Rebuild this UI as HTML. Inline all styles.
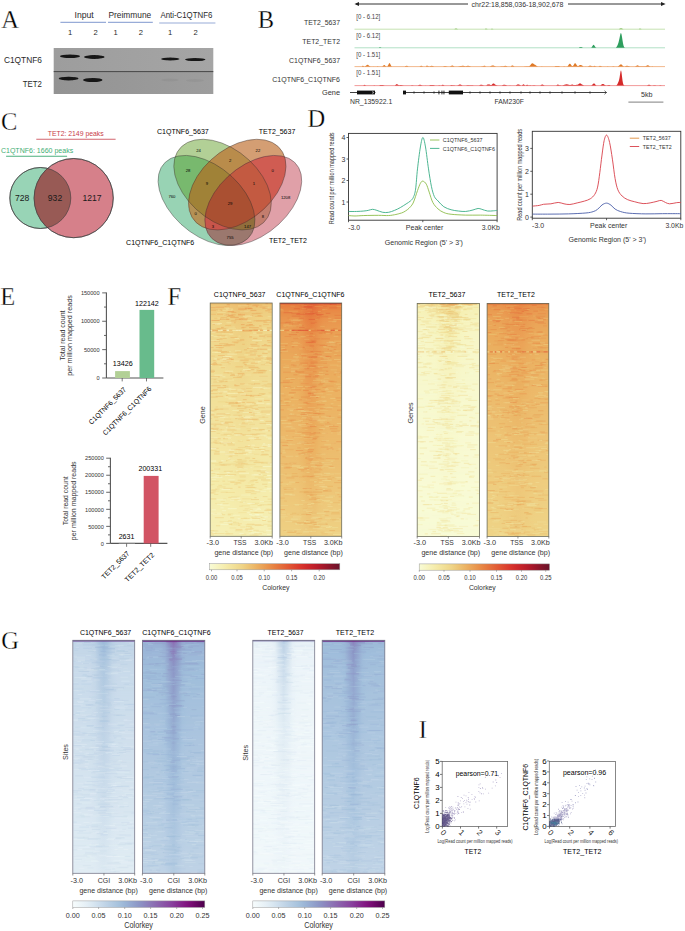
<!DOCTYPE html>
<html><head><meta charset="utf-8"><title>Figure</title>
<style>html,body{margin:0;padding:0;background:#fff;}svg{display:block;}</style>
</head><body>
<svg width="685" height="931" viewBox="0 0 685 931" font-family="Liberation Sans, sans-serif">
<defs>
<filter id="bl" x="-20%" y="-50%" width="140%" height="200%"><feGaussianBlur stdDeviation="0.6"/></filter>
<linearGradient id="blotT" x1="0" y1="0" x2="1" y2="0"><stop offset="0" stop-color="#9d9d9d"/><stop offset="0.5" stop-color="#a1a1a1"/><stop offset="1" stop-color="#a5a5a5"/></linearGradient>
<linearGradient id="blotB" x1="0" y1="0" x2="1" y2="0"><stop offset="0" stop-color="#939393"/><stop offset="0.5" stop-color="#989898"/><stop offset="1" stop-color="#9d9d9d"/></linearGradient>
<clipPath id="cg"><circle cx="40.3" cy="198" r="30.5"/></clipPath>
<clipPath id="vc1"><ellipse cx="0" cy="0" rx="58.2" ry="36.1" transform="translate(206.5 200.45) scale(1 0.93) rotate(45)"/></clipPath>
<clipPath id="vc2"><ellipse cx="0" cy="0" rx="58.2" ry="36.1" transform="translate(206.5 200.45) scale(1 0.93) rotate(45)"/></clipPath>
<clipPath id="vc3"><ellipse cx="0" cy="0" rx="58.2" ry="36.1" transform="translate(206.5 200.45) scale(1 0.93) rotate(45)"/></clipPath>
<clipPath id="vc4"><ellipse cx="0" cy="0" rx="57.9" ry="37.4" transform="translate(222.55 184.6) scale(1 0.93) rotate(45)"/></clipPath>
<clipPath id="vc5"><ellipse cx="0" cy="0" rx="57.9" ry="37.4" transform="translate(222.55 184.6) scale(1 0.93) rotate(45)"/></clipPath>
<clipPath id="vc6"><ellipse cx="0" cy="0" rx="57.9" ry="37.4" transform="translate(237.25 184.6) scale(1 0.93) rotate(-45)"/></clipPath>
<clipPath id="vc7"><ellipse cx="0" cy="0" rx="58.2" ry="36.1" transform="translate(206.5 200.45) scale(1 0.93) rotate(45)"/></clipPath>
<clipPath id="vc8" clip-path="url(#vc7)"><ellipse cx="0" cy="0" rx="57.9" ry="37.4" transform="translate(222.55 184.6) scale(1 0.93) rotate(45)"/></clipPath>
<clipPath id="vc9"><ellipse cx="0" cy="0" rx="58.2" ry="36.1" transform="translate(206.5 200.45) scale(1 0.93) rotate(45)"/></clipPath>
<clipPath id="vc10" clip-path="url(#vc9)"><ellipse cx="0" cy="0" rx="57.9" ry="37.4" transform="translate(222.55 184.6) scale(1 0.93) rotate(45)"/></clipPath>
<clipPath id="vc11"><ellipse cx="0" cy="0" rx="58.2" ry="36.1" transform="translate(206.5 200.45) scale(1 0.93) rotate(45)"/></clipPath>
<clipPath id="vc12" clip-path="url(#vc11)"><ellipse cx="0" cy="0" rx="57.9" ry="37.4" transform="translate(237.25 184.6) scale(1 0.93) rotate(-45)"/></clipPath>
<clipPath id="vc13"><ellipse cx="0" cy="0" rx="57.9" ry="37.4" transform="translate(222.55 184.6) scale(1 0.93) rotate(45)"/></clipPath>
<clipPath id="vc14" clip-path="url(#vc13)"><ellipse cx="0" cy="0" rx="57.9" ry="37.4" transform="translate(237.25 184.6) scale(1 0.93) rotate(-45)"/></clipPath>
<clipPath id="vc15"><ellipse cx="0" cy="0" rx="58.2" ry="36.1" transform="translate(206.5 200.45) scale(1 0.93) rotate(45)"/></clipPath>
<clipPath id="vc16" clip-path="url(#vc15)"><ellipse cx="0" cy="0" rx="57.9" ry="37.4" transform="translate(222.55 184.6) scale(1 0.93) rotate(45)"/></clipPath>
<clipPath id="vc17" clip-path="url(#vc16)"><ellipse cx="0" cy="0" rx="57.9" ry="37.4" transform="translate(237.25 184.6) scale(1 0.93) rotate(-45)"/></clipPath>
<linearGradient id="h1_0" x1="0" y1="0" x2="1" y2="0"><stop offset="0" stop-color="#ecb869"/><stop offset="0.07" stop-color="#ecb869"/><stop offset="0.14" stop-color="#ecb869"/><stop offset="0.21" stop-color="#ecb768"/><stop offset="0.29" stop-color="#ecb566"/><stop offset="0.36" stop-color="#ebb363"/><stop offset="0.43" stop-color="#ebb060"/><stop offset="0.5" stop-color="#ebaf5f"/><stop offset="0.57" stop-color="#ebb060"/><stop offset="0.64" stop-color="#ebb363"/><stop offset="0.71" stop-color="#ecb566"/><stop offset="0.79" stop-color="#ecb768"/><stop offset="0.86" stop-color="#ecb869"/><stop offset="0.93" stop-color="#ecb869"/><stop offset="1" stop-color="#ecb869"/></linearGradient>
<linearGradient id="h1_1" x1="0" y1="0" x2="1" y2="0"><stop offset="0" stop-color="#eec87a"/><stop offset="0.07" stop-color="#eec87a"/><stop offset="0.14" stop-color="#eec779"/><stop offset="0.21" stop-color="#eec778"/><stop offset="0.29" stop-color="#edc577"/><stop offset="0.36" stop-color="#edc274"/><stop offset="0.43" stop-color="#edc071"/><stop offset="0.5" stop-color="#edbe70"/><stop offset="0.57" stop-color="#edc071"/><stop offset="0.64" stop-color="#edc274"/><stop offset="0.71" stop-color="#edc577"/><stop offset="0.79" stop-color="#eec778"/><stop offset="0.86" stop-color="#eec779"/><stop offset="0.93" stop-color="#eec87a"/><stop offset="1" stop-color="#eec87a"/></linearGradient>
<linearGradient id="h1_2" x1="0" y1="0" x2="1" y2="0"><stop offset="0" stop-color="#eecc7f"/><stop offset="0.07" stop-color="#eecc7f"/><stop offset="0.14" stop-color="#eecc7e"/><stop offset="0.21" stop-color="#eecb7d"/><stop offset="0.29" stop-color="#eec97c"/><stop offset="0.36" stop-color="#eec779"/><stop offset="0.43" stop-color="#edc476"/><stop offset="0.5" stop-color="#edc375"/><stop offset="0.57" stop-color="#edc476"/><stop offset="0.64" stop-color="#eec779"/><stop offset="0.71" stop-color="#eec97c"/><stop offset="0.79" stop-color="#eecb7d"/><stop offset="0.86" stop-color="#eecc7e"/><stop offset="0.93" stop-color="#eecc7f"/><stop offset="1" stop-color="#eecc7f"/></linearGradient>
<linearGradient id="h1_3" x1="0" y1="0" x2="1" y2="0"><stop offset="0" stop-color="#efd285"/><stop offset="0.07" stop-color="#efd285"/><stop offset="0.14" stop-color="#efd184"/><stop offset="0.21" stop-color="#efd183"/><stop offset="0.29" stop-color="#eecf82"/><stop offset="0.36" stop-color="#eecd7f"/><stop offset="0.43" stop-color="#eeca7c"/><stop offset="0.5" stop-color="#eec97b"/><stop offset="0.57" stop-color="#eeca7c"/><stop offset="0.64" stop-color="#eecd7f"/><stop offset="0.71" stop-color="#eecf82"/><stop offset="0.79" stop-color="#efd183"/><stop offset="0.86" stop-color="#efd184"/><stop offset="0.93" stop-color="#efd285"/><stop offset="1" stop-color="#efd285"/></linearGradient>
<linearGradient id="h1_4" x1="0" y1="0" x2="1" y2="0"><stop offset="0" stop-color="#f0d68a"/><stop offset="0.07" stop-color="#efd68a"/><stop offset="0.14" stop-color="#efd68a"/><stop offset="0.21" stop-color="#efd589"/><stop offset="0.29" stop-color="#efd488"/><stop offset="0.36" stop-color="#efd285"/><stop offset="0.43" stop-color="#efd083"/><stop offset="0.5" stop-color="#eecf81"/><stop offset="0.57" stop-color="#efd083"/><stop offset="0.64" stop-color="#efd285"/><stop offset="0.71" stop-color="#efd488"/><stop offset="0.79" stop-color="#efd589"/><stop offset="0.86" stop-color="#efd68a"/><stop offset="0.93" stop-color="#efd68a"/><stop offset="1" stop-color="#f0d68a"/></linearGradient>
<linearGradient id="h1_5" x1="0" y1="0" x2="1" y2="0"><stop offset="0" stop-color="#f0da90"/><stop offset="0.07" stop-color="#f0da90"/><stop offset="0.14" stop-color="#f0da90"/><stop offset="0.21" stop-color="#f0d98f"/><stop offset="0.29" stop-color="#f0d88e"/><stop offset="0.36" stop-color="#f0d78c"/><stop offset="0.43" stop-color="#efd689"/><stop offset="0.5" stop-color="#efd589"/><stop offset="0.57" stop-color="#efd689"/><stop offset="0.64" stop-color="#f0d78c"/><stop offset="0.71" stop-color="#f0d88e"/><stop offset="0.79" stop-color="#f0d98f"/><stop offset="0.86" stop-color="#f0da90"/><stop offset="0.93" stop-color="#f0da90"/><stop offset="1" stop-color="#f0da90"/></linearGradient>
<linearGradient id="h1_6" x1="0" y1="0" x2="1" y2="0"><stop offset="0" stop-color="#f1de96"/><stop offset="0.07" stop-color="#f1de96"/><stop offset="0.14" stop-color="#f1de96"/><stop offset="0.21" stop-color="#f1de95"/><stop offset="0.29" stop-color="#f1dd94"/><stop offset="0.36" stop-color="#f1dc92"/><stop offset="0.43" stop-color="#f1da91"/><stop offset="0.5" stop-color="#f0da90"/><stop offset="0.57" stop-color="#f1da91"/><stop offset="0.64" stop-color="#f1dc92"/><stop offset="0.71" stop-color="#f1dd94"/><stop offset="0.79" stop-color="#f1de95"/><stop offset="0.86" stop-color="#f1de96"/><stop offset="0.93" stop-color="#f1de96"/><stop offset="1" stop-color="#f1de96"/></linearGradient>
<linearGradient id="h1_7" x1="0" y1="0" x2="1" y2="0"><stop offset="0" stop-color="#f3e49f"/><stop offset="0.07" stop-color="#f3e49f"/><stop offset="0.14" stop-color="#f3e49f"/><stop offset="0.21" stop-color="#f3e49f"/><stop offset="0.29" stop-color="#f3e39e"/><stop offset="0.36" stop-color="#f2e29c"/><stop offset="0.43" stop-color="#f2e19a"/><stop offset="0.5" stop-color="#f2e19a"/><stop offset="0.57" stop-color="#f2e19a"/><stop offset="0.64" stop-color="#f2e29c"/><stop offset="0.71" stop-color="#f3e39e"/><stop offset="0.79" stop-color="#f3e49f"/><stop offset="0.86" stop-color="#f3e49f"/><stop offset="0.93" stop-color="#f3e49f"/><stop offset="1" stop-color="#f3e49f"/></linearGradient>
<linearGradient id="h1_8" x1="0" y1="0" x2="1" y2="0"><stop offset="0" stop-color="#f4eba9"/><stop offset="0.07" stop-color="#f4eba9"/><stop offset="0.14" stop-color="#f4eba9"/><stop offset="0.21" stop-color="#f4eaa8"/><stop offset="0.29" stop-color="#f4eaa7"/><stop offset="0.36" stop-color="#f4e9a6"/><stop offset="0.43" stop-color="#f4e8a5"/><stop offset="0.5" stop-color="#f4e8a4"/><stop offset="0.57" stop-color="#f4e8a5"/><stop offset="0.64" stop-color="#f4e9a6"/><stop offset="0.71" stop-color="#f4eaa7"/><stop offset="0.79" stop-color="#f4eaa8"/><stop offset="0.86" stop-color="#f4eba9"/><stop offset="0.93" stop-color="#f4eba9"/><stop offset="1" stop-color="#f4eba9"/></linearGradient>
<linearGradient id="h1_9" x1="0" y1="0" x2="1" y2="0"><stop offset="0" stop-color="#f6f0b6"/><stop offset="0.07" stop-color="#f6f0b6"/><stop offset="0.14" stop-color="#f6f0b6"/><stop offset="0.21" stop-color="#f6f0b6"/><stop offset="0.29" stop-color="#f6f0b5"/><stop offset="0.36" stop-color="#f6f0b4"/><stop offset="0.43" stop-color="#f6efb3"/><stop offset="0.5" stop-color="#f6efb3"/><stop offset="0.57" stop-color="#f6efb3"/><stop offset="0.64" stop-color="#f6f0b4"/><stop offset="0.71" stop-color="#f6f0b5"/><stop offset="0.79" stop-color="#f6f0b6"/><stop offset="0.86" stop-color="#f6f0b6"/><stop offset="0.93" stop-color="#f6f0b6"/><stop offset="1" stop-color="#f6f0b6"/></linearGradient>
<linearGradient id="m1_8" gradientUnits="userSpaceOnUse" x1="0" y1="477.97" x2="0" y2="536.3"><stop offset="0" stop-color="#fff"/><stop offset="1" stop-color="#000"/></linearGradient><mask id="k1_8" maskUnits="userSpaceOnUse" x="210.2" y="303" width="62" height="233.3"><rect x="210.2" y="303" width="62" height="233.3" fill="url(#m1_8)"/></mask>
<linearGradient id="m1_7" gradientUnits="userSpaceOnUse" x1="0" y1="431.31" x2="0" y2="477.97"><stop offset="0" stop-color="#fff"/><stop offset="1" stop-color="#000"/></linearGradient><mask id="k1_7" maskUnits="userSpaceOnUse" x="210.2" y="303" width="62" height="233.3"><rect x="210.2" y="303" width="62" height="174.97" fill="url(#m1_7)"/></mask>
<linearGradient id="m1_6" gradientUnits="userSpaceOnUse" x1="0" y1="386.99" x2="0" y2="431.31"><stop offset="0" stop-color="#fff"/><stop offset="1" stop-color="#000"/></linearGradient><mask id="k1_6" maskUnits="userSpaceOnUse" x="210.2" y="303" width="62" height="233.3"><rect x="210.2" y="303" width="62" height="128.31" fill="url(#m1_6)"/></mask>
<linearGradient id="m1_5" gradientUnits="userSpaceOnUse" x1="0" y1="354.33" x2="0" y2="386.99"><stop offset="0" stop-color="#fff"/><stop offset="1" stop-color="#000"/></linearGradient><mask id="k1_5" maskUnits="userSpaceOnUse" x="210.2" y="303" width="62" height="233.3"><rect x="210.2" y="303" width="62" height="83.99" fill="url(#m1_5)"/></mask>
<linearGradient id="m1_4" gradientUnits="userSpaceOnUse" x1="0" y1="331" x2="0" y2="354.33"><stop offset="0" stop-color="#fff"/><stop offset="1" stop-color="#000"/></linearGradient><mask id="k1_4" maskUnits="userSpaceOnUse" x="210.2" y="303" width="62" height="233.3"><rect x="210.2" y="303" width="62" height="51.33" fill="url(#m1_4)"/></mask>
<linearGradient id="m1_3" gradientUnits="userSpaceOnUse" x1="0" y1="317" x2="0" y2="331"><stop offset="0" stop-color="#fff"/><stop offset="1" stop-color="#000"/></linearGradient><mask id="k1_3" maskUnits="userSpaceOnUse" x="210.2" y="303" width="62" height="233.3"><rect x="210.2" y="303" width="62" height="28" fill="url(#m1_3)"/></mask>
<linearGradient id="m1_2" gradientUnits="userSpaceOnUse" x1="0" y1="310" x2="0" y2="317"><stop offset="0" stop-color="#fff"/><stop offset="1" stop-color="#000"/></linearGradient><mask id="k1_2" maskUnits="userSpaceOnUse" x="210.2" y="303" width="62" height="233.3"><rect x="210.2" y="303" width="62" height="14" fill="url(#m1_2)"/></mask>
<linearGradient id="m1_1" gradientUnits="userSpaceOnUse" x1="0" y1="305.33" x2="0" y2="310"><stop offset="0" stop-color="#fff"/><stop offset="1" stop-color="#000"/></linearGradient><mask id="k1_1" maskUnits="userSpaceOnUse" x="210.2" y="303" width="62" height="233.3"><rect x="210.2" y="303" width="62" height="7" fill="url(#m1_1)"/></mask>
<linearGradient id="m1_0" gradientUnits="userSpaceOnUse" x1="0" y1="303" x2="0" y2="305.33"><stop offset="0" stop-color="#fff"/><stop offset="1" stop-color="#000"/></linearGradient><mask id="k1_0" maskUnits="userSpaceOnUse" x="210.2" y="303" width="62" height="233.3"><rect x="210.2" y="303" width="62" height="2.33" fill="url(#m1_0)"/></mask>
<linearGradient id="h2_0" x1="0" y1="0" x2="1" y2="0"><stop offset="0" stop-color="#e25a34"/><stop offset="0.07" stop-color="#e25a34"/><stop offset="0.14" stop-color="#e25a34"/><stop offset="0.21" stop-color="#e25a34"/><stop offset="0.29" stop-color="#e15733"/><stop offset="0.36" stop-color="#e05132"/><stop offset="0.43" stop-color="#dd462f"/><stop offset="0.5" stop-color="#dc402e"/><stop offset="0.57" stop-color="#dd462f"/><stop offset="0.64" stop-color="#e05132"/><stop offset="0.71" stop-color="#e15733"/><stop offset="0.79" stop-color="#e25a34"/><stop offset="0.86" stop-color="#e25a34"/><stop offset="0.93" stop-color="#e25a34"/><stop offset="1" stop-color="#e25a34"/></linearGradient>
<linearGradient id="h2_1" x1="0" y1="0" x2="1" y2="0"><stop offset="0" stop-color="#e77f41"/><stop offset="0.07" stop-color="#e77f41"/><stop offset="0.14" stop-color="#e77f41"/><stop offset="0.21" stop-color="#e77f41"/><stop offset="0.29" stop-color="#e77d40"/><stop offset="0.36" stop-color="#e6763e"/><stop offset="0.43" stop-color="#e46b3a"/><stop offset="0.5" stop-color="#e46638"/><stop offset="0.57" stop-color="#e46b3a"/><stop offset="0.64" stop-color="#e6763e"/><stop offset="0.71" stop-color="#e77d40"/><stop offset="0.79" stop-color="#e77f41"/><stop offset="0.86" stop-color="#e77f41"/><stop offset="0.93" stop-color="#e77f41"/><stop offset="1" stop-color="#e77f41"/></linearGradient>
<linearGradient id="h2_2" x1="0" y1="0" x2="1" y2="0"><stop offset="0" stop-color="#e88946"/><stop offset="0.07" stop-color="#e88946"/><stop offset="0.14" stop-color="#e88946"/><stop offset="0.21" stop-color="#e88945"/><stop offset="0.29" stop-color="#e88744"/><stop offset="0.36" stop-color="#e78042"/><stop offset="0.43" stop-color="#e6763e"/><stop offset="0.5" stop-color="#e5703c"/><stop offset="0.57" stop-color="#e6763e"/><stop offset="0.64" stop-color="#e78042"/><stop offset="0.71" stop-color="#e88744"/><stop offset="0.79" stop-color="#e88945"/><stop offset="0.86" stop-color="#e88946"/><stop offset="0.93" stop-color="#e88946"/><stop offset="1" stop-color="#e88946"/></linearGradient>
<linearGradient id="h2_3" x1="0" y1="0" x2="1" y2="0"><stop offset="0" stop-color="#e9934c"/><stop offset="0.07" stop-color="#e9934c"/><stop offset="0.14" stop-color="#e9934c"/><stop offset="0.21" stop-color="#e9934c"/><stop offset="0.29" stop-color="#e9914b"/><stop offset="0.36" stop-color="#e88b47"/><stop offset="0.43" stop-color="#e78142"/><stop offset="0.5" stop-color="#e67c40"/><stop offset="0.57" stop-color="#e78142"/><stop offset="0.64" stop-color="#e88b47"/><stop offset="0.71" stop-color="#e9914b"/><stop offset="0.79" stop-color="#e9934c"/><stop offset="0.86" stop-color="#e9934c"/><stop offset="0.93" stop-color="#e9934c"/><stop offset="1" stop-color="#e9934c"/></linearGradient>
<linearGradient id="h2_4" x1="0" y1="0" x2="1" y2="0"><stop offset="0" stop-color="#ea9f54"/><stop offset="0.07" stop-color="#ea9f54"/><stop offset="0.14" stop-color="#ea9f54"/><stop offset="0.21" stop-color="#ea9e54"/><stop offset="0.29" stop-color="#ea9c52"/><stop offset="0.36" stop-color="#e9974f"/><stop offset="0.43" stop-color="#e98e49"/><stop offset="0.5" stop-color="#e88945"/><stop offset="0.57" stop-color="#e98e49"/><stop offset="0.64" stop-color="#e9974f"/><stop offset="0.71" stop-color="#ea9c52"/><stop offset="0.79" stop-color="#ea9e54"/><stop offset="0.86" stop-color="#ea9f54"/><stop offset="0.93" stop-color="#ea9f54"/><stop offset="1" stop-color="#ea9f54"/></linearGradient>
<linearGradient id="h2_5" x1="0" y1="0" x2="1" y2="0"><stop offset="0" stop-color="#eaa85a"/><stop offset="0.07" stop-color="#eaa85a"/><stop offset="0.14" stop-color="#eaa85a"/><stop offset="0.21" stop-color="#eaa75a"/><stop offset="0.29" stop-color="#eaa659"/><stop offset="0.36" stop-color="#eaa055"/><stop offset="0.43" stop-color="#e9984f"/><stop offset="0.5" stop-color="#e9934c"/><stop offset="0.57" stop-color="#e9984f"/><stop offset="0.64" stop-color="#eaa055"/><stop offset="0.71" stop-color="#eaa659"/><stop offset="0.79" stop-color="#eaa75a"/><stop offset="0.86" stop-color="#eaa85a"/><stop offset="0.93" stop-color="#eaa85a"/><stop offset="1" stop-color="#eaa85a"/></linearGradient>
<linearGradient id="h2_6" x1="0" y1="0" x2="1" y2="0"><stop offset="0" stop-color="#ebb161"/><stop offset="0.07" stop-color="#ebb161"/><stop offset="0.14" stop-color="#ebb161"/><stop offset="0.21" stop-color="#ebb161"/><stop offset="0.29" stop-color="#ebb060"/><stop offset="0.36" stop-color="#ebab5c"/><stop offset="0.43" stop-color="#eaa357"/><stop offset="0.5" stop-color="#ea9f54"/><stop offset="0.57" stop-color="#eaa357"/><stop offset="0.64" stop-color="#ebab5c"/><stop offset="0.71" stop-color="#ebb060"/><stop offset="0.79" stop-color="#ebb161"/><stop offset="0.86" stop-color="#ebb161"/><stop offset="0.93" stop-color="#ebb161"/><stop offset="1" stop-color="#ebb161"/></linearGradient>
<linearGradient id="h2_7" x1="0" y1="0" x2="1" y2="0"><stop offset="0" stop-color="#ecb869"/><stop offset="0.07" stop-color="#ecb869"/><stop offset="0.14" stop-color="#ecb869"/><stop offset="0.21" stop-color="#ecb869"/><stop offset="0.29" stop-color="#ecb768"/><stop offset="0.36" stop-color="#ebb464"/><stop offset="0.43" stop-color="#ebae5e"/><stop offset="0.5" stop-color="#ebaa5c"/><stop offset="0.57" stop-color="#ebae5e"/><stop offset="0.64" stop-color="#ebb464"/><stop offset="0.71" stop-color="#ecb768"/><stop offset="0.79" stop-color="#ecb869"/><stop offset="0.86" stop-color="#ecb869"/><stop offset="0.93" stop-color="#ecb869"/><stop offset="1" stop-color="#ecb869"/></linearGradient>
<linearGradient id="h2_8" x1="0" y1="0" x2="1" y2="0"><stop offset="0" stop-color="#edc274"/><stop offset="0.07" stop-color="#edc274"/><stop offset="0.14" stop-color="#edc274"/><stop offset="0.21" stop-color="#edc273"/><stop offset="0.29" stop-color="#edc173"/><stop offset="0.36" stop-color="#edbf70"/><stop offset="0.43" stop-color="#ecba6b"/><stop offset="0.5" stop-color="#ecb869"/><stop offset="0.57" stop-color="#ecba6b"/><stop offset="0.64" stop-color="#edbf70"/><stop offset="0.71" stop-color="#edc173"/><stop offset="0.79" stop-color="#edc273"/><stop offset="0.86" stop-color="#edc274"/><stop offset="0.93" stop-color="#edc274"/><stop offset="1" stop-color="#edc274"/></linearGradient>
<linearGradient id="h2_9" x1="0" y1="0" x2="1" y2="0"><stop offset="0" stop-color="#efd184"/><stop offset="0.07" stop-color="#efd184"/><stop offset="0.14" stop-color="#efd184"/><stop offset="0.21" stop-color="#efd184"/><stop offset="0.29" stop-color="#efd083"/><stop offset="0.36" stop-color="#eecf81"/><stop offset="0.43" stop-color="#eecc7f"/><stop offset="0.5" stop-color="#eecb7d"/><stop offset="0.57" stop-color="#eecc7f"/><stop offset="0.64" stop-color="#eecf81"/><stop offset="0.71" stop-color="#efd083"/><stop offset="0.79" stop-color="#efd184"/><stop offset="0.86" stop-color="#efd184"/><stop offset="0.93" stop-color="#efd184"/><stop offset="1" stop-color="#efd184"/></linearGradient>
<linearGradient id="m2_8" gradientUnits="userSpaceOnUse" x1="0" y1="477.97" x2="0" y2="536.3"><stop offset="0" stop-color="#fff"/><stop offset="1" stop-color="#000"/></linearGradient><mask id="k2_8" maskUnits="userSpaceOnUse" x="279.9" y="303" width="61.8" height="233.3"><rect x="279.9" y="303" width="61.8" height="233.3" fill="url(#m2_8)"/></mask>
<linearGradient id="m2_7" gradientUnits="userSpaceOnUse" x1="0" y1="431.31" x2="0" y2="477.97"><stop offset="0" stop-color="#fff"/><stop offset="1" stop-color="#000"/></linearGradient><mask id="k2_7" maskUnits="userSpaceOnUse" x="279.9" y="303" width="61.8" height="233.3"><rect x="279.9" y="303" width="61.8" height="174.97" fill="url(#m2_7)"/></mask>
<linearGradient id="m2_6" gradientUnits="userSpaceOnUse" x1="0" y1="386.99" x2="0" y2="431.31"><stop offset="0" stop-color="#fff"/><stop offset="1" stop-color="#000"/></linearGradient><mask id="k2_6" maskUnits="userSpaceOnUse" x="279.9" y="303" width="61.8" height="233.3"><rect x="279.9" y="303" width="61.8" height="128.31" fill="url(#m2_6)"/></mask>
<linearGradient id="m2_5" gradientUnits="userSpaceOnUse" x1="0" y1="354.33" x2="0" y2="386.99"><stop offset="0" stop-color="#fff"/><stop offset="1" stop-color="#000"/></linearGradient><mask id="k2_5" maskUnits="userSpaceOnUse" x="279.9" y="303" width="61.8" height="233.3"><rect x="279.9" y="303" width="61.8" height="83.99" fill="url(#m2_5)"/></mask>
<linearGradient id="m2_4" gradientUnits="userSpaceOnUse" x1="0" y1="331" x2="0" y2="354.33"><stop offset="0" stop-color="#fff"/><stop offset="1" stop-color="#000"/></linearGradient><mask id="k2_4" maskUnits="userSpaceOnUse" x="279.9" y="303" width="61.8" height="233.3"><rect x="279.9" y="303" width="61.8" height="51.33" fill="url(#m2_4)"/></mask>
<linearGradient id="m2_3" gradientUnits="userSpaceOnUse" x1="0" y1="317" x2="0" y2="331"><stop offset="0" stop-color="#fff"/><stop offset="1" stop-color="#000"/></linearGradient><mask id="k2_3" maskUnits="userSpaceOnUse" x="279.9" y="303" width="61.8" height="233.3"><rect x="279.9" y="303" width="61.8" height="28" fill="url(#m2_3)"/></mask>
<linearGradient id="m2_2" gradientUnits="userSpaceOnUse" x1="0" y1="310" x2="0" y2="317"><stop offset="0" stop-color="#fff"/><stop offset="1" stop-color="#000"/></linearGradient><mask id="k2_2" maskUnits="userSpaceOnUse" x="279.9" y="303" width="61.8" height="233.3"><rect x="279.9" y="303" width="61.8" height="14" fill="url(#m2_2)"/></mask>
<linearGradient id="m2_1" gradientUnits="userSpaceOnUse" x1="0" y1="305.33" x2="0" y2="310"><stop offset="0" stop-color="#fff"/><stop offset="1" stop-color="#000"/></linearGradient><mask id="k2_1" maskUnits="userSpaceOnUse" x="279.9" y="303" width="61.8" height="233.3"><rect x="279.9" y="303" width="61.8" height="7" fill="url(#m2_1)"/></mask>
<linearGradient id="m2_0" gradientUnits="userSpaceOnUse" x1="0" y1="303" x2="0" y2="305.33"><stop offset="0" stop-color="#fff"/><stop offset="1" stop-color="#000"/></linearGradient><mask id="k2_0" maskUnits="userSpaceOnUse" x="279.9" y="303" width="61.8" height="233.3"><rect x="279.9" y="303" width="61.8" height="2.33" fill="url(#m2_0)"/></mask>
<linearGradient id="h3_0" x1="0" y1="0" x2="1" y2="0"><stop offset="0" stop-color="#f1de95"/><stop offset="0.07" stop-color="#f1de95"/><stop offset="0.14" stop-color="#f1dd95"/><stop offset="0.21" stop-color="#f1dc93"/><stop offset="0.29" stop-color="#f0da8f"/><stop offset="0.36" stop-color="#efd589"/><stop offset="0.43" stop-color="#eece81"/><stop offset="0.5" stop-color="#eecb7d"/><stop offset="0.57" stop-color="#eece81"/><stop offset="0.64" stop-color="#efd589"/><stop offset="0.71" stop-color="#f0da8f"/><stop offset="0.79" stop-color="#f1dc93"/><stop offset="0.86" stop-color="#f1dd95"/><stop offset="0.93" stop-color="#f1de95"/><stop offset="1" stop-color="#f1de95"/></linearGradient>
<linearGradient id="h3_1" x1="0" y1="0" x2="1" y2="0"><stop offset="0" stop-color="#f5efb3"/><stop offset="0.07" stop-color="#f5efb3"/><stop offset="0.14" stop-color="#f5efb2"/><stop offset="0.21" stop-color="#f5efb1"/><stop offset="0.29" stop-color="#f5edac"/><stop offset="0.36" stop-color="#f4e9a6"/><stop offset="0.43" stop-color="#f3e49f"/><stop offset="0.5" stop-color="#f2e29b"/><stop offset="0.57" stop-color="#f3e49f"/><stop offset="0.64" stop-color="#f4e9a6"/><stop offset="0.71" stop-color="#f5edac"/><stop offset="0.79" stop-color="#f5efb1"/><stop offset="0.86" stop-color="#f5efb2"/><stop offset="0.93" stop-color="#f5efb3"/><stop offset="1" stop-color="#f5efb3"/></linearGradient>
<linearGradient id="h3_2" x1="0" y1="0" x2="1" y2="0"><stop offset="0" stop-color="#f6f1b7"/><stop offset="0.07" stop-color="#f6f1b7"/><stop offset="0.14" stop-color="#f6f0b6"/><stop offset="0.21" stop-color="#f6f0b5"/><stop offset="0.29" stop-color="#f5eeb0"/><stop offset="0.36" stop-color="#f5eba9"/><stop offset="0.43" stop-color="#f3e7a3"/><stop offset="0.5" stop-color="#f3e5a0"/><stop offset="0.57" stop-color="#f3e7a3"/><stop offset="0.64" stop-color="#f5eba9"/><stop offset="0.71" stop-color="#f5eeb0"/><stop offset="0.79" stop-color="#f6f0b5"/><stop offset="0.86" stop-color="#f6f0b6"/><stop offset="0.93" stop-color="#f6f1b7"/><stop offset="1" stop-color="#f6f1b7"/></linearGradient>
<linearGradient id="h3_3" x1="0" y1="0" x2="1" y2="0"><stop offset="0" stop-color="#f6f3bd"/><stop offset="0.07" stop-color="#f6f3bd"/><stop offset="0.14" stop-color="#f6f2bc"/><stop offset="0.21" stop-color="#f6f2bb"/><stop offset="0.29" stop-color="#f6f1b7"/><stop offset="0.36" stop-color="#f5eeb0"/><stop offset="0.43" stop-color="#f5eba9"/><stop offset="0.5" stop-color="#f4e9a6"/><stop offset="0.57" stop-color="#f5eba9"/><stop offset="0.64" stop-color="#f5eeb0"/><stop offset="0.71" stop-color="#f6f1b7"/><stop offset="0.79" stop-color="#f6f2bb"/><stop offset="0.86" stop-color="#f6f2bc"/><stop offset="0.93" stop-color="#f6f3bd"/><stop offset="1" stop-color="#f6f3bd"/></linearGradient>
<linearGradient id="h3_4" x1="0" y1="0" x2="1" y2="0"><stop offset="0" stop-color="#f7f5c5"/><stop offset="0.07" stop-color="#f7f5c5"/><stop offset="0.14" stop-color="#f7f5c5"/><stop offset="0.21" stop-color="#f7f5c4"/><stop offset="0.29" stop-color="#f6f4c0"/><stop offset="0.36" stop-color="#f6f2ba"/><stop offset="0.43" stop-color="#f6f0b4"/><stop offset="0.5" stop-color="#f5efb1"/><stop offset="0.57" stop-color="#f6f0b4"/><stop offset="0.64" stop-color="#f6f2ba"/><stop offset="0.71" stop-color="#f6f4c0"/><stop offset="0.79" stop-color="#f7f5c4"/><stop offset="0.86" stop-color="#f7f5c5"/><stop offset="0.93" stop-color="#f7f5c5"/><stop offset="1" stop-color="#f7f5c5"/></linearGradient>
<linearGradient id="h3_5" x1="0" y1="0" x2="1" y2="0"><stop offset="0" stop-color="#f7f7ca"/><stop offset="0.07" stop-color="#f7f7ca"/><stop offset="0.14" stop-color="#f7f7c9"/><stop offset="0.21" stop-color="#f7f6c8"/><stop offset="0.29" stop-color="#f7f6c6"/><stop offset="0.36" stop-color="#f7f4c1"/><stop offset="0.43" stop-color="#f6f2bc"/><stop offset="0.5" stop-color="#f6f2ba"/><stop offset="0.57" stop-color="#f6f2bc"/><stop offset="0.64" stop-color="#f7f4c1"/><stop offset="0.71" stop-color="#f7f6c6"/><stop offset="0.79" stop-color="#f7f6c8"/><stop offset="0.86" stop-color="#f7f7c9"/><stop offset="0.93" stop-color="#f7f7ca"/><stop offset="1" stop-color="#f7f7ca"/></linearGradient>
<linearGradient id="h3_6" x1="0" y1="0" x2="1" y2="0"><stop offset="0" stop-color="#f7f8ce"/><stop offset="0.07" stop-color="#f7f8ce"/><stop offset="0.14" stop-color="#f7f8ce"/><stop offset="0.21" stop-color="#f7f8cd"/><stop offset="0.29" stop-color="#f7f8cc"/><stop offset="0.36" stop-color="#f7f6c8"/><stop offset="0.43" stop-color="#f7f5c5"/><stop offset="0.5" stop-color="#f7f5c3"/><stop offset="0.57" stop-color="#f7f5c5"/><stop offset="0.64" stop-color="#f7f6c8"/><stop offset="0.71" stop-color="#f7f8cc"/><stop offset="0.79" stop-color="#f7f8cd"/><stop offset="0.86" stop-color="#f7f8ce"/><stop offset="0.93" stop-color="#f7f8ce"/><stop offset="1" stop-color="#f7f8ce"/></linearGradient>
<linearGradient id="h3_7" x1="0" y1="0" x2="1" y2="0"><stop offset="0" stop-color="#f8fad2"/><stop offset="0.07" stop-color="#f8fad2"/><stop offset="0.14" stop-color="#f8f9d1"/><stop offset="0.21" stop-color="#f8f9d1"/><stop offset="0.29" stop-color="#f8f9d0"/><stop offset="0.36" stop-color="#f7f8ce"/><stop offset="0.43" stop-color="#f7f8cc"/><stop offset="0.5" stop-color="#f7f7cb"/><stop offset="0.57" stop-color="#f7f8cc"/><stop offset="0.64" stop-color="#f7f8ce"/><stop offset="0.71" stop-color="#f8f9d0"/><stop offset="0.79" stop-color="#f8f9d1"/><stop offset="0.86" stop-color="#f8f9d1"/><stop offset="0.93" stop-color="#f8fad2"/><stop offset="1" stop-color="#f8fad2"/></linearGradient>
<linearGradient id="h3_8" x1="0" y1="0" x2="1" y2="0"><stop offset="0" stop-color="#f8fad4"/><stop offset="0.07" stop-color="#f8fad4"/><stop offset="0.14" stop-color="#f8fad4"/><stop offset="0.21" stop-color="#f8fad4"/><stop offset="0.29" stop-color="#f8fad3"/><stop offset="0.36" stop-color="#f8fad2"/><stop offset="0.43" stop-color="#f8f9d1"/><stop offset="0.5" stop-color="#f8f9d1"/><stop offset="0.57" stop-color="#f8f9d1"/><stop offset="0.64" stop-color="#f8fad2"/><stop offset="0.71" stop-color="#f8fad3"/><stop offset="0.79" stop-color="#f8fad4"/><stop offset="0.86" stop-color="#f8fad4"/><stop offset="0.93" stop-color="#f8fad4"/><stop offset="1" stop-color="#f8fad4"/></linearGradient>
<linearGradient id="h3_9" x1="0" y1="0" x2="1" y2="0"><stop offset="0" stop-color="#f8fbd6"/><stop offset="0.07" stop-color="#f8fbd6"/><stop offset="0.14" stop-color="#f8fbd6"/><stop offset="0.21" stop-color="#f8fbd6"/><stop offset="0.29" stop-color="#f8fbd6"/><stop offset="0.36" stop-color="#f8fbd6"/><stop offset="0.43" stop-color="#f8fbd6"/><stop offset="0.5" stop-color="#f8fbd6"/><stop offset="0.57" stop-color="#f8fbd6"/><stop offset="0.64" stop-color="#f8fbd6"/><stop offset="0.71" stop-color="#f8fbd6"/><stop offset="0.79" stop-color="#f8fbd6"/><stop offset="0.86" stop-color="#f8fbd6"/><stop offset="0.93" stop-color="#f8fbd6"/><stop offset="1" stop-color="#f8fbd6"/></linearGradient>
<linearGradient id="m3_8" gradientUnits="userSpaceOnUse" x1="0" y1="478.15" x2="0" y2="536.4"><stop offset="0" stop-color="#fff"/><stop offset="1" stop-color="#000"/></linearGradient><mask id="k3_8" maskUnits="userSpaceOnUse" x="417.2" y="303.4" width="62.3" height="233"><rect x="417.2" y="303.4" width="62.3" height="233" fill="url(#m3_8)"/></mask>
<linearGradient id="m3_7" gradientUnits="userSpaceOnUse" x1="0" y1="431.55" x2="0" y2="478.15"><stop offset="0" stop-color="#fff"/><stop offset="1" stop-color="#000"/></linearGradient><mask id="k3_7" maskUnits="userSpaceOnUse" x="417.2" y="303.4" width="62.3" height="233"><rect x="417.2" y="303.4" width="62.3" height="174.75" fill="url(#m3_7)"/></mask>
<linearGradient id="m3_6" gradientUnits="userSpaceOnUse" x1="0" y1="387.28" x2="0" y2="431.55"><stop offset="0" stop-color="#fff"/><stop offset="1" stop-color="#000"/></linearGradient><mask id="k3_6" maskUnits="userSpaceOnUse" x="417.2" y="303.4" width="62.3" height="233"><rect x="417.2" y="303.4" width="62.3" height="128.15" fill="url(#m3_6)"/></mask>
<linearGradient id="m3_5" gradientUnits="userSpaceOnUse" x1="0" y1="354.66" x2="0" y2="387.28"><stop offset="0" stop-color="#fff"/><stop offset="1" stop-color="#000"/></linearGradient><mask id="k3_5" maskUnits="userSpaceOnUse" x="417.2" y="303.4" width="62.3" height="233"><rect x="417.2" y="303.4" width="62.3" height="83.88" fill="url(#m3_5)"/></mask>
<linearGradient id="m3_4" gradientUnits="userSpaceOnUse" x1="0" y1="331.36" x2="0" y2="354.66"><stop offset="0" stop-color="#fff"/><stop offset="1" stop-color="#000"/></linearGradient><mask id="k3_4" maskUnits="userSpaceOnUse" x="417.2" y="303.4" width="62.3" height="233"><rect x="417.2" y="303.4" width="62.3" height="51.26" fill="url(#m3_4)"/></mask>
<linearGradient id="m3_3" gradientUnits="userSpaceOnUse" x1="0" y1="317.38" x2="0" y2="331.36"><stop offset="0" stop-color="#fff"/><stop offset="1" stop-color="#000"/></linearGradient><mask id="k3_3" maskUnits="userSpaceOnUse" x="417.2" y="303.4" width="62.3" height="233"><rect x="417.2" y="303.4" width="62.3" height="27.96" fill="url(#m3_3)"/></mask>
<linearGradient id="m3_2" gradientUnits="userSpaceOnUse" x1="0" y1="310.39" x2="0" y2="317.38"><stop offset="0" stop-color="#fff"/><stop offset="1" stop-color="#000"/></linearGradient><mask id="k3_2" maskUnits="userSpaceOnUse" x="417.2" y="303.4" width="62.3" height="233"><rect x="417.2" y="303.4" width="62.3" height="13.98" fill="url(#m3_2)"/></mask>
<linearGradient id="m3_1" gradientUnits="userSpaceOnUse" x1="0" y1="305.73" x2="0" y2="310.39"><stop offset="0" stop-color="#fff"/><stop offset="1" stop-color="#000"/></linearGradient><mask id="k3_1" maskUnits="userSpaceOnUse" x="417.2" y="303.4" width="62.3" height="233"><rect x="417.2" y="303.4" width="62.3" height="6.99" fill="url(#m3_1)"/></mask>
<linearGradient id="m3_0" gradientUnits="userSpaceOnUse" x1="0" y1="303.4" x2="0" y2="305.73"><stop offset="0" stop-color="#fff"/><stop offset="1" stop-color="#000"/></linearGradient><mask id="k3_0" maskUnits="userSpaceOnUse" x="417.2" y="303.4" width="62.3" height="233"><rect x="417.2" y="303.4" width="62.3" height="2.33" fill="url(#m3_0)"/></mask>
<linearGradient id="h4_0" x1="0" y1="0" x2="1" y2="0"><stop offset="0" stop-color="#e77f41"/><stop offset="0.07" stop-color="#e77f41"/><stop offset="0.14" stop-color="#e77f41"/><stop offset="0.21" stop-color="#e77e41"/><stop offset="0.29" stop-color="#e67c40"/><stop offset="0.36" stop-color="#e6773e"/><stop offset="0.43" stop-color="#e5733d"/><stop offset="0.5" stop-color="#e5703c"/><stop offset="0.57" stop-color="#e5733d"/><stop offset="0.64" stop-color="#e6773e"/><stop offset="0.71" stop-color="#e67c40"/><stop offset="0.79" stop-color="#e77e41"/><stop offset="0.86" stop-color="#e77f41"/><stop offset="0.93" stop-color="#e77f41"/><stop offset="1" stop-color="#e77f41"/></linearGradient>
<linearGradient id="h4_1" x1="0" y1="0" x2="1" y2="0"><stop offset="0" stop-color="#e9964e"/><stop offset="0.07" stop-color="#e9954e"/><stop offset="0.14" stop-color="#e9954e"/><stop offset="0.21" stop-color="#e9944d"/><stop offset="0.29" stop-color="#e9924b"/><stop offset="0.36" stop-color="#e88e48"/><stop offset="0.43" stop-color="#e88945"/><stop offset="0.5" stop-color="#e88744"/><stop offset="0.57" stop-color="#e88945"/><stop offset="0.64" stop-color="#e88e48"/><stop offset="0.71" stop-color="#e9924b"/><stop offset="0.79" stop-color="#e9944d"/><stop offset="0.86" stop-color="#e9954e"/><stop offset="0.93" stop-color="#e9954e"/><stop offset="1" stop-color="#e9964e"/></linearGradient>
<linearGradient id="h4_2" x1="0" y1="0" x2="1" y2="0"><stop offset="0" stop-color="#e99b51"/><stop offset="0.07" stop-color="#e99b51"/><stop offset="0.14" stop-color="#e99b51"/><stop offset="0.21" stop-color="#e99a51"/><stop offset="0.29" stop-color="#e9974f"/><stop offset="0.36" stop-color="#e9934c"/><stop offset="0.43" stop-color="#e98f49"/><stop offset="0.5" stop-color="#e88d48"/><stop offset="0.57" stop-color="#e98f49"/><stop offset="0.64" stop-color="#e9934c"/><stop offset="0.71" stop-color="#e9974f"/><stop offset="0.79" stop-color="#e99a51"/><stop offset="0.86" stop-color="#e99b51"/><stop offset="0.93" stop-color="#e99b51"/><stop offset="1" stop-color="#e99b51"/></linearGradient>
<linearGradient id="h4_3" x1="0" y1="0" x2="1" y2="0"><stop offset="0" stop-color="#eaa256"/><stop offset="0.07" stop-color="#eaa256"/><stop offset="0.14" stop-color="#eaa156"/><stop offset="0.21" stop-color="#eaa155"/><stop offset="0.29" stop-color="#ea9e54"/><stop offset="0.36" stop-color="#e99a51"/><stop offset="0.43" stop-color="#e9964e"/><stop offset="0.5" stop-color="#e9944d"/><stop offset="0.57" stop-color="#e9964e"/><stop offset="0.64" stop-color="#e99a51"/><stop offset="0.71" stop-color="#ea9e54"/><stop offset="0.79" stop-color="#eaa155"/><stop offset="0.86" stop-color="#eaa156"/><stop offset="0.93" stop-color="#eaa256"/><stop offset="1" stop-color="#eaa256"/></linearGradient>
<linearGradient id="h4_4" x1="0" y1="0" x2="1" y2="0"><stop offset="0" stop-color="#ebaa5b"/><stop offset="0.07" stop-color="#ebaa5b"/><stop offset="0.14" stop-color="#eba95b"/><stop offset="0.21" stop-color="#eba95b"/><stop offset="0.29" stop-color="#eaa659"/><stop offset="0.36" stop-color="#eaa357"/><stop offset="0.43" stop-color="#ea9e54"/><stop offset="0.5" stop-color="#ea9d53"/><stop offset="0.57" stop-color="#ea9e54"/><stop offset="0.64" stop-color="#eaa357"/><stop offset="0.71" stop-color="#eaa659"/><stop offset="0.79" stop-color="#eba95b"/><stop offset="0.86" stop-color="#eba95b"/><stop offset="0.93" stop-color="#ebaa5b"/><stop offset="1" stop-color="#ebaa5b"/></linearGradient>
<linearGradient id="h4_5" x1="0" y1="0" x2="1" y2="0"><stop offset="0" stop-color="#ebb262"/><stop offset="0.07" stop-color="#ebb262"/><stop offset="0.14" stop-color="#ebb262"/><stop offset="0.21" stop-color="#ebb161"/><stop offset="0.29" stop-color="#ebaf60"/><stop offset="0.36" stop-color="#ebac5d"/><stop offset="0.43" stop-color="#eba85b"/><stop offset="0.5" stop-color="#eaa759"/><stop offset="0.57" stop-color="#eba85b"/><stop offset="0.64" stop-color="#ebac5d"/><stop offset="0.71" stop-color="#ebaf60"/><stop offset="0.79" stop-color="#ebb161"/><stop offset="0.86" stop-color="#ebb262"/><stop offset="0.93" stop-color="#ebb262"/><stop offset="1" stop-color="#ebb262"/></linearGradient>
<linearGradient id="h4_6" x1="0" y1="0" x2="1" y2="0"><stop offset="0" stop-color="#ecb96a"/><stop offset="0.07" stop-color="#ecb96a"/><stop offset="0.14" stop-color="#ecb96a"/><stop offset="0.21" stop-color="#ecb869"/><stop offset="0.29" stop-color="#ecb768"/><stop offset="0.36" stop-color="#ecb465"/><stop offset="0.43" stop-color="#ebb262"/><stop offset="0.5" stop-color="#ebb061"/><stop offset="0.57" stop-color="#ebb262"/><stop offset="0.64" stop-color="#ecb465"/><stop offset="0.71" stop-color="#ecb768"/><stop offset="0.79" stop-color="#ecb869"/><stop offset="0.86" stop-color="#ecb96a"/><stop offset="0.93" stop-color="#ecb96a"/><stop offset="1" stop-color="#ecb96a"/></linearGradient>
<linearGradient id="h4_7" x1="0" y1="0" x2="1" y2="0"><stop offset="0" stop-color="#edc274"/><stop offset="0.07" stop-color="#edc274"/><stop offset="0.14" stop-color="#edc274"/><stop offset="0.21" stop-color="#edc273"/><stop offset="0.29" stop-color="#edc172"/><stop offset="0.36" stop-color="#edbe70"/><stop offset="0.43" stop-color="#ecbc6d"/><stop offset="0.5" stop-color="#ecbb6c"/><stop offset="0.57" stop-color="#ecbc6d"/><stop offset="0.64" stop-color="#edbe70"/><stop offset="0.71" stop-color="#edc172"/><stop offset="0.79" stop-color="#edc273"/><stop offset="0.86" stop-color="#edc274"/><stop offset="0.93" stop-color="#edc274"/><stop offset="1" stop-color="#edc274"/></linearGradient>
<linearGradient id="h4_8" x1="0" y1="0" x2="1" y2="0"><stop offset="0" stop-color="#eecc7e"/><stop offset="0.07" stop-color="#eecc7e"/><stop offset="0.14" stop-color="#eecb7e"/><stop offset="0.21" stop-color="#eecb7d"/><stop offset="0.29" stop-color="#eeca7c"/><stop offset="0.36" stop-color="#eec87a"/><stop offset="0.43" stop-color="#eec678"/><stop offset="0.5" stop-color="#edc577"/><stop offset="0.57" stop-color="#eec678"/><stop offset="0.64" stop-color="#eec87a"/><stop offset="0.71" stop-color="#eeca7c"/><stop offset="0.79" stop-color="#eecb7d"/><stop offset="0.86" stop-color="#eecb7e"/><stop offset="0.93" stop-color="#eecc7e"/><stop offset="1" stop-color="#eecc7e"/></linearGradient>
<linearGradient id="h4_9" x1="0" y1="0" x2="1" y2="0"><stop offset="0" stop-color="#efd487"/><stop offset="0.07" stop-color="#efd487"/><stop offset="0.14" stop-color="#efd487"/><stop offset="0.21" stop-color="#efd487"/><stop offset="0.29" stop-color="#efd386"/><stop offset="0.36" stop-color="#efd184"/><stop offset="0.43" stop-color="#efd083"/><stop offset="0.5" stop-color="#eecf82"/><stop offset="0.57" stop-color="#efd083"/><stop offset="0.64" stop-color="#efd184"/><stop offset="0.71" stop-color="#efd386"/><stop offset="0.79" stop-color="#efd487"/><stop offset="0.86" stop-color="#efd487"/><stop offset="0.93" stop-color="#efd487"/><stop offset="1" stop-color="#efd487"/></linearGradient>
<linearGradient id="m4_8" gradientUnits="userSpaceOnUse" x1="0" y1="478.15" x2="0" y2="536.4"><stop offset="0" stop-color="#fff"/><stop offset="1" stop-color="#000"/></linearGradient><mask id="k4_8" maskUnits="userSpaceOnUse" x="487.1" y="303.4" width="61.7" height="233"><rect x="487.1" y="303.4" width="61.7" height="233" fill="url(#m4_8)"/></mask>
<linearGradient id="m4_7" gradientUnits="userSpaceOnUse" x1="0" y1="431.55" x2="0" y2="478.15"><stop offset="0" stop-color="#fff"/><stop offset="1" stop-color="#000"/></linearGradient><mask id="k4_7" maskUnits="userSpaceOnUse" x="487.1" y="303.4" width="61.7" height="233"><rect x="487.1" y="303.4" width="61.7" height="174.75" fill="url(#m4_7)"/></mask>
<linearGradient id="m4_6" gradientUnits="userSpaceOnUse" x1="0" y1="387.28" x2="0" y2="431.55"><stop offset="0" stop-color="#fff"/><stop offset="1" stop-color="#000"/></linearGradient><mask id="k4_6" maskUnits="userSpaceOnUse" x="487.1" y="303.4" width="61.7" height="233"><rect x="487.1" y="303.4" width="61.7" height="128.15" fill="url(#m4_6)"/></mask>
<linearGradient id="m4_5" gradientUnits="userSpaceOnUse" x1="0" y1="354.66" x2="0" y2="387.28"><stop offset="0" stop-color="#fff"/><stop offset="1" stop-color="#000"/></linearGradient><mask id="k4_5" maskUnits="userSpaceOnUse" x="487.1" y="303.4" width="61.7" height="233"><rect x="487.1" y="303.4" width="61.7" height="83.88" fill="url(#m4_5)"/></mask>
<linearGradient id="m4_4" gradientUnits="userSpaceOnUse" x1="0" y1="331.36" x2="0" y2="354.66"><stop offset="0" stop-color="#fff"/><stop offset="1" stop-color="#000"/></linearGradient><mask id="k4_4" maskUnits="userSpaceOnUse" x="487.1" y="303.4" width="61.7" height="233"><rect x="487.1" y="303.4" width="61.7" height="51.26" fill="url(#m4_4)"/></mask>
<linearGradient id="m4_3" gradientUnits="userSpaceOnUse" x1="0" y1="317.38" x2="0" y2="331.36"><stop offset="0" stop-color="#fff"/><stop offset="1" stop-color="#000"/></linearGradient><mask id="k4_3" maskUnits="userSpaceOnUse" x="487.1" y="303.4" width="61.7" height="233"><rect x="487.1" y="303.4" width="61.7" height="27.96" fill="url(#m4_3)"/></mask>
<linearGradient id="m4_2" gradientUnits="userSpaceOnUse" x1="0" y1="310.39" x2="0" y2="317.38"><stop offset="0" stop-color="#fff"/><stop offset="1" stop-color="#000"/></linearGradient><mask id="k4_2" maskUnits="userSpaceOnUse" x="487.1" y="303.4" width="61.7" height="233"><rect x="487.1" y="303.4" width="61.7" height="13.98" fill="url(#m4_2)"/></mask>
<linearGradient id="m4_1" gradientUnits="userSpaceOnUse" x1="0" y1="305.73" x2="0" y2="310.39"><stop offset="0" stop-color="#fff"/><stop offset="1" stop-color="#000"/></linearGradient><mask id="k4_1" maskUnits="userSpaceOnUse" x="487.1" y="303.4" width="61.7" height="233"><rect x="487.1" y="303.4" width="61.7" height="6.99" fill="url(#m4_1)"/></mask>
<linearGradient id="m4_0" gradientUnits="userSpaceOnUse" x1="0" y1="303.4" x2="0" y2="305.73"><stop offset="0" stop-color="#fff"/><stop offset="1" stop-color="#000"/></linearGradient><mask id="k4_0" maskUnits="userSpaceOnUse" x="487.1" y="303.4" width="61.7" height="233"><rect x="487.1" y="303.4" width="61.7" height="2.33" fill="url(#m4_0)"/></mask>
<linearGradient id="cb5" x1="0" y1="0" x2="1" y2="0"><stop offset="0" stop-color="#f8fbd6"/><stop offset="0.05" stop-color="#f7f5c4"/><stop offset="0.1" stop-color="#f6efb3"/><stop offset="0.15" stop-color="#f4e7a3"/><stop offset="0.2" stop-color="#f1de95"/><stop offset="0.25" stop-color="#efd487"/><stop offset="0.3" stop-color="#edc576"/><stop offset="0.35" stop-color="#ecb566"/><stop offset="0.4" stop-color="#eaa458"/><stop offset="0.45" stop-color="#e9924b"/><stop offset="0.5" stop-color="#e77f41"/><stop offset="0.55" stop-color="#e46d3b"/><stop offset="0.6" stop-color="#e25a34"/><stop offset="0.65" stop-color="#dd4730"/><stop offset="0.7" stop-color="#d9352c"/><stop offset="0.75" stop-color="#ce282a"/><stop offset="0.8" stop-color="#c0202a"/><stop offset="0.85" stop-color="#af192a"/><stop offset="0.9" stop-color="#98162a"/><stop offset="0.95" stop-color="#80142a"/><stop offset="1" stop-color="#69122a"/></linearGradient>
<linearGradient id="cb6" x1="0" y1="0" x2="1" y2="0"><stop offset="0" stop-color="#f8fbd6"/><stop offset="0.05" stop-color="#f7f5c4"/><stop offset="0.1" stop-color="#f6efb3"/><stop offset="0.15" stop-color="#f4e7a3"/><stop offset="0.2" stop-color="#f1de95"/><stop offset="0.25" stop-color="#efd487"/><stop offset="0.3" stop-color="#edc576"/><stop offset="0.35" stop-color="#ecb566"/><stop offset="0.4" stop-color="#eaa458"/><stop offset="0.45" stop-color="#e9924b"/><stop offset="0.5" stop-color="#e77f41"/><stop offset="0.55" stop-color="#e46d3b"/><stop offset="0.6" stop-color="#e25a34"/><stop offset="0.65" stop-color="#dd4730"/><stop offset="0.7" stop-color="#d9352c"/><stop offset="0.75" stop-color="#ce282a"/><stop offset="0.8" stop-color="#c0202a"/><stop offset="0.85" stop-color="#af192a"/><stop offset="0.9" stop-color="#98162a"/><stop offset="0.95" stop-color="#80142a"/><stop offset="1" stop-color="#69122a"/></linearGradient>
<linearGradient id="h7_0" x1="0" y1="0" x2="1" y2="0"><stop offset="0" stop-color="#b2cae1"/><stop offset="0.07" stop-color="#b2cae1"/><stop offset="0.14" stop-color="#b2cae1"/><stop offset="0.21" stop-color="#b2cae1"/><stop offset="0.29" stop-color="#b1c9e1"/><stop offset="0.36" stop-color="#aac5de"/><stop offset="0.43" stop-color="#9bb6d7"/><stop offset="0.5" stop-color="#95a8d0"/><stop offset="0.57" stop-color="#9bb6d7"/><stop offset="0.64" stop-color="#aac5de"/><stop offset="0.71" stop-color="#b1c9e1"/><stop offset="0.79" stop-color="#b2cae1"/><stop offset="0.86" stop-color="#b2cae1"/><stop offset="0.93" stop-color="#b2cae1"/><stop offset="1" stop-color="#b2cae1"/></linearGradient>
<linearGradient id="h7_1" x1="0" y1="0" x2="1" y2="0"><stop offset="0" stop-color="#bfd3e6"/><stop offset="0.07" stop-color="#bfd3e6"/><stop offset="0.14" stop-color="#bfd3e6"/><stop offset="0.21" stop-color="#bfd3e6"/><stop offset="0.29" stop-color="#bed2e6"/><stop offset="0.36" stop-color="#b8cee3"/><stop offset="0.43" stop-color="#a7c2dd"/><stop offset="0.5" stop-color="#9cb9d8"/><stop offset="0.57" stop-color="#a7c2dd"/><stop offset="0.64" stop-color="#b8cee3"/><stop offset="0.71" stop-color="#bed2e6"/><stop offset="0.79" stop-color="#bfd3e6"/><stop offset="0.86" stop-color="#bfd3e6"/><stop offset="0.93" stop-color="#bfd3e6"/><stop offset="1" stop-color="#bfd3e6"/></linearGradient>
<linearGradient id="h7_2" x1="0" y1="0" x2="1" y2="0"><stop offset="0" stop-color="#c3d6e8"/><stop offset="0.07" stop-color="#c3d6e8"/><stop offset="0.14" stop-color="#c3d6e8"/><stop offset="0.21" stop-color="#c3d6e8"/><stop offset="0.29" stop-color="#c2d5e7"/><stop offset="0.36" stop-color="#bcd1e5"/><stop offset="0.43" stop-color="#acc6df"/><stop offset="0.5" stop-color="#a1bedb"/><stop offset="0.57" stop-color="#acc6df"/><stop offset="0.64" stop-color="#bcd1e5"/><stop offset="0.71" stop-color="#c2d5e7"/><stop offset="0.79" stop-color="#c3d6e8"/><stop offset="0.86" stop-color="#c3d6e8"/><stop offset="0.93" stop-color="#c3d6e8"/><stop offset="1" stop-color="#c3d6e8"/></linearGradient>
<linearGradient id="h7_3" x1="0" y1="0" x2="1" y2="0"><stop offset="0" stop-color="#c5d7e8"/><stop offset="0.07" stop-color="#c5d7e8"/><stop offset="0.14" stop-color="#c5d7e8"/><stop offset="0.21" stop-color="#c5d7e8"/><stop offset="0.29" stop-color="#c4d7e8"/><stop offset="0.36" stop-color="#bfd3e6"/><stop offset="0.43" stop-color="#b0c9e1"/><stop offset="0.5" stop-color="#a6c2dd"/><stop offset="0.57" stop-color="#b0c9e1"/><stop offset="0.64" stop-color="#bfd3e6"/><stop offset="0.71" stop-color="#c4d7e8"/><stop offset="0.79" stop-color="#c5d7e8"/><stop offset="0.86" stop-color="#c5d7e8"/><stop offset="0.93" stop-color="#c5d7e8"/><stop offset="1" stop-color="#c5d7e8"/></linearGradient>
<linearGradient id="h7_4" x1="0" y1="0" x2="1" y2="0"><stop offset="0" stop-color="#c8daea"/><stop offset="0.07" stop-color="#c8daea"/><stop offset="0.14" stop-color="#c8daea"/><stop offset="0.21" stop-color="#c8daea"/><stop offset="0.29" stop-color="#c8d9ea"/><stop offset="0.36" stop-color="#c3d6e8"/><stop offset="0.43" stop-color="#b7cde3"/><stop offset="0.5" stop-color="#afc8e0"/><stop offset="0.57" stop-color="#b7cde3"/><stop offset="0.64" stop-color="#c3d6e8"/><stop offset="0.71" stop-color="#c8d9ea"/><stop offset="0.79" stop-color="#c8daea"/><stop offset="0.86" stop-color="#c8daea"/><stop offset="0.93" stop-color="#c8daea"/><stop offset="1" stop-color="#c8daea"/></linearGradient>
<linearGradient id="h7_5" x1="0" y1="0" x2="1" y2="0"><stop offset="0" stop-color="#cadceb"/><stop offset="0.07" stop-color="#cadceb"/><stop offset="0.14" stop-color="#cadceb"/><stop offset="0.21" stop-color="#cadceb"/><stop offset="0.29" stop-color="#cadbeb"/><stop offset="0.36" stop-color="#c6d8e9"/><stop offset="0.43" stop-color="#bcd1e5"/><stop offset="0.5" stop-color="#b4cce2"/><stop offset="0.57" stop-color="#bcd1e5"/><stop offset="0.64" stop-color="#c6d8e9"/><stop offset="0.71" stop-color="#cadbeb"/><stop offset="0.79" stop-color="#cadceb"/><stop offset="0.86" stop-color="#cadceb"/><stop offset="0.93" stop-color="#cadceb"/><stop offset="1" stop-color="#cadceb"/></linearGradient>
<linearGradient id="h7_6" x1="0" y1="0" x2="1" y2="0"><stop offset="0" stop-color="#cedeec"/><stop offset="0.07" stop-color="#cedeec"/><stop offset="0.14" stop-color="#cedeec"/><stop offset="0.21" stop-color="#cddeec"/><stop offset="0.29" stop-color="#cddeec"/><stop offset="0.36" stop-color="#cadbeb"/><stop offset="0.43" stop-color="#c2d5e7"/><stop offset="0.5" stop-color="#bcd1e5"/><stop offset="0.57" stop-color="#c2d5e7"/><stop offset="0.64" stop-color="#cadbeb"/><stop offset="0.71" stop-color="#cddeec"/><stop offset="0.79" stop-color="#cddeec"/><stop offset="0.86" stop-color="#cedeec"/><stop offset="0.93" stop-color="#cedeec"/><stop offset="1" stop-color="#cedeec"/></linearGradient>
<linearGradient id="h7_7" x1="0" y1="0" x2="1" y2="0"><stop offset="0" stop-color="#d3e2ee"/><stop offset="0.07" stop-color="#d3e2ee"/><stop offset="0.14" stop-color="#d3e2ee"/><stop offset="0.21" stop-color="#d3e2ee"/><stop offset="0.29" stop-color="#d2e2ee"/><stop offset="0.36" stop-color="#d0e0ed"/><stop offset="0.43" stop-color="#cadbeb"/><stop offset="0.5" stop-color="#c6d8e9"/><stop offset="0.57" stop-color="#cadbeb"/><stop offset="0.64" stop-color="#d0e0ed"/><stop offset="0.71" stop-color="#d2e2ee"/><stop offset="0.79" stop-color="#d3e2ee"/><stop offset="0.86" stop-color="#d3e2ee"/><stop offset="0.93" stop-color="#d3e2ee"/><stop offset="1" stop-color="#d3e2ee"/></linearGradient>
<linearGradient id="h7_8" x1="0" y1="0" x2="1" y2="0"><stop offset="0" stop-color="#d9e7f1"/><stop offset="0.07" stop-color="#d9e7f1"/><stop offset="0.14" stop-color="#d9e7f1"/><stop offset="0.21" stop-color="#d9e7f1"/><stop offset="0.29" stop-color="#d9e6f1"/><stop offset="0.36" stop-color="#d7e5f0"/><stop offset="0.43" stop-color="#d2e2ee"/><stop offset="0.5" stop-color="#cfdfed"/><stop offset="0.57" stop-color="#d2e2ee"/><stop offset="0.64" stop-color="#d7e5f0"/><stop offset="0.71" stop-color="#d9e6f1"/><stop offset="0.79" stop-color="#d9e7f1"/><stop offset="0.86" stop-color="#d9e7f1"/><stop offset="0.93" stop-color="#d9e7f1"/><stop offset="1" stop-color="#d9e7f1"/></linearGradient>
<linearGradient id="h7_9" x1="0" y1="0" x2="1" y2="0"><stop offset="0" stop-color="#e1edf4"/><stop offset="0.07" stop-color="#e1edf4"/><stop offset="0.14" stop-color="#e1edf4"/><stop offset="0.21" stop-color="#e1edf4"/><stop offset="0.29" stop-color="#e1edf4"/><stop offset="0.36" stop-color="#e0ecf4"/><stop offset="0.43" stop-color="#deeaf3"/><stop offset="0.5" stop-color="#dce9f2"/><stop offset="0.57" stop-color="#deeaf3"/><stop offset="0.64" stop-color="#e0ecf4"/><stop offset="0.71" stop-color="#e1edf4"/><stop offset="0.79" stop-color="#e1edf4"/><stop offset="0.86" stop-color="#e1edf4"/><stop offset="0.93" stop-color="#e1edf4"/><stop offset="1" stop-color="#e1edf4"/></linearGradient>
<linearGradient id="m7_8" gradientUnits="userSpaceOnUse" x1="0" y1="815.05" x2="0" y2="873.3"><stop offset="0" stop-color="#fff"/><stop offset="1" stop-color="#000"/></linearGradient><mask id="k7_8" maskUnits="userSpaceOnUse" x="72.8" y="640.3" width="61.9" height="233"><rect x="72.8" y="640.3" width="61.9" height="233" fill="url(#m7_8)"/></mask>
<linearGradient id="m7_7" gradientUnits="userSpaceOnUse" x1="0" y1="768.45" x2="0" y2="815.05"><stop offset="0" stop-color="#fff"/><stop offset="1" stop-color="#000"/></linearGradient><mask id="k7_7" maskUnits="userSpaceOnUse" x="72.8" y="640.3" width="61.9" height="233"><rect x="72.8" y="640.3" width="61.9" height="174.75" fill="url(#m7_7)"/></mask>
<linearGradient id="m7_6" gradientUnits="userSpaceOnUse" x1="0" y1="724.18" x2="0" y2="768.45"><stop offset="0" stop-color="#fff"/><stop offset="1" stop-color="#000"/></linearGradient><mask id="k7_6" maskUnits="userSpaceOnUse" x="72.8" y="640.3" width="61.9" height="233"><rect x="72.8" y="640.3" width="61.9" height="128.15" fill="url(#m7_6)"/></mask>
<linearGradient id="m7_5" gradientUnits="userSpaceOnUse" x1="0" y1="691.56" x2="0" y2="724.18"><stop offset="0" stop-color="#fff"/><stop offset="1" stop-color="#000"/></linearGradient><mask id="k7_5" maskUnits="userSpaceOnUse" x="72.8" y="640.3" width="61.9" height="233"><rect x="72.8" y="640.3" width="61.9" height="83.88" fill="url(#m7_5)"/></mask>
<linearGradient id="m7_4" gradientUnits="userSpaceOnUse" x1="0" y1="668.26" x2="0" y2="691.56"><stop offset="0" stop-color="#fff"/><stop offset="1" stop-color="#000"/></linearGradient><mask id="k7_4" maskUnits="userSpaceOnUse" x="72.8" y="640.3" width="61.9" height="233"><rect x="72.8" y="640.3" width="61.9" height="51.26" fill="url(#m7_4)"/></mask>
<linearGradient id="m7_3" gradientUnits="userSpaceOnUse" x1="0" y1="654.28" x2="0" y2="668.26"><stop offset="0" stop-color="#fff"/><stop offset="1" stop-color="#000"/></linearGradient><mask id="k7_3" maskUnits="userSpaceOnUse" x="72.8" y="640.3" width="61.9" height="233"><rect x="72.8" y="640.3" width="61.9" height="27.96" fill="url(#m7_3)"/></mask>
<linearGradient id="m7_2" gradientUnits="userSpaceOnUse" x1="0" y1="647.29" x2="0" y2="654.28"><stop offset="0" stop-color="#fff"/><stop offset="1" stop-color="#000"/></linearGradient><mask id="k7_2" maskUnits="userSpaceOnUse" x="72.8" y="640.3" width="61.9" height="233"><rect x="72.8" y="640.3" width="61.9" height="13.98" fill="url(#m7_2)"/></mask>
<linearGradient id="m7_1" gradientUnits="userSpaceOnUse" x1="0" y1="642.63" x2="0" y2="647.29"><stop offset="0" stop-color="#fff"/><stop offset="1" stop-color="#000"/></linearGradient><mask id="k7_1" maskUnits="userSpaceOnUse" x="72.8" y="640.3" width="61.9" height="233"><rect x="72.8" y="640.3" width="61.9" height="6.99" fill="url(#m7_1)"/></mask>
<linearGradient id="m7_0" gradientUnits="userSpaceOnUse" x1="0" y1="640.3" x2="0" y2="642.63"><stop offset="0" stop-color="#fff"/><stop offset="1" stop-color="#000"/></linearGradient><mask id="k7_0" maskUnits="userSpaceOnUse" x="72.8" y="640.3" width="61.9" height="233"><rect x="72.8" y="640.3" width="61.9" height="2.33" fill="url(#m7_0)"/></mask>
<linearGradient id="h8_0" x1="0" y1="0" x2="1" y2="0"><stop offset="0" stop-color="#8c96c6"/><stop offset="0.07" stop-color="#8c96c6"/><stop offset="0.14" stop-color="#8c96c6"/><stop offset="0.21" stop-color="#8c96c6"/><stop offset="0.29" stop-color="#8c95c6"/><stop offset="0.36" stop-color="#8c8dc2"/><stop offset="0.43" stop-color="#8c6db2"/><stop offset="0.5" stop-color="#8a52a5"/><stop offset="0.57" stop-color="#8c6db2"/><stop offset="0.64" stop-color="#8c8dc2"/><stop offset="0.71" stop-color="#8c95c6"/><stop offset="0.79" stop-color="#8c96c6"/><stop offset="0.86" stop-color="#8c96c6"/><stop offset="0.93" stop-color="#8c96c6"/><stop offset="1" stop-color="#8c96c6"/></linearGradient>
<linearGradient id="h8_1" x1="0" y1="0" x2="1" y2="0"><stop offset="0" stop-color="#98aed3"/><stop offset="0.07" stop-color="#98aed3"/><stop offset="0.14" stop-color="#98aed3"/><stop offset="0.21" stop-color="#98aed3"/><stop offset="0.29" stop-color="#97aed3"/><stop offset="0.36" stop-color="#94a7cf"/><stop offset="0.43" stop-color="#8c8bc1"/><stop offset="0.5" stop-color="#8c71b4"/><stop offset="0.57" stop-color="#8c8bc1"/><stop offset="0.64" stop-color="#94a7cf"/><stop offset="0.71" stop-color="#97aed3"/><stop offset="0.79" stop-color="#98aed3"/><stop offset="0.86" stop-color="#98aed3"/><stop offset="0.93" stop-color="#98aed3"/><stop offset="1" stop-color="#98aed3"/></linearGradient>
<linearGradient id="h8_2" x1="0" y1="0" x2="1" y2="0"><stop offset="0" stop-color="#9ab4d6"/><stop offset="0.07" stop-color="#9ab4d6"/><stop offset="0.14" stop-color="#9ab4d6"/><stop offset="0.21" stop-color="#9ab4d6"/><stop offset="0.29" stop-color="#9ab4d6"/><stop offset="0.36" stop-color="#98aed3"/><stop offset="0.43" stop-color="#8d98c7"/><stop offset="0.5" stop-color="#8c81bc"/><stop offset="0.57" stop-color="#8d98c7"/><stop offset="0.64" stop-color="#98aed3"/><stop offset="0.71" stop-color="#9ab4d6"/><stop offset="0.79" stop-color="#9ab4d6"/><stop offset="0.86" stop-color="#9ab4d6"/><stop offset="0.93" stop-color="#9ab4d6"/><stop offset="1" stop-color="#9ab4d6"/></linearGradient>
<linearGradient id="h8_3" x1="0" y1="0" x2="1" y2="0"><stop offset="0" stop-color="#9cb7d8"/><stop offset="0.07" stop-color="#9cb7d8"/><stop offset="0.14" stop-color="#9cb7d8"/><stop offset="0.21" stop-color="#9cb7d8"/><stop offset="0.29" stop-color="#9cb7d7"/><stop offset="0.36" stop-color="#99b2d5"/><stop offset="0.43" stop-color="#8f9cc9"/><stop offset="0.5" stop-color="#8c88bf"/><stop offset="0.57" stop-color="#8f9cc9"/><stop offset="0.64" stop-color="#99b2d5"/><stop offset="0.71" stop-color="#9cb7d7"/><stop offset="0.79" stop-color="#9cb7d8"/><stop offset="0.86" stop-color="#9cb7d8"/><stop offset="0.93" stop-color="#9cb7d8"/><stop offset="1" stop-color="#9cb7d8"/></linearGradient>
<linearGradient id="h8_4" x1="0" y1="0" x2="1" y2="0"><stop offset="0" stop-color="#9fbdda"/><stop offset="0.07" stop-color="#9fbdda"/><stop offset="0.14" stop-color="#9fbdda"/><stop offset="0.21" stop-color="#9fbdda"/><stop offset="0.29" stop-color="#9fbdda"/><stop offset="0.36" stop-color="#9cb9d8"/><stop offset="0.43" stop-color="#94a6ce"/><stop offset="0.5" stop-color="#8c96c6"/><stop offset="0.57" stop-color="#94a6ce"/><stop offset="0.64" stop-color="#9cb9d8"/><stop offset="0.71" stop-color="#9fbdda"/><stop offset="0.79" stop-color="#9fbdda"/><stop offset="0.86" stop-color="#9fbdda"/><stop offset="0.93" stop-color="#9fbdda"/><stop offset="1" stop-color="#9fbdda"/></linearGradient>
<linearGradient id="h8_5" x1="0" y1="0" x2="1" y2="0"><stop offset="0" stop-color="#a3c0dc"/><stop offset="0.07" stop-color="#a3c0dc"/><stop offset="0.14" stop-color="#a3c0dc"/><stop offset="0.21" stop-color="#a3c0dc"/><stop offset="0.29" stop-color="#a3bfdc"/><stop offset="0.36" stop-color="#9fbdda"/><stop offset="0.43" stop-color="#97add2"/><stop offset="0.5" stop-color="#909eca"/><stop offset="0.57" stop-color="#97add2"/><stop offset="0.64" stop-color="#9fbdda"/><stop offset="0.71" stop-color="#a3bfdc"/><stop offset="0.79" stop-color="#a3c0dc"/><stop offset="0.86" stop-color="#a3c0dc"/><stop offset="0.93" stop-color="#a3c0dc"/><stop offset="1" stop-color="#a3c0dc"/></linearGradient>
<linearGradient id="h8_6" x1="0" y1="0" x2="1" y2="0"><stop offset="0" stop-color="#a9c3de"/><stop offset="0.07" stop-color="#a9c3de"/><stop offset="0.14" stop-color="#a9c3de"/><stop offset="0.21" stop-color="#a9c3de"/><stop offset="0.29" stop-color="#a8c3de"/><stop offset="0.36" stop-color="#a5c1dd"/><stop offset="0.43" stop-color="#9bb6d7"/><stop offset="0.5" stop-color="#95aad0"/><stop offset="0.57" stop-color="#9bb6d7"/><stop offset="0.64" stop-color="#a5c1dd"/><stop offset="0.71" stop-color="#a8c3de"/><stop offset="0.79" stop-color="#a9c3de"/><stop offset="0.86" stop-color="#a9c3de"/><stop offset="0.93" stop-color="#a9c3de"/><stop offset="1" stop-color="#a9c3de"/></linearGradient>
<linearGradient id="h8_7" x1="0" y1="0" x2="1" y2="0"><stop offset="0" stop-color="#b0c8e0"/><stop offset="0.07" stop-color="#b0c8e0"/><stop offset="0.14" stop-color="#b0c8e0"/><stop offset="0.21" stop-color="#b0c8e0"/><stop offset="0.29" stop-color="#b0c8e0"/><stop offset="0.36" stop-color="#adc7e0"/><stop offset="0.43" stop-color="#a4c0dc"/><stop offset="0.5" stop-color="#9db9d9"/><stop offset="0.57" stop-color="#a4c0dc"/><stop offset="0.64" stop-color="#adc7e0"/><stop offset="0.71" stop-color="#b0c8e0"/><stop offset="0.79" stop-color="#b0c8e0"/><stop offset="0.86" stop-color="#b0c8e0"/><stop offset="0.93" stop-color="#b0c8e0"/><stop offset="1" stop-color="#b0c8e0"/></linearGradient>
<linearGradient id="h8_8" x1="0" y1="0" x2="1" y2="0"><stop offset="0" stop-color="#b7cee3"/><stop offset="0.07" stop-color="#b7cee3"/><stop offset="0.14" stop-color="#b7cee3"/><stop offset="0.21" stop-color="#b7cee3"/><stop offset="0.29" stop-color="#b7cee3"/><stop offset="0.36" stop-color="#b5cce3"/><stop offset="0.43" stop-color="#aec7e0"/><stop offset="0.5" stop-color="#a8c3de"/><stop offset="0.57" stop-color="#aec7e0"/><stop offset="0.64" stop-color="#b5cce3"/><stop offset="0.71" stop-color="#b7cee3"/><stop offset="0.79" stop-color="#b7cee3"/><stop offset="0.86" stop-color="#b7cee3"/><stop offset="0.93" stop-color="#b7cee3"/><stop offset="1" stop-color="#b7cee3"/></linearGradient>
<linearGradient id="h8_9" x1="0" y1="0" x2="1" y2="0"><stop offset="0" stop-color="#bfd3e6"/><stop offset="0.07" stop-color="#bfd3e6"/><stop offset="0.14" stop-color="#bfd3e6"/><stop offset="0.21" stop-color="#bfd3e6"/><stop offset="0.29" stop-color="#bfd3e6"/><stop offset="0.36" stop-color="#bed2e6"/><stop offset="0.43" stop-color="#b9cfe4"/><stop offset="0.5" stop-color="#b4cce2"/><stop offset="0.57" stop-color="#b9cfe4"/><stop offset="0.64" stop-color="#bed2e6"/><stop offset="0.71" stop-color="#bfd3e6"/><stop offset="0.79" stop-color="#bfd3e6"/><stop offset="0.86" stop-color="#bfd3e6"/><stop offset="0.93" stop-color="#bfd3e6"/><stop offset="1" stop-color="#bfd3e6"/></linearGradient>
<linearGradient id="m8_8" gradientUnits="userSpaceOnUse" x1="0" y1="815.05" x2="0" y2="873.3"><stop offset="0" stop-color="#fff"/><stop offset="1" stop-color="#000"/></linearGradient><mask id="k8_8" maskUnits="userSpaceOnUse" x="142.4" y="640.3" width="62.4" height="233"><rect x="142.4" y="640.3" width="62.4" height="233" fill="url(#m8_8)"/></mask>
<linearGradient id="m8_7" gradientUnits="userSpaceOnUse" x1="0" y1="768.45" x2="0" y2="815.05"><stop offset="0" stop-color="#fff"/><stop offset="1" stop-color="#000"/></linearGradient><mask id="k8_7" maskUnits="userSpaceOnUse" x="142.4" y="640.3" width="62.4" height="233"><rect x="142.4" y="640.3" width="62.4" height="174.75" fill="url(#m8_7)"/></mask>
<linearGradient id="m8_6" gradientUnits="userSpaceOnUse" x1="0" y1="724.18" x2="0" y2="768.45"><stop offset="0" stop-color="#fff"/><stop offset="1" stop-color="#000"/></linearGradient><mask id="k8_6" maskUnits="userSpaceOnUse" x="142.4" y="640.3" width="62.4" height="233"><rect x="142.4" y="640.3" width="62.4" height="128.15" fill="url(#m8_6)"/></mask>
<linearGradient id="m8_5" gradientUnits="userSpaceOnUse" x1="0" y1="691.56" x2="0" y2="724.18"><stop offset="0" stop-color="#fff"/><stop offset="1" stop-color="#000"/></linearGradient><mask id="k8_5" maskUnits="userSpaceOnUse" x="142.4" y="640.3" width="62.4" height="233"><rect x="142.4" y="640.3" width="62.4" height="83.88" fill="url(#m8_5)"/></mask>
<linearGradient id="m8_4" gradientUnits="userSpaceOnUse" x1="0" y1="668.26" x2="0" y2="691.56"><stop offset="0" stop-color="#fff"/><stop offset="1" stop-color="#000"/></linearGradient><mask id="k8_4" maskUnits="userSpaceOnUse" x="142.4" y="640.3" width="62.4" height="233"><rect x="142.4" y="640.3" width="62.4" height="51.26" fill="url(#m8_4)"/></mask>
<linearGradient id="m8_3" gradientUnits="userSpaceOnUse" x1="0" y1="654.28" x2="0" y2="668.26"><stop offset="0" stop-color="#fff"/><stop offset="1" stop-color="#000"/></linearGradient><mask id="k8_3" maskUnits="userSpaceOnUse" x="142.4" y="640.3" width="62.4" height="233"><rect x="142.4" y="640.3" width="62.4" height="27.96" fill="url(#m8_3)"/></mask>
<linearGradient id="m8_2" gradientUnits="userSpaceOnUse" x1="0" y1="647.29" x2="0" y2="654.28"><stop offset="0" stop-color="#fff"/><stop offset="1" stop-color="#000"/></linearGradient><mask id="k8_2" maskUnits="userSpaceOnUse" x="142.4" y="640.3" width="62.4" height="233"><rect x="142.4" y="640.3" width="62.4" height="13.98" fill="url(#m8_2)"/></mask>
<linearGradient id="m8_1" gradientUnits="userSpaceOnUse" x1="0" y1="642.63" x2="0" y2="647.29"><stop offset="0" stop-color="#fff"/><stop offset="1" stop-color="#000"/></linearGradient><mask id="k8_1" maskUnits="userSpaceOnUse" x="142.4" y="640.3" width="62.4" height="233"><rect x="142.4" y="640.3" width="62.4" height="6.99" fill="url(#m8_1)"/></mask>
<linearGradient id="m8_0" gradientUnits="userSpaceOnUse" x1="0" y1="640.3" x2="0" y2="642.63"><stop offset="0" stop-color="#fff"/><stop offset="1" stop-color="#000"/></linearGradient><mask id="k8_0" maskUnits="userSpaceOnUse" x="142.4" y="640.3" width="62.4" height="233"><rect x="142.4" y="640.3" width="62.4" height="2.33" fill="url(#m8_0)"/></mask>
<linearGradient id="h9_0" x1="0" y1="0" x2="1" y2="0"><stop offset="0" stop-color="#e1edf4"/><stop offset="0.07" stop-color="#e1edf4"/><stop offset="0.14" stop-color="#e1edf4"/><stop offset="0.21" stop-color="#e1edf4"/><stop offset="0.29" stop-color="#e0ecf4"/><stop offset="0.36" stop-color="#d9e6f1"/><stop offset="0.43" stop-color="#c0d4e6"/><stop offset="0.5" stop-color="#adc6df"/><stop offset="0.57" stop-color="#c0d4e6"/><stop offset="0.64" stop-color="#d9e6f1"/><stop offset="0.71" stop-color="#e0ecf4"/><stop offset="0.79" stop-color="#e1edf4"/><stop offset="0.86" stop-color="#e1edf4"/><stop offset="0.93" stop-color="#e1edf4"/><stop offset="1" stop-color="#e1edf4"/></linearGradient>
<linearGradient id="h9_1" x1="0" y1="0" x2="1" y2="0"><stop offset="0" stop-color="#e8f2f7"/><stop offset="0.07" stop-color="#e8f2f7"/><stop offset="0.14" stop-color="#e8f2f7"/><stop offset="0.21" stop-color="#e8f2f7"/><stop offset="0.29" stop-color="#e8f1f7"/><stop offset="0.36" stop-color="#e2eef5"/><stop offset="0.43" stop-color="#cbdceb"/><stop offset="0.5" stop-color="#b9cfe4"/><stop offset="0.57" stop-color="#cbdceb"/><stop offset="0.64" stop-color="#e2eef5"/><stop offset="0.71" stop-color="#e8f1f7"/><stop offset="0.79" stop-color="#e8f2f7"/><stop offset="0.86" stop-color="#e8f2f7"/><stop offset="0.93" stop-color="#e8f2f7"/><stop offset="1" stop-color="#e8f2f7"/></linearGradient>
<linearGradient id="h9_2" x1="0" y1="0" x2="1" y2="0"><stop offset="0" stop-color="#eaf3f8"/><stop offset="0.07" stop-color="#eaf3f8"/><stop offset="0.14" stop-color="#eaf3f8"/><stop offset="0.21" stop-color="#eaf3f8"/><stop offset="0.29" stop-color="#eaf3f8"/><stop offset="0.36" stop-color="#e5eff6"/><stop offset="0.43" stop-color="#d0e0ed"/><stop offset="0.5" stop-color="#bfd3e6"/><stop offset="0.57" stop-color="#d0e0ed"/><stop offset="0.64" stop-color="#e5eff6"/><stop offset="0.71" stop-color="#eaf3f8"/><stop offset="0.79" stop-color="#eaf3f8"/><stop offset="0.86" stop-color="#eaf3f8"/><stop offset="0.93" stop-color="#eaf3f8"/><stop offset="1" stop-color="#eaf3f8"/></linearGradient>
<linearGradient id="h9_3" x1="0" y1="0" x2="1" y2="0"><stop offset="0" stop-color="#ebf3f8"/><stop offset="0.07" stop-color="#ebf3f8"/><stop offset="0.14" stop-color="#ebf3f8"/><stop offset="0.21" stop-color="#ebf3f8"/><stop offset="0.29" stop-color="#eaf3f8"/><stop offset="0.36" stop-color="#e6f0f6"/><stop offset="0.43" stop-color="#d3e2ef"/><stop offset="0.5" stop-color="#c3d6e8"/><stop offset="0.57" stop-color="#d3e2ef"/><stop offset="0.64" stop-color="#e6f0f6"/><stop offset="0.71" stop-color="#eaf3f8"/><stop offset="0.79" stop-color="#ebf3f8"/><stop offset="0.86" stop-color="#ebf3f8"/><stop offset="0.93" stop-color="#ebf3f8"/><stop offset="1" stop-color="#ebf3f8"/></linearGradient>
<linearGradient id="h9_4" x1="0" y1="0" x2="1" y2="0"><stop offset="0" stop-color="#ecf4f9"/><stop offset="0.07" stop-color="#ecf4f9"/><stop offset="0.14" stop-color="#ecf4f9"/><stop offset="0.21" stop-color="#ecf4f9"/><stop offset="0.29" stop-color="#ecf4f9"/><stop offset="0.36" stop-color="#e8f1f7"/><stop offset="0.43" stop-color="#dae7f1"/><stop offset="0.5" stop-color="#ccddec"/><stop offset="0.57" stop-color="#dae7f1"/><stop offset="0.64" stop-color="#e8f1f7"/><stop offset="0.71" stop-color="#ecf4f9"/><stop offset="0.79" stop-color="#ecf4f9"/><stop offset="0.86" stop-color="#ecf4f9"/><stop offset="0.93" stop-color="#ecf4f9"/><stop offset="1" stop-color="#ecf4f9"/></linearGradient>
<linearGradient id="h9_5" x1="0" y1="0" x2="1" y2="0"><stop offset="0" stop-color="#edf5f9"/><stop offset="0.07" stop-color="#edf5f9"/><stop offset="0.14" stop-color="#edf5f9"/><stop offset="0.21" stop-color="#edf5f9"/><stop offset="0.29" stop-color="#ecf5f9"/><stop offset="0.36" stop-color="#e9f2f8"/><stop offset="0.43" stop-color="#dfebf4"/><stop offset="0.5" stop-color="#d4e3ef"/><stop offset="0.57" stop-color="#dfebf4"/><stop offset="0.64" stop-color="#e9f2f8"/><stop offset="0.71" stop-color="#ecf5f9"/><stop offset="0.79" stop-color="#edf5f9"/><stop offset="0.86" stop-color="#edf5f9"/><stop offset="0.93" stop-color="#edf5f9"/><stop offset="1" stop-color="#edf5f9"/></linearGradient>
<linearGradient id="h9_6" x1="0" y1="0" x2="1" y2="0"><stop offset="0" stop-color="#eef6f9"/><stop offset="0.07" stop-color="#eef6f9"/><stop offset="0.14" stop-color="#eef6f9"/><stop offset="0.21" stop-color="#eef6f9"/><stop offset="0.29" stop-color="#eef5f9"/><stop offset="0.36" stop-color="#ebf4f8"/><stop offset="0.43" stop-color="#e4eff6"/><stop offset="0.5" stop-color="#dfebf3"/><stop offset="0.57" stop-color="#e4eff6"/><stop offset="0.64" stop-color="#ebf4f8"/><stop offset="0.71" stop-color="#eef5f9"/><stop offset="0.79" stop-color="#eef6f9"/><stop offset="0.86" stop-color="#eef6f9"/><stop offset="0.93" stop-color="#eef6f9"/><stop offset="1" stop-color="#eef6f9"/></linearGradient>
<linearGradient id="h9_7" x1="0" y1="0" x2="1" y2="0"><stop offset="0" stop-color="#eff6fa"/><stop offset="0.07" stop-color="#eff6fa"/><stop offset="0.14" stop-color="#eff6fa"/><stop offset="0.21" stop-color="#eff6fa"/><stop offset="0.29" stop-color="#eef6fa"/><stop offset="0.36" stop-color="#edf5f9"/><stop offset="0.43" stop-color="#e9f2f7"/><stop offset="0.5" stop-color="#e6f0f6"/><stop offset="0.57" stop-color="#e9f2f7"/><stop offset="0.64" stop-color="#edf5f9"/><stop offset="0.71" stop-color="#eef6fa"/><stop offset="0.79" stop-color="#eff6fa"/><stop offset="0.86" stop-color="#eff6fa"/><stop offset="0.93" stop-color="#eff6fa"/><stop offset="1" stop-color="#eff6fa"/></linearGradient>
<linearGradient id="h9_8" x1="0" y1="0" x2="1" y2="0"><stop offset="0" stop-color="#eff7fa"/><stop offset="0.07" stop-color="#eff7fa"/><stop offset="0.14" stop-color="#eff7fa"/><stop offset="0.21" stop-color="#eff7fa"/><stop offset="0.29" stop-color="#eff7fa"/><stop offset="0.36" stop-color="#eef6fa"/><stop offset="0.43" stop-color="#ecf4f9"/><stop offset="0.5" stop-color="#eaf3f8"/><stop offset="0.57" stop-color="#ecf4f9"/><stop offset="0.64" stop-color="#eef6fa"/><stop offset="0.71" stop-color="#eff7fa"/><stop offset="0.79" stop-color="#eff7fa"/><stop offset="0.86" stop-color="#eff7fa"/><stop offset="0.93" stop-color="#eff7fa"/><stop offset="1" stop-color="#eff7fa"/></linearGradient>
<linearGradient id="h9_9" x1="0" y1="0" x2="1" y2="0"><stop offset="0" stop-color="#f1f8fa"/><stop offset="0.07" stop-color="#f1f8fa"/><stop offset="0.14" stop-color="#f1f8fa"/><stop offset="0.21" stop-color="#f1f8fa"/><stop offset="0.29" stop-color="#f1f7fa"/><stop offset="0.36" stop-color="#f0f7fa"/><stop offset="0.43" stop-color="#eff6fa"/><stop offset="0.5" stop-color="#eef6f9"/><stop offset="0.57" stop-color="#eff6fa"/><stop offset="0.64" stop-color="#f0f7fa"/><stop offset="0.71" stop-color="#f1f7fa"/><stop offset="0.79" stop-color="#f1f8fa"/><stop offset="0.86" stop-color="#f1f8fa"/><stop offset="0.93" stop-color="#f1f8fa"/><stop offset="1" stop-color="#f1f8fa"/></linearGradient>
<linearGradient id="m9_8" gradientUnits="userSpaceOnUse" x1="0" y1="815.05" x2="0" y2="873.3"><stop offset="0" stop-color="#fff"/><stop offset="1" stop-color="#000"/></linearGradient><mask id="k9_8" maskUnits="userSpaceOnUse" x="252.8" y="640.3" width="61.9" height="233"><rect x="252.8" y="640.3" width="61.9" height="233" fill="url(#m9_8)"/></mask>
<linearGradient id="m9_7" gradientUnits="userSpaceOnUse" x1="0" y1="768.45" x2="0" y2="815.05"><stop offset="0" stop-color="#fff"/><stop offset="1" stop-color="#000"/></linearGradient><mask id="k9_7" maskUnits="userSpaceOnUse" x="252.8" y="640.3" width="61.9" height="233"><rect x="252.8" y="640.3" width="61.9" height="174.75" fill="url(#m9_7)"/></mask>
<linearGradient id="m9_6" gradientUnits="userSpaceOnUse" x1="0" y1="724.18" x2="0" y2="768.45"><stop offset="0" stop-color="#fff"/><stop offset="1" stop-color="#000"/></linearGradient><mask id="k9_6" maskUnits="userSpaceOnUse" x="252.8" y="640.3" width="61.9" height="233"><rect x="252.8" y="640.3" width="61.9" height="128.15" fill="url(#m9_6)"/></mask>
<linearGradient id="m9_5" gradientUnits="userSpaceOnUse" x1="0" y1="691.56" x2="0" y2="724.18"><stop offset="0" stop-color="#fff"/><stop offset="1" stop-color="#000"/></linearGradient><mask id="k9_5" maskUnits="userSpaceOnUse" x="252.8" y="640.3" width="61.9" height="233"><rect x="252.8" y="640.3" width="61.9" height="83.88" fill="url(#m9_5)"/></mask>
<linearGradient id="m9_4" gradientUnits="userSpaceOnUse" x1="0" y1="668.26" x2="0" y2="691.56"><stop offset="0" stop-color="#fff"/><stop offset="1" stop-color="#000"/></linearGradient><mask id="k9_4" maskUnits="userSpaceOnUse" x="252.8" y="640.3" width="61.9" height="233"><rect x="252.8" y="640.3" width="61.9" height="51.26" fill="url(#m9_4)"/></mask>
<linearGradient id="m9_3" gradientUnits="userSpaceOnUse" x1="0" y1="654.28" x2="0" y2="668.26"><stop offset="0" stop-color="#fff"/><stop offset="1" stop-color="#000"/></linearGradient><mask id="k9_3" maskUnits="userSpaceOnUse" x="252.8" y="640.3" width="61.9" height="233"><rect x="252.8" y="640.3" width="61.9" height="27.96" fill="url(#m9_3)"/></mask>
<linearGradient id="m9_2" gradientUnits="userSpaceOnUse" x1="0" y1="647.29" x2="0" y2="654.28"><stop offset="0" stop-color="#fff"/><stop offset="1" stop-color="#000"/></linearGradient><mask id="k9_2" maskUnits="userSpaceOnUse" x="252.8" y="640.3" width="61.9" height="233"><rect x="252.8" y="640.3" width="61.9" height="13.98" fill="url(#m9_2)"/></mask>
<linearGradient id="m9_1" gradientUnits="userSpaceOnUse" x1="0" y1="642.63" x2="0" y2="647.29"><stop offset="0" stop-color="#fff"/><stop offset="1" stop-color="#000"/></linearGradient><mask id="k9_1" maskUnits="userSpaceOnUse" x="252.8" y="640.3" width="61.9" height="233"><rect x="252.8" y="640.3" width="61.9" height="6.99" fill="url(#m9_1)"/></mask>
<linearGradient id="m9_0" gradientUnits="userSpaceOnUse" x1="0" y1="640.3" x2="0" y2="642.63"><stop offset="0" stop-color="#fff"/><stop offset="1" stop-color="#000"/></linearGradient><mask id="k9_0" maskUnits="userSpaceOnUse" x="252.8" y="640.3" width="61.9" height="233"><rect x="252.8" y="640.3" width="61.9" height="2.33" fill="url(#m9_0)"/></mask>
<linearGradient id="h10_0" x1="0" y1="0" x2="1" y2="0"><stop offset="0" stop-color="#92a2cc"/><stop offset="0.07" stop-color="#92a2cc"/><stop offset="0.14" stop-color="#92a2cc"/><stop offset="0.21" stop-color="#92a2cc"/><stop offset="0.29" stop-color="#92a2cc"/><stop offset="0.36" stop-color="#8f9cc9"/><stop offset="0.43" stop-color="#8c81bc"/><stop offset="0.5" stop-color="#8c69b0"/><stop offset="0.57" stop-color="#8c81bc"/><stop offset="0.64" stop-color="#8f9cc9"/><stop offset="0.71" stop-color="#92a2cc"/><stop offset="0.79" stop-color="#92a2cc"/><stop offset="0.86" stop-color="#92a2cc"/><stop offset="0.93" stop-color="#92a2cc"/><stop offset="1" stop-color="#92a2cc"/></linearGradient>
<linearGradient id="h10_1" x1="0" y1="0" x2="1" y2="0"><stop offset="0" stop-color="#9cb7d8"/><stop offset="0.07" stop-color="#9cb7d8"/><stop offset="0.14" stop-color="#9cb7d8"/><stop offset="0.21" stop-color="#9cb7d8"/><stop offset="0.29" stop-color="#9cb7d7"/><stop offset="0.36" stop-color="#99b1d4"/><stop offset="0.43" stop-color="#8e9bc8"/><stop offset="0.5" stop-color="#8c85be"/><stop offset="0.57" stop-color="#8e9bc8"/><stop offset="0.64" stop-color="#99b1d4"/><stop offset="0.71" stop-color="#9cb7d7"/><stop offset="0.79" stop-color="#9cb7d8"/><stop offset="0.86" stop-color="#9cb7d8"/><stop offset="0.93" stop-color="#9cb7d8"/><stop offset="1" stop-color="#9cb7d8"/></linearGradient>
<linearGradient id="h10_2" x1="0" y1="0" x2="1" y2="0"><stop offset="0" stop-color="#9ebcda"/><stop offset="0.07" stop-color="#9ebcda"/><stop offset="0.14" stop-color="#9ebcda"/><stop offset="0.21" stop-color="#9ebcda"/><stop offset="0.29" stop-color="#9ebcda"/><stop offset="0.36" stop-color="#9bb7d7"/><stop offset="0.43" stop-color="#92a3cd"/><stop offset="0.5" stop-color="#8c91c3"/><stop offset="0.57" stop-color="#92a3cd"/><stop offset="0.64" stop-color="#9bb7d7"/><stop offset="0.71" stop-color="#9ebcda"/><stop offset="0.79" stop-color="#9ebcda"/><stop offset="0.86" stop-color="#9ebcda"/><stop offset="0.93" stop-color="#9ebcda"/><stop offset="1" stop-color="#9ebcda"/></linearGradient>
<linearGradient id="h10_3" x1="0" y1="0" x2="1" y2="0"><stop offset="0" stop-color="#a0bddb"/><stop offset="0.07" stop-color="#a0bddb"/><stop offset="0.14" stop-color="#a0bddb"/><stop offset="0.21" stop-color="#a0bddb"/><stop offset="0.29" stop-color="#9fbddb"/><stop offset="0.36" stop-color="#9db9d8"/><stop offset="0.43" stop-color="#94a7cf"/><stop offset="0.5" stop-color="#8c97c6"/><stop offset="0.57" stop-color="#94a7cf"/><stop offset="0.64" stop-color="#9db9d8"/><stop offset="0.71" stop-color="#9fbddb"/><stop offset="0.79" stop-color="#a0bddb"/><stop offset="0.86" stop-color="#a0bddb"/><stop offset="0.93" stop-color="#a0bddb"/><stop offset="1" stop-color="#a0bddb"/></linearGradient>
<linearGradient id="h10_4" x1="0" y1="0" x2="1" y2="0"><stop offset="0" stop-color="#a3c0dc"/><stop offset="0.07" stop-color="#a3c0dc"/><stop offset="0.14" stop-color="#a3c0dc"/><stop offset="0.21" stop-color="#a3c0dc"/><stop offset="0.29" stop-color="#a3bfdc"/><stop offset="0.36" stop-color="#a0bddb"/><stop offset="0.43" stop-color="#97aed3"/><stop offset="0.5" stop-color="#91a1cc"/><stop offset="0.57" stop-color="#97aed3"/><stop offset="0.64" stop-color="#a0bddb"/><stop offset="0.71" stop-color="#a3bfdc"/><stop offset="0.79" stop-color="#a3c0dc"/><stop offset="0.86" stop-color="#a3c0dc"/><stop offset="0.93" stop-color="#a3c0dc"/><stop offset="1" stop-color="#a3c0dc"/></linearGradient>
<linearGradient id="h10_5" x1="0" y1="0" x2="1" y2="0"><stop offset="0" stop-color="#a7c2dd"/><stop offset="0.07" stop-color="#a7c2dd"/><stop offset="0.14" stop-color="#a7c2dd"/><stop offset="0.21" stop-color="#a7c2dd"/><stop offset="0.29" stop-color="#a6c2dd"/><stop offset="0.36" stop-color="#a3c0dc"/><stop offset="0.43" stop-color="#9ab4d6"/><stop offset="0.5" stop-color="#95a8d0"/><stop offset="0.57" stop-color="#9ab4d6"/><stop offset="0.64" stop-color="#a3c0dc"/><stop offset="0.71" stop-color="#a6c2dd"/><stop offset="0.79" stop-color="#a7c2dd"/><stop offset="0.86" stop-color="#a7c2dd"/><stop offset="0.93" stop-color="#a7c2dd"/><stop offset="1" stop-color="#a7c2dd"/></linearGradient>
<linearGradient id="h10_6" x1="0" y1="0" x2="1" y2="0"><stop offset="0" stop-color="#abc5df"/><stop offset="0.07" stop-color="#abc5df"/><stop offset="0.14" stop-color="#abc5df"/><stop offset="0.21" stop-color="#abc5df"/><stop offset="0.29" stop-color="#abc5df"/><stop offset="0.36" stop-color="#a9c3de"/><stop offset="0.43" stop-color="#9fbcda"/><stop offset="0.5" stop-color="#9ab3d5"/><stop offset="0.57" stop-color="#9fbcda"/><stop offset="0.64" stop-color="#a9c3de"/><stop offset="0.71" stop-color="#abc5df"/><stop offset="0.79" stop-color="#abc5df"/><stop offset="0.86" stop-color="#abc5df"/><stop offset="0.93" stop-color="#abc5df"/><stop offset="1" stop-color="#abc5df"/></linearGradient>
<linearGradient id="h10_7" x1="0" y1="0" x2="1" y2="0"><stop offset="0" stop-color="#b1cae1"/><stop offset="0.07" stop-color="#b1cae1"/><stop offset="0.14" stop-color="#b1cae1"/><stop offset="0.21" stop-color="#b1cae1"/><stop offset="0.29" stop-color="#b1c9e1"/><stop offset="0.36" stop-color="#b0c8e0"/><stop offset="0.43" stop-color="#a9c3de"/><stop offset="0.5" stop-color="#a3bfdc"/><stop offset="0.57" stop-color="#a9c3de"/><stop offset="0.64" stop-color="#b0c8e0"/><stop offset="0.71" stop-color="#b1c9e1"/><stop offset="0.79" stop-color="#b1cae1"/><stop offset="0.86" stop-color="#b1cae1"/><stop offset="0.93" stop-color="#b1cae1"/><stop offset="1" stop-color="#b1cae1"/></linearGradient>
<linearGradient id="h10_8" x1="0" y1="0" x2="1" y2="0"><stop offset="0" stop-color="#b8cee3"/><stop offset="0.07" stop-color="#b8cee3"/><stop offset="0.14" stop-color="#b8cee3"/><stop offset="0.21" stop-color="#b8cee3"/><stop offset="0.29" stop-color="#b8cee3"/><stop offset="0.36" stop-color="#b7cde3"/><stop offset="0.43" stop-color="#b1cae1"/><stop offset="0.5" stop-color="#adc7e0"/><stop offset="0.57" stop-color="#b1cae1"/><stop offset="0.64" stop-color="#b7cde3"/><stop offset="0.71" stop-color="#b8cee3"/><stop offset="0.79" stop-color="#b8cee3"/><stop offset="0.86" stop-color="#b8cee3"/><stop offset="0.93" stop-color="#b8cee3"/><stop offset="1" stop-color="#b8cee3"/></linearGradient>
<linearGradient id="h10_9" x1="0" y1="0" x2="1" y2="0"><stop offset="0" stop-color="#c0d4e7"/><stop offset="0.07" stop-color="#c0d4e7"/><stop offset="0.14" stop-color="#c0d4e7"/><stop offset="0.21" stop-color="#c0d4e7"/><stop offset="0.29" stop-color="#c0d4e7"/><stop offset="0.36" stop-color="#bfd3e6"/><stop offset="0.43" stop-color="#bcd1e5"/><stop offset="0.5" stop-color="#bacfe4"/><stop offset="0.57" stop-color="#bcd1e5"/><stop offset="0.64" stop-color="#bfd3e6"/><stop offset="0.71" stop-color="#c0d4e7"/><stop offset="0.79" stop-color="#c0d4e7"/><stop offset="0.86" stop-color="#c0d4e7"/><stop offset="0.93" stop-color="#c0d4e7"/><stop offset="1" stop-color="#c0d4e7"/></linearGradient>
<linearGradient id="m10_8" gradientUnits="userSpaceOnUse" x1="0" y1="815.05" x2="0" y2="873.3"><stop offset="0" stop-color="#fff"/><stop offset="1" stop-color="#000"/></linearGradient><mask id="k10_8" maskUnits="userSpaceOnUse" x="322.2" y="640.3" width="62.6" height="233"><rect x="322.2" y="640.3" width="62.6" height="233" fill="url(#m10_8)"/></mask>
<linearGradient id="m10_7" gradientUnits="userSpaceOnUse" x1="0" y1="768.45" x2="0" y2="815.05"><stop offset="0" stop-color="#fff"/><stop offset="1" stop-color="#000"/></linearGradient><mask id="k10_7" maskUnits="userSpaceOnUse" x="322.2" y="640.3" width="62.6" height="233"><rect x="322.2" y="640.3" width="62.6" height="174.75" fill="url(#m10_7)"/></mask>
<linearGradient id="m10_6" gradientUnits="userSpaceOnUse" x1="0" y1="724.18" x2="0" y2="768.45"><stop offset="0" stop-color="#fff"/><stop offset="1" stop-color="#000"/></linearGradient><mask id="k10_6" maskUnits="userSpaceOnUse" x="322.2" y="640.3" width="62.6" height="233"><rect x="322.2" y="640.3" width="62.6" height="128.15" fill="url(#m10_6)"/></mask>
<linearGradient id="m10_5" gradientUnits="userSpaceOnUse" x1="0" y1="691.56" x2="0" y2="724.18"><stop offset="0" stop-color="#fff"/><stop offset="1" stop-color="#000"/></linearGradient><mask id="k10_5" maskUnits="userSpaceOnUse" x="322.2" y="640.3" width="62.6" height="233"><rect x="322.2" y="640.3" width="62.6" height="83.88" fill="url(#m10_5)"/></mask>
<linearGradient id="m10_4" gradientUnits="userSpaceOnUse" x1="0" y1="668.26" x2="0" y2="691.56"><stop offset="0" stop-color="#fff"/><stop offset="1" stop-color="#000"/></linearGradient><mask id="k10_4" maskUnits="userSpaceOnUse" x="322.2" y="640.3" width="62.6" height="233"><rect x="322.2" y="640.3" width="62.6" height="51.26" fill="url(#m10_4)"/></mask>
<linearGradient id="m10_3" gradientUnits="userSpaceOnUse" x1="0" y1="654.28" x2="0" y2="668.26"><stop offset="0" stop-color="#fff"/><stop offset="1" stop-color="#000"/></linearGradient><mask id="k10_3" maskUnits="userSpaceOnUse" x="322.2" y="640.3" width="62.6" height="233"><rect x="322.2" y="640.3" width="62.6" height="27.96" fill="url(#m10_3)"/></mask>
<linearGradient id="m10_2" gradientUnits="userSpaceOnUse" x1="0" y1="647.29" x2="0" y2="654.28"><stop offset="0" stop-color="#fff"/><stop offset="1" stop-color="#000"/></linearGradient><mask id="k10_2" maskUnits="userSpaceOnUse" x="322.2" y="640.3" width="62.6" height="233"><rect x="322.2" y="640.3" width="62.6" height="13.98" fill="url(#m10_2)"/></mask>
<linearGradient id="m10_1" gradientUnits="userSpaceOnUse" x1="0" y1="642.63" x2="0" y2="647.29"><stop offset="0" stop-color="#fff"/><stop offset="1" stop-color="#000"/></linearGradient><mask id="k10_1" maskUnits="userSpaceOnUse" x="322.2" y="640.3" width="62.6" height="233"><rect x="322.2" y="640.3" width="62.6" height="6.99" fill="url(#m10_1)"/></mask>
<linearGradient id="m10_0" gradientUnits="userSpaceOnUse" x1="0" y1="640.3" x2="0" y2="642.63"><stop offset="0" stop-color="#fff"/><stop offset="1" stop-color="#000"/></linearGradient><mask id="k10_0" maskUnits="userSpaceOnUse" x="322.2" y="640.3" width="62.6" height="233"><rect x="322.2" y="640.3" width="62.6" height="2.33" fill="url(#m10_0)"/></mask>
<linearGradient id="cb11" x1="0" y1="0" x2="1" y2="0"><stop offset="0" stop-color="#f7fcfd"/><stop offset="0.05" stop-color="#eef6f9"/><stop offset="0.1" stop-color="#e5eff6"/><stop offset="0.15" stop-color="#d9e7f1"/><stop offset="0.2" stop-color="#ccddec"/><stop offset="0.25" stop-color="#bfd3e6"/><stop offset="0.3" stop-color="#b2cae1"/><stop offset="0.35" stop-color="#a5c1dc"/><stop offset="0.4" stop-color="#9ab4d6"/><stop offset="0.45" stop-color="#93a5ce"/><stop offset="0.5" stop-color="#8c96c6"/><stop offset="0.55" stop-color="#8c85be"/><stop offset="0.6" stop-color="#8c74b5"/><stop offset="0.65" stop-color="#8b63ad"/><stop offset="0.7" stop-color="#8a52a5"/><stop offset="0.75" stop-color="#88419d"/><stop offset="0.8" stop-color="#852d90"/><stop offset="0.85" stop-color="#821983"/><stop offset="0.9" stop-color="#770c72"/><stop offset="0.95" stop-color="#62065f"/><stop offset="1" stop-color="#4d004b"/></linearGradient>
<linearGradient id="cb12" x1="0" y1="0" x2="1" y2="0"><stop offset="0" stop-color="#f7fcfd"/><stop offset="0.05" stop-color="#eef6f9"/><stop offset="0.1" stop-color="#e5eff6"/><stop offset="0.15" stop-color="#d9e7f1"/><stop offset="0.2" stop-color="#ccddec"/><stop offset="0.25" stop-color="#bfd3e6"/><stop offset="0.3" stop-color="#b2cae1"/><stop offset="0.35" stop-color="#a5c1dc"/><stop offset="0.4" stop-color="#9ab4d6"/><stop offset="0.45" stop-color="#93a5ce"/><stop offset="0.5" stop-color="#8c96c6"/><stop offset="0.55" stop-color="#8c85be"/><stop offset="0.6" stop-color="#8c74b5"/><stop offset="0.65" stop-color="#8b63ad"/><stop offset="0.7" stop-color="#8a52a5"/><stop offset="0.75" stop-color="#88419d"/><stop offset="0.8" stop-color="#852d90"/><stop offset="0.85" stop-color="#821983"/><stop offset="0.9" stop-color="#770c72"/><stop offset="0.95" stop-color="#62065f"/><stop offset="1" stop-color="#4d004b"/></linearGradient>
</defs>
<rect width="685" height="931" fill="#fff"/>
<text x="1.2" y="28" font-size="24.5" font-family="Liberation Serif, serif" fill="#000" stroke="#fff" stroke-width="0.3">A</text>
<text x="74.5" y="17.5" font-size="8.5" textLength="19.2" lengthAdjust="spacingAndGlyphs" fill="#2a2a2a">Input</text>
<text x="108.5" y="17.5" font-size="8.5" textLength="42.7" lengthAdjust="spacingAndGlyphs" fill="#2a2a2a">Preimmune</text>
<text x="160.4" y="17.5" font-size="8.5" textLength="52" lengthAdjust="spacingAndGlyphs" fill="#2a2a2a">Anti-C1QTNF6</text>
<line x1="60.4" y1="22.4" x2="106" y2="22.4" stroke="#98acd8" stroke-width="1.1"/>
<line x1="108" y1="22.4" x2="152.8" y2="22.4" stroke="#98acd8" stroke-width="1.1"/>
<line x1="159.2" y1="23" x2="215.4" y2="23" stroke="#98acd8" stroke-width="1.1"/>
<text x="70" y="35.1" font-size="7.6" text-anchor="middle" fill="#2a2a2a">1</text>
<text x="95.5" y="35.1" font-size="7.6" text-anchor="middle" fill="#2a2a2a">2</text>
<text x="115.6" y="35.1" font-size="7.6" text-anchor="middle" fill="#2a2a2a">1</text>
<text x="140.8" y="35.1" font-size="7.6" text-anchor="middle" fill="#2a2a2a">2</text>
<text x="170.2" y="35.1" font-size="7.6" text-anchor="middle" fill="#2a2a2a">1</text>
<text x="195.5" y="35.1" font-size="7.6" text-anchor="middle" fill="#2a2a2a">2</text>
<text x="3.9" y="62.7" font-size="9.3" textLength="38.1" lengthAdjust="spacingAndGlyphs" fill="#2a2a2a">C1QTNF6</text>
<text x="22.8" y="86.7" font-size="9.5" textLength="19.2" lengthAdjust="spacingAndGlyphs" fill="#2a2a2a">TET2</text>
<rect x="53.7" y="48" width="159.6" height="23.4" fill="url(#blotT)"/>
<rect x="53.7" y="71.4" width="159.6" height="22.6" fill="url(#blotB)"/>
<line x1="53.7" y1="71.6" x2="213.3" y2="71.6" stroke="#454545" stroke-width="1"/>
<g filter="url(#bl)"><ellipse cx="70" cy="56.2" rx="10" ry="1.7" fill="#141414"/><ellipse cx="94.3" cy="57" rx="10.3" ry="1.9" fill="#141414"/><ellipse cx="170.25" cy="59" rx="9.25" ry="1.4" fill="#141414"/><ellipse cx="195.25" cy="59.6" rx="10.25" ry="1.5" fill="#141414"/><ellipse cx="68.6" cy="78.6" rx="9.9" ry="1.8" fill="#141414"/><ellipse cx="92.75" cy="80" rx="9.75" ry="2" fill="#141414"/></g>
<g opacity="0.06" filter="url(#bl)"><ellipse cx="170" cy="80" rx="9" ry="1.5" fill="#333"/><ellipse cx="195" cy="80.5" rx="9" ry="1.5" fill="#333"/></g>
<text x="257.8" y="27.8" font-size="24.5" font-family="Liberation Serif, serif" fill="#000" stroke="#fff" stroke-width="0.3">B</text>
<line x1="356" y1="4" x2="468" y2="4" stroke="#333" stroke-width="1"/>
<path d="M354.5 4 L359 2 L359 6 Z" fill="#222"/>
<text x="471.6" y="6.6" font-size="7" textLength="91.8" lengthAdjust="spacingAndGlyphs" fill="#333">chr22:18,858,036-18,902,678</text>
<line x1="568" y1="4" x2="662" y2="4" stroke="#333" stroke-width="1"/>
<path d="M665.6 4 L661 2 L661 6 Z" fill="#222"/>
<text x="304" y="25" font-size="7.7" textLength="36" lengthAdjust="spacingAndGlyphs" fill="#333">TET2_5637</text>
<text x="302.3" y="44" font-size="7.7" textLength="37.7" lengthAdjust="spacingAndGlyphs" fill="#333">TET2_TET2</text>
<text x="289" y="63" font-size="7.7" textLength="51" lengthAdjust="spacingAndGlyphs" fill="#333">C1QTNF6_5637</text>
<text x="272.3" y="82" font-size="7.7" textLength="67.7" lengthAdjust="spacingAndGlyphs" fill="#333">C1QTNF6_C1QTNF6</text>
<text x="322" y="95" font-size="7.7" textLength="18" lengthAdjust="spacingAndGlyphs" fill="#333">Gene</text>
<text x="356.3" y="18.8" font-size="6.4" textLength="24" lengthAdjust="spacingAndGlyphs" fill="#444">[0 - 6.12]</text>
<text x="356.3" y="37.6" font-size="6.4" textLength="24" lengthAdjust="spacingAndGlyphs" fill="#444">[0 - 6.12]</text>
<text x="356.3" y="56.5" font-size="6.4" textLength="24" lengthAdjust="spacingAndGlyphs" fill="#444">[0 - 1.51]</text>
<text x="356.3" y="75.3" font-size="6.4" textLength="24" lengthAdjust="spacingAndGlyphs" fill="#444">[0 - 1.51]</text>
<line x1="354.5" y1="29.2" x2="665" y2="29.2" stroke="#bfe0a8" stroke-width="0.9"/>
<path d="M454.5 29.2L454.5 28.94L455 28.71L455.5 28.49L456 28.4L456.5 28.49L457 28.71L457.5 28.94L458 29.2ZM485 29.2L485 28.84L485.5 28.67L486 28.6L486.5 28.67L487 28.84L487.5 29.2ZM491 29.2L491 28.9L491.5 28.76L492 28.7L492.5 28.76L493 28.9L493.5 29.2ZM619 29.2L619 28.95L619.5 28.74L620 28.49L620.5 28.28L621 28.2L621.5 28.28L622 28.49L622.5 28.74L623 28.95L623.5 29.2ZM639 29.2L639 28.84L639.5 28.67L640 28.6L640.5 28.67L641 28.84L641.5 29.2Z" fill="#8cc46a"/>
<line x1="354.5" y1="47.8" x2="665" y2="47.8" stroke="#a8dcc0" stroke-width="0.9"/>
<path d="M379 47.8L379 47.44L379.5 47.27L380 47.2L380.5 47.27L381 47.44L381.5 47.8ZM579 47.8L579 47.51L579.5 47.3L580 47.08L580.5 46.93L581 46.91L581.5 47.04L582 47.25L582.5 47.47L583 47.8ZM591.5 47.8L591.5 47.32L592 46.76L592.5 45.98L593 45.21L593.5 44.81L594 44.99L594.5 45.65L595 46.47L595.5 47.13L596 47.52L596.5 47.8ZM616 47.8L616 47.45L616.5 47.02L617 46.3L617.5 45.29L618 44.04L618.5 42.52L619 40.61L619.5 38.23L620 35.64L620.5 33.59L621 32.96L621.5 34.2L622 36.97L622.5 40.34L623 43.36L623.5 45.52L624 46.79L624.5 47.41L625 47.8Z" fill="#2e9e5e"/>
<line x1="354.5" y1="66.6" x2="665" y2="66.6" stroke="#f0b080" stroke-width="0.9"/>
<path d="M362 66.6L362 66.2L362.5 65.77L363 65.63L363.5 65.96L364 66.34L364.5 66.6ZM365 66.6L365 66.33L365.5 66.07L366 65.68L366.5 65.24L367 64.88L367.5 64.73L368 64.86L368.5 65.21L369 65.64L369.5 66.04L370 66.32L370.5 66.6ZM373 66.6L373 66.35L373.5 66.38L374 66.6ZM377 66.6L377 66.37L377.5 66.34L378 66.36L378.5 66.6ZM382.5 66.6L382.5 66.26L383 65.87L383.5 65.38L384 65.03L384.5 65.04L385 65.4L385.5 65.88L386 66.26L386.5 66.6ZM387.5 66.6L387.5 66.12L388 65.46L388.5 64.48L389 63.51L389.5 63.1L390 63.51L390.5 64.48L391 65.46L391.5 66.13L392 66.6ZM405 66.6L405 66.34L405.5 66.12L406 65.88L406.5 65.74L407 65.78L407.5 65.98L408 66.22L408.5 66.6ZM419.5 66.6L419.5 66.4L420 66.19L420.5 65.93L421 65.75L421.5 65.78L422 65.99L422.5 66.25L423 66.6ZM426 66.6L426 66.16L426.5 65.83L427 65.6L427.5 65.63L428 65.89L428.5 66.19L429 66.37L429.5 66.39L430 66.29L430.5 66.12L431 65.95L431.5 65.82L432 65.8L432.5 65.88L433 66.04L433.5 66.22L434 66.38L434.5 66.6ZM443 66.6L443 66.4L443.5 66.3L444 66.19L444.5 66.11L445 66.06L445.5 66.07L446 66.14L446.5 66.23L447 66.34L447.5 66.6ZM450 66.6L450 66.35L450.5 66.14L451 65.88L451.5 65.63L452 65.49L452.5 65.51L453 65.68L453.5 65.94L454 66.2L454.5 66.39L455 66.6ZM458.5 66.6L458.5 66.34L459 66.22L459.5 66.13L460 66.07L460.5 66.04L461 65.99L461.5 65.9L462 65.8L462.5 65.71L463 65.7L463.5 65.78L464 65.93L464.5 66.08L465 66.2L465.5 66.25L466 66.22L466.5 66.12L467 65.99L467.5 65.87L468 65.82L468.5 65.84L469 65.94L469.5 66.08L470 66.23L470.5 66.37L471 66.6ZM481.5 66.6L481.5 66.32L482 66.23L482.5 66.19L483 66.14L483.5 65.99L484 65.79L484.5 65.71L485 65.86L485.5 66.15L486 66.6ZM490 66.6L490 66.37L490.5 66.21L491 66.01L491.5 65.78L492 65.58L492.5 65.45L493 65.44L493.5 65.53L494 65.72L494.5 65.94L495 66.16L495.5 66.33L496 66.6ZM500.5 66.6L500.5 66.35L501 66.29L501.5 66.26L502 66.25L502.5 66.25L503 66.23L503.5 66.17L504 66.05L504.5 65.91L505 65.81L505.5 65.79L506 65.88L506.5 66.05L507 66.23L507.5 66.39L508 66.6ZM511 66.6L511 66.24L511.5 65.87L512 65.51L512.5 65.39L513 65.6L513.5 65.99L514 66.33L514.5 66.6ZM524 66.6L524 66.4L524.5 66.37L525 66.38L525.5 66.37L526 66.34L526.5 66.28L527 66.23L527.5 66.21L528 66.22L528.5 66.23L529 66.18L529.5 65.99L530 65.59L530.5 64.99L531 64.29L531.5 63.66L532 63.3L532.5 63.28L533 63.52L533.5 63.85L534 64.17L534.5 64.44L535 64.73L535.5 65.07L536 65.46L536.5 65.83L537 66.14L537.5 66.35L538 66.6ZM541.5 66.6L541.5 66.35L542 66.35L542.5 66.6ZM554.5 66.6L554.5 66.38L555 66.26L555.5 66.12L556 66.02L556.5 65.96L557 65.95L557.5 65.96L558 65.96L558.5 65.98L559 66.06L559.5 66.22L560 66.39L560.5 66.6ZM563.5 66.6L563.5 66.25L564 66.16L564.5 66.28L565 66.6ZM567.5 66.6L567.5 66.13L568 65.66L568.5 65.01L569 64.3L569.5 63.78L570 63.66L570.5 64.01L571 64.68L571.5 65.38L572 65.88L572.5 66.07L573 65.88L573.5 65.29L574 64.44L574.5 63.62L575 63.19L575.5 63.36L576 64.02L576.5 64.87L577 65.6L577.5 66.03L578 66.12L578.5 65.92L579 65.53L579.5 65.14L580 64.95L580.5 64.97L581 65.09L581.5 65.21L582 65.42L582.5 65.78L583 66.17L583.5 66.6ZM585.5 66.6L585.5 66.37L586 66.6ZM588 66.6L588 66.36L588.5 66.17L589 65.94L589.5 65.73L590 65.62L590.5 65.64L591 65.79L591.5 66.01L592 66.21L592.5 66.32L593 66.29L593.5 66.14L594 65.94L594.5 65.85L595 65.94L595.5 66.15L596 66.37L596.5 66.6ZM598.5 66.6L598.5 66.39L599 66.19L599.5 65.97L600 65.85L600.5 65.91L601 66.09L601.5 66.31L602 66.6ZM607 66.6L607 66.38L607.5 66.35L608 66.35L608.5 66.39L609 66.6ZM612.5 66.6L612.5 66.29L613 66.2L613.5 66.23L614 66.36L614.5 66.6ZM618 66.6L618 66.32L618.5 66.12L619 65.79L619.5 65.33L620 64.8L620.5 64.38L621 64.24L621.5 64.48L622 64.98L622.5 65.55L623 66.02L623.5 66.31L624 66.6ZM625 66.6L625 66.32L625.5 66.18L626 66.01L626.5 65.87L627 65.79L627.5 65.8L628 65.9L628.5 66.05L629 66.22L629.5 66.37L630 66.6ZM635 66.6L635 66.4L635.5 66.21L636 65.94L636.5 65.65L637 65.44L637.5 65.37L638 65.48L638.5 65.72L639 65.98L639.5 66.18L640 66.28L640.5 66.29L641 66.24L641.5 66.18L642 66.15L642.5 66.16L643 66.2L643.5 66.27L644 66.33L644.5 66.36L645 66.34L645.5 66.26L646 66.11L646.5 65.85L647 65.52L647.5 65.26L648 65.22L648.5 65.43L649 65.79L649.5 66.13L650 66.35L650.5 66.6ZM651.5 66.6L651.5 66.39L652 66.35L652.5 66.35L653 66.38L653.5 66.6Z" fill="#df7a28"/>
<line x1="354.5" y1="85.6" x2="665" y2="85.6" stroke="#f09090" stroke-width="0.9"/>
<path d="M363.5 85.6L363.5 85.19L364 84.92L364.5 84.83L365 85.01L365.5 85.3L366 85.6ZM373.5 85.6L373.5 85.38L374 85.33L374.5 85.33L375 85.39L375.5 85.6ZM379.5 85.6L379.5 85.26L380 85.12L380.5 85.09L381 85.08L381.5 85.01L382 84.93L382.5 84.92L383 85.02L383.5 85.2L384 85.37L384.5 85.6ZM388 85.6L388 85.39L388.5 85.6ZM395 85.6L395 85.31L395.5 84.95L396 84.49L396.5 84.14L397 84.12L397.5 84.41L398 84.82L398.5 85.1L399 85.19L399.5 85.15L400 85.07L400.5 85.01L401 85.01L401.5 85.06L402 85.16L402.5 85.27L403 85.37L403.5 85.6ZM411 85.6L411 85.4L411.5 85.3L412 85.24L412.5 85.24L413 85.29L413.5 85.38L414 85.6ZM418 85.6L418 85.32L418.5 85.14L419 84.95L419.5 84.8L420 84.74L420.5 84.8L421 84.95L421.5 85.14L422 85.32L422.5 85.6ZM425.5 85.6L425.5 85.37L426 85.6ZM429.5 85.6L429.5 85.16L430 84.94L430.5 84.94L431 85.03L431.5 85.01L432 84.93L432.5 84.9L433 84.95L433.5 85.06L434 85.21L434.5 85.35L435 85.6ZM438.5 85.6L438.5 85.33L439 85.29L439.5 85.31L440 85.37L440.5 85.6ZM441.5 85.6L441.5 85.22L442 84.93L442.5 84.72L443 84.75L443.5 85.01L444 85.28L444.5 85.6ZM446 85.6L446 85.39L446.5 85.39L447 85.6ZM450 85.6L450 85.38L450.5 85.26L451 85.14L451.5 85.07L452 85.08L452.5 85.15L453 85.21L453.5 85.22L454 85.22L454.5 85.3L455 85.6ZM457.5 85.6L457.5 85.35L458 85.15L458.5 84.9L459 84.64L459.5 84.45L460 84.4L460.5 84.51L461 84.74L461.5 85L462 85.24L462.5 85.6ZM466.5 85.6L466.5 85.34L467 85.23L467.5 85.14L468 85.12L468.5 85.15L469 85.23L469.5 85.29L470 85.32L470.5 85.29L471 85.25L471.5 85.21L472 85.21L472.5 85.25L473 85.31L473.5 85.38L474 85.6ZM479 85.6L479 85.39L479.5 85.23L480 85.04L480.5 84.85L481 84.73L481.5 84.72L482 84.82L482.5 84.99L483 85.19L483.5 85.36L484 85.6ZM486.5 85.6L486.5 85.18L487 84.79L487.5 84.54L488 84.45L488.5 84.39L489 84.37L489.5 84.51L490 84.77L490.5 85.02L491 85.08L491.5 84.88L492 84.45L492.5 83.93L493 83.52L493.5 83.4L494 83.6L494.5 84.02L495 84.48L495.5 84.86L496 85.1L496.5 85.23L497 85.31L497.5 85.38L498 85.6ZM502 85.6L502 85.36L502.5 85.2L503 85.02L503.5 84.84L504 84.71L504.5 84.68L505 84.76L505.5 84.91L506 85.1L506.5 85.28L507 85.6ZM509.5 85.6L509.5 85.39L510 85.36L510.5 85.38L511 85.6ZM516 85.6L516 85.27L516.5 85.03L517 84.75L517.5 84.5L518 84.36L518.5 84.38L519 84.56L519.5 84.83L520 85.1L520.5 85.32L521 85.6ZM522 85.6L522 85.35L522.5 84.96L523 84.46L523.5 84.22L524 84.48L524.5 85L525 85.37L525.5 85.6ZM526 85.6L526 85.31L526.5 85.01L527 84.79L527.5 84.87L528 85.15L528.5 85.36L529 85.38L529.5 85.32L530 85.27L530.5 85.3L531 85.37L531.5 85.6ZM532.5 85.6L532.5 85.34L533 85.25L533.5 85.2L534 85.22L534.5 85.28L535 85.35L535.5 85.6ZM540.5 85.6L540.5 85.3L541 85.06L541.5 84.79L542 84.61L542.5 84.61L543 84.79L543.5 85.06L544 85.31L544.5 85.6ZM556.5 85.6L556.5 85.22L557 84.88L557.5 84.62L558 84.62L558.5 84.86L559 85.11L559.5 85.21L560 85.2L560.5 85.23L561 85.32L561.5 85.6ZM562.5 85.6L562.5 85.34L563 85.2L563.5 85.05L564 84.9L564.5 84.76L565 84.62L565.5 84.49L566 84.39L566.5 84.34L567 84.35L567.5 84.42L568 84.52L568.5 84.66L569 84.8L569.5 84.93L570 85L570.5 84.98L571 84.86L571.5 84.71L572 84.6L572.5 84.61L573 84.74L573.5 84.91L574 85.03L574.5 85.07L575 85.05L575.5 84.98L576 84.9L576.5 84.84L577 84.8L577.5 84.72L578 84.54L578.5 84.2L579 83.77L579.5 83.41L580 83.29L580.5 83.46L581 83.83L581.5 84.22L582 84.56L582.5 84.85L583 85.11L583.5 85.32L584 85.6ZM591.5 85.6L591.5 85.28L592 85.04L592.5 84.62L593 84.07L593.5 83.57L594 83.38L594.5 83.61L595 84.14L595.5 84.73L596 85.18L596.5 85.6ZM600.5 85.6L600.5 85.25L601 84.96L601.5 84.59L602 84.22L602.5 83.96L603 83.9L603.5 84.08L604 84.41L604.5 84.79L605 85.1L605.5 85.3L606 85.39L606.5 85.4L607 85.36L607.5 85.29L608 85.18L608.5 85.08L609 85.04L609.5 85.11L610 85.25L610.5 85.4L611 85.6ZM616.5 85.6L616.5 85.24L617 84.76L617.5 83.94L618 82.85L618.5 81.68L619 80.26L619.5 77.98L620 74.64L620.5 71.4L621 70.3L621.5 72.35L622 76.48L622.5 80.57L623 83.3L623.5 84.64L624 85.17L624.5 85.39L625 85.6ZM647 85.6L647 85.4L647.5 85.22L648 85.01L648.5 84.83L649 84.78L649.5 84.87L650 85.06L650.5 85.26L651 85.6ZM653 85.6L653 85.39L653.5 85.31L654 85.25L654.5 85.24L655 85.28L655.5 85.35L656 85.6ZM659.5 85.6L659.5 85.34L660 85.31L660.5 85.31L661 85.35L661.5 85.6Z" fill="#d52a2a"/>
<line x1="350" y1="92.5" x2="375.5" y2="92.5" stroke="#111" stroke-width="0.8"/>
<rect x="357" y="90.6" width="18" height="3.8" fill="#111"/>
<path d="M372 91.5 L374 92.5 L372 93.5" stroke="#fff" stroke-width="0.5" fill="none"/>
<line x1="403" y1="92.5" x2="606.5" y2="92.5" stroke="#111" stroke-width="0.8"/>
<rect x="403" y="90.6" width="3" height="3.8" fill="#111"/>
<rect x="448.8" y="90.6" width="14.2" height="3.8" fill="#111"/>
<rect x="438.5" y="90.6" width="0.9" height="3.8" fill="#111"/>
<rect x="441.5" y="90.6" width="0.9" height="3.8" fill="#111"/>
<rect x="443.5" y="90.6" width="0.9" height="3.8" fill="#111"/>
<path d="M414 91.2 L414 93.8" stroke="#111" stroke-width="0.6"/>
<path d="M424 91.2 L424 93.8" stroke="#111" stroke-width="0.6"/>
<path d="M434 91.2 L434 93.8" stroke="#111" stroke-width="0.6"/>
<path d="M470 91.2 L470 93.8" stroke="#111" stroke-width="0.6"/>
<path d="M480 91.2 L480 93.8" stroke="#111" stroke-width="0.6"/>
<path d="M490 91.2 L490 93.8" stroke="#111" stroke-width="0.6"/>
<path d="M500 91.2 L500 93.8" stroke="#111" stroke-width="0.6"/>
<path d="M510 91.2 L510 93.8" stroke="#111" stroke-width="0.6"/>
<path d="M521 91.2 L521 93.8" stroke="#111" stroke-width="0.6"/>
<path d="M530 91.2 L530 93.8" stroke="#111" stroke-width="0.6"/>
<path d="M540 91.2 L540 93.8" stroke="#111" stroke-width="0.6"/>
<path d="M550 91.2 L550 93.8" stroke="#111" stroke-width="0.6"/>
<path d="M562 91.2 L562 93.8" stroke="#111" stroke-width="0.6"/>
<path d="M575 91.2 L575 93.8" stroke="#111" stroke-width="0.6"/>
<path d="M590 91.2 L590 93.8" stroke="#111" stroke-width="0.6"/>
<path d="M604.5 90.7 L606.5 92.5 L604.5 94.3" stroke="#111" stroke-width="0.6" fill="none"/>
<text x="350" y="104.2" font-size="6.8" textLength="42.2" lengthAdjust="spacingAndGlyphs" fill="#333">NR_135922.1</text>
<text x="494.5" y="104.2" font-size="6.8" textLength="29.5" lengthAdjust="spacingAndGlyphs" fill="#333">FAM230F</text>
<text x="641" y="97" font-size="6.8" textLength="11.5" lengthAdjust="spacingAndGlyphs" fill="#333">5kb</text>
<line x1="628.4" y1="102.2" x2="663.4" y2="102.2" stroke="#999" stroke-width="1.3"/>
<text x="1" y="130.2" font-size="24.5" font-family="Liberation Serif, serif" fill="#000" stroke="#fff" stroke-width="0.3">C</text>
<text x="47.7" y="136.2" font-size="8" textLength="56" lengthAdjust="spacingAndGlyphs" fill="#c83c4a">TET2: 2149 peaks</text>
<line x1="36.3" y1="139.2" x2="115.6" y2="139.2" stroke="#d2646e" stroke-width="1.1"/>
<text x="0.9" y="153.2" font-size="8" textLength="72.3" lengthAdjust="spacingAndGlyphs" fill="#3fae74">C1QTNF6: 1660 peaks</text>
<line x1="6.1" y1="156.3" x2="67.1" y2="156.3" stroke="#4cb07e" stroke-width="1.1"/>
<circle cx="40.3" cy="198" r="30.5" fill="#98d4b6" stroke="#3a3a3a" stroke-width="0.6"/>
<circle cx="73.7" cy="198.1" r="39.6" fill="#d6808a" stroke="#3a3a3a" stroke-width="0.6"/>
<circle cx="73.7" cy="198.1" r="39.6" fill="#985a55" clip-path="url(#cg)"/>
<circle cx="40.3" cy="198" r="30.5" fill="none" stroke="#3a3a3a" stroke-width="0.6"/>
<circle cx="73.7" cy="198.1" r="39.6" fill="none" stroke="#3a3a3a" stroke-width="0.6"/>
<text x="22.2" y="201.2" font-size="8.6" text-anchor="middle" fill="#1a1a1a">728</text>
<text x="55" y="201.2" font-size="8.6" text-anchor="middle" fill="#1a1a1a">932</text>
<text x="92" y="201.2" font-size="8.6" text-anchor="middle" fill="#1a1a1a">1217</text>
<g><ellipse cx="0" cy="0" rx="58.2" ry="36.1" transform="translate(206.5 200.45) scale(1 0.93) rotate(45)" fill="#98d3b4"/><ellipse cx="0" cy="0" rx="57.9" ry="37.4" transform="translate(222.55 184.6) scale(1 0.93) rotate(45)" fill="#b2d096"/><ellipse cx="0" cy="0" rx="57.9" ry="37.4" transform="translate(237.25 184.6) scale(1 0.93) rotate(-45)" fill="#d49e73"/><ellipse cx="0" cy="0" rx="58.2" ry="36.1" transform="translate(253.3 200.45) scale(1 0.93) rotate(-45)" fill="#e0a0a8"/><g clip-path="url(#vc1)"><ellipse cx="0" cy="0" rx="57.9" ry="37.4" transform="translate(222.55 184.6) scale(1 0.93) rotate(45)" fill="#78b96e"/></g><g clip-path="url(#vc2)"><ellipse cx="0" cy="0" rx="57.9" ry="37.4" transform="translate(237.25 184.6) scale(1 0.93) rotate(-45)" fill="#b49155"/></g><g clip-path="url(#vc3)"><ellipse cx="0" cy="0" rx="58.2" ry="36.1" transform="translate(253.3 200.45) scale(1 0.93) rotate(-45)" fill="#9b786e"/></g><g clip-path="url(#vc4)"><ellipse cx="0" cy="0" rx="57.9" ry="37.4" transform="translate(237.25 184.6) scale(1 0.93) rotate(-45)" fill="#b98c4b"/></g><g clip-path="url(#vc5)"><ellipse cx="0" cy="0" rx="58.2" ry="36.1" transform="translate(253.3 200.45) scale(1 0.93) rotate(-45)" fill="#c37d6e"/></g><g clip-path="url(#vc6)"><ellipse cx="0" cy="0" rx="58.2" ry="36.1" transform="translate(253.3 200.45) scale(1 0.93) rotate(-45)" fill="#d05c52"/></g><g clip-path="url(#vc8)"><ellipse cx="0" cy="0" rx="57.9" ry="37.4" transform="translate(237.25 184.6) scale(1 0.93) rotate(-45)" fill="#a08237"/></g><g clip-path="url(#vc10)"><ellipse cx="0" cy="0" rx="58.2" ry="36.1" transform="translate(253.3 200.45) scale(1 0.93) rotate(-45)" fill="#916e3c"/></g><g clip-path="url(#vc12)"><ellipse cx="0" cy="0" rx="58.2" ry="36.1" transform="translate(253.3 200.45) scale(1 0.93) rotate(-45)" fill="#c8554b"/></g><g clip-path="url(#vc14)"><ellipse cx="0" cy="0" rx="58.2" ry="36.1" transform="translate(253.3 200.45) scale(1 0.93) rotate(-45)" fill="#c35a41"/></g><g clip-path="url(#vc17)"><ellipse cx="0" cy="0" rx="58.2" ry="36.1" transform="translate(253.3 200.45) scale(1 0.93) rotate(-45)" fill="#aa5032"/></g><ellipse cx="0" cy="0" rx="58.2" ry="36.1" transform="translate(206.5 200.45) scale(1 0.93) rotate(45)" fill="none" stroke="#3a3030" stroke-width="0.5" stroke-opacity="0.85"/><ellipse cx="0" cy="0" rx="57.9" ry="37.4" transform="translate(222.55 184.6) scale(1 0.93) rotate(45)" fill="none" stroke="#3a3030" stroke-width="0.5" stroke-opacity="0.85"/><ellipse cx="0" cy="0" rx="57.9" ry="37.4" transform="translate(237.25 184.6) scale(1 0.93) rotate(-45)" fill="none" stroke="#3a3030" stroke-width="0.5" stroke-opacity="0.85"/><ellipse cx="0" cy="0" rx="58.2" ry="36.1" transform="translate(253.3 200.45) scale(1 0.93) rotate(-45)" fill="none" stroke="#3a3030" stroke-width="0.5" stroke-opacity="0.85"/></g>
<text x="156.9" y="133.6" font-size="7.8" textLength="51.9" lengthAdjust="spacingAndGlyphs">C1QTNF6_5637</text>
<text x="258.7" y="133.6" font-size="7.8" textLength="36.6" lengthAdjust="spacingAndGlyphs">TET2_5637</text>
<text x="126.1" y="244.6" font-size="7.8" textLength="68.2" lengthAdjust="spacingAndGlyphs">C1QTNF6_C1QTNF6</text>
<text x="268.9" y="243.2" font-size="7.8" textLength="38.1" lengthAdjust="spacingAndGlyphs">TET2_TET2</text>
<text x="198.5" y="152" font-size="4.2" text-anchor="middle">24</text>
<text x="257.9" y="152" font-size="4.2" text-anchor="middle">22</text>
<text x="188" y="172" font-size="4.2" text-anchor="middle">28</text>
<text x="230.1" y="162.3" font-size="4.2" text-anchor="middle">2</text>
<text x="272.6" y="172" font-size="4.2" text-anchor="middle">0</text>
<text x="171.9" y="197.5" font-size="4.2" text-anchor="middle">760</text>
<text x="206.8" y="185.3" font-size="4.2" text-anchor="middle">9</text>
<text x="254" y="185.3" font-size="4.2" text-anchor="middle">1</text>
<text x="285.6" y="198.9" font-size="4.2" text-anchor="middle">1208</text>
<text x="230.1" y="204.7" font-size="4.2" text-anchor="middle">29</text>
<text x="195.7" y="215" font-size="4.2" text-anchor="middle">0</text>
<text x="262.9" y="217.7" font-size="4.2" text-anchor="middle">8</text>
<text x="212.9" y="227.5" font-size="4.2" text-anchor="middle">3</text>
<text x="247.6" y="227.5" font-size="4.2" text-anchor="middle">147</text>
<text x="230.1" y="238.5" font-size="4.2" text-anchor="middle">755</text>
<text x="307.6" y="127" font-size="24.5" font-family="Liberation Serif, serif" fill="#000" stroke="#fff" stroke-width="0.3">D</text>
<rect x="348.5" y="133.4" width="148.6" height="86.8" fill="none" stroke="#333" stroke-width="0.9"/>
<line x1="346.5" y1="202" x2="348.5" y2="202" stroke="#333" stroke-width="0.8"/>
<text x="345.4" y="204.5" font-size="7" text-anchor="end" fill="#333">1</text>
<line x1="346.5" y1="180.5" x2="348.5" y2="180.5" stroke="#333" stroke-width="0.8"/>
<text x="345.4" y="183" font-size="7" text-anchor="end" fill="#333">2</text>
<line x1="346.5" y1="159" x2="348.5" y2="159" stroke="#333" stroke-width="0.8"/>
<text x="345.4" y="161.5" font-size="7" text-anchor="end" fill="#333">3</text>
<line x1="346.5" y1="137.5" x2="348.5" y2="137.5" stroke="#333" stroke-width="0.8"/>
<text x="345.4" y="140" font-size="7" text-anchor="end" fill="#333">4</text>
<line x1="348.5" y1="220.2" x2="348.5" y2="222.2" stroke="#333" stroke-width="0.8"/>
<line x1="422.8" y1="220.2" x2="422.8" y2="222.2" stroke="#333" stroke-width="0.8"/>
<line x1="497.1" y1="220.2" x2="497.1" y2="222.2" stroke="#333" stroke-width="0.8"/>
<text x="348.2" y="229.8" font-size="7.4" textLength="11.8" lengthAdjust="spacingAndGlyphs" fill="#333">-3.0</text>
<text x="405.8" y="229.8" font-size="7.4" textLength="37.6" lengthAdjust="spacingAndGlyphs" fill="#333">Peak center</text>
<text x="481.8" y="229.8" font-size="7.4" textLength="18.2" lengthAdjust="spacingAndGlyphs" fill="#333">3.0Kb</text>
<text x="384.7" y="244.5" font-size="7.4" textLength="78.2" lengthAdjust="spacingAndGlyphs" fill="#333">Genomic Region (5' &gt; 3')</text>
<text x="334.4" y="224.2" font-size="6.3" textLength="91.8" lengthAdjust="spacingAndGlyphs" fill="#333" transform="rotate(-90 334.4 224.2)">Read count per million mapped reads</text>
<path d="M348.5 215.54C349.58 215.62 352.45 215.97 355 215.97C357.55 215.97 359.9 215.65 363.8 215.54C367.7 215.44 374.27 215.33 378.4 215.33C382.53 215.33 385.68 215.69 388.6 215.54C391.52 215.4 394 214.83 395.9 214.47C397.8 214.11 398.78 213.75 400 213.4C401.22 213.04 401.98 212.93 403.2 212.32C404.42 211.71 406.08 210.67 407.3 209.74C408.52 208.81 409.53 207.84 410.5 206.73C411.47 205.62 412.27 204.76 413.1 203.07C413.93 201.39 414.77 198.7 415.5 196.62C416.23 194.55 416.68 192.83 417.5 190.6C418.32 188.38 419.5 184.87 420.4 183.29C421.3 181.72 421.92 181 422.9 181.15C423.88 181.29 425.25 182.33 426.3 184.16C427.35 185.98 428.12 189.06 429.2 192.11C430.28 195.16 431.33 199.64 432.8 202.43C434.27 205.22 436.17 207.2 438 208.88C439.83 210.56 441.62 211.64 443.8 212.53C445.98 213.43 447.45 213.82 451.1 214.25C454.75 214.69 460.83 214.97 465.7 215.12C470.57 215.26 475.07 215.04 480.3 215.12C485.53 215.19 494.3 215.47 497.1 215.54" fill="none" stroke="#8cbc4a" stroke-width="0.9"/>
<path d="M348.5 211.46C349.83 211.46 353.95 211.53 356.5 211.46C359.05 211.39 361.85 211.21 363.8 211.03C365.75 210.85 366.73 210.67 368.2 210.38C369.67 210.1 371.15 209.31 372.6 209.31C374.05 209.31 375.2 209.88 376.9 210.38C378.6 210.89 380.85 212 382.8 212.32C384.75 212.64 386.65 212.64 388.6 212.32C390.55 212 392.55 211.17 394.5 210.38C396.45 209.6 398.37 208.66 400.3 207.59C402.23 206.52 404.4 205.05 406.1 203.94C407.8 202.82 409.28 202.04 410.5 200.93C411.72 199.81 412.55 199.24 413.4 197.27C414.25 195.3 414.92 193.83 415.6 189.1C416.28 184.37 416.7 175.91 417.5 168.89C418.3 161.87 419.5 152.19 420.4 146.96C421.3 141.73 422.05 137.5 422.9 137.5C423.75 137.5 424.57 141.73 425.5 146.96C426.43 152.19 427.52 162.33 428.5 168.89C429.48 175.45 430.43 181.72 431.4 186.31C432.37 190.89 433.2 193.97 434.3 196.41C435.4 198.85 436.42 199.21 438 200.93C439.58 202.65 441.62 205.26 443.8 206.73C445.98 208.2 448.67 209.02 451.1 209.74C453.53 210.46 455.97 210.74 458.4 211.03C460.83 211.32 463.27 211.64 465.7 211.46C468.13 211.28 470.93 210.46 473 209.96C475.07 209.45 476.63 208.56 478.1 208.45C479.57 208.34 480.22 208.88 481.8 209.31C483.38 209.74 485.67 210.78 487.6 211.03C489.53 211.28 491.82 210.92 493.4 210.81C494.98 210.71 496.48 210.46 497.1 210.38" fill="none" stroke="#3aae86" stroke-width="0.9"/>
<line x1="430" y1="140" x2="439.4" y2="140" stroke="#8cbc4a" stroke-width="0.9"/>
<line x1="430" y1="148.4" x2="439.4" y2="148.4" stroke="#3aae86" stroke-width="0.9"/>
<text x="442.8" y="142.1" font-size="5.6" textLength="39.7" lengthAdjust="spacingAndGlyphs" fill="#333">C1QTNF6_5637</text>
<text x="442.8" y="150.5" font-size="5.6" textLength="52.1" lengthAdjust="spacingAndGlyphs" fill="#333">C1QTNF6_C1QTNF6</text>
<rect x="532.3" y="131.3" width="148.5" height="86.9" fill="none" stroke="#333" stroke-width="0.9"/>
<line x1="530.3" y1="217.1" x2="532.3" y2="217.1" stroke="#333" stroke-width="0.8"/>
<text x="529" y="219.6" font-size="7" text-anchor="end" fill="#333">0</text>
<line x1="530.3" y1="194.2" x2="532.3" y2="194.2" stroke="#333" stroke-width="0.8"/>
<text x="529" y="196.7" font-size="7" text-anchor="end" fill="#333">1</text>
<line x1="530.3" y1="171.3" x2="532.3" y2="171.3" stroke="#333" stroke-width="0.8"/>
<text x="529" y="173.8" font-size="7" text-anchor="end" fill="#333">2</text>
<line x1="530.3" y1="148.4" x2="532.3" y2="148.4" stroke="#333" stroke-width="0.8"/>
<text x="529" y="150.9" font-size="7" text-anchor="end" fill="#333">3</text>
<line x1="532.3" y1="218.2" x2="532.3" y2="220.2" stroke="#333" stroke-width="0.8"/>
<line x1="606.55" y1="218.2" x2="606.55" y2="220.2" stroke="#333" stroke-width="0.8"/>
<line x1="680.8" y1="218.2" x2="680.8" y2="220.2" stroke="#333" stroke-width="0.8"/>
<text x="532.1" y="228.3" font-size="7.4" textLength="12" lengthAdjust="spacingAndGlyphs" fill="#333">-3.0</text>
<text x="590.1" y="228.3" font-size="7.4" textLength="37.2" lengthAdjust="spacingAndGlyphs" fill="#333">Peak center</text>
<text x="665.4" y="228.3" font-size="7.4" textLength="17.9" lengthAdjust="spacingAndGlyphs" fill="#333">3.0Kb</text>
<text x="568.5" y="242.4" font-size="7.4" textLength="77.7" lengthAdjust="spacingAndGlyphs" fill="#333">Genomic Region (5' &gt; 3')</text>
<text x="521.9" y="220.7" font-size="6.3" textLength="91.7" lengthAdjust="spacingAndGlyphs" fill="#333" transform="rotate(-90 521.9 220.7)">Read count per million mapped reads</text>
<path d="M532.6 214.12C535.5 214.12 544.03 214.16 550 214.12C555.97 214.08 562.42 214.08 568.4 213.89C574.38 213.7 581.77 213.36 585.9 212.98C590.03 212.6 591.25 212.21 593.2 211.6C595.15 210.99 596.13 210.42 597.6 209.31C599.07 208.21 600.5 205.99 602 204.96C603.5 203.93 605.1 203.09 606.6 203.13C608.1 203.17 609.58 204.2 611 205.19C612.42 206.18 613.48 208.02 615.1 209.09C616.72 210.15 618.37 210.92 620.7 211.6C623.03 212.29 624.9 212.83 629.1 213.21C633.3 213.59 640.32 213.82 645.9 213.89C651.48 213.97 656.78 213.7 662.6 213.66C668.42 213.63 677.77 213.66 680.8 213.66" fill="none" stroke="#4a5ea8" stroke-width="0.9"/>
<path d="M532.6 206.11C533.7 205.99 537.37 205.73 539.2 205.42C541.03 205.12 541.65 204.54 543.6 204.28C545.55 204.01 548.47 204.12 550.9 203.82C553.33 203.51 556.02 202.44 558.2 202.44C560.38 202.44 562.05 203.47 564 203.82C565.95 204.16 567.7 204.66 569.9 204.5C572.1 204.35 574.77 203.47 577.2 202.9C579.63 202.33 582.32 201.76 584.5 201.07C586.68 200.38 588.6 199.89 590.3 198.78C592 197.67 593.48 196.38 594.7 194.43C595.92 192.48 596.75 190.73 597.6 187.1C598.45 183.48 599.07 178.02 599.8 172.67C600.53 167.33 601.27 160.42 602 155.04C602.73 149.66 603.42 143.71 604.2 140.38C604.98 137.06 605.8 134.77 606.7 135.12C607.6 135.46 608.65 138.44 609.6 142.45C610.55 146.45 611.48 153.13 612.4 159.16C613.32 165.19 614.18 173.51 615.1 178.63C616.02 183.74 616.73 186.95 617.9 189.85C619.07 192.75 620.47 194.39 622.1 196.03C623.73 197.67 625.6 198.74 627.7 199.7C629.8 200.65 632.13 201.11 634.7 201.76C637.27 202.41 640.53 203.4 643.1 203.59C645.67 203.78 647.77 203.28 650.1 202.9C652.43 202.52 655.25 201.72 657.1 201.3C658.95 200.88 659.82 200.19 661.2 200.38C662.58 200.57 664 201.87 665.4 202.44C666.8 203.02 667.73 203.78 669.6 203.82C671.47 203.86 674.73 202.9 676.6 202.67C678.47 202.44 680.1 202.48 680.8 202.44" fill="none" stroke="#d8404a" stroke-width="0.9"/>
<line x1="629.8" y1="138.2" x2="639.2" y2="138.2" stroke="#e08c3c" stroke-width="0.9"/>
<line x1="629.8" y1="146.5" x2="639.2" y2="146.5" stroke="#d8404a" stroke-width="0.9"/>
<text x="642.8" y="140.3" font-size="5.6" textLength="27.9" lengthAdjust="spacingAndGlyphs" fill="#333">TET2_5637</text>
<text x="642.8" y="148.6" font-size="5.6" textLength="28.9" lengthAdjust="spacingAndGlyphs" fill="#333">TET2_TET2</text>
<text x="0.2" y="305" font-size="24.5" font-family="Liberation Serif, serif" fill="#000" stroke="#fff" stroke-width="0.3">E</text>
<line x1="106.4" y1="292.39" x2="106.4" y2="378" stroke="#555" stroke-width="1.1"/>
<line x1="106.4" y1="378" x2="163.4" y2="378" stroke="#555" stroke-width="1.1"/>
<line x1="102.2" y1="378" x2="106.4" y2="378" stroke="#555" stroke-width="0.9"/>
<text x="99.6" y="380.2" font-size="6.1" text-anchor="end" textLength="3.12" lengthAdjust="spacingAndGlyphs" fill="#333">0</text>
<line x1="102.2" y1="349.63" x2="106.4" y2="349.63" stroke="#555" stroke-width="0.9"/>
<text x="99.6" y="351.83" font-size="6.1" text-anchor="end" textLength="15.6" lengthAdjust="spacingAndGlyphs" fill="#333">50000</text>
<line x1="102.2" y1="321.26" x2="106.4" y2="321.26" stroke="#555" stroke-width="0.9"/>
<text x="99.6" y="323.46" font-size="6.1" text-anchor="end" textLength="18.72" lengthAdjust="spacingAndGlyphs" fill="#333">100000</text>
<line x1="102.2" y1="292.89" x2="106.4" y2="292.89" stroke="#555" stroke-width="0.9"/>
<text x="99.6" y="295.09" font-size="6.1" text-anchor="end" textLength="18.72" lengthAdjust="spacingAndGlyphs" fill="#333">150000</text>
<line x1="104" y1="363.81" x2="106.4" y2="363.81" stroke="#555" stroke-width="0.9"/>
<line x1="104" y1="335.44" x2="106.4" y2="335.44" stroke="#555" stroke-width="0.9"/>
<line x1="104" y1="307.07" x2="106.4" y2="307.07" stroke="#555" stroke-width="0.9"/>
<rect x="115.1" y="371.1" width="14.8" height="6.9" fill="#b2d096"/>
<text x="112.8" y="365.7" font-size="7" textLength="19.9" lengthAdjust="spacingAndGlyphs">13426</text>
<rect x="139.5" y="309.9" width="14.7" height="68.1" fill="#68bb8c"/>
<text x="135" y="305.7" font-size="7" textLength="23.8" lengthAdjust="spacingAndGlyphs">122142</text>
<line x1="122.2" y1="378" x2="122.2" y2="381.4" stroke="#555" stroke-width="0.8"/>
<line x1="146.5" y1="378" x2="146.5" y2="381.4" stroke="#555" stroke-width="0.8"/>
<text x="64.9" y="360.6" font-size="7.1" textLength="50.2" lengthAdjust="spacingAndGlyphs" fill="#333" transform="rotate(-90 64.9 360.6)">Total read count</text>
<text x="72.5" y="375.8" font-size="7.1" textLength="80.6" lengthAdjust="spacingAndGlyphs" fill="#333" transform="rotate(-90 72.5 375.8)">per million mapped reads</text>
<text x="126.6" y="390" font-size="7" text-anchor="end" textLength="49.6" lengthAdjust="spacingAndGlyphs" transform="rotate(-45 126.6 390)">C1QTNF6_5637</text>
<text x="152" y="389.3" font-size="7" text-anchor="end" textLength="65.8" lengthAdjust="spacingAndGlyphs" transform="rotate(-45 152 389.3)">C1QTNF6_C1QTNF6</text>
<line x1="110.4" y1="457.7" x2="110.4" y2="543.4" stroke="#555" stroke-width="1.1"/>
<line x1="110.4" y1="543.4" x2="167.4" y2="543.4" stroke="#555" stroke-width="1.1"/>
<line x1="106.2" y1="543.4" x2="110.4" y2="543.4" stroke="#555" stroke-width="0.9"/>
<text x="103.8" y="545.6" font-size="6.1" text-anchor="end" textLength="3.12" lengthAdjust="spacingAndGlyphs" fill="#333">0</text>
<line x1="106.2" y1="526.36" x2="110.4" y2="526.36" stroke="#555" stroke-width="0.9"/>
<text x="103.8" y="528.56" font-size="6.1" text-anchor="end" textLength="15.6" lengthAdjust="spacingAndGlyphs" fill="#333">50000</text>
<line x1="106.2" y1="509.32" x2="110.4" y2="509.32" stroke="#555" stroke-width="0.9"/>
<text x="103.8" y="511.52" font-size="6.1" text-anchor="end" textLength="18.72" lengthAdjust="spacingAndGlyphs" fill="#333">100000</text>
<line x1="106.2" y1="492.28" x2="110.4" y2="492.28" stroke="#555" stroke-width="0.9"/>
<text x="103.8" y="494.48" font-size="6.1" text-anchor="end" textLength="18.72" lengthAdjust="spacingAndGlyphs" fill="#333">150000</text>
<line x1="106.2" y1="475.24" x2="110.4" y2="475.24" stroke="#555" stroke-width="0.9"/>
<text x="103.8" y="477.44" font-size="6.1" text-anchor="end" textLength="18.72" lengthAdjust="spacingAndGlyphs" fill="#333">200000</text>
<line x1="106.2" y1="458.2" x2="110.4" y2="458.2" stroke="#555" stroke-width="0.9"/>
<text x="103.8" y="460.4" font-size="6.1" text-anchor="end" textLength="18.72" lengthAdjust="spacingAndGlyphs" fill="#333">250000</text>
<line x1="108" y1="534.88" x2="110.4" y2="534.88" stroke="#555" stroke-width="0.9"/>
<line x1="108" y1="517.84" x2="110.4" y2="517.84" stroke="#555" stroke-width="0.9"/>
<line x1="108" y1="500.8" x2="110.4" y2="500.8" stroke="#555" stroke-width="0.9"/>
<line x1="108" y1="483.76" x2="110.4" y2="483.76" stroke="#555" stroke-width="0.9"/>
<line x1="108" y1="466.72" x2="110.4" y2="466.72" stroke="#555" stroke-width="0.9"/>
<rect x="118.7" y="542.5" width="16.3" height="0.9" fill="#c8c8c8"/>
<text x="118.7" y="538.5" font-size="7" textLength="15.7" lengthAdjust="spacingAndGlyphs">2631</text>
<rect x="143.7" y="475.9" width="14.9" height="67.5" fill="#d25464"/>
<text x="138.5" y="470.7" font-size="7" textLength="23.6" lengthAdjust="spacingAndGlyphs">200331</text>
<line x1="126.6" y1="543.4" x2="126.6" y2="546.8" stroke="#555" stroke-width="0.8"/>
<line x1="150.7" y1="543.4" x2="150.7" y2="546.8" stroke="#555" stroke-width="0.8"/>
<text x="68.1" y="525.3" font-size="7.1" textLength="49" lengthAdjust="spacingAndGlyphs" fill="#333" transform="rotate(-90 68.1 525.3)">Total read count</text>
<text x="75.7" y="540.2" font-size="7.1" textLength="78.8" lengthAdjust="spacingAndGlyphs" fill="#333" transform="rotate(-90 75.7 540.2)">per million mapped reads</text>
<text x="129.9" y="553.9" font-size="7" text-anchor="end" textLength="36.4" lengthAdjust="spacingAndGlyphs" transform="rotate(-45 129.9 553.9)">TET2_5637</text>
<text x="154.7" y="555.4" font-size="7" text-anchor="end" textLength="38.3" lengthAdjust="spacingAndGlyphs" transform="rotate(-45 154.7 555.4)">TET2_TET2</text>
<text x="167.6" y="305.2" font-size="24.5" font-family="Liberation Serif, serif" fill="#000" stroke="#fff" stroke-width="0.3">F</text>
<text x="1.2" y="648.8" font-size="24.5" font-family="Liberation Serif, serif" fill="#000" stroke="#fff" stroke-width="0.3">G</text>
<g><rect x="210.2" y="303" width="62" height="233.3" fill="url(#h1_9)"/><rect x="210.2" y="303" width="62" height="233.3" fill="url(#h1_8)" mask="url(#k1_8)"/><rect x="210.2" y="303" width="62" height="174.97" fill="url(#h1_7)" mask="url(#k1_7)"/><rect x="210.2" y="303" width="62" height="128.31" fill="url(#h1_6)" mask="url(#k1_6)"/><rect x="210.2" y="303" width="62" height="83.99" fill="url(#h1_5)" mask="url(#k1_5)"/><rect x="210.2" y="303" width="62" height="51.33" fill="url(#h1_4)" mask="url(#k1_4)"/><rect x="210.2" y="303" width="62" height="28" fill="url(#h1_3)" mask="url(#k1_3)"/><rect x="210.2" y="303" width="62" height="14" fill="url(#h1_2)" mask="url(#k1_2)"/><rect x="210.2" y="303" width="62" height="7" fill="url(#h1_1)" mask="url(#k1_1)"/><rect x="210.2" y="303" width="62" height="2.33" fill="url(#h1_0)" mask="url(#k1_0)"/></g>
<path d="M236.99 408.59H246.38M249.1 368.12H259.07M243.97 407.04H247.38M227.84 474.73H236.19M229.38 403.6H238.69M225.15 451.91H233.9M215.03 420.3H218.54M265.27 386.11H271.8M228.05 396.33H237.2M223.61 434.23H231.69M255.2 429.91H264.93M256.77 470.97H266.09M261.36 411.06H271.15M210.6 364.75H214.88M213.6 442.81H217.61M219.49 365H222.19M235.52 464.87H242.24M210.6 424.13H215.31M237.2 467.22H242.81M228.12 363.8H230.64M218.01 352.59H224.38M252.1 403.41H255.85M257.71 368.46H260.3M210.77 393.55H217.58M249.7 405.92H254.04M213.91 469.04H220.16M225.22 361.39H231.52M234.28 385.79H237.86M211.72 411.54H213.84M246.07 388.47H251.69M235.49 483.01H241.28M210.6 428.74H213.6M211.21 356.12H215.04M224.38 386.17H228.37M220.31 381.73H227.37M263.42 337.82H265.72M252.57 429.37H255.63M236.65 377.31H241.16M266.93 346.07H271.8M260.49 472.73H266.93M210.6 370.17H214.4M215.31 443.23H221.4M238.18 487.17H240.55M215.33 451.89H219.94M225.49 402.41H234.19M216.78 335.34H225.49M256.25 371.44H265.79M213.35 382.06H222.43M237.18 459.67H241.85M227.78 444.95H234.69M222.26 379.19H232.2M240.96 389H245.47M223.41 445.05H225.81M267.3 383.73H271.8M264.67 363.77H271.14M261.02 479.95H269.97M213.64 438.75H220.81M244.9 446.56H250.39M264.58 359.24H270.42M258.02 407.72H265.23M210.6 438.39H213.89M256.08 370.14H258.29M225.32 454.28H233.29M254.05 447.47H260.52M253.65 405.35H257.85M210.6 410.36H216.67M253.09 413.02H257.14M260.9 364.75H269.58M226.35 414.83H230.46M260.8 454.82H268.82M236.81 412.72H239.72M212.81 429.49H221.64M247.66 421.68H252.06M224.46 387.92H228.62M251.72 408.45H257.99M259.56 423.41H265.96M218.67 462.33H222.33M261.45 451.87H263.96M228.52 458.77H230.75M261.67 454.26H267.64" stroke="#edc576" stroke-opacity="0.55" stroke-width="1.0"/>
<path d="M224.84 422.42H233.18M238.11 405.84H244.26M258.86 393.73H265.5M214.62 409.16H223.25M241.51 417.93H244.2M235.05 418.61H237.52M244.38 358.88H253.52M269.05 363.45H271.8M253.82 353.04H256.48M267.63 342.45H271.8M234.77 375.01H244.24M238.65 410.74H243.73M238.6 453.33H245.87M255.16 358.17H263.34M266.05 362.32H269.98M238.03 418.98H241.3M248.36 384.13H254.88M241.21 395H247.16M215.66 328.38H219.67M217.91 351.53H226.92M249.06 409.61H258.59M212.8 389.43H217.96M238.5 376.54H242.34M267.87 430.83H270.81M214.62 409.38H218.47M225.4 381.45H227.52M220.84 362.37H229.11M256.97 370.19H264.9M216.9 331.41H226.42M213.63 425.86H216.28M213.98 453.97H219.63M246.5 402.37H254.46M261.61 394.33H264.45M262.38 417.12H264.6M257.37 355.53H261.78M237.73 392.5H243.68M210.94 329.74H213.15M228.14 426.98H234.97M215.74 396.34H223.16M267.73 351.93H270.32M249.85 396.39H254.18M251.78 434.29H259.81M240.26 371.22H246.46M246.51 440.33H249.81M210.6 372.27H213.86M214.43 318.27H224.05M231.34 405.96H239.65M222.91 360.75H232.21M252.89 359.69H261.11M223 438.73H228.04M250.71 415.1H255.07M252.46 458.47H255.19M222.2 442.73H231.84M218.39 380.94H224.03M245.05 407.19H252.48M265.45 421.39H271.8M258.19 372.79H265.58M213.78 379.7H215.84M234.44 453.46H238.45M248.85 449.03H252.26M242 422.94H245.11M236.82 375.87H239.24M245.62 352.9H252.42M251.8 419.09H258.59M240.92 463.93H247.67M228.17 326.93H232.24M227.2 429.98H236.61M243.58 362.24H248.29M233.06 377.52H241.85M253.87 437.81H258.88M245.04 365.87H254.83M227.99 403.82H230.08M210.6 341.38H215.85M215.03 424.19H222.47M259.16 429.75H264.51M212.85 360.47H215.7M234.58 352.98H237.52M211.38 390.39H217.34M241.28 419.61H247.32M223.16 423.32H228.45M210.7 397.08H217.7M211.17 428.29H218.7M237.72 357.17H245.41M237.53 435.17H244.6M253.64 349.41H259.13M224.35 344.62H232.27M247.51 430.73H250.57M234.1 433.7H242.19M227.59 373H231.99M210.6 431.4H215.62" stroke="#ecbd6e" stroke-opacity="0.55" stroke-width="1.0"/>
<path d="M245.81 464.59H255.67M241.55 505.86H249.88M213.52 514.02H222.98M211.32 489.59H217.25M214.14 494.47H218.3M226.38 533.85H230.03M215.99 441.19H219.8M230.34 456.87H232.49M232.77 464.93H236.68M239.35 506.27H242.57M217.01 476.55H220.94M250.53 503.91H255.6M210.6 533.2H216.68M262.78 524.27H270.42M213.87 452.88H216.24M265.61 471.54H271.8M210.6 492.76H213.59M253.53 530.31H258.74M249.64 509.57H256.62M214.42 533.56H224.37M265.38 510.24H271.8M240.32 464.66H249.11M252.63 479.89H257.99M223.23 460.59H228.32M211.77 463.56H220.08M244.76 508.84H248.9M211.48 481.29H219.27M219.73 521.91H228.99M227.17 452.94H231.96M249.51 533.64H256.91M238.18 523.7H241.97M210.6 534.76H213.81M254.42 466.74H262.71M242.24 498.85H251.68M223.19 499.08H226.37M219.82 464.05H222.56M227.08 522.08H236.25M254.69 489.2H263.98M244.72 529.65H251.65M234.54 471.82H237.26M230.97 524.85H240.04M223.75 465.23H230.73M239.4 475.78H245.49M249.67 512.5H257.77M245.71 524.76H252.8M265.43 509.69H271.8M267.64 504.33H271.8M260.31 455.21H266.55M231.1 499.77H239.07M229.72 455.65H237.99M249.81 535.32H258.61M255.11 517.51H263.72M225.78 492.48H234.86M249.69 454.25H259.5M244.99 485.63H253.41" stroke="#f0d98e" stroke-opacity="0.55" stroke-width="1.0"/>
<path d="M223.96 306.98H226.44M249.03 327.62H258.73M210.6 307.66H215.32M259.21 336.14H265.34M259.36 307.08H267.77M261.71 345.71H270.51M214.43 345.47H221.98M241.13 327.74H244.37M265.24 310.79H270.26M217.24 328.91H226.21M230.95 359.56H233.51M242.51 320.41H247.18M225.73 314.82H235.59M269.35 303.74H271.8M249.19 336.93H252.06M234.97 319.25H242.75M256.27 332.96H262.49M259.07 325.91H261.52M221.01 327.43H223.69M216.63 339.74H219.57M220.6 319.18H228.83M211.14 310.14H217.98M263.49 322.19H270.66M212.1 331.55H217.9M241.94 319.82H247.32M260.38 349.23H267.06M231.41 312.4H236.32M240.91 318.68H247.72M251.65 313.73H260.58M226.15 344.98H235.11M219.62 339H222.53" stroke="#eaa458" stroke-opacity="0.55" stroke-width="1.0"/>
<path d="M258.62 370.64H266.75M233.77 342.79H237.97M212.71 350.18H222M250.11 315.59H253.11M253.63 320.77H262.1M210.6 330.17H218.17M251.94 306.03H256.91M241.34 306.37H249.02M217.64 336.21H225.06M243.94 349.85H247.08M244.18 364.58H246.76M230.13 375.33H238.84M245.63 395.48H252.03M250.01 369.68H254.3M220.82 317.84H227.2M237.7 373.46H244.41M230.86 320.91H236.39M222.22 357.76H230.06M242.21 374.81H245.19M253.17 338.42H257.35M238.05 314.28H241.08M269.92 363.78H271.8M252.71 329.2H262.22M245.85 325.72H254.46M250.34 344.39H257.19M254.46 305.14H262.32M220.53 352.15H229.26M248.37 354.95H255.94M213.53 362.31H216.24M240.38 360.2H248.72M223.83 332.2H232.92M246.95 348.43H253.13M217.13 314.28H223.03M266.97 327.89H270.99M242.27 327.29H246.25M251.08 363.1H257.73M253.31 372.74H263.15M266.63 336.7H271.8M242.4 331.35H251.78M236.72 352.02H241.89M265.56 320.08H269.42M262.37 320.7H271.8M242.67 362.91H245.3M226.59 316.39H234.95M251.28 346.01H259.67M266.97 340.65H270.69M229.03 402.99H237.23M256.17 320.91H265.45M210.6 371.26H215.01M262.19 353.34H267.59M231.14 322.72H235.77M219.83 319.5H229.44M212.81 324.05H216.98M248.46 367.32H258.4M218.04 329.33H222.77M249.71 351.09H257.25M263.96 344.62H266.63M217.28 387.68H225.97" stroke="#ebad5e" stroke-opacity="0.55" stroke-width="1.0"/>
<path d="M237.5 500.33H241.18M270.47 438.86H271.8M246.24 512.7H250.78M210.6 411.97H213.74M221.28 442.79H231.14M210.6 477.34H219.71M267.94 438.75H271.8M253.47 489.86H258.84M210.6 430.65H216.21M270.27 430.77H271.8M232.66 515.19H239.99M220.27 507.86H223.88M225.99 472.03H229.17M266.18 446.42H271.08M261.9 445.16H270.02M218.29 391.87H227.6M249.78 519.88H259.22M256.21 516.54H264.59M260.39 469.83H266.24M229.76 517.35H234.95M263.88 509.27H266.93M210.6 438.01H217.71M265.35 472.42H268.6M250.28 508.19H260.15M256.95 491.31H266.25M260.74 450.43H264.34M236 470.84H238.23M244.63 420.92H248.44M256.34 403.2H264.38M210.6 513.23H215.56M216.45 499.83H226.07M227.06 472.67H230.18M266.58 403.89H269.82M227.58 475.52H229.76M263.73 435.92H267.47M228.27 479.93H234.72M251.56 474.98H260.54M251.42 428.16H258.36M235.69 435.13H242.47M213.02 514.59H221.87M247.68 510.35H257.37M218.22 429.7H220.68" stroke="#f7f8cd" stroke-opacity="0.55" stroke-width="1.0"/>
<path d="M211.49 320.47H219.72M250.57 310.42H256.42M219.66 310.1H222.18M240.16 339.95H244.24M240.96 324.63H244.63M262.37 308.24H267.45M267.42 309.2H271.8M225.21 307.07H229.73M257.52 315.82H261.54M247.3 303.88H251.45M230.17 317.39H238.74M223.87 315.42H233.15M246.45 304.48H249.11M215.5 307.19H223.96M252.55 305.06H258.64M248.91 324.57H252.76M228.47 309.84H231.23" stroke="#ea9b52" stroke-opacity="0.55" stroke-width="1.0"/>
<path d="M211.93 479.59H215.9M225.12 475.58H234.34M266.34 414.45H270.29M213.5 476.82H218.93M219.16 441.67H222.64M262.3 430.85H268.14M210.6 365.41H211.89M252.53 380.49H254.65M241.17 495.07H250.35M252.93 387.38H262.42M258.97 447.72H264.3M253.59 474.33H262.01M262.27 489.33H270.44M251.3 445.21H254.87M242.16 391.21H247.62M210.91 472.25H219.23M245.9 404.08H254M246 435.25H251.96M240.37 394.1H246.12M210.6 460.33H216.14M228.43 398.88H235.61M247.91 445.71H249.95M224.9 437.95H231.11M237.47 401.52H241.63M243.24 417.55H250.42M225.86 427.79H235.38M219.79 417.39H225.08M246.86 420.29H252.56M214.32 358.9H216.78M215.55 475.47H218.94M210.6 384.63H211.52M214.45 375.09H222.62M243.34 454.2H247.39M224.86 475.22H227.15M270.05 425.64H271.8M245.17 416.25H253.13M266.27 424.55H271.8M222.83 356.79H231.13M255.23 490.78H259.15" stroke="#f7f5c4" stroke-opacity="0.55" stroke-width="1.0"/>
<path d="M216.56 433.42H220.08M263.11 475.27H266.68M216 525.78H220.15M251.02 484.53H254.57M237.93 447.47H245.77M254.91 480.45H257.1M218.94 442.31H221.3M253.54 462.63H260.27M264.62 486.57H267.27M249.54 481.14H254.24M222.24 514.73H225.11M254.71 525.46H263.57M264.44 423.38H271.8M256.25 433.67H265.52M246 526.35H251.76M258.23 478.12H268.19M239.87 441.36H242.86M254.71 476.94H263.94M228.36 524.41H232.31M238.02 452.16H247.89M231.51 463.94H239.81M211.22 450.43H216.64M262.82 496.56H267.49M215.23 465.04H224.94M257.56 505.56H261.6M267.62 521.33H271.8M227.45 427.99H230.34M267.66 499.17H271.8M222.36 481.15H225.14M252.27 503.19H259.14M266.23 517.05H270.31M268.25 512.97H271.8M239.79 502.19H245.96M243.8 518.19H247.08M264.16 463.16H270.64M224 419.07H231.13M246.55 485.94H253.1M222.79 503.86H228.58M247.04 524.13H254.39M250.61 480.44H257.24M220.61 492.2H227.49M210.6 442.9H212.75M268.6 444.47H271.8M218.44 485.35H222.06M227.89 524.19H231.88M230.91 482.35H239.92M215.25 488.99H219.67M249.23 424.42H254.93M231.29 435.18H233.66M224.75 533.82H233.19M237.22 461.63H246.4M211.44 473.38H215.26M247.41 487.56H256.56M239.72 476.98H245.8M240.94 518.44H249.73M233.43 461.6H236.3M210.6 530.53H214.21M266.82 435.25H271.8M250.81 493.65H256.38M252.23 518.47H255.17M263.44 504.77H271.5M260.61 504.88H263.89M259.71 462.34H268.59M230.89 522.98H239.03M230.03 517.62H234.57M250.25 527.56H252.35M237.99 525.44H240.36M255.33 461.15H259.68M220.09 421.58H223.42M214.64 451.39H219.55M210.6 410.98H215.4M217.69 401.85H227.14M251.36 491.84H260.34M250.27 405.15H256.75M245.84 448.15H250.38M246.61 428.77H250.79M258.6 417.42H268.32M224.51 460.96H226.9M266.81 463.66H270.51M253.1 470.91H260.99M214.83 517.67H223.85M216.93 486.95H225.56M235.89 462.41H243.2M255.41 482.41H258.38M228.26 497.41H237.17M228.22 520.81H231.91M238.06 460.25H246.67M238.47 450.2H247.13M210.6 532.8H213.47M251.21 449.5H261.12" stroke="#efd487" stroke-opacity="0.55" stroke-width="1.0"/>
<path d="M257.93 401.24H262.09M212.43 363.5H217.07M267.18 359.95H271.8M210.6 376.76H219.76M255.99 313.14H262.56M254 383.82H260.17M218.34 345.61H226.26M257.84 395.4H261.4M223.53 372.77H228.67M243.95 391.22H252.26M257.27 349.14H261.15M227.45 358.78H231.93M217.18 359.21H221.92M227.04 316.19H233.73M222.83 338.31H226.66M210.6 391.07H212.97M238.41 415.8H242.03M255.62 342.72H258.22M257.99 356.29H262.94M211.42 385.75H220.66M234.17 384.88H236.25M248.93 412.49H254.65M242.93 399.65H246.67M235.72 403.22H240.58M240.04 383.94H244.84M266.22 357.73H271.19M264.52 335.02H271.8M264.01 400.36H269.69M235.31 402.5H244.88M222.74 385.59H226.02M245.08 370.67H250.44M235.4 366.84H242.96M219.04 343.74H228.24M210.6 364.42H217.64M266.57 358.6H271.8M210.96 347.56H213.59M210.6 314.34H215.92M218.82 347.87H222.42M236.81 340.77H241.29M234.64 385.65H239.49M237.97 405.97H240.89M226.18 359.12H233.75M225.15 325.45H231.12M225.93 395.42H228.13M254.93 316.34H262.96M231.32 374.23H234.57M220.82 367.64H224.89M246.49 324.71H252.55M230.47 337.49H237.46M214.47 330.78H217.5M260.29 388.82H263.83M263.14 324.61H269.05M247.18 322.51H251.87M215.78 347.53H223.83M231.88 342.03H239.32M217.85 355.52H224.79M268.27 312.24H271.8M250.1 395.37H259.35M213.33 364.82H221.44M214.92 332.24H224.38M245.63 325.57H250.49M211.03 414.88H214.47M242.19 344.3H244.75M247.63 419.61H257.36M223.26 345.83H230.35M213.79 341.49H219.7M216.45 414.02H226.33" stroke="#ecb566" stroke-opacity="0.55" stroke-width="1.0"/>
<path d="M212 352.45H220.84M220.27 336.92H227.46M237.86 375.84H240.47M227.51 380.02H234.01M244.21 354.89H250.2M262.67 388.49H264.97M234.95 375.58H238.12M210.6 377.22H217.87M225.86 309.11H233.12M257.96 361.51H260.9M248.74 347.93H257.43M262.53 395.82H271.58M268.08 349.39H271.8M252.88 333.12H256.8M264.99 364.3H271.8M243.14 316.05H252.43M234.93 374.47H237.92M217.39 318.11H220.03M267.27 321.84H269.96M242.23 320.75H251.29M224.43 307.95H229.33" stroke="#f5ecab" stroke-opacity="0.55" stroke-width="1.0"/>
<path d="M259.29 504.79H262.52M220.73 501.51H224.97M242.81 510.47H250.06M251.2 517.32H253.29M227.7 513.9H233.24M238.3 512.69H247.11M231.01 496.81H239.33M227.5 481.26H235.28M245.49 530.88H252.32M210.6 531.09H218.48M255.34 516.88H264.64M230.38 517.83H233.94M265.74 508.96H269.57M268.39 528.96H271.8M249.33 531.44H251.65M265.41 307.81H269.51M241.52 534.32H246.16M252.38 504.35H257.92M244.28 310.98H249.85M229.5 527.97H236.24M269.59 501.65H271.8M251.97 509.89H254.54M252.44 533.75H262.07M249.9 528.45H254.13M254.68 515.99H260.68M239.87 311.81H248.46M263.1 480.89H267.46M212.71 491.15H219.17M252.6 533.93H261.78M210.6 484.39H214.65M225.02 531.38H227.58M235.92 530.56H241.51M248.67 508.01H257.29M267.48 525.55H271.66M210.6 485.03H212.48M248.17 526.86H251.59M267.93 521.99H270.58M267.43 526.39H271.8M215.1 503.46H221.48M223.35 484.15H229.5M247.94 482.87H253.61M235.07 530.79H242.65" stroke="#f1de95" stroke-opacity="0.55" stroke-width="1.0"/>
<path d="M212.76 442.06H216.17M266 407.22H271.8M253.44 413.88H255.52M254.32 512.57H264.14M266.88 427.99H271.8M240.52 426.7H245.52M262.13 484.23H267.37M269.06 456.76H271.8M212.39 448.3H218.73M245.34 490.71H254.45M268.53 392.93H271.8M210.62 492.93H215.47M221.26 465.17H226.82M253.73 462.45H263.34M219.72 392.04H223.45M229.68 393.29H233.49M231.69 432.01H233.88M227.79 514.8H230.88M241.16 434.47H245.45M211.07 378.99H217.18M245.6 528.93H253.1M220.81 434.96H227.81M252.43 524.72H261.48M258.85 449.53H265.39M244.9 458.08H249.98M214.28 440.72H217.08M266.7 471.47H271.45M261.3 412.37H270.18M253.46 419.87H258.62M219.1 393.63H221.94M263.71 384.52H271.8M213.67 416.62H223.45M262.06 381.41H267.7M220.09 424.94H229.11M235.62 529.43H242.45M258.67 474.56H260.83M245.5 487.43H254.79M219.55 464.82H224.08M222.85 464.23H231.48M235.07 465.95H244.1M210.6 498.89H216.28M237.83 441.03H240.73M250.23 434.33H258.82M251 499.56H258.97M230.98 390.73H237.53M262.9 446.38H267.58M255.09 518.32H260.24M245.06 434.54H253.31M237.27 471.68H245.63M227.19 443.59H232.81M261.58 385.64H266.46M234.21 484.17H237.47M230 482.11H234.43M227.47 391.24H229.88M233.2 415.16H242.23M241.68 468.28H244.17M254.32 497.65H256.67M245.45 492.26H251.13M241.56 423.81H247.99M220.18 408.97H228.49M254.36 439.5H261.29M210.6 418.54H212.07M213.78 417.7H217.97M220.11 443.72H223.59M223.82 471.33H232.81M236.16 449.43H242.57M217.82 393.03H222.5M217.45 429.96H224.26M228.85 404.85H234.12M211.08 490.85H215.81M231.01 449.36H240.31M251.47 373.21H257.48M264.12 510.14H270.82M269.48 462.75H271.8M259.18 376.3H267.85M262.23 520.5H266.03M223.34 488.38H232.62M237.7 480.25H245.64M249.24 460.8H257.19M225.08 421.85H232.27M253.85 434.9H260.98M264.69 450.81H269.44M228.65 456.32H232.24M240.29 481.2H244.38M238.14 463.41H245.28M260.86 463.14H264.15M260.41 412.05H262.9M216.91 474.54H226.83M215.64 406.96H217.9M210.6 470.43H213.19" stroke="#eecc7f" stroke-opacity="0.55" stroke-width="1.0"/>
<path d="M239.06 473.19H249.06M256.32 514.88H262.87M242.99 502.3H245.65M221.26 423.09H224.43M237.6 518.82H240.1M228.6 450.11H234.42M267.57 463.11H271.8M254.7 517.36H260.79M265.66 517H271.8M244.83 450.95H251.98M210.6 448.62H216.29M248.39 438.19H256.29M269.4 491.15H271.8M221.67 489.33H230.3M260.13 420.35H263.7M251.13 532.8H259.37M221.18 460.77H226.02M267.19 475.51H271.8M239.4 533.6H243.72M222.19 510.72H226.22M269.02 512.02H271.8M219.35 452.01H229.11M267.97 444.53H271.8M248.56 452.75H251.63M247.33 503.54H254.86M219.6 477.25H222.54M262.93 443.84H265.16M252.67 509.28H261.08M265.99 530.35H271.8M266.04 478.68H271.8M270.1 464.8H271.8M225.19 454.27H234.59M210.6 461.3H216.38M250.5 515.16H259.61M230.39 500.13H234.31M220.47 524.39H229.18M231.39 498.08H240.25M228.19 458.58H230.57M265.11 471.7H271.8" stroke="#f8fbd6" stroke-opacity="0.55" stroke-width="1.0"/>
<path d="M249.95 335.13H258.64M223.25 315.22H228.26M227.3 322.84H233.92M242.95 374.97H250.85M261.86 328.15H266.37M262.62 360.62H269.01M244.33 317.77H246.87M216.95 361.85H226.93M238.44 336.14H240.68M246.6 363.74H250.08M228.29 327.07H234.74M229.01 351.56H231.08M243.67 384.8H251.24M222.53 310.25H232.41M222.01 333.83H229.77M217.81 323.28H221.22M218.71 366.84H225.43" stroke="#f4e7a3" stroke-opacity="0.55" stroke-width="1.0"/>
<path d="M246.09 454.8H253.87M245.01 450.15H251.24M233.89 434.97H240.1M254.97 362H259.58M257.89 435.32H265.55M230.06 460.82H234.63M251.93 412.38H259.83M239.22 468.81H247.68M253.5 448.22H257.53M227.07 435.42H229.78M212.29 323.57H221.97M227.34 354.1H237.26M228.81 389.31H235.8M236.96 452.08H242.21M222.42 376.81H225.38M254.71 398.84H263.81M252.17 340.4H261.98M250.21 409.63H255.17M232.27 442.5H234.67M243 369.61H251.16M253.37 410.72H258.71M265.47 403.95H271.8M212.63 468.96H218.77M265.91 437.67H271.8M232.43 410.43H238.94M254.55 414.18H261.43M210.88 340.86H218.98M225.18 371.18H233.21M260.51 356.26H266.87M219.64 359.75H226.54M221.88 431.2H227.43M228.21 393.45H237.93M241.78 371.04H247.32M242.69 412.47H248.83M211.57 332.05H216.31M269.2 370.34H271.8M234.82 428.91H240.57M245.21 450.04H255.18M250.35 467.77H252.51" stroke="#f6f2bc" stroke-opacity="0.55" stroke-width="1.0"/>
<path d="M253.71 535.42H256.78M225.79 322.79H231.67M242.65 316.2H251.85M215.94 310.88H221.33M256.03 531.38H263.59M238.05 305.93H247.73M221.12 318.96H226.33M210.6 530.67H217.47M240.27 527.1H244.93M260.86 501.59H270.79M267.55 316.34H271.8M226.07 532.98H228.5M240.47 526.93H246.82M217.05 312.44H225.7M263.15 532.29H266.24M251.61 517.43H257.45M220.4 329.67H229.16M228.19 328.33H236.09M228.91 314.09H231.47M270.55 535.79H271.8" stroke="#f2e29c" stroke-opacity="0.55" stroke-width="1.0"/>
<path d="M246.48 421.47H253.03M224.16 388.42H231.4M213.57 336.7H221.38M256.39 402.1H258.66M235.05 350.81H240.79M229.37 334.2H233.38M267.49 396.95H271.8M213.44 330.91H221.32M214.7 352.55H220.99M259.5 388.06H267.25M239.63 416.14H243.91M227.01 393.44H235.32M234.57 338.4H239.3M226.24 360.86H232.58M225.29 413.48H229.61M264.35 351.96H267.66M215.01 324.32H220.35M210.6 335.37H213.53M217.41 415.24H223.5M222.8 358.59H229.17M233.84 361.07H239.28M238.68 424.24H240.76M224.51 397.03H231.38M233.24 425.07H235.46M222.13 417.23H228.33M263.5 388.26H270.29M217.1 381.7H219.15M229.98 416.91H239.33M256.47 435.18H260.98M250.76 380.77H259.26M239.55 440.8H242.07M237.33 389.95H242.53M222.87 405.9H230.87M226.21 356.59H232.48M237.99 402.77H242.26" stroke="#f6efb3" stroke-opacity="0.55" stroke-width="1.0"/>
<path d="M255.82 306.76H258.16M227.58 311.65H234.12M238.11 309.09H246.74M238.99 319.11H241.13M238.14 314.86H245.03M248.09 308.68H252.67" stroke="#e9924b" stroke-opacity="0.55" stroke-width="1.0"/>
<path d="M216.58 513.27H221.4M212.33 532.32H215.33M268.17 482.65H271.69M266.86 534.54H271.8" stroke="#f8fbd6" stroke-opacity="0.55" stroke-width="1.0"/>
<path d="M219.76 505.01H229.68M217.08 504.17H222.39M262.22 516.94H268.13M262.67 466.59H271.8M223.51 522.38H232.92M254.58 514.48H258.85M243.29 520.13H251.96M266.77 488.34H271.8M260.17 501.57H264.01M249.12 514.57H251.8M211.67 509.84H215.81M227.73 508.69H236.79M263.1 519.47H265.31" stroke="#f8fbd6" stroke-opacity="0.55" stroke-width="1.0"/>
<path d="M247.92 530.33H253.08M248.85 533.32H254.32" stroke="#f8fbd6" stroke-opacity="0.55" stroke-width="1.0"/>
<path d="M244.83 308.19H251.55M265.45 303.65H268.25M226.77 304.78H229.83" stroke="#e88945" stroke-opacity="0.55" stroke-width="1.0"/>
<rect x="210.2" y="303" width="62" height="233.3" fill="none" stroke="#6d6d5a" stroke-width="0.8"/>
<g><rect x="279.9" y="303" width="61.8" height="233.3" fill="url(#h2_9)"/><rect x="279.9" y="303" width="61.8" height="233.3" fill="url(#h2_8)" mask="url(#k2_8)"/><rect x="279.9" y="303" width="61.8" height="174.97" fill="url(#h2_7)" mask="url(#k2_7)"/><rect x="279.9" y="303" width="61.8" height="128.31" fill="url(#h2_6)" mask="url(#k2_6)"/><rect x="279.9" y="303" width="61.8" height="83.99" fill="url(#h2_5)" mask="url(#k2_5)"/><rect x="279.9" y="303" width="61.8" height="51.33" fill="url(#h2_4)" mask="url(#k2_4)"/><rect x="279.9" y="303" width="61.8" height="28" fill="url(#h2_3)" mask="url(#k2_3)"/><rect x="279.9" y="303" width="61.8" height="14" fill="url(#h2_2)" mask="url(#k2_2)"/><rect x="279.9" y="303" width="61.8" height="7" fill="url(#h2_1)" mask="url(#k2_1)"/><rect x="279.9" y="303" width="61.8" height="2.33" fill="url(#h2_0)" mask="url(#k2_0)"/></g>
<path d="M313.11 413.74H320.44M337.02 410.19H341.28M312.24 438.27H317.19M293.56 374.86H297.37M323.77 356.45H329.57M322.78 356.59H330.63M318.35 384.78H322.72M293.23 338.69H298.6M320.05 374.34H328.58M302.08 432.82H311.01M316.99 363.25H326.93M316.85 404.79H324.68M291.11 397.62H293.31M293.26 326.8H297.92M308.01 387.16H311.85M322.38 391.69H325.67M327.61 349.57H336.08M306.65 371.61H316.63M310.34 386.34H316.68M314.99 389.39H320.47M325.01 381.27H334.32M282.93 381.01H289.9M300.98 397.07H308.5M291.32 390H301.11M280.39 345.57H287.44M290.98 364.95H296.46M312.01 439.07H316.28M307.92 449.77H314.04M316.26 351.79H323.6M336.87 372.19H341.3M329.8 350.97H332.02M294.72 371.74H304.22M315.43 368.05H318.58M305.23 374.82H311.29M339.4 344.63H341.3M308.21 396.04H315.99M290.84 332.4H297.41M328.77 346.45H332.63M314.72 413.76H324.62M316.3 344.89H325.18M330.76 329.11H334.94M304.08 307.34H307.53M335.12 334.77H341.3M318.85 429.7H323.01M307.63 393.18H315.02M293.95 409.54H303.74M296.23 372.31H303.89M305.73 403.2H308.66M307.1 399.19H310.84M313.44 432.61H320.03M333.76 386.67H338M320.75 359.03H327.56M307.51 451.48H313.05M298.6 399.83H305.55M293.28 365.81H299.08M284.62 336.5H291.06M318.75 383.3H324.36M308.46 393.26H312.88M326.36 416.29H330.76" stroke="#e88945" stroke-opacity="0.5" stroke-width="1.0"/>
<path d="M285.65 463.92H292.11M304.36 523.42H309.74M300.02 344.86H302.32M305.94 349.09H313.04M280.3 498.11H284.81M287.43 322.56H289.77M329.42 530.54H335.06M304.76 329.19H314.44M315.59 498.49H319.83M288.64 311.18H297.88M285.31 449.69H293.8M289.08 319.24H298M302.72 509.05H306.8M336.15 450.6H338.67M326.01 331.45H330.14M314.01 352.68H319.59M290.04 322.61H294.79M316.86 479.83H324.72M291.87 473.58H297.32M339.69 517.94H341.3M303.71 492.88H312.36M325.75 524.27H327.76M336.63 306.37H341.3M306.18 494.77H311.78M321.96 309.74H324.77M305.87 335.32H315.08M280.3 309.07H282.07M287.64 532.36H296.05M337.29 494.59H341.3M283.52 474.13H287.01M324.47 486.37H333M308.07 355.01H315.3M281.2 328.26H288.81M310.95 494.69H317.12M309.74 358.04H314.42M317.93 311.43H320.85M316.17 518.64H322.11M299.06 476.94H304.71M285.31 325.56H292.27M313.49 502.33H317.71M280.3 310.87H283.9M308.79 521.13H314.11M322.67 476.62H330.81M301.27 514.3H309.5M304.14 523.43H311.73M304.2 347.08H311.79M314.04 480.5H316.77M314.26 499.56H317.14M292.62 324.6H301.43M331.64 512.74H339.49M332.26 477.68H336.34M289.75 531.18H296.62" stroke="#ebad5e" stroke-opacity="0.5" stroke-width="1.0"/>
<path d="M306.93 513.96H315.48M308.37 513.45H317.55M321.54 462.69H324.26M314.79 520.33H319.18M308.14 503.82H314.02M331.49 443.17H334.65M321.5 515.81H324.34M314.23 481.97H316.26M306.46 472.37H309.63M281.56 423.2H290.8M338.4 448.92H341.3M289.63 410.68H293.12M296.73 467.53H303.15M290.46 463.47H293.25M282.53 452.83H285.83M280.72 420.54H290.31M280.3 505.65H288.34M332.74 509.16H336.44M325.74 459.89H334.84M290.35 466.4H300.07M317.19 489.38H326.66M281.83 484H291.73M304.05 521.71H307.8M308.12 506.85H312.43M298.67 467.94H304.16M328.62 495.99H335.14M339.13 494.03H341.3M282.54 450.86H284.93M320.27 495.83H322.99M295.27 456.19H298.45M336.42 478.97H341.3M280.3 516.43H287.82M307.24 495.62H309.96M334.87 492.89H339.41M319.18 478.75H327.13M313.97 481.76H316.95M293.76 504.58H303.19M280.3 494.97H283.45M286.87 514.03H289.9M310.78 466.35H316.89M323.91 501.31H332.57M326.12 474.02H334.06M316.3 499.69H322.42M307.38 524.41H311.85M324.35 444.85H330.88M330.61 461.27H333.35M300.56 454.46H304.52M280.3 517.79H285.11M338.03 504.21H341.3M326.22 501.74H329.09M309.16 496.91H311.48" stroke="#f0d98e" stroke-opacity="0.5" stroke-width="1.0"/>
<path d="M316.07 397.49H318.22M291.29 332.47H298.89M324 332.73H332.74M287.56 318.01H289.63M303.51 402.81H310.29M316.89 331.87H325.54M297.58 304.52H304.13M312.26 394.99H315.41M303.01 390.43H311.82M292.35 330.08H300.97M321.24 338.86H329.89M319.6 345.54H327.32M310.84 361.93H317.35M311.35 351.68H320.7M314.23 338.92H320.23M324.74 356.48H328.84M333.35 328.63H337.37M322.7 303.8H329.63M280.3 322.94H285.86M280.3 349.92H285.77M306.09 418.65H309.62M300.27 363.14H307.98M318.65 333.26H322.4M280.3 350H286.84M312.72 376.84H317.94M319.75 371.2H328.18M307.33 426.56H316.44M329.4 333.76H332.06M305.03 305.25H310.74M311.94 366.41H314.58M319.08 332.92H325.15M291.4 342.09H293.74M301.27 355.82H306.04M297.45 322.67H300M319.87 367.29H327.82M309.47 305.32H313.03M324.95 331.35H331.38M295.34 370.93H297.35M300.21 414.66H306.84M316.94 354.68H321.93M308.81 420.5H316.36" stroke="#e77f41" stroke-opacity="0.5" stroke-width="1.0"/>
<path d="M312.1 341.49H314.51M316.87 317.95H319.86M291.79 316.13H300.36M297.38 313.44H300.24M311.94 330.94H317.14M308.61 357.11H311.78M309.57 345.96H314.05M291.49 313.7H299.55M306.61 304.52H308.86M299.17 327.55H304.61M299.35 318.29H303.79M309.24 336.04H312.62M320.46 306.22H327.08M308.89 366.12H316.1" stroke="#e46d3b" stroke-opacity="0.5" stroke-width="1.0"/>
<path d="M338.57 414.25H340.81M285.2 387.51H290.28M325.44 426.24H328.95M321.1 397.01H325.36M336.84 423.51H341.3M317.78 504H322.92M320.77 475.04H323.64M338.35 487.42H341.05M318.49 420.03H327.01M289.33 414.23H292.12M286.06 378.66H295.22M288.38 394.89H294.22M318.33 454.13H325.62M322.15 466.22H328.36M284.14 475.11H291.69M284.75 494.08H292.35M302.14 502.08H310.82M302.64 481.92H306.15M304.03 509.99H313.6M336.72 388.19H340.24M280.3 436.95H285.29M291.38 414.14H294.3M284.57 456.25H293.48M291.95 465.49H300.97M330.15 398.39H335.58M319.46 428.61H324.67M330.71 403.78H333.43M322.97 408.9H326.34M315.83 401.57H324.37M321.05 416.9H328.81M316.13 484.75H325.07M280.3 464.83H281.97M309.52 480.03H317.91M300.43 435.19H306.4M318.62 400.88H326.57M321.76 440.8H328.92M305.59 463.78H315.09M324.18 464.28H332.11M304.31 435.62H309.41M315.21 476.71H319.42M280.3 474.24H284.96M297.96 407.68H301.93M290.72 371.19H295.3M298.33 425.32H301.38M338.94 431.93H341.3M281.16 466.45H283.57M323.44 475.72H329.58M291.42 388.16H295.1M284.13 401.61H291.07M298.59 420.36H303.18M334.32 473.78H340.67M318.29 489.77H327.5M283.18 367.24H289.32M324.81 389.72H328.71M319.68 422.11H323.54M304.22 469.27H313.04M337.19 434.06H341.3M296.5 415.09H301.32M281.96 485.62H285.94M317.03 420.8H325.19M301.17 466.74H307.97M316.44 495.45H325.16M311.24 461.39H318.84M289.57 444.05H291.82M280.3 464.32H284.32M296.78 443.3H304.3M317.9 437.03H324.66" stroke="#efd487" stroke-opacity="0.5" stroke-width="1.0"/>
<path d="M283.17 386.28H290.7M280.3 352.56H281.8M298.41 453.92H305.78M331.16 431.19H339.93M329.17 426.57H338.41M303.76 454.52H310.09M330.96 343.04H338.8M305.28 313.13H308.29M336.25 441.72H341.3M298.2 372.73H300.57M309.46 469.27H312.55M285.31 402.78H288.51M320.03 408.57H325.68M298.89 365.28H301.85M333.88 374.76H335.96M334.86 355.66H341.3M335.61 397.95H341.3M305.75 457.21H310.51M307.39 442.73H314.43M311.17 433.85H315.55M315.38 465.34H322.54M327.04 422.6H329.11M308.21 392.85H316.61M313.1 368.95H322.22M321.84 360.92H327.25M290.96 421.33H294.03M305.11 458.28H313.35M325.41 433.4H327.71M312.01 420.34H317.63M322.3 356.35H331.14M305.64 423.46H309.33M289.19 392.66H295.98M325.32 381.4H332.37M320.91 391.3H324.55M281.09 305.29H284.7M305.16 435.05H311.23M329.83 428.81H337.32M282.31 445.51H287.95M327.99 381.79H336.76M322.45 387.45H326.38M327.88 347.06H336.76M326.67 356.99H331.69M280.3 400.84H282.27M301.18 412.74H310.09M280.43 382.63H288.72M288.06 420.22H296.04M309.7 433.82H314.73M304.21 437.8H309.58M295.79 450.52H303.39M306.85 458.91H312.94M290.69 379.45H294.64M283.28 382.5H292.68M326.66 449.09H333.54M300.77 383.64H308.77M304.36 468.41H309.07M308.57 460.21H312.08M303.8 313.85H308.46M280.3 409.89H283.99M283.18 372.21H290.77M303.13 310.86H312.13M312.72 436.94H319.27" stroke="#e9924b" stroke-opacity="0.5" stroke-width="1.0"/>
<path d="M302.07 422.29H308.07M333.74 341.17H341.3M330.46 369.85H337.25M308.16 423.52H312.39M314.97 425.69H320.99M302.06 399.87H310.94M307.8 447.86H314.41M315.56 378.92H320.02M297.57 411.36H304.74M305.85 442.25H312.34M304.55 429.42H307.62M303.63 438.49H312.85M312.98 380.37H322.15M281.23 348.49H284.98M300.52 380.85H303.08M339.81 368.18H341.3M335.29 351.21H338.52M304.78 453.79H307.07M291.36 345.41H297.85M300.95 354.09H307.82M301.14 418.32H310.11M333.59 386.63H341.3M328.87 341.56H333.44M310.99 393.82H315.43M291 368.74H299.39M320.48 360.46H328.26M338.74 412.24H341.3M290.98 361.18H295.97M290.52 399.41H298.8M316.06 432.98H319.58M332.22 405.48H341.3M310.67 391.92H316.4M304.97 386.36H312.27M314.7 374.9H323.21M322.96 346.71H326.23M333.77 354.43H336.92M297.59 378.09H305.29M323.87 378.22H329.46M308.72 390.35H315.71M327.25 407.27H332.24M329.68 365.07H338.33M311.24 444.21H314.67M307.57 407.64H315.54M280.3 330.13H285.16M333.54 336.28H338.35M306.81 414.71H311.58M305.08 456.04H308.54M318.76 372.37H323.29M292.8 421.31H299.1M295.36 357.94H298.26M302.23 388.39H305.06M319.94 410.63H328.33M296.51 365.94H302.5M301.03 410.74H308.75M307.69 416.19H313.47M326.32 394.69H331.73M298.08 404.25H306.66M317.68 374.44H325.06M336.63 366H341.3M333.35 400.63H335.96M307.13 422.08H310.27M280.3 346.09H285.12M335.79 384.41H340.5M315.37 396.28H320.45" stroke="#edc576" stroke-opacity="0.5" stroke-width="1.0"/>
<path d="M324.9 424.06H330.31M280.3 382.78H282.69M297.42 432.17H302.22M318.81 469.79H322.33M307.42 476.55H312.76M290.87 420.22H294.26M316.37 425.28H323.79M280.96 405.46H289.68M285.72 467.26H292M322.97 491H331.65M314.34 433.39H320.55M315.54 468.05H320.98M330.32 458.9H338.96M297.28 447.93H300.57M337.26 400.5H340.69M300.67 310.89H302.73M295.66 387.49H305.19M311.52 497.97H315.82M301.74 452.65H311.65M300.92 470.89H304.25M325.68 458.8H330.25M318.87 401.4H323.88M301.32 443.65H309.05M333.24 390.46H339.93M303.34 329.78H311.04M286.6 440.45H292.82M286.56 420.79H293.88M337.43 417.27H341.3M302.34 476.25H308.76M315.21 319.38H318.1M318.36 454.32H320.43M301.48 305.76H306.86M330.48 447.48H332.55M306.26 514.59H311.23M312.67 492.13H322.19M300.42 442.33H307.66M307.12 309.22H312.15M329.65 466.45H333.42M307.57 437.77H314.78M288.94 393.04H294.23M329.41 425.3H334.35M302.65 488.5H311.54M334.8 391.47H337.69M301.95 428.01H311.42M285.84 431.05H294.91M290.38 306.25H294.92M284.32 399.19H289.07M309.84 476.55H313.65M314.56 306.49H322.93M325.88 386.16H333.59M285.44 377.5H287.76M330.92 406.01H337.58M298.29 469.5H306.85M280.3 363.97H284.32M280.3 453.36H281.98M305.87 463.69H310.02M283.91 468.03H290.35M307.43 312.71H315.36M287.34 387.66H293.84M309.71 495.09H313.39M320.67 447.12H328.21M339.17 373.33H341.3M315.72 457.94H321.35" stroke="#ea9b52" stroke-opacity="0.5" stroke-width="1.0"/>
<path d="M308.22 342.42H313.13M310.12 333.54H312.99M318.83 316.88H328.29M285.96 322.31H290.78M334.63 315.39H341.3M311.95 356.58H319.92M310.58 363.17H317.3M308.1 393.75H313.4M294.3 325.63H303.45M310.46 387.19H315.35M313.06 354.03H317.38M314.67 322.43H316.82M302.66 347.43H304.77M310.98 357.49H317.06M304.37 368.68H309.19M315.04 375.74H319.19M305.24 376.72H311.11M310.48 351.46H312.83M291.9 346.88H294.2M334.84 318.15H341.3M288.84 334.65H297.04M292.01 324.34H299.01M321.73 331.16H327.68M284.89 322.89H293.02" stroke="#e6763e" stroke-opacity="0.5" stroke-width="1.0"/>
<path d="M295.21 482.53H299.14M306.2 520.63H308.44M308.98 350.27H312.75M315.54 489.5H322.63M286.35 477.94H294.39M282.25 456.88H285.88M320.18 459.02H324.42M338.66 496.86H341.3M331.35 443.24H335.46M304.28 337.93H312.86M316.76 454.11H321.69M292.41 436.68H301.6M280.3 482.39H282.77M337.65 487.89H341.3M308.78 512.7H312.16M338.24 417.61H341.3M327.92 479.12H332.14M283.95 489.39H293.56M291.11 488.44H293.51M280.39 442.4H288.18M311.92 476.02H314.44M304 492.06H312.17M322.58 309.37H327.44M289.47 463.26H296.39M280.9 417.14H286.1M334.05 482.64H341.3M323.45 490.63H327.78M281.81 395.86H285.55M297.07 416.17H299.87M291.65 476.3H298.36M296.57 522.84H305.88M280.43 509.53H284.94M313.46 524.62H316.67M288.41 415.92H296.89M299.59 491.94H308.56M314.11 472.05H320.41M313.71 463.18H322.19M337.71 480.43H341.3M308.91 499.33H317.36M317.02 436.87H324.53M324.12 511.68H329.26M280.3 463.99H287.22M323.24 409.04H331.9M310.09 522.58H316.73M301.62 308.71H306.21M321.3 441.42H326.13" stroke="#eaa458" stroke-opacity="0.5" stroke-width="1.0"/>
<path d="M303 532.04H309.03M312.22 517.2H320.31M284.45 494.25H292.32M314.75 525.65H320.16M323.42 532.25H332.57M290.96 519H300.55M325.01 518.15H330.92M336.56 519.03H341.3M332.26 527.59H338.21M316.82 513.19H325.65M285.34 535.45H287.67M334.34 521.11H341.3M325.32 497.21H333.09M293.04 516.95H301.57M329.7 502.44H333.31M310.72 518.14H318.42M303.41 531.3H311.98M333.51 532.98H341.3M294.93 504.93H299.02M304 521.7H310.47M289.46 495H295.23M312.76 528.16H322.74M296.05 513.25H301.65M295.55 524.26H303.36M294.87 523.74H298.67" stroke="#f2e29c" stroke-opacity="0.5" stroke-width="1.0"/>
<path d="M293.22 356.82H299.04M319.99 467.2H324.27M303.93 411.43H312.68M317.47 356.35H325.56M280.3 351.14H288.05M303.87 444.47H311.35M321.18 462.68H330.91M337.43 376.89H340.13M299.32 441.92H304.34M299.46 374.72H308.58M309.93 396.45H319.29M300.11 426.1H310.04M297.04 386.65H302.96M318.41 401.95H320.89M301.62 415.42H308.24M306.51 488.96H309.92M305.3 449H308.03M314.42 409.83H319.41M333.98 359.45H340.44M329.27 342.54H334.4M316.32 411.67H319.21M328.28 360.14H331.86M325.49 388.45H327.95M316.02 454.66H321.89M280.3 404.66H286.27M286.93 444.35H295.32M323.57 358.9H328.81M321.14 382.2H330.39M338.41 451.98H341.3M294.59 354.44H297.05M328.99 349.16H333.69M293.79 437.21H302.22M323.49 381.21H328.73M287.13 418.05H289.38M309.51 457.43H313.86M327.52 391.43H333.46M313.4 467.71H319.94M328.68 449.64H332.32M325.04 417.79H334.75M290.02 413.74H292.18M327.18 420.03H331.85M337.3 361.78H341.3M291.57 421.24H301.07M314.06 393.79H323.27M305.15 413.86H307.38M302.47 454.27H311.72M283.18 447.89H289.15M280.3 393.75H284.16M312.62 418.98H320.71M321.41 401.31H323.8M312.21 416.75H319.11M287.08 409.05H296.26M298.19 424.5H306.08M286.12 426.5H291.7M330.76 432.97H332.8M297.73 410.49H304M283.48 427.07H293.4M287.73 423.75H291.69M311.44 417.2H319.2M311.29 463.17H319.28M301.77 417.37H306.63M317.69 366.81H323.48M280.64 438.75H286.39M298.58 442.83H306.62M300.77 411.55H305.93M294.71 433.48H301.38M321.77 433.32H327.81M290.77 428.31H295.42M323.42 407.72H332.95M336.65 431.99H340.31M322.74 401.43H326.61M328.66 425.56H333.11M320.83 380.87H328.33M285.1 439.56H293.5M306.74 457.94H313.26M291.64 405.04H294.43M321.18 428.79H325.21M304.19 448.44H309.03M292.09 360.1H299.36M334.45 372.25H340.27M326.5 342.73H335.78M311.9 420.2H320.52M311.54 462.9H317.49M285.92 435.56H288.17" stroke="#eecc7f" stroke-opacity="0.5" stroke-width="1.0"/>
<path d="M338.47 509.42H341.3M295.68 533.37H299.05M321.23 521.17H326.96M331.35 527.95H334.76M280.3 484.52H287.73M305.76 511.7H311.87M285.31 521.49H292.86M293.1 514.7H297.3M323.14 509.89H328.7M301.31 500.47H304.73M317.33 529H325.33M328.39 467.8H334.88M313.71 474.1H322.24M318.82 482.29H323.14M290.6 519.2H298.1M310.54 531.57H316.14M316.61 523.1H325.26M323.83 473.3H330.21M327.31 504.74H330.82M334.53 477.35H341.3M307.23 504.47H310.97M321.6 487.05H327.79M304.97 529.07H307.41M311.05 503.42H314.4M286.55 488.94H296.25M284.22 531.32H294.08M329.25 510.58H338.8M280.62 514.84H285.98M313.88 485.11H316.55M322.06 500.52H330.22M319.41 486.39H327.15M294.53 529.37H301.01M327.44 506.42H332.7M302.57 509.9H307.36M288.93 482.09H295.5M322.27 480.52H330.98M281.9 512H285.76M289.66 531H294.52M316.11 500.04H318.78" stroke="#f1de95" stroke-opacity="0.5" stroke-width="1.0"/>
<path d="M320.24 326.33H324.74M302.07 364.64H307.11M314.26 364.07H323.51M286.61 532.28H294.04M304.24 339.34H309.53M332.09 321.86H336.27M338.13 487.94H340.34M292.02 521.91H296.66M283.09 487.86H291.19M311.77 513.47H316.51M311.85 388.14H320.99M332.01 519.89H335.72M328.34 321.33H336.09M293.65 325.86H301.88M331 513.95H339.69M292.56 325.12H302.43M287.59 326.82H296.36M318.44 524.09H327.31M298.09 337.86H300.98M284.2 501.1H286.94M318.07 502.57H320.68M309.32 526.92H319.2M338.54 500.52H341.3M283.54 530.56H286.05M280.3 484.84H286.62M324.86 515.48H328.62M302.7 358.83H309.77M297.06 523.72H301.11M283.6 326.43H286.42M280.3 309.7H283.35M314.56 527.11H319.39M307.86 353.74H314.79M328.18 318.54H331.46M325.09 489.44H331.07M282.93 325.64H292.71M300.16 336.27H306.18M312.76 359.33H315.6M332.71 502.69H339.9M292.02 513.24H301.51M296.4 533.61H299.96M284.42 491.99H293.8" stroke="#ecb566" stroke-opacity="0.5" stroke-width="1.0"/>
<path d="M316.99 315.22H321.44M305.2 329.08H310.26M303.93 314.42H313.25M305.83 342.38H315.75M329.02 307.92H337.11M310.72 341.07H316.45M325.82 313.35H330.34M310.9 323.19H314.77M283.67 312.7H292.34" stroke="#e36337" stroke-opacity="0.5" stroke-width="1.0"/>
<path d="M328.83 526.43H332.23M321.18 526.13H329.96M332.98 534.51H341.13M325.86 527.53H330.72" stroke="#f4e7a3" stroke-opacity="0.5" stroke-width="1.0"/>
<path d="M285.19 365.25H289.3M296.21 533.24H301.91M334.05 383.64H340.02M280.3 364.06H285.47M325.92 333.61H330.59M300.81 336.84H304.72M292.62 343.35H300.28M336.8 343.69H341.3M320.62 532.25H324.65M330.28 344.06H334.91M312.29 382.89H320.09M323.89 352.38H332.35M333.35 319.44H341.3M333.81 350.83H341.3M294.4 364.9H299.04M316.51 379.7H325.37M333.4 320.96H336.9M309.66 367.27H314.43M309.02 414.48H317.96M309.72 436.36H313.5M319.25 371.28H326.19M286.65 332.12H296.11M321.41 533.86H327.82M290.06 514.49H299.13M306.19 371.82H312.93M324.99 352.28H330.64M311.19 437.02H315.24M327.52 345.2H335.6M292.93 320.02H302.79M322.77 357.55H330.05M280.3 343.5H288.02M307.56 402.46H317.44M298.87 367.89H306.93M303 357.26H307.28M283.5 324.19H288.85M282.1 359.75H292.06M293 357.17H301.91M323.57 347.3H331.27M287.34 531.12H292.47M291.51 342.4H297.95M290.62 320.63H300.51M280.3 349.32H282.69M298.9 348.92H302.51M330.2 519.6H339.08M303.61 420.85H311.8" stroke="#ecbd6e" stroke-opacity="0.5" stroke-width="1.0"/>
<path d="M310.21 312.17H313.12M305.1 313.52H314.53M308.62 319.49H315M296.29 314.25H303.86M293.85 308.79H299.83M304.27 307.63H312.39M316.09 314.56H323.49" stroke="#e25a34" stroke-opacity="0.5" stroke-width="1.0"/>
<path d="M329.77 304.49H336.63M303.75 306.61H312.32M312.67 313.04H317.61" stroke="#e05132" stroke-opacity="0.5" stroke-width="1.0"/>
<path d="M323.74 303.93H331.29" stroke="#db3e2e" stroke-opacity="0.5" stroke-width="1.0"/>
<rect x="279.9" y="303" width="61.8" height="1" fill="#b83a2a"/>
<rect x="279.9" y="303" width="61.8" height="233.3" fill="none" stroke="#6d6d5a" stroke-width="0.8"/>
<g><rect x="417.2" y="303.4" width="62.3" height="233" fill="url(#h3_9)"/><rect x="417.2" y="303.4" width="62.3" height="233" fill="url(#h3_8)" mask="url(#k3_8)"/><rect x="417.2" y="303.4" width="62.3" height="174.75" fill="url(#h3_7)" mask="url(#k3_7)"/><rect x="417.2" y="303.4" width="62.3" height="128.15" fill="url(#h3_6)" mask="url(#k3_6)"/><rect x="417.2" y="303.4" width="62.3" height="83.88" fill="url(#h3_5)" mask="url(#k3_5)"/><rect x="417.2" y="303.4" width="62.3" height="51.26" fill="url(#h3_4)" mask="url(#k3_4)"/><rect x="417.2" y="303.4" width="62.3" height="27.96" fill="url(#h3_3)" mask="url(#k3_3)"/><rect x="417.2" y="303.4" width="62.3" height="13.98" fill="url(#h3_2)" mask="url(#k3_2)"/><rect x="417.2" y="303.4" width="62.3" height="6.99" fill="url(#h3_1)" mask="url(#k3_1)"/><rect x="417.2" y="303.4" width="62.3" height="2.33" fill="url(#h3_0)" mask="url(#k3_0)"/></g>
<path d="M425.03 363.99H432.51M436.03 438.66H440.9M441.52 404.51H445.33M430.96 402.35H439.63M426.58 362.9H431.58M431.44 369.22H437.87M465.16 442.94H471.09M447.22 471.52H456.35M442.43 410.38H445.71M417.6 517.76H422.45M427.12 330.91H429.65M423.88 371.75H431.65M444.05 459.57H448.16M476.2 352.5H478.36M442.31 512.86H448.36M456.45 509.12H459.59M444.49 525.29H446.84M442.61 305.31H451.28M417.6 490.79H422.6M426.79 355.65H433.62M444.36 465.56H453.17M417.6 436.29H421.41M452.6 445.88H461.69M455.01 403.41H460.33M419.34 520H425.15M473.18 352.41H479.1M474.57 482H479.1M433.3 392.11H437.76M469.75 341.76H474.27M435.84 436.97H442.59M456.78 533.57H464.34M471.85 418.15H475.27M472.04 503.2H479.1M423.73 504.6H428.99M442.89 447.68H451.54M453.7 531.75H463.04M420 518.01H429.24M473.34 369.55H479.1M417.6 480.4H421.52M446.42 518.03H451.28M470.34 409.19H473.91M450.05 512.96H452.51M448.53 443.15H453.4M432.82 445.36H436.81M451.83 452.22H454.35M454.65 495.97H464.12M474.75 525.07H478.76M451.86 413H458.18M451.35 462.07H456.13M458 386.23H467.67M447.17 459.87H455.15M471.78 366.82H479.1M456.08 303.95H462.62M450.26 451.22H453.79M450.61 416.94H455.74M461.86 380.01H464.68M418.14 356.82H421.62M448.15 458.98H450.16M427.29 485.11H433.97M421.72 423.98H424.08M438.63 391.5H447.33M445.89 511.37H451.44M429.5 451.17H438.5M454.37 491.1H460.14M433.15 408.27H441.68M432.07 482.11H435.81M455.35 366.66H463.9M435.96 496.87H439.43M417.78 398.77H423.16M439.81 452.11H444.12M428.29 403.32H432.35M436.12 434.43H438.56M452.8 396.27H459.74M451.52 510.72H453.93M476.31 520.52H479.1M432.62 510.47H435.18M440.4 525.41H446.04M428.03 353.69H430.18M439.02 438.75H448.84M437.91 448.98H442.25M469.29 330.53H478.83M462.62 386H471.11M439.56 510.48H444.46M475.34 353.28H477.98M419.31 344.49H424.14M436.65 525.77H440.3M461.2 445.66H463.75M428.05 383.91H434.8M432.1 509.78H438.84M449.32 530.49H458.91M439.43 417.9H441.54M461.63 354.86H469.77M467.72 338.64H470.97M456.18 409.66H458.99M436.45 529.21H440.97M449.49 507.67H456.79M458.56 482.02H467.72M470.9 433.35H479.1" stroke="#f5ecab" stroke-opacity="0.5" stroke-width="1.0"/>
<path d="M429.01 356.14H432.05M457.34 415.32H467.11M447.05 363.88H451.89M429.35 335.68H432.25M440.59 375.46H446.36M429.55 461.97H436.89M474.38 349.71H479.1M470.32 409.17H474.17M446.75 466.43H455.58M439.18 327.36H447.73M441.41 497.39H447.87M447.1 449.79H450.51M420.21 442.02H423.45M437.23 493.33H446.92M432.98 351.1H442.67M471.47 406.83H476.59M437.78 360.46H447.36M442.98 350.93H449.93M419.62 448.05H427.05M427.95 332.26H433.65M447.75 483.76H455.78M442.95 527.51H447.63M444.04 433.51H447.76M440.72 393.25H450.5M420.78 341.63H423.88M422.43 329.6H429.23M457.06 516.22H459.54M436.8 424.17H444.07M447.95 385.99H451.76M456.23 323.8H463.27M470.26 318.59H476.34M440.16 520.19H447.81M437.16 455.64H439.73M467.43 348.47H474.01M465.4 398.93H471.4M436.44 527.47H440.86M440.29 340.44H448.25M463.56 508.99H470M450.06 496.33H454.12M453.09 528.65H462.84M433.63 422.6H437.83M440.07 406.57H445.72M455.42 426.53H462.52M455.9 344.72H462.83M430.44 352.65H437.56M427.62 406.34H434.83M446.1 454H448.55M468.57 431.88H474.38M435.4 422.89H440.32M440.94 500.76H447.5M439.14 345.93H447.31M446.51 488.62H450.84M471.6 307.41H478.59M440.13 535.8H447.02M462.3 424.05H466.82M418.07 367.3H427.45M437.42 511.74H444.32M442.27 387.15H445.29M436.9 522.39H439.49M444.6 402.73H447.72M447.76 411.61H449.89M470.49 425.99H476.13M475.43 490.12H478.37M423.3 373.55H429.71M436.28 331.56H438.63M429.14 468.28H437.81M465.6 481.62H467.64M447.66 393.18H453.88M417.6 347.78H425.03M436.76 524.03H441.35M476.7 493.6H479.07M437.57 440.66H441.53M447.57 363.2H457.42M427.56 351.01H436.57M438.47 401.6H444.2M463.87 455.76H468.52M436.98 411.97H443.29M425.75 424.26H435.47M438.65 464.16H448.56M428.42 308.65H430.96M444.63 525.89H448.05M443.96 343.07H448.13M444.56 362.36H450.47M475.62 371.56H479.1M431.05 533.78H440.87M442.23 341.83H446.97M445.36 446.55H452.72M432.46 531.41H435.96M442.66 391.06H451.6M454.65 453.5H456.75M444.98 448.07H454.28M468.88 497.14H472.79M449.99 344.04H454.04M421.32 321.04H431.17M430.52 476.38H435.24M440.15 470.04H444.19M446.09 426.96H453.31M441.39 521.01H449.91M429.55 389.97H438.18M456.25 386.1H458.49M452.37 446.97H456.57M444.7 469.42H452.78M443.2 364.29H450.21M447.15 361.56H449.35M465.18 435.15H473.78M466.68 348.57H472.44M439.59 469.74H443.27M445.71 440.71H454.51M452.18 405.91H459.99M447.07 510.26H451.88M438.1 454.49H442.02M444.99 397.71H449.34M424.8 342.49H434.34M459.27 421.89H462.51M417.6 331.59H422.64M436.08 348.16H445.61M417.6 438.02H422.51M460.79 317.57H466.04M460.74 518.86H463.93M444.48 449.68H453.69M474.43 322.98H478.59M451.77 428.53H456.8M465 372.91H469.33M465.4 328.95H472.38M472.02 390.19H474.71M417.6 407.2H424.68M453.07 387.35H457.01M443.39 398.41H450.43M473.13 525.87H477.97M472.01 365.39H479.1M429.18 441.71H433.13M471.69 363.43H475.61M449.19 335H453.81M421.11 501.01H424.91M476.84 426.94H479.1M441.25 418.99H447.6M468.19 400.44H477.2M445.97 397.67H451.83M444.38 347.55H451.28M453.67 462.75H458.57M439.48 387.76H445.37M468.19 471.87H474.3M446.11 489.92H452.96M463.28 405.46H470.54M460.61 391.82H466.61M469.29 420.82H471.3M447.53 463.14H449.55" stroke="#f2e29c" stroke-opacity="0.5" stroke-width="1.0"/>
<path d="M454.92 498.24H457.03M456.78 403.01H464.7M452.48 425.93H460.42M462.54 503.16H468.08M436.99 518.06H439.66M433.04 421.39H442.72M453.48 477.94H456.66M453.47 472.92H459.15M424.43 407.71H431.28M464.94 518.22H469.48M434.87 380.93H441.92M424.95 408.31H432.95M442.47 514.58H449.96M442.77 430.48H450.17M419.88 394.98H426.12M476.47 441.29H479.1M434.44 431.04H440.65M452.93 439.3H455.03M421.1 523.61H429.35M427.18 462.61H431.75M429.11 437.42H435.79M432.65 516.45H440.36M430.28 431.6H433.68" stroke="#f8fbd6" stroke-opacity="0.5" stroke-width="1.0"/>
<path d="M428.4 495.62H437.99M444.4 505.33H452.82M434.93 454.32H437.75M443.28 518.99H452.16M458.12 352.11H463.79M429.71 489.52H432.12M441.25 430.28H450.52M440.84 404.39H446.37M454.19 413.72H457.55M441.31 413.44H449.56M441.85 359.58H447.47M454.01 380.32H462.13M444.36 501.54H454.06M444.33 447.61H449.96M448.13 389.37H454.33M422.01 349.7H428.7M431.11 390.36H440.85M440 429.41H447.55M444.34 404.44H449.56M444.49 424.63H453.62M472.84 340.57H475.54M442.14 374.39H444.19M457.35 361.24H459.87M417.6 357.73H421.11" stroke="#f8fbd6" stroke-opacity="0.5" stroke-width="1.0"/>
<path d="M441.26 479.06H446.7M446.79 494.06H456.67M469.36 304.03H474.25M433.56 492.38H437.95M450.65 303.9H454.72M456.1 512.3H463.48M447.3 482.49H451.28M444.66 506.4H449.98M438.92 507.03H448.37M434.09 499.99H440.77M471.15 487.46H479.1M426.32 466H434.52M442.62 525.33H445.18M429.2 496.67H432.59M419.03 474.24H427.75M441.82 305.57H445.49M461.31 406.36H471.23M467.32 490.73H470.56M456.29 513.12H465.86M477.25 491.15H479.1M468.8 396.86H472.24M441.33 528.91H444.41M447.7 484.14H450.92M417.6 374.38H425.03M461.4 485.92H464.76M434.89 439.96H441.5M438.29 525.45H442.87M449.84 528.66H457.14M467.74 464.37H476.09M442.64 510.97H449.05M460.01 407.65H467.62M438.89 304.39H441.64M439.83 522.39H446.42M436.18 303.92H442.5M472.87 457.12H478.31M417.6 524.65H422.68M474.68 468.25H477.07M447.71 469.82H454.39M422.64 380.42H427.95M460.48 482.94H464.84M447.28 458.32H457.1M441.07 467.16H448.88M456.24 490.62H463.88M428.55 487.74H434.11M428.37 529.46H435.87M461.71 304.23H464.33M447.44 443.54H456.34M450.23 482.81H458.96M465.59 433.34H471.05M445.87 457.52H449.36M442.67 499.77H452.03M417.6 458.54H420.55M461.17 460.84H468.14M459 526.46H468.03M441.25 531.64H451.11M438.79 518.79H446.65M475.66 434.74H478.35M449.7 441.07H457.91M452.37 482.92H457.58M460.99 467.74H469.1M472.63 303.94H479.1M466.88 409.72H470.09" stroke="#f6efb3" stroke-opacity="0.5" stroke-width="1.0"/>
<path d="M456.69 402.19H460.11M441.21 410.49H446.38M450.25 362.51H458.68M420.03 436.9H428.75M439.61 434.79H442.25M442.43 424.27H450.69M451.15 465.22H458.48M446.55 428.71H453.37M451.85 462.39H460.49M469.1 417.39H472.74M475.18 329.41H479.1M443.15 382.12H447.25M445.07 511.62H449.11M466.97 447.06H474.5M469.71 476.08H474.69M421.94 510.78H424.3M433.53 345.26H440.02M447.77 509.91H456.85M472.21 384.14H477.81M426.32 324.08H435.48M468.97 477.32H473.93M420.07 375.08H426.72M451.45 505.16H456.21M457.96 494.23H461.66M476.77 422.68H479.1M421.83 337.75H429.17M468.37 507.64H472.76M445.72 480.1H449.79M425.47 323.38H428.82M465.82 364.52H473.78M427.02 493.96H430.29M445.41 524.94H454.52M451.27 477.34H456.09M426.68 430.4H433.91M447.49 529.66H449.78M434.48 504.51H441.24M428.91 497.3H437.8M417.6 518.14H423.37M452.8 493.21H457.31M422.39 486.99H430.01M444.19 484.72H452.09M443.24 431.81H448.5M444.72 368.99H449.78M469.29 476.61H471.73M449.05 395.91H453.43M425.15 392.85H429.62M463.93 388.96H471.97M428.72 333.12H437.46M445.5 411.92H455.49M418.44 480.09H421.94M439.22 483.87H443.74M417.6 362.39H423.31M428.63 327.11H437.01M448.48 526.2H456.44M419.32 337.49H428.73M442.8 461.73H448.78M439.85 449.3H448.21M445.91 362.31H455.05M461.73 513.4H470.65M419.68 496.78H422.77M436.95 445.51H442.93M476.94 421.2H479.1M442.21 454.1H450.97M440.87 503.62H443.31M442.24 440.31H446.25M462.81 510.85H465.18M456.11 401.89H461.17M456.79 431.52H463.62M451.29 514.32H454.06M440.39 384.88H445.11M422.91 418.32H430.76M463.56 326.09H470.71M439.4 528.36H448.5M468.83 464.65H471.28M420.67 465.19H427.74M451.87 503.14H455.6M426.82 508.21H435.32M464.55 410.66H473.02M442.47 505.62H447.23M420.68 334.88H425.25M428.83 409.36H431.17M423.91 391.15H429.06M467.37 514.44H476.09M425.29 406.4H432.58M444.79 412.19H453.12M444.41 421.37H452.05M462.19 350.67H465.6M465.14 474.22H469.19M418.09 345.23H425.03M417.6 348.54H423.1M449.4 441.87H453.52M451.4 304.09H455.19M451.84 363.82H456.47M466.25 503.8H469M442.49 391.19H447.18M449.58 481.47H457.37M427.74 427.55H434.93M443.43 476.73H447.76M444.26 438.4H453.48M456.79 391.04H462.55M456.38 383.52H465.29M441.78 412.76H445M442.63 409.91H451.31M474.78 329.58H479.1M434.17 374.05H440.69M445.6 427.68H450.7M475.17 413.27H479.1M438.41 530.42H442.69M455.84 516.58H458.3M457.06 410.34H460.74" stroke="#f4e7a3" stroke-opacity="0.5" stroke-width="1.0"/>
<path d="M437.87 329.39H445.08M428.65 311.26H437.93M446.19 327.06H451.37M436.71 309.94H443.15M462.65 304.8H469.54M474.52 314.13H477.67M453.98 310.2H460.98M437.72 316.6H443.27M445 326.48H453.83M446.88 314.71H449.21M449.41 328.33H458.24M472 303.91H476.45M447.19 341.1H452.46M447.8 311.59H451.46M442.31 347.92H452M440.47 335.01H443.08M446.44 331.26H454.75M450.09 314.42H459.29M419.98 305.24H428.66M437.85 317.32H443.7M447.08 318.89H452.62M428.47 305.73H434.99M448.69 333.36H452.92M443.04 305.91H449.61M446.15 313.47H453.14M448.52 336.67H457.1M430.86 305.86H437.8M468.5 305.4H472.59M428.59 306.7H432.1M453.44 321.61H458.19M439.13 311.37H441.26M443.14 317.12H447.73" stroke="#eecc7f" stroke-opacity="0.5" stroke-width="1.0"/>
<path d="M452.79 304.13H461.24M461.15 303.95H465.78M447.67 304.25H454.3M449.76 304.57H455.01M469.96 304.12H477.1M460.92 304.39H463.52M441.11 306.64H450.71M445.86 309.34H450.8M447.2 304.1H456.8M419.66 303.9H423.83M439.71 304.58H442.37M452.12 304.19H454.16M467.16 304.67H471.07M453.77 304.25H457.7M448.8 304.23H456.8" stroke="#ecb566" stroke-opacity="0.5" stroke-width="1.0"/>
<path d="M440.75 341.94H443.49M445.77 325.37H452.26M420.7 328.37H430.29M440.51 341.94H448.66M452.77 324.61H461.3M451.51 320.98H459.78M439.68 315.59H448.84M432.61 317.32H439.1M450.07 326.63H455.16M437.59 339.39H440.71M417.6 305.59H420.22" stroke="#f8fbd6" stroke-opacity="0.5" stroke-width="1.0"/>
<path d="M439.11 320.49H445.89M455.52 310.27H463.27M466.47 307.05H473.87M443.95 317.89H447.69M453.33 305.31H462.05" stroke="#f7f8cd" stroke-opacity="0.5" stroke-width="1.0"/>
<path d="M441.86 324.79H451.62M438.75 361.46H441.95M425.2 309.01H428.35M445.5 378.35H452.64M433.72 373.48H437.38M448.29 347.03H456.93M457.2 344.72H466.24M444.4 332.19H448.85M438.61 332.65H448.33M438.36 400.16H447.92M452.88 319.45H462.46M440.55 369.17H443.16M445.24 329.04H451.89M455.89 364.96H465.57M429.42 305.81H439.33M438.21 403.03H447.71M453.61 308.58H459.49M447.44 406.53H450.79M469.96 324.74H477.45M445.46 335.15H451.04M454.75 306.54H464.47M448.17 331.13H456.63M448.57 346.38H454.45M417.6 338.56H422.96M445.43 319.47H449M463.16 319.34H470.3M436.05 309.22H443.16M436.23 320.66H444.32M448.16 336.82H452.65M426.18 326.97H435.85M444.73 399.84H454.32M452.04 401.05H457.42M423.63 329.51H426.9M457.49 356.34H467.38M435.64 324.41H445.01M444.13 349.73H452.86M424.01 348.96H433.53M437.78 379.11H441.09M450.84 319.72H459.89M465.96 320.45H469.22M444.91 377.59H449.44M446.47 346.24H455.95M418.21 362.82H421.48M451.09 327.95H456.62M420.38 324.67H425.2M451.96 350.71H460.83M437.42 404.1H440.11M444.27 348.5H450.96M453.45 343.37H460.4M429.88 316.04H433.86M417.6 354.3H419.55M455.4 313.61H459.71M450.12 424.45H453.12M464.43 319.68H470.62M464.76 314.45H467.51M463.22 320.25H467.1" stroke="#f0d98e" stroke-opacity="0.5" stroke-width="1.0"/>
<path d="M445.92 353.49H453.26M446.16 401.36H450.02M449.71 317.8H456.82M438.52 402.22H447.44M461.98 364.32H469.5M436.56 324.85H441.85M453.86 418.06H463.18M440.27 319.62H443.16M454.01 343.19H457.42M438.97 338.98H444.63M444.9 415.59H449.34M442.72 318.15H451.67M438.5 314.67H445.5M461.89 321H469.1M440.31 393.14H444.96M447.38 330.32H454.86M449.86 325.43H458M466.04 392.19H468.99M464.66 357.63H471.37" stroke="#f8fbd6" stroke-opacity="0.5" stroke-width="1.0"/>
<path d="M469.74 310.95H472.6M439.99 392.32H445.98M428.62 394.44H437.48M450.41 318.39H457.39M432.12 436.97H440.6M451.11 330.42H455.39M422.44 403.85H425.96M448.7 449.34H456.12M450.13 428.19H458.54M442.51 323.22H446.21M446.33 480.71H448.91M474.51 452.67H479.1M473.55 380.13H476.11M431.23 323.8H438.55M453.21 402.61H459.01M449.3 411.36H457.53M445.85 337.3H452.66M450.96 405.37H459.56M424.56 514.58H428.44M465.85 373.66H473.74M417.6 352.29H421.74M438.41 390.76H445.74M444.31 395.3H448.32M461.46 505.54H467.92M444.86 442.01H454.03M456.63 382.9H463.41M448.33 448.17H456.44M460.65 346.99H464.63M447.23 441.17H454.89M436.48 336.8H444.03M445.38 391.87H453.36M417.6 344.51H424.27" stroke="#f8fbd6" stroke-opacity="0.5" stroke-width="1.0"/>
<path d="M429.44 400.45H437.54M455.78 424.86H459.49M444.19 408.16H448.91M417.6 359.06H420M439.61 397.36H447.49M468.24 407.45H475.13M472.15 323.86H478.85M451.92 321.39H459.93M438.81 370.07H444.15M460.02 388.13H467.93M431.05 314.1H440.05M444.89 337.15H449.26M424.72 533.89H427.92M433.35 458.15H440.53M442.27 425.32H450.03M453.04 453.57H459.46M463.08 410.25H472.72M465.17 351.93H468.08M417.6 315.96H419.09M445.16 455.76H449.32M443.69 328.2H447.38M443.52 483.06H451.98M470.47 425.79H479.1M442.14 356.43H447.66M422.93 364.04H430.43M440.28 500.04H442.58M443.73 508.19H448.07M446.32 419.31H454.69M442.76 455.65H446.92M422.46 322.03H428.67M417.6 312.24H420.89M455.38 315.74H458.42M437.07 384.9H446.43M474.46 455.03H479.1M454.74 454.65H457.22M451.41 319.15H454.63M445.28 361.23H449.73M467.13 307.9H472.61M452.99 386.83H457.26M432.79 419.56H441.71M445.26 358.76H448.03M441.27 419.29H447.57M432.48 421.34H434.65M458.11 329.89H464.51M465.79 359.24H473.75M463.86 463.35H469.23M470.18 449.62H475.83M451.27 317.19H458.94M440.64 332.1H447.98M442.03 443.02H448.05M434.45 400.6H444.18M458.19 395.38H467.92M459.16 425.47H468.8M470.45 322.61H472.5M422.77 504.65H432.11M444 503.45H447.77M426.29 318.55H432.49M448.1 368.18H451.95M467.57 444.94H477.4M444.15 530.17H452.84M454.61 329.39H462.72M464.47 338.76H472.67M437.62 457.92H440.28M421.21 372.6H424.81M431.35 317H440.01M435.64 451.62H442.14M462.85 319.35H467.1M444.62 368.97H446.81M417.6 441.68H425.78M421.7 337.13H430.78M433.93 438.38H436.65M441.23 395.41H449.76M428.93 367.73H431.53M435.4 338.37H444.49M433.15 340.82H441.3M447.32 332.9H456.91M454.15 515.02H459.76M451.15 402.01H456.32M462.82 410.37H471.8M419.79 453.78H423.98M474.53 325.99H479.1M464.93 345.69H473.49M449.32 373.66H455.46M419.98 478.34H423.63M425.26 421.21H428.95M433.29 455.48H441.3M425.54 335.32H432.23M423.31 366.37H426.4M417.6 307.48H423.51M421.08 461.76H426.63M456.14 327.99H465.59M423.08 411.92H427.27M447.25 403.69H454.64M444.73 423.35H448.17M427.13 312.59H431.64M445.29 445.07H450.15M450.03 473.66H452.48M451.66 364.99H454.22M446.08 500.56H448.22M455.98 432.17H462.03M444 324.25H449M469.15 367.7H474.41M422.66 333.85H425.66" stroke="#f1de95" stroke-opacity="0.5" stroke-width="1.0"/>
<path d="M429.43 499.73H435.33M448.78 307.44H456.31M420.07 304.66H427.75M418.62 486.27H422.88M432.31 533.07H436.05M442.48 521.98H450.62M465.54 519.1H467.91" stroke="#f6f2bc" stroke-opacity="0.5" stroke-width="1.0"/>
<path d="M443.58 305.04H446.61M454.33 320.28H457.21M439.58 320.4H443.26M443.16 311.11H446.51M441.55 312.17H449.26M452 317.69H458.46M454.48 307.1H461.32M447.54 311.48H454.32M443.67 327.62H451.07M449.26 312.35H455.59M444.1 313.63H449.59M454.54 324.08H456.69M448.78 311.06H453.55M449.17 330.56H455M449.27 325.49H456.52M418.21 306.34H424.75M429.8 303.92H438.29M449.62 315.93H458.95M455.18 307.79H462.75M445.31 321.41H449.3M435.82 312.85H444.25M424.57 305.07H432.93M449.08 306.96H453.44M447.26 317.81H456.26" stroke="#edc576" stroke-opacity="0.5" stroke-width="1.0"/>
<path d="M439.26 320.97H444.8M432.75 308.63H437.47M444.05 340.97H453.25M429.72 307.32H436.93M446.85 315.86H450.76M428.7 315.16H434.56M436.4 351.86H445.9M439.51 356.46H446.97M439.63 326.14H446.3M417.85 319.66H421.06M452.58 333.3H459.65M438.72 352.43H442.58M459.24 317.52H468.45M463.98 336.66H469.11M430.16 309.9H439.13M442.75 321.27H447.82M449.45 330.37H451.85M456.2 316.73H462.21M463.66 309.02H472.26M441.37 348.71H444.75M438.21 306.52H441.87M454.74 308.04H457.07M462.41 331.48H467.45M449.09 374.9H451.43M451.58 312.55H457.14M436.61 316.71H443.85M448.18 329.34H452.72M446.46 313.16H451.37M446.68 377.59H455.87M453.97 317.31H461.64M445 361.53H451.03M463.41 309.63H466.66M450.14 343.02H457.41M424.32 310.08H430.51M435.74 338.69H443.18M417.83 317.6H424.02M451.67 340.44H461.01M441.43 319.57H443.83M454.2 312.14H460.56M447.34 350.53H454.57M464.43 318.98H470.28M433.11 353.81H442.98M451.4 317.1H458.63" stroke="#efd487" stroke-opacity="0.5" stroke-width="1.0"/>
<path d="M438.22 406.17H442.39M455.75 372.13H458.23M468.09 349.02H476.47M431.44 499.96H433.76M434.72 384.57H441.62M453.65 341.19H459.15M444.39 360.37H451.87M446.31 431.52H453.03M453.25 481.65H457M458.03 457.63H464.24M440.93 361.08H447.25M454.4 502.27H460.14M417.6 527.64H419.61M429 382.77H431.3M447.22 431.37H453.5M440.53 368.38H443.39M417.6 344.48H421.86M418.66 310.26H425.15M441.76 405.05H451.33M443.12 337.91H445.67M465.72 372.19H473.87M459.71 347.67H464.77M423.82 340.63H426.97M439.25 345.07H445.52M417.6 341.41H420.08M454.97 496.23H463.55M439.45 362.76H445.52M472.12 371.07H474.15M450.22 443.32H452.3M476.3 401.19H479.1M452.28 367.94H459.67M454.37 420.77H460.62M470.08 401.87H477.43M449.64 397.4H454.92M454.42 346.13H462.48M442.08 346.85H446.28M467 410.08H472.82M433.05 380.36H438.47M423.67 309.4H428.12M418.29 411.85H425.94M428.55 471.75H433.85M475.52 445.86H479.1" stroke="#f8fbd6" stroke-opacity="0.5" stroke-width="1.0"/>
<path d="M452.46 515H460.35M470.97 530.31H474.73M421.47 513.1H428.64M472.77 431.03H479.1M438.21 450.38H444.93M456.18 514.51H462.55M439.83 478.9H443.73M453.02 480.48H457.97M458.58 512.8H464.64M424.63 469.98H433.24M453.5 525.76H459.71M422.09 529.65H429.7" stroke="#f8fbd6" stroke-opacity="0.5" stroke-width="1.0"/>
<path d="M435.8 304H442.38M446.02 305.82H448.13M434.43 304.06H437.51M438.75 309.68H447.52M426.56 303.9H433.58M446.76 305.41H454.78M470.48 303.93H477.18M441.65 305.66H449.52M448.72 307.82H458.52M455.73 306.36H461M448.92 313.78H457.97M441.57 306.43H448.52" stroke="#ecbd6e" stroke-opacity="0.5" stroke-width="1.0"/>
<path d="M450.32 304.71H456.73M449.52 304.86H454.63M417.6 303.9H420.11M466.01 304.02H469.52M443.06 304.02H447.54M451.58 303.93H456.79M440.57 304.77H450.25M449.32 304.62H453.59M447.35 303.98H451.32" stroke="#eaa458" stroke-opacity="0.5" stroke-width="1.0"/>
<path d="M439.15 304.12H444.15M447.44 303.9H454" stroke="#ea9b52" stroke-opacity="0.5" stroke-width="1.0"/>
<path d="M426.53 307.33H436.09M451.29 322.79H458.55M452.09 330.9H456.72M441.05 322.63H449.77M450.99 349.94H458.3" stroke="#f8fbd6" stroke-opacity="0.5" stroke-width="1.0"/>
<path d="M441.92 303.95H445.53M449.44 304.04H458.9" stroke="#e9924b" stroke-opacity="0.5" stroke-width="1.0"/>
<path d="M462.13 303.99H468.34M468.39 304.58H472.36M430.98 303.99H434.57M450.09 304.8H458.09M464.09 304.29H467.31" stroke="#ebad5e" stroke-opacity="0.5" stroke-width="1.0"/>
<rect x="417.2" y="303.4" width="62.3" height="233" fill="none" stroke="#6d6d5a" stroke-width="0.8"/>
<g><rect x="487.1" y="303.4" width="61.7" height="233" fill="url(#h4_9)"/><rect x="487.1" y="303.4" width="61.7" height="233" fill="url(#h4_8)" mask="url(#k4_8)"/><rect x="487.1" y="303.4" width="61.7" height="174.75" fill="url(#h4_7)" mask="url(#k4_7)"/><rect x="487.1" y="303.4" width="61.7" height="128.15" fill="url(#h4_6)" mask="url(#k4_6)"/><rect x="487.1" y="303.4" width="61.7" height="83.88" fill="url(#h4_5)" mask="url(#k4_5)"/><rect x="487.1" y="303.4" width="61.7" height="51.26" fill="url(#h4_4)" mask="url(#k4_4)"/><rect x="487.1" y="303.4" width="61.7" height="27.96" fill="url(#h4_3)" mask="url(#k4_3)"/><rect x="487.1" y="303.4" width="61.7" height="13.98" fill="url(#h4_2)" mask="url(#k4_2)"/><rect x="487.1" y="303.4" width="61.7" height="6.99" fill="url(#h4_1)" mask="url(#k4_1)"/><rect x="487.1" y="303.4" width="61.7" height="2.33" fill="url(#h4_0)" mask="url(#k4_0)"/></g>
<path d="M500.22 328.68H507.44M516.11 348.87H519.85M507.33 334.47H516.57M519.5 328.66H529.48M536.5 332.13H542.81M520.22 352.74H525.25M516.83 320.16H526.75M503.92 327.07H510.04M520.15 326.56H524.72M493.59 325.37H495.89M487.5 332.54H491.32M505.31 339.19H510.97M519.04 329.57H527.38M541.52 307.6H545.53M511.78 359.01H517.61M520.61 370.34H525.37M516.8 351.2H521.33M508.34 324.67H512.97M512.28 320.56H519.04M511.91 348.57H521.13M505.3 306.81H510.66M531.94 343.2H540.17M521.53 367.52H526.52M543.11 319.68H545.86M505.74 324.59H514.97M536.91 307.22H543.24M515.76 324.47H525.16M528.53 327.66H532.17" stroke="#e77f41" stroke-opacity="0.5" stroke-width="1.0"/>
<path d="M531.34 456.66H538.81M524.03 513.04H528.12M493.01 324.67H495.24M544.26 467.11H546.42M527.59 513.66H530.83M507.24 533.15H514.08M530.05 468.39H539.61M494.75 476.85H502.12M526.63 534.97H535.38M525.54 517.99H527.72M493.19 458.61H501.01M510.02 527.68H519.79M490.41 512.53H498.61M514.53 535.88H520.89M493.08 500.51H497.71M501.58 523.48H505.15M540.77 451.92H548.4M508.2 534.24H515.02M511.67 335.6H519.89M506.01 306.19H513.57M499.23 531.47H501.55M499 491.7H506.95M538.68 508.64H546.95M487.5 502.58H493.55M508.44 313.58H514.39M543.92 309.28H548.4M488.19 498.65H490.77M538.25 500.23H546.64M501.98 483.19H510.79M487.5 503.45H493.13M533.06 465.53H535.97M514.36 338.1H523.1M532.9 316.06H536.16M538.44 495.23H541.34M536.5 493.37H543.46M504.87 532.74H514.22M533.65 529.83H542.57M502.6 497.03H506.02M502.37 528.31H508.41M487.5 325.49H491.91M533.7 510.11H541.1M534.96 498.53H543.83M508.46 321.85H512.57M510.5 504.94H518.43M529.94 504.6H539.22M500.59 310.27H510.53M541.74 495.05H548.4M501.13 473.52H509.93M508.37 483.27H514.76M521.96 460.05H531.56M532.95 491.32H537.37M525.81 465.2H534.77" stroke="#ecb566" stroke-opacity="0.5" stroke-width="1.0"/>
<path d="M513.01 457.95H520.22M513.88 415.36H520.16M500.44 361.28H506.19M540.06 402.81H548.4M495.48 404.17H499.92M519.37 475.58H523.85M511.48 379.57H518.03M526.32 424.2H531.75M492.25 352.37H498.28M507.57 413.05H513.51M487.5 395.74H493.28M494.83 336.47H497.96M536.25 372.12H545.32M502.6 412.3H509.81M516.37 398.08H519.88M533.07 369.22H536.4M497.03 415.58H503.7M494.45 340.92H502.54M493.12 344.87H502.81M502.74 398.09H509.69M539.96 363.03H545.91M504.21 435.12H511.42M539.73 432.03H544.87M523.1 387.33H527.31M533.77 384.51H542.33M509.84 380.47H517.06M542.07 385.07H547.48M530.46 442.03H533.77M515.01 412.28H520.16M495.02 382.01H500.89M535.95 350.37H542.83M501.34 411.28H503.82M524.16 434.93H529.15M530.37 363.15H533.57M487.5 354.31H496.44M527.6 433.85H537.3M506.58 372.26H513.55M492.8 371.69H495.74M532.87 348.32H536.57M487.6 410.49H496.96M515.38 479.55H523.08M522.96 462.6H526.43M523.88 405.94H528.75M493.06 440.89H498.32M537.69 348.04H546.25M495.99 439.41H501.25M521.54 373.34H528.64M539.04 380.13H542.59M488.56 378.92H491.34M524.38 351.65H534.2M487.5 382.58H494M497.29 343.11H502.93M538.15 410.74H543.46M535.61 421.11H545.52M501.58 376.36H511.14M489.63 363.44H498.97M540.32 347.59H548.4M520.94 367.48H527.19M537.73 338.26H546.02M496.8 359.29H500.01M540.41 343.37H548.4M520.92 390.71H524.84M516.46 410.11H522.86M517.5 408.28H521.48M540.1 380H547.11M513.59 305.42H519.21M534.43 398.31H540.49" stroke="#ea9b52" stroke-opacity="0.5" stroke-width="1.0"/>
<path d="M538.18 397.55H543.69M546.61 363.31H548.4M501.66 365.27H508.49M487.5 389.51H490.26M517.38 357.19H525.91M518.95 429.52H527.77M487.5 329.48H490.64M541.64 378.59H545.36M538.07 334.03H544.64M546.29 392.16H548.4M512.05 354.39H515.06M534.36 396.15H538.51M504.33 344.56H514.18M511.36 375.84H517.41M520.98 422.78H523.3M506.36 361.02H514.82M519.06 419.65H522.38M529.56 354.71H531.83M525.27 408.02H529.55M531.6 340.26H540.05M505.63 368.91H512.88M521.17 426.4H523.54M517.19 415.67H519.53M487.5 407.35H493.87M530.8 373.6H535.68M497.4 375.02H499.74M522.93 403.27H528.95M495.87 370.26H499.39M487.5 343.94H491.03M524.33 384.24H529.06M496.52 382.93H504.09M504.49 336.92H509.09M509.47 361.12H516M522.96 429.69H530.53M523.39 364.22H527.54M526.02 362.98H532.14M544.29 367.65H546.57M540.48 374.01H544.55M512.27 448.42H518.73M513.12 445.31H517.76M496.61 393.22H499.96M490.62 357.7H493.55M525.4 376.52H533M520.67 403.13H530.67M545.37 380.66H548.4M511.22 426.35H517.15M539.99 342.9H545.23M531.4 420.48H536.47M507.42 382.9H516.45M534.54 354.27H538.97M508.21 433.63H513.87M494.66 384.62H496.89" stroke="#eecc7f" stroke-opacity="0.5" stroke-width="1.0"/>
<path d="M518.42 440.57H521.87M513.68 434.08H523.22M503.32 393.01H509.69M516.58 405.62H524.7M503.41 402.75H513.12M513.97 408.68H516.37M528.12 437.99H536.92M511.68 432.32H520.27M492.31 352.49H494.77M502.45 368.1H510.87M517.91 430.33H522.99M511.92 409.61H519.89M520.71 418.6H527.91M518.34 457.58H521.29M509.01 413.93H518.08M528.01 437.2H530.05M514.99 449.76H520.71M531.09 432.82H538.15M491.12 361.31H495.32M542.13 363.46H546.12M487.5 399.36H490.73M496.55 379.34H499.78M520.28 475.8H523.18M540.69 370.1H548.4M536.78 404.96H545.77M504.17 432.78H507.41M505.07 402.77H511.2M535.03 396.19H537.79M493.08 358.32H502.66M487.5 366.69H490.24M543.39 344.55H548.4M527.36 372.66H534.29M512.14 448.82H518.54M517.27 427.89H520.97M534.13 385.53H542.12M519.75 449.6H524.67M539.02 394.03H542.48M509.68 462.04H512.92M512.07 461.68H520.63M537.03 386.3H544.94M526.33 417.77H531.12M487.5 409.08H492.05M510.83 434.03H515.39M511.99 385.57H514.65M520.11 457.23H526.93M517.78 458.06H520.68M527.26 424.4H534.79M510.06 391.9H516.55M496.37 374.09H499.35M510.24 390.73H513.29M502.84 371.08H511.19M533.18 402.35H536.14M495.44 398.69H497.86M496.97 373.52H502.1M516.23 390.4H524.89M522.62 455.01H530.4M511.21 427.45H516.51M496.78 407.58H505.05M509.05 394.59H513.58M521.28 446.5H523.41M520.68 443.85H523.27M507.06 419.81H509.96M537.1 395.36H545.94M543.78 396.75H548.4M542.59 439.43H547.84M527.96 441.18H532.68M504.89 366.94H513.02M514.76 431.15H517.72M512.97 398.48H519.46M498.73 415.7H501.49" stroke="#efd487" stroke-opacity="0.5" stroke-width="1.0"/>
<path d="M543.09 325.91H546.98M518.52 363.47H523.92M487.5 374.7H489.92M487.5 396.18H491.29M515.35 401.07H517.59M538.19 331.85H542.08M531.67 359.98H535.31M509.19 406.97H514.28M523.71 418.52H532.37M516.09 377.26H525.59M506.35 356.19H509.97M500.79 338.4H509.69M494.52 394.05H499.29M531.62 385.52H536.31M502.62 388.73H511.57M497.3 395.58H503.62M506.31 340.06H513.24M519.46 393.79H526.7M493.13 322.02H499.02M535.97 343.94H540.65M521.49 371.93H530.47M535.59 404.31H539.7M513.96 359.98H521.45M509 374.7H518.98M511.12 371.68H519.78M521.69 381.83H529.63M507.81 391.39H512.75M540.86 364.91H545.61M537.39 386.5H547.38M511.9 411.35H518.35M509.75 339.72H517.06M508.53 339.82H513.74M512.16 428.72H517.18M517.5 375.31H523.49M493.77 370.7H500.21M491.72 351.98H497.72M515.13 406.67H519.28M514.91 389.46H523.3M496.04 386.25H501.32M508.32 354.2H511.81M512.11 433.6H521.35M527.32 337.58H534.3M537.4 346.96H542.61M497.93 340.57H504.22M505.49 397.02H512.13M507.65 387.21H512.08M531.08 336.52H540.97M525.51 352.87H533.4M510.11 350.51H513.11M508.86 397.53H517.83M542.91 335.13H547.6M540.8 362.73H546.22M531.09 374.97H538.69" stroke="#e9924b" stroke-opacity="0.5" stroke-width="1.0"/>
<path d="M496.69 436H500.8M523.34 472.19H530.69M500.23 418.81H504.6M504.43 385.17H513.26M495.61 465.51H499.56M501.26 428.6H503.37M510.2 477.46H515.13M521.97 508.13H528.53M494.55 414.71H501.94M490.77 427.18H496.08M508.03 493.03H514.88M522.09 405.33H526.12M494.68 434.7H501.7M540.27 423.28H546.31M489.73 410.85H497.13M488.63 405.71H492.17M524.67 379.08H534.41M529.45 466.44H533.69M490.58 390.31H494.65M500.12 477.76H507.62M517.78 413.85H524.2M520.05 440.93H522.77M518.65 436.35H524.22M519.39 431.01H522.61M497.61 431.06H499.79M517.51 463.52H519.67M516.16 471.17H523.51M538.27 446.8H546.63M494.2 478.6H499.43M522.57 410.62H528.02M498.9 411.11H508.12M532.91 384.56H540.94M514.09 445.1H524.07M516.85 475.6H519.54M524.93 408.08H528.05M510.87 480.22H514.52M519.08 433.31H521.21M535.43 450.7H539.86M544.47 391.57H548.36M504.38 470.18H513.43M493.44 389.85H501.76M512.17 509.21H519.02M528.53 434.24H534.05M534.03 471.02H542.31M517.49 455.18H526.09M509.73 495.34H519.1M504.01 450.22H509.81M545.51 470H548.4M524.34 459.94H527.38M495.38 446.77H505.37M518.63 480.44H525.61M508.44 433.06H515M487.5 406.4H491.48M500.98 439.5H507.96M525.01 476.63H528.67M514.73 434.17H521.84M498.98 369.73H505.46M512.13 405.68H514.49M537.96 392.74H543.31M512.86 476.58H521.2M495.81 455.93H498.13M533.58 447.42H538.68M501.89 482.83H507.13M509.14 421.61H512.29M531.9 370.79H540.02M544.66 452.11H548.4M530.45 377.59H537.55M528.34 455.15H534.34M508.14 434.56H516.99M540.16 440.54H545.81M539.04 471.59H548.06M514.79 479.96H523.42" stroke="#f0d98e" stroke-opacity="0.5" stroke-width="1.0"/>
<path d="M518.44 521.08H522.45M510.68 520.38H517.14M542.43 304.03H546.32M533.76 491H543.51M530.25 464.24H537.07M506.48 433.01H515.69M505.56 458.43H510.45M508.38 452.24H518.16M519.09 316.52H528.49M515.16 533.02H525.11M521.67 526.76H531.09M531.56 476.3H541.23M510.31 427.09H512.91M492.61 415.4H495.17M499.32 478.65H501.68M520.37 523.75H524.43M523.18 308.18H525.78M510.74 533.75H518.66M537.62 459.62H541.29M537.63 460.27H545.85M505.24 434.5H513.82M520.44 485.89H526.56M519.12 324.1H523.2M491.18 308.7H494.47M487.5 405.02H491.94M505.25 508.91H513.75M542.47 478.8H547.65M526.46 460.51H535.54M497.98 481.35H502.69M530.89 427.6H537.05M534.56 417.52H539.53M500.09 508.34H505.96M509.63 308.33H514.63M522.57 526.48H527.03M511.41 499.91H519.33M523.53 475.2H529.24M524.51 512.51H528.59M502.94 475.67H505.73M505.9 522.5H511.36M487.5 483.12H494.53M487.69 431.03H495.61M517.12 500.96H525.75M517.27 497.42H524.8M516.58 473.77H525.26M491.3 518.43H500.99M495.17 459.86H504.93M515.62 501.58H525.11M513.88 524.62H523.4M516.68 325.86H520.9M523.69 453.62H531.58M520.5 482.8H528.3M525.3 490.76H532.41M516.08 505.86H518.37M489.32 481.91H498.43M496.57 495.08H506.51M508.27 325.15H513.1M533.5 421.19H542.13M516.59 456.8H518.86M521.69 501.05H531.25M520.2 440.14H527.41M517.67 504.79H521.2M526.16 514.15H532.18M506.83 311.25H510.98M504.43 497.5H513.4M540.76 424.42H548.32M520.97 487.68H523.87M522.05 444.05H530.83M534.59 508.4H542.55M530.11 444.31H537.05M512.92 524.53H522.61M516.62 501.98H520.99M514.53 469.44H517.99M499.28 454.26H509.02M520.02 321.93H523.76M499.53 489.35H502.53M515.01 320.68H519.45M487.5 510.32H492.1M529.22 497.44H534.46" stroke="#ebad5e" stroke-opacity="0.5" stroke-width="1.0"/>
<path d="M518.67 464.5H522.74M516.85 504.34H524.29M526.54 402.25H534.5M500.89 360.21H504.53M538.83 424.13H542.41M501.07 417.71H509.31M499.53 304.91H502.8M518.96 436.27H525.38M544.06 472.16H548.4M515.77 466.12H521.55M525.25 426.95H534.82M487.5 490.5H494.7M493.01 484.4H496.37M513.46 428.87H522.78M488.52 391.1H495.14M517.15 474.75H519.79M510.98 455.93H515.3M503.65 410.78H508.57M500.06 410.01H506.81M544.81 399.39H547.76M487.5 401.29H491.82M530.49 400.16H532.78M514.34 447.24H522.53M509.62 476.27H518.11M518.35 460.82H523.9M513.59 415.05H521.05M495.26 400.31H499.75M511.68 408.82H514.18M531.91 464.44H536.35M517.4 413.62H526.2M530.13 452.92H535.71M509.29 313.62H517.89M533.52 414.59H543.35M521.45 404.74H523.94M531.49 405.38H535.15M541.41 432.92H547.47M499.27 462.88H505.55M538.37 398.82H548.21M487.5 413.66H491.68M493.16 417.1H497.95M514.89 526.66H517.07M541.68 440.19H548.4M504.55 426.7H510.47M487.5 428.48H492.52M520.33 452.77H526.65M534.85 361.9H539.48M526.12 417.62H531.32M522.16 403.83H525.73M509.3 400.26H512.88M498.63 445.97H507.2M530.01 487.63H535.9M499.77 427.42H502.61M498.94 423.73H505.12M507.54 305.29H516.57M537.84 440.25H540.77M514.24 409.42H519.72M511.88 413.47H514.56M507.17 442.56H514.7M532.4 416.04H540.52M505.78 463.57H509.92M519.97 432.13H528.46M509.29 406.25H513.12M506.16 509.69H512.85M519.45 448.29H522.11M527.36 407.69H536.89M545.81 450.65H548.4M514.45 310.69H524.16" stroke="#eaa458" stroke-opacity="0.5" stroke-width="1.0"/>
<path d="M509.86 320.06H516.48M488.57 334.39H495.59M515.6 529.59H522.66M531.34 508H539.62M510.31 342.77H518M507.22 359.02H509.52M531.77 528.16H534.99M495.9 508.17H502.18M487.5 476.11H491.38M504.57 499.24H511M518.19 371.06H523.29M514.06 358.9H520.2M502.02 504.25H510.88M496.74 313.4H502.8M489.66 491.15H497.38M487.5 323.14H489.21M495.41 332.75H503.06M510.99 516.3H516.35M524.52 507.54H532.94M530.96 488.27H534.51M528.35 486.94H532.89M528.59 333.39H533.45M509.48 366.8H518.67M514.3 321.54H522.04M499.35 515.36H502M489.72 518.95H495.86M520.4 329.56H527.05M509.73 525.11H512.99M513.31 325.57H517.85M525.45 502.92H533.64M524.32 532.12H529.89M499.21 311.32H504.06M505.59 491.52H510.32M506.99 331.78H514.29M492.67 471.99H496.52M526.85 309.57H529.74M514.94 525.78H520.51M503.2 520.7H511.3M515.92 366.18H519.26M508.59 344.94H512.4M517.51 339.06H523.8M487.5 318.36H489.87M539.71 533.87H546.92M513.07 525.84H518.3M506.27 333.71H509.48M541.17 318.43H548.4M515.62 353.68H520.89" stroke="#ecbd6e" stroke-opacity="0.5" stroke-width="1.0"/>
<path d="M528.33 504.98H530.55M512.38 524.86H521.94M505.45 523.3H513.16M546.38 454.66H548.4M514.33 530.93H523.7M487.5 472.73H493.24M535.57 512.46H543.66M491.77 526.28H493.86M493.44 503.03H499.03M492.48 508.58H496.63M501.27 480.25H503.73M502.98 478.74H510.52M492.27 497.7H494.8M536.95 522.01H546.32M538.48 532.58H542.79M493.28 535.01H497.86M531.67 460.54H540.28M520.66 521.4H524.75M492.48 521.82H498.72M491.58 528.78H500.44M518.45 535.38H527.79M525.44 483.26H532.45M487.5 461.93H490.39M510.25 523.55H514.42M508.31 509.88H511.06M493.65 520.56H499.8M496.37 533H503.82M519.22 502.6H523.06M506.16 458.7H508.67M532.3 533.61H539.85M491.31 501.79H494.41M529.14 452.48H539.14M487.5 469.92H491.57M545.62 442.76H548.4M497.61 530.16H507.46M493.57 530.84H497.44M497.62 495.14H505.81M512.14 471.37H517.65M538.69 450.62H541.47M533.52 524.15H538.43" stroke="#f2e29c" stroke-opacity="0.5" stroke-width="1.0"/>
<path d="M493.61 496.11H497.02M519.31 452.36H523.9M535.49 482.51H539.49M539.42 470.37H546.18M513.89 505.6H516.74M487.5 415.33H490.03M507.2 506.63H511.21M518.53 523.15H521.15M492.12 412.01H495.32M514.07 503.25H519.84M506.75 526.39H509.33M518.67 479.34H527.1M531.53 486.3H537.18M545.19 489.54H548.4M536.03 530.31H544.72M538.84 440.34H542.24M544.73 471.6H546.83M543.1 524.23H548.4M509.11 485.35H518.86M526.08 447.75H534.79M508.12 502.72H517.3M510.57 529.95H513.32M487.5 528.27H491.86M510.23 442.44H513.42M528.39 484.6H532.26M494.05 515.12H501.6M491.19 511.27H496.15M510.9 475.75H513.7M544.74 443.63H548.4M508.79 495.24H513.81M518.43 482.72H524.37M527.9 483.59H532.53M513.58 473.22H522.87M499.08 486.98H507.35M508.82 449.55H511.13M525.27 471.57H533.48M489.21 492.67H499.01M514.82 523.59H523.07M526.65 504.45H535.19M504.77 437.15H507.47M504.27 453.26H506.5M520.03 484.28H526.04M487.5 419.01H493.55M512.71 506.08H518.5M505.74 525.52H510.15M487.5 416.94H491.15M515.72 471H523.64M487.5 516.9H491.71M503.05 450.21H508.8M527.71 455.97H535.02M513.88 480H520.58M508.52 532.83H511.82M508.97 517.83H514M525.66 530.12H534.17M515.18 458.93H523.38M487.5 415.56H490.59M507.36 445.94H510.19M504 441.35H512.54M541.03 448.5H547.04M501.2 504.55H504.56M487.5 442.64H495.8M536.27 434.78H545.34M494.87 454.55H498.04M505.98 451.14H508.33" stroke="#f1de95" stroke-opacity="0.5" stroke-width="1.0"/>
<path d="M521.87 330.42H525.68M496.05 321.49H499.83M528.47 320.43H537.74M512.8 320.1H522.39M507.38 340.2H515.82M493.71 309.69H500.21M506.82 331.04H510.43M487.5 314.74H491.87M516.38 310.21H524.77M534.82 322.09H544.02M538.31 318.34H543.4M491.98 320.62H500.87M533.5 311.13H538.01M515.28 338.03H518.42" stroke="#e6763e" stroke-opacity="0.5" stroke-width="1.0"/>
<path d="M505.23 318.29H509.18M538.52 531.25H548.01M513.38 391.78H522.99M504.15 371.62H510.55M489.46 320.3H492.66M510.79 346.23H519.95M512.13 360.99H521.85M536.1 377.98H544.15M495.43 319.57H503.59M524.07 385.49H529.14M510.89 364.68H518.59M535.39 358.13H540.23M516.05 377.37H523.98M534.66 320.1H543.07M534.76 345.33H542.47M534.09 333.97H543.5M487.5 362.79H492.71M531.36 345.09H540.01M518.3 380.23H520.47M522.71 408.58H525.17M520.22 405.9H525.11M541.78 360.05H544.25M498.72 327.37H505.36M504.15 337.88H511.3M533.43 337.8H540.79M516.74 391.5H519.67M521.03 352.34H526.68M520.34 368.68H529.37M507.56 355.22H510.45M492.76 316.55H500.87M521.48 399.96H528.79M527.5 342.87H533.11M488.56 334.24H496.95" stroke="#edc576" stroke-opacity="0.5" stroke-width="1.0"/>
<path d="M529.47 370.46H536.05M509.95 368.76H517.4M525.85 331.77H533.44M502.08 323.72H508.5M498.77 350.68H504.47M526.99 328.47H534.61M505.02 347.42H508.23M496.92 318.36H499.54M512.47 367.21H516.37M509.95 402.54H516.66M545.66 359.36H548.4M535.38 368.05H542.71M525.78 338.75H527.9M506.22 344.02H513.29M537.77 313.65H545.91M537.81 323.34H545.97M534.9 365.52H542.37M511.76 378.87H516.68M536.42 317.54H539.99M513.27 351.48H520.61M539.84 364.13H543.41M536.71 318.08H540.25M530.85 337.98H539.23M515.31 340H524.72M499.2 333.69H508.6M539.36 310.1H545.02M511.81 357.06H519.56M521.62 339.86H525.21M520.32 351.22H522.51M518.1 369.53H521.32M487.81 329.59H496.71M535.5 316.33H545.22M488.94 363.44H494.86" stroke="#e88945" stroke-opacity="0.5" stroke-width="1.0"/>
<path d="M509.88 313.02H519.32M521.63 311.45H523.91" stroke="#e36337" stroke-opacity="0.5" stroke-width="1.0"/>
<path d="M519.3 313.24H522.35M526.53 313.87H532.27M518.95 308.45H521.73M523.1 308.61H529.73M492.8 305.83H496.9M514.15 308.22H519.53M516.27 318.25H519.36M512 317.31H519.22M507.53 307.71H509.97M531.78 305.36H536.66M524.77 310.5H528.52" stroke="#e46d3b" stroke-opacity="0.5" stroke-width="1.0"/>
<path d="M497.33 505.49H504.69M491.23 507.38H494.28M533.34 493.63H542.55M526.72 505.61H536.67M492.15 495.48H494.45M521.04 532.73H523.6M513.3 529.66H521.43M525.83 503.71H535.29M504.07 510.46H512.49M499.26 534.19H507.88M509.98 529.8H515.73M490.33 492.24H493.25M538.71 530.06H548.29M487.5 498.62H492.76M537.35 527.63H541.54M507.41 504.4H513.23M529.51 503.99H538.4" stroke="#f4e7a3" stroke-opacity="0.5" stroke-width="1.0"/>
<rect x="487.1" y="303.4" width="61.7" height="0.8" fill="#c8502a"/>
<rect x="487.1" y="303.4" width="61.7" height="233" fill="none" stroke="#6d6d5a" stroke-width="0.8"/>
<g><line x1="210.6" y1="330.3" x2="212.44" y2="330.3" stroke="#f8f9cf" stroke-width="0.8"/><line x1="212.44" y1="330.3" x2="214.57" y2="330.3" stroke="#eaa458" stroke-width="0.8"/><line x1="214.57" y1="330.3" x2="217.98" y2="330.3" stroke="#eaa458" stroke-width="0.8"/><line x1="217.98" y1="330.3" x2="221.1" y2="330.3" stroke="#f6efb3" stroke-width="0.8"/><line x1="221.1" y1="330.3" x2="222.84" y2="330.3" stroke="#f8f9cf" stroke-width="0.8"/><line x1="222.84" y1="330.3" x2="226.57" y2="330.3" stroke="#eaa458" stroke-width="0.8"/><line x1="226.57" y1="330.3" x2="229.15" y2="330.3" stroke="#f8f9cf" stroke-width="0.8"/><line x1="229.15" y1="330.3" x2="232.39" y2="330.3" stroke="#edbe70" stroke-width="0.8"/><line x1="232.39" y1="330.3" x2="235.7" y2="330.3" stroke="#f6efb3" stroke-width="0.8"/><line x1="235.7" y1="330.3" x2="238.68" y2="330.3" stroke="#f8f9cf" stroke-width="0.8"/><line x1="238.68" y1="330.3" x2="242.43" y2="330.3" stroke="#f8f9cf" stroke-width="0.8"/><line x1="242.43" y1="330.3" x2="243.99" y2="330.3" stroke="#e88b46" stroke-width="0.8"/><line x1="243.99" y1="330.3" x2="245.51" y2="330.3" stroke="#eaa458" stroke-width="0.8"/><line x1="245.51" y1="330.3" x2="248.72" y2="330.3" stroke="#eaa458" stroke-width="0.8"/><line x1="248.72" y1="330.3" x2="252.04" y2="330.3" stroke="#e88b46" stroke-width="0.8"/><line x1="252.04" y1="330.3" x2="254.09" y2="330.3" stroke="#eaa458" stroke-width="0.8"/><line x1="254.09" y1="330.3" x2="257.94" y2="330.3" stroke="#e88b46" stroke-width="0.8"/><line x1="257.94" y1="330.3" x2="260.02" y2="330.3" stroke="#f6efb3" stroke-width="0.8"/><line x1="260.02" y1="330.3" x2="263.22" y2="330.3" stroke="#eaa458" stroke-width="0.8"/><line x1="263.22" y1="330.3" x2="267.1" y2="330.3" stroke="#f8f9cf" stroke-width="0.8"/><line x1="267.1" y1="330.3" x2="269.64" y2="330.3" stroke="#e88b46" stroke-width="0.8"/><line x1="269.64" y1="330.3" x2="271.8" y2="330.3" stroke="#f8f9cf" stroke-width="0.8"/></g>
<g><line x1="280.3" y1="330.3" x2="284.19" y2="330.3" stroke="#f1de95" stroke-width="0.8"/><line x1="284.19" y1="330.3" x2="285.92" y2="330.3" stroke="#e77f41" stroke-width="0.8"/><line x1="285.92" y1="330.3" x2="289.51" y2="330.3" stroke="#e77f41" stroke-width="0.8"/><line x1="289.51" y1="330.3" x2="291.64" y2="330.3" stroke="#eecb7d" stroke-width="0.8"/><line x1="291.64" y1="330.3" x2="294.65" y2="330.3" stroke="#dd4730" stroke-width="0.8"/><line x1="294.65" y1="330.3" x2="297.86" y2="330.3" stroke="#e36137" stroke-width="0.8"/><line x1="297.86" y1="330.3" x2="300.95" y2="330.3" stroke="#dd4730" stroke-width="0.8"/><line x1="300.95" y1="330.3" x2="304.83" y2="330.3" stroke="#dd4730" stroke-width="0.8"/><line x1="304.83" y1="330.3" x2="308.67" y2="330.3" stroke="#dd4730" stroke-width="0.8"/><line x1="308.67" y1="330.3" x2="310.84" y2="330.3" stroke="#f1de95" stroke-width="0.8"/><line x1="310.84" y1="330.3" x2="314.51" y2="330.3" stroke="#e77f41" stroke-width="0.8"/><line x1="314.51" y1="330.3" x2="317.18" y2="330.3" stroke="#e77f41" stroke-width="0.8"/><line x1="317.18" y1="330.3" x2="320.95" y2="330.3" stroke="#e36137" stroke-width="0.8"/><line x1="320.95" y1="330.3" x2="324.68" y2="330.3" stroke="#dd4730" stroke-width="0.8"/><line x1="324.68" y1="330.3" x2="326.59" y2="330.3" stroke="#eecb7d" stroke-width="0.8"/><line x1="326.59" y1="330.3" x2="328.68" y2="330.3" stroke="#f1de95" stroke-width="0.8"/><line x1="328.68" y1="330.3" x2="330.62" y2="330.3" stroke="#eecb7d" stroke-width="0.8"/><line x1="330.62" y1="330.3" x2="332.46" y2="330.3" stroke="#dd4730" stroke-width="0.8"/><line x1="332.46" y1="330.3" x2="334.86" y2="330.3" stroke="#dd4730" stroke-width="0.8"/><line x1="334.86" y1="330.3" x2="338.05" y2="330.3" stroke="#eecb7d" stroke-width="0.8"/><line x1="338.05" y1="330.3" x2="341.3" y2="330.3" stroke="#e36137" stroke-width="0.8"/></g>
<g><line x1="417.6" y1="351.9" x2="419.69" y2="351.9" stroke="#edc273" stroke-width="0.8"/><line x1="419.69" y1="351.9" x2="421.52" y2="351.9" stroke="#edc273" stroke-width="0.8"/><line x1="421.52" y1="351.9" x2="424.21" y2="351.9" stroke="#edc273" stroke-width="0.8"/><line x1="424.21" y1="351.9" x2="425.87" y2="351.9" stroke="#f8fbd6" stroke-width="0.8"/><line x1="425.87" y1="351.9" x2="429.64" y2="351.9" stroke="#efd68a" stroke-width="0.8"/><line x1="429.64" y1="351.9" x2="431.79" y2="351.9" stroke="#f8fbd6" stroke-width="0.8"/><line x1="431.79" y1="351.9" x2="433.77" y2="351.9" stroke="#efd68a" stroke-width="0.8"/><line x1="433.77" y1="351.9" x2="436.62" y2="351.9" stroke="#edc273" stroke-width="0.8"/><line x1="436.62" y1="351.9" x2="439.31" y2="351.9" stroke="#f8fbd6" stroke-width="0.8"/><line x1="439.31" y1="351.9" x2="441.39" y2="351.9" stroke="#f8fbd6" stroke-width="0.8"/><line x1="441.39" y1="351.9" x2="445.06" y2="351.9" stroke="#edc273" stroke-width="0.8"/><line x1="445.06" y1="351.9" x2="447.54" y2="351.9" stroke="#f8fbd6" stroke-width="0.8"/><line x1="447.54" y1="351.9" x2="450.72" y2="351.9" stroke="#f8fbd6" stroke-width="0.8"/><line x1="450.72" y1="351.9" x2="452.61" y2="351.9" stroke="#edc273" stroke-width="0.8"/><line x1="452.61" y1="351.9" x2="454.22" y2="351.9" stroke="#f8fbd6" stroke-width="0.8"/><line x1="454.22" y1="351.9" x2="457.78" y2="351.9" stroke="#f3e5a1" stroke-width="0.8"/><line x1="457.78" y1="351.9" x2="460.46" y2="351.9" stroke="#efd68a" stroke-width="0.8"/><line x1="460.46" y1="351.9" x2="463.75" y2="351.9" stroke="#efd68a" stroke-width="0.8"/><line x1="463.75" y1="351.9" x2="466.24" y2="351.9" stroke="#edc273" stroke-width="0.8"/><line x1="466.24" y1="351.9" x2="468.85" y2="351.9" stroke="#f8fbd6" stroke-width="0.8"/><line x1="468.85" y1="351.9" x2="472.54" y2="351.9" stroke="#f8fbd6" stroke-width="0.8"/><line x1="472.54" y1="351.9" x2="474.13" y2="351.9" stroke="#efd68a" stroke-width="0.8"/><line x1="474.13" y1="351.9" x2="476.18" y2="351.9" stroke="#efd68a" stroke-width="0.8"/><line x1="476.18" y1="351.9" x2="479.1" y2="351.9" stroke="#f3e5a1" stroke-width="0.8"/></g>
<g><line x1="487.5" y1="351.9" x2="489.59" y2="351.9" stroke="#f3e39e" stroke-width="0.8"/><line x1="489.59" y1="351.9" x2="492.89" y2="351.9" stroke="#e46d3b" stroke-width="0.8"/><line x1="492.89" y1="351.9" x2="494.78" y2="351.9" stroke="#f3e39e" stroke-width="0.8"/><line x1="494.78" y1="351.9" x2="496.33" y2="351.9" stroke="#e05232" stroke-width="0.8"/><line x1="496.33" y1="351.9" x2="500.13" y2="351.9" stroke="#f3e39e" stroke-width="0.8"/><line x1="500.13" y1="351.9" x2="502.18" y2="351.9" stroke="#e05232" stroke-width="0.8"/><line x1="502.18" y1="351.9" x2="504.58" y2="351.9" stroke="#efd487" stroke-width="0.8"/><line x1="504.58" y1="351.9" x2="508.15" y2="351.9" stroke="#e88b46" stroke-width="0.8"/><line x1="508.15" y1="351.9" x2="510.18" y2="351.9" stroke="#f3e39e" stroke-width="0.8"/><line x1="510.18" y1="351.9" x2="513.76" y2="351.9" stroke="#e88b46" stroke-width="0.8"/><line x1="513.76" y1="351.9" x2="517.26" y2="351.9" stroke="#efd487" stroke-width="0.8"/><line x1="517.26" y1="351.9" x2="519.17" y2="351.9" stroke="#e88b46" stroke-width="0.8"/><line x1="519.17" y1="351.9" x2="522.24" y2="351.9" stroke="#e88b46" stroke-width="0.8"/><line x1="522.24" y1="351.9" x2="523.95" y2="351.9" stroke="#e05232" stroke-width="0.8"/><line x1="523.95" y1="351.9" x2="526.3" y2="351.9" stroke="#e46d3b" stroke-width="0.8"/><line x1="526.3" y1="351.9" x2="529.06" y2="351.9" stroke="#efd487" stroke-width="0.8"/><line x1="529.06" y1="351.9" x2="531.18" y2="351.9" stroke="#e88b46" stroke-width="0.8"/><line x1="531.18" y1="351.9" x2="532.9" y2="351.9" stroke="#e05232" stroke-width="0.8"/><line x1="532.9" y1="351.9" x2="536.5" y2="351.9" stroke="#f3e39e" stroke-width="0.8"/><line x1="536.5" y1="351.9" x2="540.28" y2="351.9" stroke="#e05232" stroke-width="0.8"/><line x1="540.28" y1="351.9" x2="543.54" y2="351.9" stroke="#e88b46" stroke-width="0.8"/><line x1="543.54" y1="351.9" x2="547.16" y2="351.9" stroke="#e05232" stroke-width="0.8"/><line x1="547.16" y1="351.9" x2="548.4" y2="351.9" stroke="#e46d3b" stroke-width="0.8"/></g>
<line x1="210.2" y1="536.3" x2="210.2" y2="538.5" stroke="#666" stroke-width="0.7"/>
<line x1="241.2" y1="536.3" x2="241.2" y2="538.5" stroke="#666" stroke-width="0.7"/>
<line x1="272.2" y1="536.3" x2="272.2" y2="538.5" stroke="#666" stroke-width="0.7"/>
<text x="206.6" y="545.3" font-size="7.2" textLength="12.6" lengthAdjust="spacingAndGlyphs" fill="#333">-3.0</text>
<text x="240" y="545.3" font-size="7.2" text-anchor="middle" textLength="13.1" lengthAdjust="spacingAndGlyphs" fill="#333">TSS</text>
<text x="273.1" y="545.3" font-size="7.2" text-anchor="end" textLength="18.7" lengthAdjust="spacingAndGlyphs" fill="#333">3.0Kb</text>
<text x="214.4" y="554.9" font-size="7.2" textLength="58.8" lengthAdjust="spacingAndGlyphs" fill="#333">gene distance (bp)</text>
<line x1="279.9" y1="536.3" x2="279.9" y2="538.5" stroke="#666" stroke-width="0.7"/>
<line x1="310.8" y1="536.3" x2="310.8" y2="538.5" stroke="#666" stroke-width="0.7"/>
<line x1="341.7" y1="536.3" x2="341.7" y2="538.5" stroke="#666" stroke-width="0.7"/>
<text x="276.3" y="545.3" font-size="7.2" textLength="12.6" lengthAdjust="spacingAndGlyphs" fill="#333">-3.0</text>
<text x="309.6" y="545.3" font-size="7.2" text-anchor="middle" textLength="13.1" lengthAdjust="spacingAndGlyphs" fill="#333">TSS</text>
<text x="342.6" y="545.3" font-size="7.2" text-anchor="end" textLength="18.7" lengthAdjust="spacingAndGlyphs" fill="#333">3.0Kb</text>
<text x="284.1" y="554.9" font-size="7.2" textLength="58.8" lengthAdjust="spacingAndGlyphs" fill="#333">gene distance (bp)</text>
<line x1="417.2" y1="536.3" x2="417.2" y2="538.5" stroke="#666" stroke-width="0.7"/>
<line x1="448.35" y1="536.3" x2="448.35" y2="538.5" stroke="#666" stroke-width="0.7"/>
<line x1="479.5" y1="536.3" x2="479.5" y2="538.5" stroke="#666" stroke-width="0.7"/>
<text x="413.6" y="545.3" font-size="7.2" textLength="12.6" lengthAdjust="spacingAndGlyphs" fill="#333">-3.0</text>
<text x="447.15" y="545.3" font-size="7.2" text-anchor="middle" textLength="13.1" lengthAdjust="spacingAndGlyphs" fill="#333">TSS</text>
<text x="480.4" y="545.3" font-size="7.2" text-anchor="end" textLength="18.7" lengthAdjust="spacingAndGlyphs" fill="#333">3.0Kb</text>
<text x="421.4" y="554.9" font-size="7.2" textLength="58.8" lengthAdjust="spacingAndGlyphs" fill="#333">gene distance (bp)</text>
<line x1="487.1" y1="536.3" x2="487.1" y2="538.5" stroke="#666" stroke-width="0.7"/>
<line x1="517.95" y1="536.3" x2="517.95" y2="538.5" stroke="#666" stroke-width="0.7"/>
<line x1="548.8" y1="536.3" x2="548.8" y2="538.5" stroke="#666" stroke-width="0.7"/>
<text x="483.5" y="545.3" font-size="7.2" textLength="12.6" lengthAdjust="spacingAndGlyphs" fill="#333">-3.0</text>
<text x="516.75" y="545.3" font-size="7.2" text-anchor="middle" textLength="13.1" lengthAdjust="spacingAndGlyphs" fill="#333">TSS</text>
<text x="549.7" y="545.3" font-size="7.2" text-anchor="end" textLength="18.7" lengthAdjust="spacingAndGlyphs" fill="#333">3.0Kb</text>
<text x="491.3" y="554.9" font-size="7.2" textLength="58.8" lengthAdjust="spacingAndGlyphs" fill="#333">gene distance (bp)</text>
<rect x="209.7" y="563.7" width="130.1" height="6.1" fill="url(#cb5)" stroke="#999" stroke-width="0.5"/>
<line x1="211.5" y1="569.8" x2="211.5" y2="571.3" stroke="#777" stroke-width="0.6"/>
<text x="211.5" y="580" font-size="6.6" text-anchor="middle" textLength="11.4" lengthAdjust="spacingAndGlyphs" fill="#333">0.00</text>
<line x1="237" y1="569.8" x2="237" y2="571.3" stroke="#777" stroke-width="0.6"/>
<text x="237" y="580" font-size="6.6" text-anchor="middle" textLength="11.4" lengthAdjust="spacingAndGlyphs" fill="#333">0.05</text>
<line x1="264.2" y1="569.8" x2="264.2" y2="571.3" stroke="#777" stroke-width="0.6"/>
<text x="264.2" y="580" font-size="6.6" text-anchor="middle" textLength="11.4" lengthAdjust="spacingAndGlyphs" fill="#333">0.10</text>
<line x1="291.6" y1="569.8" x2="291.6" y2="571.3" stroke="#777" stroke-width="0.6"/>
<text x="291.6" y="580" font-size="6.6" text-anchor="middle" textLength="11.4" lengthAdjust="spacingAndGlyphs" fill="#333">0.15</text>
<line x1="319.2" y1="569.8" x2="319.2" y2="571.3" stroke="#777" stroke-width="0.6"/>
<text x="319.2" y="580" font-size="6.6" text-anchor="middle" textLength="11.4" lengthAdjust="spacingAndGlyphs" fill="#333">0.20</text>
<text x="262.2" y="589.9" font-size="6.9" textLength="27.4" lengthAdjust="spacingAndGlyphs" fill="#333">Colorkey</text>
<rect x="419.2" y="563.9" width="130.3" height="6.3" fill="url(#cb6)" stroke="#999" stroke-width="0.5"/>
<line x1="419.3" y1="570.2" x2="419.3" y2="571.7" stroke="#777" stroke-width="0.6"/>
<text x="419.3" y="580" font-size="6.6" text-anchor="middle" textLength="11.4" lengthAdjust="spacingAndGlyphs" fill="#333">0.00</text>
<line x1="444" y1="570.2" x2="444" y2="571.7" stroke="#777" stroke-width="0.6"/>
<text x="444" y="580" font-size="6.6" text-anchor="middle" textLength="11.4" lengthAdjust="spacingAndGlyphs" fill="#333">0.05</text>
<line x1="470" y1="570.2" x2="470" y2="571.7" stroke="#777" stroke-width="0.6"/>
<text x="470" y="580" font-size="6.6" text-anchor="middle" textLength="11.4" lengthAdjust="spacingAndGlyphs" fill="#333">0.10</text>
<line x1="496.5" y1="570.2" x2="496.5" y2="571.7" stroke="#777" stroke-width="0.6"/>
<text x="496.5" y="580" font-size="6.6" text-anchor="middle" textLength="11.4" lengthAdjust="spacingAndGlyphs" fill="#333">0.15</text>
<line x1="521.5" y1="570.2" x2="521.5" y2="571.7" stroke="#777" stroke-width="0.6"/>
<text x="521.5" y="580" font-size="6.6" text-anchor="middle" textLength="11.4" lengthAdjust="spacingAndGlyphs" fill="#333">0.20</text>
<line x1="545.7" y1="570.2" x2="545.7" y2="571.7" stroke="#777" stroke-width="0.6"/>
<text x="545.7" y="580" font-size="6.6" text-anchor="middle" textLength="11.4" lengthAdjust="spacingAndGlyphs" fill="#333">0.25</text>
<text x="468.9" y="589.9" font-size="6.9" textLength="26.9" lengthAdjust="spacingAndGlyphs" fill="#333">Colorkey</text>
<text x="205.2" y="423.7" font-size="7.4" textLength="17.4" lengthAdjust="spacingAndGlyphs" fill="#333" transform="rotate(-90 205.2 423.7)">Gene</text>
<text x="413" y="423.5" font-size="7.4" textLength="21" lengthAdjust="spacingAndGlyphs" fill="#333" transform="rotate(-90 413 423.5)">Genes</text>
<text x="213.8" y="296.8" font-size="7.4" textLength="51.7" lengthAdjust="spacingAndGlyphs">C1QTNF6_5637</text>
<text x="276.3" y="297" font-size="7.4" textLength="68.2" lengthAdjust="spacingAndGlyphs">C1QTNF6_C1QTNF6</text>
<text x="428.5" y="297.4" font-size="7.4" textLength="36.9" lengthAdjust="spacingAndGlyphs">TET2_5637</text>
<text x="497" y="297.4" font-size="7.4" textLength="38" lengthAdjust="spacingAndGlyphs">TET2_TET2</text>
<g><rect x="72.8" y="640.3" width="61.9" height="233" fill="url(#h7_9)"/><rect x="72.8" y="640.3" width="61.9" height="233" fill="url(#h7_8)" mask="url(#k7_8)"/><rect x="72.8" y="640.3" width="61.9" height="174.75" fill="url(#h7_7)" mask="url(#k7_7)"/><rect x="72.8" y="640.3" width="61.9" height="128.15" fill="url(#h7_6)" mask="url(#k7_6)"/><rect x="72.8" y="640.3" width="61.9" height="83.88" fill="url(#h7_5)" mask="url(#k7_5)"/><rect x="72.8" y="640.3" width="61.9" height="51.26" fill="url(#h7_4)" mask="url(#k7_4)"/><rect x="72.8" y="640.3" width="61.9" height="27.96" fill="url(#h7_3)" mask="url(#k7_3)"/><rect x="72.8" y="640.3" width="61.9" height="13.98" fill="url(#h7_2)" mask="url(#k7_2)"/><rect x="72.8" y="640.3" width="61.9" height="6.99" fill="url(#h7_1)" mask="url(#k7_1)"/><rect x="72.8" y="640.3" width="61.9" height="2.33" fill="url(#h7_0)" mask="url(#k7_0)"/></g>
<path d="M81.18 679.07H91.16M76.66 783.69H83.28M85.63 753.25H89.04M91.86 769.9H96.85M121.1 779.36H125.24M83.9 777.8H92.3M91.29 708.05H96.17M74.36 744.47H86.9M93.77 755.38H98.6M75.25 714.6H79.43M86.32 733.95H89.86M95.97 831.58H99.51M121.26 681.19H129.69M100.03 798.44H111.59M73.2 754.38H79.46M79.24 698.89H90.97M73.2 736.77H80.45M118.96 732.54H124.96M108.93 808.44H115.34M107.53 783.69H116.41M74.26 796.6H83.07M125.27 728.23H134.3M90.3 790.16H97.74M121.53 733.23H133.51M75.32 759.92H88.26M79.08 751.64H82.36M123.75 777.49H134.3M109.2 768.38H115.13M76.91 711.61H84.69M89.4 747.29H99.51M129.43 724.1H134.3M81.33 706.23H91.01M117.55 723.05H124.48M122.36 777.76H133.41M114.42 707.17H124.42M73.2 758.65H79.71M96.33 814.37H108.42M73.2 748.18H81.84M113.83 701.46H123.75M116.39 771.34H124.84M77.61 694.52H82.12M82.08 746.7H95.42M102.62 816.6H110.67M90.99 747.38H102.18M104.89 752.52H112.11M109.72 737.77H114.17M84.84 790.16H94.4M98.96 809.92H104.23M107.95 746.45H118.35M105.18 764.05H113.31M73.39 769.58H79.2M108.9 798.34H120.99M105.11 806.44H111.55M123.27 671.38H130.39M111.91 764.6H121.67M73.2 763.19H80.3M78.99 790.01H89.02M77.99 702.59H83.4M85.44 732.75H95.35M123.39 738.09H134.3M118.5 753.42H125.82M73.2 720.24H82.12M123.05 746.74H134.3M75.03 764.69H78.39M126.34 789.04H131.75M76.89 701.37H84.02M112.17 754.37H118.88M114.35 789.81H122.52M76.97 741.36H81.56M123.54 719.96H127.69M122.58 791.1H134.3M73.2 704.86H82.62M90.85 771.02H99.32M108.15 724.14H118.13" stroke="#e0ecf4" stroke-opacity="0.45" stroke-width="1.0"/>
<path d="M92.97 759.69H98.57M102.45 813.84H108.22M123.72 660.61H132.13M114.05 688.78H123.16M121.57 731.15H131.15M105.39 743.75H118.97M95.56 743.48H102.67M96.1 788.51H104.71M73.2 719.78H77.77M115.43 708.37H125.67M105.11 673.18H118.33M81.52 710.11H86.8M120.27 677.17H128.26M76.86 659.06H85.26M85.19 681.87H92.55M116.72 661.74H123.15M90.01 690.72H99.68M93.66 754.36H102.79M123.47 720.41H132.55M88.01 718.55H94.7M95.61 801.28H100.43M78.72 677.92H85.8M74.18 677.48H86.54M121.01 654.81H124.55M92.34 704.8H98.44M73.34 727.23H85.53M122.28 761.14H134.3M109.24 759.29H118.84M93.54 712.45H97.96M79.75 714.82H90.59M97.98 772.39H111.02M82.15 672.41H89.64M90.01 754.96H100.97M75.71 661.47H81.18M97.92 779.67H111.75M88.62 700.36H94.76M93.57 750.01H98.84M92.27 715.48H96.24M104.02 774.87H114.43M130.15 674.93H134.3M74.43 657.14H84.93M95.22 741.67H103.98M91.72 737.69H101.57M124.1 706.29H133.33M92.79 730.65H99.5M111.05 673.62H117.77M110.38 732.59H114.67M116.73 738.14H120.82M101.82 788.34H115.16M73.2 738.29H83.96M95.25 752H105.34M81.63 715.54H87.76M112.4 667.46H116.8M86.55 718.17H99.37M96.84 753.6H108.17M84.32 760.73H90.87M86.59 669.33H95.72M104.26 685.79H117.42M95.27 773.05H105.31M102.02 745.25H115.07M75.78 647.36H79.07M73.2 740.16H78.16M81.64 663.38H89.96M73.2 690.42H78.6M98.02 766.69H104.66M98.85 792.99H102.71M76.29 690.86H81.68M82.81 722.08H86.75M108.54 744.56H118.34M124.46 744.2H127.47M91.64 782.37H103.2M78.06 727.77H90.16M119.99 704.02H126.2M82.39 746.68H89.11M119.83 660.08H130.52M74.66 736.28H78.01M97.96 766.13H102.54" stroke="#d9e7f1" stroke-opacity="0.45" stroke-width="1.0"/>
<path d="M131.77 824.95H134.3M120.75 862.12H130.28M113.46 860.79H123.08M73.2 849.52H82.17M91.37 861.41H99.22M84.27 814.87H93.15M119.04 860.23H124.13M117.77 805.79H128.41M73.2 860.88H81.43M111.02 830.08H124.62M90.22 793.67H96.4M73.2 855.6H76.17M73.2 864.1H75.4M112.84 785.7H120.75M92.36 832.81H99.06M114.37 817.93H127.63M105.77 856.35H114.27M122.11 795.42H126.57M83.42 822.62H89.54M109.38 825.73H121.87M118.32 856.47H124.56M130.19 787.33H133.51M106.86 856.34H113.32M87.81 810.33H94.27M73.2 857.98H81.6M106.36 839.65H114.04M83.88 798.49H92.37M73.2 810.34H76.26M118.98 841.85H126.94M99 855.81H112.37M73.2 839.42H84.1M73.2 812.79H81.61M78.43 847.4H90.68M78.64 868.43H84.38M73.2 824.49H81.54M129.1 823.28H134.3M118.81 830.69H125.59" stroke="#e9f2f8" stroke-opacity="0.45" stroke-width="1.0"/>
<path d="M98.66 676.72H103.04M73.2 745.51H81.43M128 730.34H134.3M89.8 789.65H95.67M82.83 757.08H92.51M73.2 731.31H80.15M110.84 727.89H120.38M121.96 700.46H128.4M105.11 773.78H117.45M96.56 799.43H102.43M88.81 754.86H101.64M82.06 740.06H92.53M79.01 732.88H87.11M77.8 760.06H82.04M113.7 768.19H121.95M80.03 749.7H93.73M109.37 790.13H114.83M73.2 790.58H81.72M93.89 810.47H106.95M92.83 771.6H106.57M117.07 753.11H123.45M74.28 761.88H87.99M100.89 677.07H110.7M78.06 720.34H90.22M78.53 768.31H86.21M123.07 749.4H134.3M125.28 727.7H134.3M121.28 738.75H125.7M109.61 742.37H113.43M95.93 746H99.21M97.86 804.21H109.71M73.2 763.1H82.82M107.78 787.65H112.17M98.66 813.08H111.21M73.2 698.73H79.65M78.39 788.81H83.93M119.01 730.6H124.88M98.7 670.12H106.83M120.81 747.48H130.73M116.58 786.42H128.74M99.52 807.92H106.04M75.04 755.53H85.25M74.7 727.21H80.5M100.63 834.8H107.86M111.38 764.4H120.5M79.86 692.2H85.02M116.87 725.21H124.77M118.44 725.62H123.71M86.59 781.73H98.45M80.07 800.1H89.87M88.4 708.12H97.02M124.52 748.92H133.25M84.35 701.33H88.27M119.04 752.58H126.06M81.28 769.63H90.39M109.02 700.26H122.36M107.68 751.01H113.86M128.87 789.82H134.3M110.58 714.87H121.66M104.53 732.92H113.95M83.96 756.86H94.88M93.27 763.85H101.22M96.88 792.6H110.53M112.97 735.9H121.39M87.84 759.23H91.89M81.59 707.18H91.1M101.57 796.12H109.63M103.67 831.64H106.7M119.21 750.31H125.86M108.33 792.66H111.66M112.27 755.47H119.79M113.6 704H126.26M110.33 737.81H116.29M73.2 733.81H79.3M119.74 806.25H128.79M82 672.29H89.11M117.04 777.6H121.69M86.35 691.26H96.01M81.41 675.6H88.11M75.15 775.86H83.05M97.51 670.48H107.59M105.46 769.98H118.53M89.06 697.12H96.51M73.2 705.9H80.71M102.45 750.25H113.74M127.84 706.77H133.64M113.69 715.44H119.13M124.64 684.15H132.52M73.2 792.11H77.89M123.67 684.37H133.53M76.13 735.01H84.26M73.2 689.02H83.49" stroke="#bfd3e6" stroke-opacity="0.45" stroke-width="1.0"/>
<path d="M103.1 865.55H114.4M91.55 799.34H104.44M118.65 803.07H127.81M100.13 808.71H105.73M73.2 826.95H80.48M125.36 781.67H134.3M89.33 844.73H103.29M114.11 731.69H118.38M85.07 858.01H95.03M122.41 822.8H132.18M82.27 786.67H88.49M103.89 825.58H115.37M111.92 744.34H115.92M107.94 790.66H112.65M129.11 821.96H134.3M106.48 792.54H115.53M99.58 866.23H107.51M124.22 823.75H130.57M91.9 822.71H101.92M88.9 844.83H98M79.24 802.86H91.72M124.57 793.78H134.3M119.18 840.8H129.95M104.99 845.37H118.71M84.6 766.79H87.84M93.37 815.9H101.68M111.1 785.28H116.51M120.18 766.04H127.26M115.11 783.02H121.43M94.86 848.82H108.4M86.76 857.66H94.78M74.03 760.93H80.02M75.66 749.25H85.24M128.21 819.13H134.3M87.76 770.34H99.61M124.25 805.83H127.28M112.79 823.92H116.39M104.57 801.6H117.41M103.5 833.51H108.2M86.86 851.06H94.37M84.81 846.46H94.13M106.41 796.23H117.54M81.79 814.01H88.37M105.82 812.62H118.6M74.39 807.34H85.28M117.81 760.72H122.32M127.91 797.51H134.3M127.06 818.09H134.3M116.7 772.17H129.28M84.77 782.82H92.31M73.2 799.58H80.33M80.6 763.99H89.29M94.14 851.6H99.6M84.75 861.36H93.07M107.95 838.61H115.83M94.09 806.78H99.74" stroke="#e5eff6" stroke-opacity="0.45" stroke-width="1.0"/>
<path d="M125.13 751.31H130.35M73.2 734.9H85.15M108.85 816.78H121.3M78.7 749.14H88.49M83.6 784.71H95.4M82.83 789.48H94.09M80.32 794.93H89.66M87.23 754.51H99.02M126.18 794.73H132.51M126.95 824.06H134.3M108.8 760.02H119.01M117.55 743.05H122.6M80.64 759.23H94.31M83.35 790.29H95.09M93.65 800.32H99.34M111.74 786.63H122.92M121.32 822.67H129.66M78.78 763.84H84.63M88.08 838.77H100.59M115.97 749.99H119.71M91.92 829.44H100.31M128.13 828.12H134.3M108.66 797.87H118.27M101.66 686.72H113.99M84.7 746.36H98.2M77.02 797.35H84.94M105.9 791.24H112.98M96.72 833.54H102.83M92.84 646.02H100.43M108.43 799.63H122.37M94.83 769.22H99.08M74.73 753.99H83.93M90.64 769.42H100.96M117.44 786.17H129.31M79.28 827.16H89.02M118.93 796.4H122.69M90.98 772.82H95.81M73.2 822.14H76.87M99.88 815.14H111.55M94.97 661.3H104.73M73.2 763.32H79.01M89.08 768.92H95.75M88.91 790.86H95.74M121.39 816.83H127.18M122.95 797.63H128.41M80.96 741.72H90.07M117.17 770.33H130.76M80.45 807.91H92.35M89.4 846.76H102.49M73.76 760.53H84.87M91.3 771.03H97.54M105.77 828.3H116.41M85.37 808.73H95.62M117.12 770.85H129.62M123.43 796.12H127.14M91.52 826.55H98.12M97.74 733.71H108.27M119.34 835.08H131.05M102.28 703.37H107.82M125.27 642.34H134.3M92.85 785.61H99.79M86.02 807.3H94.82M120.52 762.31H126.51M120.26 778.53H132.54M96.59 666.18H99.99M81.74 756.87H87.26M96 846.13H108.79M114.28 776.76H126.99M131.33 813.09H134.3M78.12 809.12H81.15M112.65 761.76H116.79M76.79 803.85H81.85" stroke="#c6d8e9" stroke-opacity="0.45" stroke-width="1.0"/>
<path d="M114.91 871.14H123.32M85.99 655.53H90.92M87.86 650.52H94.26M98.59 744.75H101.81M128.97 684.52H132.35M102.59 786.29H106.37M113.23 703.41H116.64M111.1 664.95H120.03M91.93 658.97H97.28M73.98 856.03H86.83M110.42 667.62H121.79M119.83 660.39H132.16M100.78 867.09H106.54M82.64 865.54H91.06M93.91 680.02H99.81M116.62 867.78H127.26M108.3 691.18H116.55M87.44 867.88H93.36M106.42 855.29H116.18M97.23 726.07H101.91M104.72 748.78H116.68M73.2 682.4H78.03M73.2 656.15H77.05M101.46 767.45H111.33M118.93 867.3H128.59M113.32 871.78H119.1M73.2 672.83H81.28M101.42 731.27H110.63M91.7 669.59H105.17M125.07 859.89H134.3M114.45 862.42H119.33M125.25 686.55H134.3M98.62 761.18H103.58M119.85 654.88H129.6M74.38 660.36H84.99M107.59 666.56H117.71M102.39 741.41H113.84M92.92 650.33H96.33M131.17 645.33H134.3M128.92 643.08H134.3M108.53 658.24H116.62M83.75 670.3H97.67M131.17 853.21H134.3M127.08 865.7H133.14M82.75 848.92H94.7M73.2 845.67H86.53M123.45 668.31H127.8M78.24 668.55H84.66M116.87 834.79H125.62M77.18 643.69H81.98M127.44 659.62H134.3M105.09 869.66H110.99M73.2 665.98H84.4M106.99 862.5H118.7M123.81 656.79H131.01M114.87 651.29H123.08M128 860.83H134.3M125.6 836.33H130.57M95.87 699.47H102.32M89.21 832.14H95.13M118.95 654.56H130.68M83.66 854.84H96.58M112.24 672.66H121.89M91.59 844.04H95.3M92.09 852.88H103.75M114.89 645.47H127.27M77.08 686.1H84.04M101.23 789.65H106.83" stroke="#d3e2ee" stroke-opacity="0.45" stroke-width="1.0"/>
<path d="M118.85 656.89H130.37M75.42 713.12H80.02M120.77 660.01H125.73M114.3 709.43H119.58M78 718.54H85.05M105.12 645.41H113.13M81.55 684.11H91.41M86.25 716.16H97.53M73.2 684.08H78.6M100.27 806.6H113.27M83.53 667.73H87.09M100.39 659.53H109.68M74.85 667.41H79.7M90.95 777.12H104.74M114.2 698.61H119.63M125.35 709.94H134.14M95.56 657.93H108.86M85.85 705.34H95.44M111.26 684.06H117.18M82.77 674.54H86.78M86.73 726.14H92.91M73.2 661.1H78.02M73.2 666.57H78.11M73.2 714.72H75.39M85.23 676.29H91.78M103.87 741.85H114.29M90.55 740.46H94.92M86.84 725.54H94.14M116.18 715.39H125.45M117.41 670.98H121.01M96.84 737.49H101.57M120.66 664.27H127.55M82.48 733.37H96.37M94.01 753.13H105.94M88.07 704.8H101.9M85.73 704.69H93.15M123.11 655.2H132.48M85.26 660.8H98.33M128.4 649.79H133.77M89.92 691.86H100.74M97.53 733.92H103.38M81.65 680.99H87.18M107.36 670.08H118.83M96.13 750.34H109.89M112.91 661.81H123.23M92.21 674.61H99.37M89.88 659.27H94.36M93.03 645.28H103.77M88.17 735.1H97.01M127.78 704.32H134.3M124.13 704.64H133.47M74.35 650.23H78.15M73.2 648.17H79.11M107.3 689.04H117.41M100.09 665.36H108.93" stroke="#b8cee4" stroke-opacity="0.45" stroke-width="1.0"/>
<path d="M104.15 690.01H115.9M115.44 651.51H128.05M87.37 676.39H92.57M109.3 647.06H118.68M119.26 658.72H129.23M99.9 750.68H106.91M83.01 663.42H89.4M107.9 704.94H111.68M87.85 651.03H93.86M95.79 702.15H105.48M94.41 727.66H104.01M112.12 687.82H124.1M108.07 691.12H116.65M78.62 671.41H89.17M91.2 668.57H104.17M93.79 669.36H99.04M107.9 645H117.63M102.03 703.09H110.88M114.46 655H117.62M123.72 645.82H134.3M111.66 660.37H119.12M98.57 747.14H110.37M124.54 653.44H130.62M99.62 654.18H112.02M93.88 675.38H98.51" stroke="#b2cae1" stroke-opacity="0.45" stroke-width="1.0"/>
<path d="M115.92 837.85H124.79M114.28 813.03H118.47M90.61 827.04H101.65M122.15 829.27H125.75M106.47 697.07H110.53M73.2 794.84H79.75M97.9 718.95H103.44M99.4 730.42H102.45M87.17 839.13H98.19M127.69 843.68H131.61M85.24 852.28H92.76M115.14 825.27H126.73M108.02 679.82H111.59M75.76 793.7H82.58M124.91 843.74H134.3M132.53 796.75H134.3M107.66 674.36H120.52M96.13 731.74H101.82M79.85 815.45H84.12M107.47 863.71H120.64M85.04 853.71H96.53M79.1 831.57H83.09M115.42 838.52H121.36M119.1 807.3H124.08M110.13 656.05H118.42M86.19 825.47H99.56M77.32 833.1H91.21M74.18 830.49H86.16M99.19 844.22H103.85M99.66 706.34H108.22M112.19 868.98H115.19M123.8 811.95H134.3M119.04 843.99H132.17M84.79 796.43H95.78M82.6 794.86H89.69M81.06 816.82H90.15M97.28 693.36H108.18M96.53 702.09H103.46M118.98 830.95H124.7M100.14 850.95H106.51M75.48 643.93H78.76M109.92 871.71H115.93M117.8 649.18H120.85M125.18 856.42H130.48M90.97 705.96H102.29M110.01 646.17H120.62M117.63 844.83H125.76M75.43 859.25H82.01M73.2 849.7H77.24M115.74 837.86H124.28M83.16 837.25H88.94M124.66 774.41H132.01M91.64 824.69H97.98M86.54 856.97H89.69M113.79 803.17H123.21M100.16 709.46H112.72M123.34 815.75H127.54M73.62 837.36H84.61M99.18 712.36H113.04M94.48 666.6H99.38M77.41 838.45H88.72M117.5 849.55H123.72M107.33 655.25H114.63M120.22 842.79H133.92M75.87 816.95H85.03" stroke="#ccddec" stroke-opacity="0.45" stroke-width="1.0"/>
<path d="M91.71 662.73H99.7M99.61 721.16H109.6M103.02 712.66H110.17M100.53 720.86H107.65M92.8 677.78H106.43M83.35 648.26H91.71M105.67 689.53H113.66M82.88 644.89H95.43M101.87 716.31H107.39M101.49 745.97H107.87M95.66 661.8H104.32M116.63 650.82H124.83M95.11 703.06H100.56M100.74 644.9H108.93" stroke="#abc5df" stroke-opacity="0.45" stroke-width="1.0"/>
<path d="M102.28 648.76H115.08M100.6 651.35H106.1M99.02 654.88H106.17" stroke="#9ab4d6" stroke-opacity="0.45" stroke-width="1.0"/>
<path d="M99.88 659.31H111.42" stroke="#9ebcda" stroke-opacity="0.45" stroke-width="1.0"/>
<path d="M118.29 847.61H122.89M87.46 855.93H91.48M120.01 871.76H124.56M113.86 856.49H119.6M114.55 849.38H128.34M91.19 860.87H97.73" stroke="#eef6f9" stroke-opacity="0.45" stroke-width="1.0"/>
<path d="M95.16 647.15H108.27" stroke="#97add2" stroke-opacity="0.45" stroke-width="1.0"/>
<path d="M100.04 666.28H103.42M104.69 652.18H114.8M83.97 642.49H90.63M102.43 642.88H106.32" stroke="#a5c1dc" stroke-opacity="0.45" stroke-width="1.0"/>
<rect x="72.8" y="640.3" width="61.9" height="1.2" fill="#6a3a8a"/>
<rect x="72.8" y="640.3" width="61.9" height="233" fill="none" stroke="#7a7a8a" stroke-width="0.8"/>
<g><rect x="142.4" y="640.3" width="62.4" height="233" fill="url(#h8_9)"/><rect x="142.4" y="640.3" width="62.4" height="233" fill="url(#h8_8)" mask="url(#k8_8)"/><rect x="142.4" y="640.3" width="62.4" height="174.75" fill="url(#h8_7)" mask="url(#k8_7)"/><rect x="142.4" y="640.3" width="62.4" height="128.15" fill="url(#h8_6)" mask="url(#k8_6)"/><rect x="142.4" y="640.3" width="62.4" height="83.88" fill="url(#h8_5)" mask="url(#k8_5)"/><rect x="142.4" y="640.3" width="62.4" height="51.26" fill="url(#h8_4)" mask="url(#k8_4)"/><rect x="142.4" y="640.3" width="62.4" height="27.96" fill="url(#h8_3)" mask="url(#k8_3)"/><rect x="142.4" y="640.3" width="62.4" height="13.98" fill="url(#h8_2)" mask="url(#k8_2)"/><rect x="142.4" y="640.3" width="62.4" height="6.99" fill="url(#h8_1)" mask="url(#k8_1)"/><rect x="142.4" y="640.3" width="62.4" height="2.33" fill="url(#h8_0)" mask="url(#k8_0)"/></g>
<path d="M152.27 863.1H155.53M174.86 712.1H184.27M199.77 801.36H204.4M178.26 847.14H181.88M149.72 825.93H163.5M180.68 806.44H185.11M194 669.37H204.4M177.11 856.99H180.66M186.02 819.13H196.93M200.98 651.83H204.4M190.21 851.18H193.65M170.89 751.95H177M147.33 656.63H159.77M180.01 687.44H191.55M142.8 670.24H148.21M181.05 645.71H191.26M195.48 845.2H204.4M142.8 648H151.24M186.98 807.95H195.1M165.88 729.31H172.48M164.27 856.64H178.19M161.2 863.14H164.33M174.51 743.22H182.5M160.49 848.61H172.09M187.34 830.62H200.18M150.69 664.77H154.92M163.45 731.92H169.97M148.96 846.51H152.86M142.8 797.92H144.98M142.8 833.45H146.73M184.11 857.71H188.89M163.52 717.81H172.97M160.41 840.44H167.98M151.89 650.45H158.91M199.89 781.52H204.4M161.19 864.37H169.07M162.13 829.02H165.75M147.33 865.59H158.29M166.21 777.92H175.33M199.25 671.17H204.4M192.81 651.61H199.89M155.79 669.29H165.13M154.92 649H162.74M182.04 839.84H186.92M196.38 652.52H201.16M151.77 789.11H161.89M175.06 730.92H187.04M158.83 652.06H168.49M189.19 809.91H197.69M186.97 666.37H200.45M190.96 856.95H202.75M187.31 842.54H196.36M193.68 792.49H204.4M147.95 644.56H153.2M151.72 657.58H162.09M168.92 753.86H180.9M178.77 693.69H186.37M160.8 664.14H168.85M195.78 693.12H203.24M164.46 691.78H168.7M150.91 854.34H158.32M188.24 824.82H198.84M166.07 715.9H170.27M188.98 651.79H200.22M197.48 679.63H204.4M143.04 814.8H152.48M142.8 679.73H150.65M192.47 848.05H198.63M150.08 657.71H163.36M146.12 658.07H149.33M159.3 695.14H170.9M146.83 657.47H152.63M165.67 705.7H168.89M145.22 687.47H149.8M194.26 675.44H204.4M193.31 814.95H198.02" stroke="#abc5df" stroke-opacity="0.45" stroke-width="1.0"/>
<path d="M159.56 720.99H165.11M192 799.78H202.79M191.71 759.78H197.76M196.1 757.84H202.83M152.73 763.76H162.03M161.86 778.62H169.48M162.43 786.17H172.75M176.64 756.48H187.76M154.31 790.52H163.14M178.51 820.9H182.06M143.05 723.64H148.17M147.58 816.53H156.77M191.97 781.71H204.4M149.68 791.11H153.22M182.17 764.12H185.62M142.8 741.23H151.34M142.8 795.21H152.28M161.19 820.04H172.69M170.56 821.71H181.64M173.68 794.87H187.55M142.8 803.03H147.65M182.67 738.76H186.91M142.8 787.15H148.35M195.55 766.01H199.64M192.45 761.49H202.67M170.1 865.79H175.26M150.33 752.44H160.67M142.8 795.5H145.12M142.8 793.87H147.37M200.78 750.5H204.2M174.46 792.78H187.43M149.76 753.02H158.29M164.57 824.08H174.66M153.05 808.49H166.02M195.69 777.41H201.14M169.15 833.92H172.54M175.36 814.98H189.25M144.89 729.72H149.64M178.12 796.81H187.14M155.59 772.09H169.07M181.85 772.89H191.76M179.1 754.1H184.18M171.26 818.3H182.23M152.86 743.03H157.82M148.43 762.32H156.72M185.04 770.11H194.08M161.41 791.75H174.38M182.41 739.64H196.3" stroke="#bfd3e6" stroke-opacity="0.45" stroke-width="1.0"/>
<path d="M185.99 684.91H195.4M167.83 770.79H180.79M160.36 706.31H163.82M187.55 679.21H191.8M158.01 684.57H161.83M192.37 826.54H196.51M152.24 686.33H161.23M190.89 832.08H198.73M202.12 855.93H204.4M182.65 676.99H195.89M158.42 827.83H163.51M198.87 871.69H204.4M149.66 870.44H160.46M153.08 861.62H165.06M148.44 669.36H156.94M166.22 813.6H179.89M145.64 852.26H156.88M173.58 868.93H185.51M149.38 829.09H162.51M192.93 854.93H198.74M157.77 850.47H163.08M195.84 660.48H204.4M144.26 689.41H154.61M144.42 699.16H148.61M168.73 758.73H172.01M157.6 695.54H165.17M142.8 699.39H149.37M154.28 862.43H157.88M146.77 692.01H153.25M170.54 775.92H180.37M185.11 661.64H196.78M191.88 660.87H202.47M149.47 871.67H155.96M142.8 853.45H154.72M142.8 705.81H150.33M164.31 763.13H176.28M191.8 686.78H204.4M142.8 699.72H148.11M144.64 682.95H151.82M176.98 716.75H189.99M142.8 857.08H147.59M189.59 670.79H197.6M151.39 858.56H157.54M170.16 781.09H175.35M197.56 655.05H204.4M142.8 866.19H153.2M201.54 706.52H204.4M197.55 870.05H203.66M161.67 661.08H164.78M202.27 661.5H204.4M198.54 863.74H204.4M154.57 842H165.62M143.56 725.01H151.78M146.05 834.39H152.36M157.05 689.06H162.11M152.31 859.04H165.99M194.4 693.93H204.4M146.75 711.33H155.48M178.63 751.23H182.75M173.73 774.95H181.55M160.7 864.55H164.34M142.8 735.4H149.49M160.65 681.47H170.59M188.69 853.79H195.9M150.26 738.1H161.62" stroke="#b2cae1" stroke-opacity="0.45" stroke-width="1.0"/>
<path d="M158.98 802.83H164.82M158.98 813.33H169.98M163.65 837.75H168.88M175.17 865.73H184.31M190.58 853.68H202.63M189.56 841.1H203.19M195.11 839.8H201.3M180.78 805H194.35M180.61 823.23H187.6M191.37 816.01H195.14M184.67 862.32H195.69M177.38 819.74H187.76M190.41 815.09H202.44M180.52 853.65H188.78M149.43 817.54H160.89M175.62 840.81H188.76M184.7 831.74H194.03M144.9 799.67H152.51M189.29 866.29H192.87M193.94 841.36H204.4M147.6 812.8H155.14M149.91 867.86H159.35M195.48 830.5H204.4M179.83 839.64H184.9M154.36 862.81H165.93M156.36 839.03H169.82M157.49 831.65H164.91M189.2 832.69H195.82M160.34 812.55H164.57M189.22 855.37H192.26M145.78 822.71H156.97M142.8 806.98H147.17M181.97 834.3H193.51M183.92 856.79H191.43M143.96 828.29H155.79M161.34 844.74H171.86M184.26 860.58H193.17M154.9 859.43H158.85M142.8 801.63H149.56M142.8 858.51H147.45M142.8 804.13H146.48M150.11 835.34H157.32M189.29 810.93H197.1M142.8 832.64H148.11M185.55 860.53H195.29" stroke="#ccddec" stroke-opacity="0.45" stroke-width="1.0"/>
<path d="M147.91 791.8H159.98M162.61 796.99H166.58M143.04 825.45H148.26M180.4 781.95H183.6M202.38 647.72H204.4M161.45 682.18H174.77M178.98 787.11H189.53M186.06 811.64H195.71M158.1 761.1H166.76M152.78 779.62H165.25M183.23 825.04H194.42M158.16 808.58H161.56M187.28 763.81H195.52M146.48 642.82H154.97M163.82 849.7H176.23M195.96 818.26H204.4M156.8 758.36H165.17M177.03 847.54H180.07M162.86 852.54H176.04M142.8 769.58H148.63M166.36 820.7H169.39M153.94 798.75H167.57M166.03 704.42H175.86M169 759.62H176.42M178.09 670.75H187.69M167.2 836.46H180.62M165.16 863.93H171.82M189.67 652.34H202.24M175.09 676.34H182.24M150.2 813.19H154.38M195.16 809.19H204.4M163.99 846.71H176.79M198.18 835.5H204.4M163.61 701.18H172.57M142.8 829.68H147.38M168.59 756.26H177.03M144.72 785.03H153.9M142.8 848.31H151.03M190.07 857.84H197.8M174.08 850.04H179.33M191.91 825.11H201.93M169.19 767.55H175.07M147.27 774.51H151.45M171.89 723.04H180.56M153.12 751.06H158.79M176.33 796H183.58M195.95 790.61H204.4M142.8 811.91H151.07M175.41 851.23H182.15M192.31 795.75H198.68M161.18 823.85H174.98M142.8 761.54H148.04M177.08 651.29H188.87M172 858.7H183.8M199.76 807.97H204.1M195.28 833.77H198.73M150.92 774.54H159.84M153.89 781.55H166.23M152.47 845.81H161.55M190.07 768H203.55M142.8 810.27H149.21M197.62 660.59H204.4M158.28 825.03H163.59M152.57 819.84H163.41M146.52 813.51H151.9M181.97 651.44H190.29M152.1 811.82H163.16M158.27 860.03H169.12M143.05 642.78H149.67M191.6 644.82H198.83M164.46 865.17H175.07M169.18 864.17H177.29M174.16 654.12H187.42M185.6 821.25H198.67M144.59 828.38H155.81M178.48 819.33H191.91M197.34 769.74H202.07M143.26 750.51H156.07M151.48 653.16H162.1M181.42 822.41H186.45M142.8 787.17H148.28" stroke="#a5c1dc" stroke-opacity="0.45" stroke-width="1.0"/>
<path d="M163.66 648.29H172.23M188.91 688.99H199.99M149.4 714.14H157.3M173.81 800.64H180.52M163.86 765.62H177.34M142.8 712.06H153.02M143.54 675.59H155.98M156.14 695.22H163.05M149.54 731.9H154.73M153.74 734.75H157.29M190.07 752.75H200.75M169.88 681.84H181.15M193.33 744.66H198.06M160.85 754.56H171.91M159.83 703.24H169.38M163.95 798.58H174.59M144.98 727.25H150.11M148.28 690.47H156.77M193 696.47H196.5M181.49 729.93H193.39M166.84 784.51H174.31M190.33 715.91H197.57M166 694.57H175.21M189.24 745.33H194.7M166.87 794.16H173.6M181.68 737.89H192.85M173.57 678.76H178.8M184.17 745.52H190.82M186.2 693.82H197.6M154.53 674.4H160.64M176.85 758.11H189.59M167.92 700.95H176.6M163.83 743.75H168.68M164.29 772.37H172.02M170.19 714.99H178.13M152.55 754.6H159.9M169.65 712.03H175.14M157.98 675.9H164.1M142.8 704.07H150.92M146.46 753.78H158.37M172.61 804.12H178.31M157.86 739.41H169.08M151.25 706.57H161.77M142.8 707.66H146.5M172.15 666.81H181.11M151.92 641.98H159.52M152.32 704.1H165.98M145.52 669.71H149.53M166.11 820H177.06M142.8 697.21H154.6M173.66 768.59H185M157.78 732.02H168.03M151.66 683.66H161.18M146.4 681.73H151.76" stroke="#9ab4d6" stroke-opacity="0.45" stroke-width="1.0"/>
<path d="M144.11 856.44H152.74M168.94 854.48H181.25M194.4 830.43H199.5M161.91 821.94H169.65M171.5 858.17H180.5M143.25 795.67H157.09M185.76 836.34H198.2M187.29 807.59H198.61M178.63 852.03H187.38M161.87 844.97H171.87M142.8 868.84H153.76M196.67 764.19H204.4M180.44 792.25H190.95M188.14 808.44H200.41M149.13 782.62H163.1M152.31 793.31H165.82M196.16 761.01H204.4M186.48 760.67H190.27M186.88 782.42H198.55M154.19 811.6H166.1M157.98 805.84H162.87M190.57 798.06H193.68M142.8 845.38H147.8M155.85 807.17H161.39M195.92 782.9H204.4M188.78 822.33H195.35M154.37 822H157.91M195.49 810.81H204.4M180.28 779.49H188.51M198.36 825.78H204.4M154.63 832.02H157.84M188.44 829.92H198.45M153.25 805.7H161.17M152.23 850.85H164.89M149.03 774.83H156.29M189.91 763.8H199.37M186.39 767.94H197.77M179.62 813.77H190.84M152.55 805.79H163.56M189.79 791.48H192.97M199.62 815.82H204.4M187.72 826.39H195.06M177.39 842.95H181.83M163.91 852.07H173.75M156.44 797.59H165.19M145.5 843.86H149.65M199.87 832.2H204.4M188.07 791.52H195.7" stroke="#c6d8e9" stroke-opacity="0.45" stroke-width="1.0"/>
<path d="M151.03 767.62H157.64M190.04 764.81H196.81M163.7 792.94H168.48M197.36 715.35H202.99M177.31 788.33H180.53M152.71 752.49H164.14M173.3 779.07H183.89M186.67 756.41H193.97M168.71 740.37H177.24M177.6 808.16H181.91M192.89 775.48H201.57M164.87 845.03H174.87M198.75 729.1H201.96M148.4 753.78H158.36M176.35 799.72H188.94M192.49 643.98H202.72M142.8 714.55H148.27M157.15 787.98H163.71M158.52 657.61H172.27M142.8 777.98H149.34M185.55 644.9H193.89M175.88 703.72H179.57M150.88 738.15H156.66M173.11 684.34H183.24M153.82 764.41H159.91M148.65 739.47H152.29M173.26 708.65H183.85M154.32 728.65H167.33M160.7 770.45H168.79M192.48 775.33H202.96M148.07 736.15H156.25M158.67 790.66H171.25M186.32 644.47H193.38M166.6 836.59H175.08M159.37 772.07H162.49M156.95 751H162.66M144.57 776.98H154.09M182.33 799.83H191.77M179.58 742.89H193.28M165.23 684.67H174.39M188.39 751.02H191.77M165.38 863.18H177.21M143.78 749.49H152.5M150.95 734.12H163.75M157.55 732.13H162.92M185.51 790.06H192.74M164.46 827.61H172.32M187.32 743.57H191.85M180.5 737.92H184.26M143.77 751.95H155.31M154.34 761.02H166.25M193.62 752.8H204.4M174.18 759.45H188.14M145.21 643.2H154.12M142.8 642.36H144.24M153.14 784.18H163.1M142.8 718.53H149.44M197.03 771.31H203.78M182.94 771.61H188.67" stroke="#9ebcda" stroke-opacity="0.45" stroke-width="1.0"/>
<path d="M153.38 690.99H165.91M170.89 789.33H182.72M165.06 740.67H170.6M158.61 683.54H170.45M196.74 694.53H199.98M147.3 689.4H150.8M182.9 675.08H191.78M142.8 713.31H154.06M161.97 737.44H171.13M162.27 684.97H169.6M154.09 665.61H160.81M165.82 769.9H177.39M149.44 690.41H156.27M151.3 641.4H159.99M150.48 731.67H155.45M166.04 678.96H176.64M183.14 670.33H195.62M169.47 767.02H176.27M190.29 676.54H197.56M171.93 776.63H179.1M142.8 678.25H150.57M170.08 678.21H178.83M182.44 681.56H187.63M152.31 688.31H164.95M172.91 766.88H181.01M182.06 668.9H194.02M188.82 654.73H200.79M142.8 664.47H154.08M149.95 673.35H160.95M142.8 690.59H149.4M145.76 677.05H156.81M147.71 679.38H161.15M187.75 669.15H198.95M161.21 694.91H165.88M191.58 709.61H196.43M195.39 678.78H204.4M143.66 689.29H151.78M168.34 777.19H177.7M170.33 768.3H174.24M184.08 695.58H190.06M182.94 692.74H186.4M175.43 655.39H178.77M145.54 671.69H151.41M170 796.75H182.09M159.55 699.64H171.28" stroke="#97add2" stroke-opacity="0.45" stroke-width="1.0"/>
<path d="M143.7 748.56H149.24M191.97 717.92H204.4M194 722.94H200.37M148.94 745.38H158.29M177.01 784.45H184.29M142.8 704.05H153.8M157.54 733.37H163.96M181.16 683.26H191.25M193.6 744.41H202.45M177.6 716.49H185.05M155.53 725.09H159.82M151.85 740.5H161.94M170.22 829.92H174.58M154 723.98H165.18M187.91 780.2H196.81M180.04 736.92H185.86M157.46 713.16H168.79M166.47 760.63H171.22M150.06 764.6H158.47M155.64 742.78H166.8M150.75 684.82H162.55M194.98 724.78H200.22M195.36 721.54H202.13M143.39 723.36H149.95M191.8 698.76H203.86M193.19 727.35H198.15M143.41 708.91H149.44M178.41 732.74H186.07M190.7 753.54H193.74M144.62 763.24H151.74M180.25 756.98H186.89M182.91 707.34H186.97M165.52 796.54H172.78M168.53 797.3H174.02M162.3 776.38H167.8M151.33 736.2H158.06M146.94 744.12H159M180.97 737.53H192.11M195.03 764.59H203.81M165.1 772.58H174.66M155.28 728.5H166.96M201.02 721.56H204.4M178.84 691.99H191.03M159.64 801.79H173.06M171.86 834.53H176.89M162.63 748.99H170.89" stroke="#b8cee4" stroke-opacity="0.45" stroke-width="1.0"/>
<path d="M188.62 645.86H199.17M146.07 650.19H154.73M142.8 672.99H156.44M171.75 743.21H176.48M191.63 643.31H203.53M179.66 693.79H187.21M170.58 762.42H174.54M172.1 671.08H176.53M163.4 686.7H168.14M164.35 738.05H173.49M149.04 657.35H152.94M185.21 663.76H198.07M142.8 659.32H145.13M176.29 675.17H182.79M179.82 657.69H184.47M178.41 649.92H191.64M172.31 729.98H181.13M184.78 662.9H197.14M148.74 663.98H158.57M171.4 771.06H176.87M155.39 663.66H166.24M176.4 663.98H189.91M172.27 760.14H180.32M159.56 652.42H168.01M162.17 676.28H168.2M158.71 692.82H169.78M189.14 664.11H199.42M178.93 663.79H184.98M174.97 656.24H178.31M201.33 674.4H204.4" stroke="#93a5ce" stroke-opacity="0.45" stroke-width="1.0"/>
<path d="M188.61 643.16H193.32M169.41 648.64H180.66M145.06 647.95H152.61M191.34 652.66H202.02M188.22 647.34H192.85M181.67 648.98H185.1M174.64 684.96H184.8M163.7 730.98H175.75M170.63 659.65H176.68M173.52 738.79H179.05M158.15 656.82H171.79M163.09 673.68H168.43M174.44 700.78H184.72M151.67 643.34H165.08M171.76 706.03H183.95M183.04 653.4H186.64M194.47 651.52H202.3" stroke="#909eca" stroke-opacity="0.45" stroke-width="1.0"/>
<path d="M171.21 726.82H176.14M168.88 705.7H181.9M161.14 640.83H169.87M175.84 680.4H181.92M174.97 715.49H179.93M169.97 714.19H176.31M185.24 643H188.32M166.03 732.97H176.6M169.61 693.79H172.94M171.35 696.58H176.66" stroke="#8c96c6" stroke-opacity="0.45" stroke-width="1.0"/>
<path d="M171.02 653.62H176.62M169.19 659.14H182.21M169.51 660.11H172.59M175.95 647.64H181.48M170.47 646.27H183.45" stroke="#8c7cb9" stroke-opacity="0.45" stroke-width="1.0"/>
<path d="M142.8 862.39H148.16M145.13 849.3H152.29M191.63 844.66H196.24M144.99 871.3H157.49M189.2 841.71H198.35M147.92 834.88H151.32M190.7 872.36H197.04M182.15 859.8H191.81M142.8 837.36H151.05M159.76 872.29H169.99M154.86 862.07H163.12M142.8 841.76H151.35M151.84 870H156.17M144.74 850.43H156.15M143.91 860.41H157.68" stroke="#d3e2ee" stroke-opacity="0.45" stroke-width="1.0"/>
<path d="M142.8 641.01H152.35" stroke="#8c85be" stroke-opacity="0.45" stroke-width="1.0"/>
<path d="M170.13 651.62H175.32M169.3 641.5H174.51" stroke="#8c74b5" stroke-opacity="0.45" stroke-width="1.0"/>
<path d="M166.41 641.79H176.88" stroke="#8a52a5" stroke-opacity="0.45" stroke-width="1.0"/>
<path d="M167.55 669.86H173.82M196.74 642.2H204.4" stroke="#8c8dc2" stroke-opacity="0.45" stroke-width="1.0"/>
<rect x="142.4" y="640.3" width="62.4" height="1.4" fill="#6a2a80"/>
<rect x="142.4" y="640.3" width="62.4" height="233" fill="none" stroke="#7a7a8a" stroke-width="0.8"/>
<g><rect x="252.8" y="640.3" width="61.9" height="233" fill="url(#h9_9)"/><rect x="252.8" y="640.3" width="61.9" height="233" fill="url(#h9_8)" mask="url(#k9_8)"/><rect x="252.8" y="640.3" width="61.9" height="174.75" fill="url(#h9_7)" mask="url(#k9_7)"/><rect x="252.8" y="640.3" width="61.9" height="128.15" fill="url(#h9_6)" mask="url(#k9_6)"/><rect x="252.8" y="640.3" width="61.9" height="83.88" fill="url(#h9_5)" mask="url(#k9_5)"/><rect x="252.8" y="640.3" width="61.9" height="51.26" fill="url(#h9_4)" mask="url(#k9_4)"/><rect x="252.8" y="640.3" width="61.9" height="27.96" fill="url(#h9_3)" mask="url(#k9_3)"/><rect x="252.8" y="640.3" width="61.9" height="13.98" fill="url(#h9_2)" mask="url(#k9_2)"/><rect x="252.8" y="640.3" width="61.9" height="6.99" fill="url(#h9_1)" mask="url(#k9_1)"/><rect x="252.8" y="640.3" width="61.9" height="2.33" fill="url(#h9_0)" mask="url(#k9_0)"/></g>
<path d="M283.04 855.37H295.85M286.54 667.32H289.97M253.92 721.11H261.07M303.61 778H308.08M291.47 777.53H297.17M284.55 831.44H298.19M272.74 861.62H277.15M269.82 719.45H272.94M299.44 722.21H311.02M292.59 868.89H303.62M304.25 655.11H308.52M264.24 864.12H269.22M264.68 666.37H273.92M267.35 771.63H272M253.2 708.18H260.76M258.41 672.26H263.3M268.18 740.73H278.35M295.63 768.59H306.9M277.64 714.22H289.93M258.24 792.09H261.8M283.84 655.44H294M259.7 721.8H265.92M267.67 828.71H277.5M253.62 694.37H262.55M253.2 706.86H258.51M308.77 779.7H314.3M263.94 849.52H271.41M305.37 815.99H310.12M310.37 862.93H314.24M262.12 746.36H270.38M302.09 733.65H312.38M258.8 724.38H268.16M263.55 760.87H273.21M302.58 758.01H311.96M253.2 852.37H258.56M301.01 752.07H306.35M253.2 783.61H263.07M255.04 716.36H258.07M304.31 741.7H313.73M280.44 780.15H294.37M287.91 800.85H291.48M309 832.92H314.3M271.14 823.23H280.45M268.71 640.97H278.98M302.36 719.54H312.55M290.03 843.38H297.25M253.2 851.53H256.3M302.68 726.13H307.22M253.23 854.06H258.06M309.9 834.65H314.3M296.31 834.72H299.87M253.2 682.24H256.55M299.9 766.09H311.13M298.25 788.38H304.52M309.3 868.5H314.3M287.89 790.86H296.22M259.81 812.66H266.62M265.04 836.07H268.36M292.27 839.11H304.19M304.7 864.54H310.03M266.57 696.95H271.97M290.49 686.11H301.61M253.2 752.2H257.64M293.94 738.53H304.24M253.2 755.14H258.09M253.2 810.05H263.45M294.25 794.2H300.63M281.4 685.54H284.75M256.03 707.44H260M253.2 678.23H264.09M253.2 837.49H259.71M304.45 837.24H314.3M268.8 726.99H272.74M282.72 858.26H290.7M293.49 843.42H304.87M300.39 728.84H304.12M297.75 796.13H303.56M262.96 754.75H273.27M260.04 839.75H265.44M295.75 798.28H300.96M298.65 794.23H306.26M299.99 774.77H304.68M310.34 745.96H314.3M287.66 754.46H295.95M306.64 854.94H313.84M253.2 752.96H262.74M306.84 858.61H314.3M253.2 801.18H261.04M296.25 817.21H308.3M278.14 798.21H283.7M253.2 828.9H263.44M272.61 660.52H283.78M253.2 741.05H258.94M272.62 654.17H285.15M255.38 717.16H262.81M260.29 792.49H265.05M296.78 776.64H304.87M265.96 851.25H278.16M260.06 811.34H265.31M294.6 681.59H301.7M304.99 823.27H314.3M301.42 709.66H308.99M305.67 799.34H311.02M256.45 869.3H264.53M253.2 828.21H264.62M253.27 785.59H263.1M302.59 797.43H312.36M254.97 736.2H261.09M253.2 823.56H255.69M253.2 734.84H261.83M265.04 841.85H273.75M303.04 743.27H314.3M253.2 745.25H255.33M253.2 709.27H261.59M258.08 688.68H271.17M275.94 842.78H288.56M285.75 741.55H295.37M253.2 798.05H260.93M297.18 792.49H307.6M258.39 662.87H268.72M266.39 747.98H271.33M298.87 723.21H307.69M254.08 870.68H258.33" stroke="#e5eff6" stroke-opacity="0.45" stroke-width="1.0"/>
<path d="M277.02 671.03H284.91M283.04 659.03H292M280.34 694.8H288.17M276.44 681.97H288.08M277.44 708.86H291.31M282.47 700.28H287.51M280.1 644.32H287.04M282.61 648.33H293.08M277.99 676.52H286.32" stroke="#c6d8e9" stroke-opacity="0.45" stroke-width="1.0"/>
<path d="M270.7 805.52H279.34M271.7 860.15H285.43M282.86 857.39H288.23M270.76 714.96H277.09M268.6 764.94H276.08M260.18 784.79H269.85M297.53 703.11H305.96M288.19 740.1H299.91M274.62 741.62H278.89M288.12 836.54H294.58M300.16 692.8H313.12M281.79 801.11H287.21M307.44 677.16H314.3M261.86 646.48H270.76M292.19 686.15H298.97M263.31 801.49H270.95M294.37 645.82H303.87M301.16 716.35H307.93M261.67 652.19H268.83M269.2 674.73H273.17M253.2 765.67H258.6M298.51 819.48H312.47M302.7 789.14H308.37M286.7 677.02H298.63M257.36 730.61H266.36M279.57 789.5H287.42M280.38 763.47H289.64M309.28 670.57H314.3M254.61 645.14H258.32M272.73 641.54H283.08M260.74 774.43H266.61M258.83 692.75H264.22M253.2 834.6H258.97M286.58 760.66H293.6M262.64 767.03H268.56M301.17 744.62H306.8M285.72 727.63H297.42M262.87 727.1H274.77M296.12 817.32H299.84M262.61 768.08H276M295.62 760.51H306.3M282.36 796.55H291.49M263.51 660.8H272.18M253.2 762.64H264.03M290.01 657.22H296.57M278.38 660.77H282.04M253.35 670.14H258.59M281.18 816.83H294.59M277.11 819.33H286.91M258.1 831.23H266.23M265.65 675.78H270.06M253.2 701.26H259.54M301.05 738.1H314.3M271.76 797H279.83M288.03 724.08H293.36M287.58 783.91H291.57M295.13 666.68H302.92M258.6 757.48H268.84M279.21 783.23H292.22M264.71 661.78H278.66M253.2 872.66H260.56M263.63 846.46H276.94M305.72 665.34H314.3M310.21 691.73H313.5M289.11 817.68H298.01M304.49 693.97H308.32M287.68 739.09H297.57M305.14 725.25H312.05M297.3 736.78H311.21M287.61 753.87H291.3M253.2 824.12H259.36M294.65 811.67H298.11M279.29 790.7H284.48M285.93 861.56H292.57M306.95 785.87H310.61M277.48 824.7H284.18M284.65 837.38H290.81M278.18 829.93H281.51M300.61 675.23H305.09M272.54 848.83H278.65M299.26 803.8H313.06M305.19 730.87H309.22M295.24 655.08H304.69M306.48 760.78H314.3M270.28 803.51H283.27M273.02 730.67H281.6M273.17 711.15H278.72M282.41 843.76H296.37M276.23 786.17H284.22M253.2 696.12H260.72M282.32 668.75H288.65M270.94 814.42H281.05M288.74 848.32H300.03M268.48 715.41H275.89M273.97 772.69H284.44M261.36 810.55H271.53M260.4 774.37H272.46M268.41 818.48H279.62M262.37 682.32H265.95M289.88 690.98H302.8M276.65 775.74H282.85M267.29 784.37H276.13M274.7 798.16H278.97M308.84 696.16H312.63M253.36 711.92H258.56M278.55 789.47H289.14M266.6 737.29H270.29M278.53 682.01H284.85M275.96 750.42H282.92M253.2 760.57H259.07M305.25 776.47H312.13M291.57 676.02H302.63M273.49 872.06H278.68M291.43 795.35H298.12" stroke="#e0ecf4" stroke-opacity="0.45" stroke-width="1.0"/>
<path d="M270.34 777.48H280.17M270.32 744.61H275.32M280.51 822.64H292.62M280.21 800.23H292.07M258.01 807.46H265.16M266.68 800.65H275.79M290.24 844.17H298.72M310.34 813.59H314.3M271.18 728.99H283.33M259.94 766.66H263.68M257.64 645.96H266.91M253.2 795.56H266.22M299.24 681.22H312.63M306.71 665.37H314.3M282.01 855.41H288.29M291.87 784.94H305.27M270.51 777.23H274.07M276.38 796.23H285.66M253.58 736.23H261.91M262.01 827.7H265.36M302.82 843.47H312.06M282.75 831.11H293.66M313.04 709.78H314.3M292.22 667.5H304.58M305.64 724.59H309.52M289.35 760.52H297.25M263.08 721.29H271.18M253.2 694.79H258.98M268.27 749.85H275.44M292.74 814.15H297.36M284.97 861.99H293.74M274.04 817.1H285.46M310.85 801.95H314.3M266.11 707.4H270.33M261.38 838.02H268.84M309.46 737.37H314.3M253.2 668.69H260.61M259.72 757.73H264.74M304.04 846.67H310.78M290 723.31H297.95M253.2 752.92H258.02M276.56 808.45H286M265.32 811.12H273.6M285.01 827.16H292.75M253.2 654.76H260.09M306.22 760.11H314.3M290.58 714.03H294.9M253.2 788.08H259.19M269.88 650.76H274.76M254.33 789.12H262.86M266.58 691.66H277.22M266.56 843.74H273.13M305.91 742.02H314.3M301.26 795.23H311M276.42 825.51H280.78M258.3 784.48H270.66M265.06 658.84H273.97M297.54 753.71H300.68M293.18 835.82H296.52M259.49 866.2H267.82M291.92 654.81H301.38M265.96 750.5H277.99M301.32 714.48H305.46M260.18 760.42H264.12M257.38 820.73H267.01M262.49 870.33H268.24M256.59 852.23H262.87M289.34 709.17H294.44M260.76 840.36H264.57M309.7 668.01H314.3M268.79 791.79H281.67M255.86 686.93H261.16M262.31 831.37H270.53M293.76 650.72H303.41M258.64 757.08H265.13M253.2 710.3H260.13M311.29 750.41H314.3M305.02 678.57H309.86M310.67 726.36H314.3M271.26 737.2H278.4M292.87 730.02H298.5M288.87 865.05H301.2M303.57 746.38H314.3M272.96 807.45H286.93M303.59 719.51H308.38M253.2 749.38H265.77M271.19 744.21H274.42M291.55 685.01H295.81M253.9 716.76H260.18M253.2 827.77H266.31M256.97 789.68H270.8M293.12 785.5H300.11M287.37 731.67H294.12M291.85 763.93H301.7M298.5 741.04H310.1M310.44 765.06H314.12M267.82 765.17H271.42M310.18 742.82H314.3M272.19 750.09H277.95M284.77 846.71H296.24M253.2 781.07H263.64M272.28 843.1H282.77M254.02 686.97H267.31M307.44 840.62H313.53M289.12 846.43H295.87M261.57 755.81H269.41M284.42 834.63H297.98M303.99 719.2H314.3M277.95 829.76H281.82M253.2 723.74H262.9M253.2 729.39H259.32M286.83 847.21H298.77M311.74 739.36H314.3M263.7 746.08H276.04M253.2 866.33H256.44M279.09 821.55H288.13M257.75 801.95H264M304.37 694.67H309.18M253.2 756.65H257.03M253.2 720.64H259.85M282.72 748.61H293.62M263.13 724.49H266.86M274.18 851.68H283.73M253.37 648.87H262.29M282.37 856.07H287.3" stroke="#f7fcfd" stroke-opacity="0.45" stroke-width="1.0"/>
<path d="M278.92 773.51H285.37M258.86 650.7H264.89M253.2 680.17H260.5M254.12 657.24H259.06M280.84 783.19H289.42M280.15 822.84H292.43M262.74 709.03H266.68M270.33 766.12H281.25M256.31 682.34H260.66M310.35 654.4H314.3M294 719.11H299.65M277.94 837.17H284.19M285.91 729.93H290.84M286.38 755.31H289.65M296.42 703.98H304.78M284.64 736.57H293.15M269.09 646.97H274.58M306.59 699.89H313.69M282.83 770.49H288.68M273.09 782.06H283.62M256.98 669.72H268.91M287.95 743H300.54M256.36 722.62H268.92M253.2 682.98H258.56M275.18 847.47H285M259.51 702.81H265.26M253.2 654.51H263.04M283.62 783.53H292.5M253.5 671.54H258.02M278.8 797.38H286.38M280.97 828.11H292.31M271.45 779.78H285.25M274.02 812.84H284.55M275.51 732.06H281.26M265.27 671.16H271.17M253.89 691.8H257.17M287.85 785.58H293.68M288.46 647.99H300.98M296.04 656.48H307M274.2 733.51H285.24M273.8 768.12H278.7M263.77 693.83H271.91M253.2 657.91H261.82M269.25 666.74H278.52M253.2 712.06H263.87M306.54 677.15H312.94M257.29 725.13H260.83M275.18 829.85H282.12" stroke="#f2f9fb" stroke-opacity="0.45" stroke-width="1.0"/>
<path d="M283.61 726.56H289.96M276.51 829.38H284.15M301.18 665.96H307.84M286.79 793.29H290.21M279.2 777.04H291.07M276.82 795.36H289.1M270.27 679.2H281.55M283.14 759.8H294.06M302.68 649.81H314.3M275.18 784.78H287.31M277.11 817.72H285.73M300.37 645.24H312.37M280.34 811.27H287.27M286.77 752.21H296.54M284.58 731.36H294.41M270.55 715.8H273.73M283.12 699.16H295.07M275.83 665.55H288.26M302.72 668.79H310.01M265.22 649.04H272.72M310.69 642.65H314.3M272.77 660.1H278.8M294.39 646.65H304.96M262.2 656.71H275.86M306.15 646.65H314.3M255.85 647H259.53M284.8 735.85H296.51M309.49 665.82H314.3M308.55 657.25H311.87M274.95 682.29H278.48M302.38 652.96H308.26M271.42 765.39H280.39M280.59 759.92H289.02M283.64 734.31H291.13M275.69 828.95H288.92M273.79 744.92H284.01M272.05 695.19H278.02" stroke="#d9e7f1" stroke-opacity="0.45" stroke-width="1.0"/>
<path d="M290.42 829.59H300.98M253.89 798.82H261.83M265.2 743.38H271.05M253.2 812.08H262.88M295.11 810.6H305.91M253.2 853.97H261.82M311.45 729.53H314.3M254.31 795.88H259.16M259.97 773.7H270.08M282.09 867.16H293.99M283.05 788.44H294.82M292.36 736.93H296.26M255.58 689.04H267.33M283.83 857.05H296.06M273.64 869H277.73M263.81 838.41H276.73M294.78 734.05H304.17M270.95 813.75H276.8M259.9 853.75H269.02M276.7 829.71H285.66M306.65 848.7H314.3M270.46 851.56H282.38M289.41 832.7H300.37M291.31 848.26H298.33M271.88 745.68H276.38M265.04 766.77H274.69M291.47 774.35H297.63M253.2 687.37H255.6M260.5 823.36H266.3M257.51 846.05H266.44M253.2 717.95H257.25M253.2 798.04H255.48M309.62 864.76H314.3M291.28 757.27H299.39M262.92 804.63H266.53M291.71 727.23H299.12M304.08 827.19H311.35M304.37 732.73H309.96M268.31 842.17H279.7M261.75 759.11H269.93M266.84 830.76H273.17M267.98 835.2H274.25M291.66 845.43H301.17M267.15 791.3H279.58M289.44 868.71H299.13M307.48 778.42H312.4M270.28 800.55H276.61M256.89 819.26H262.76M297.97 826.7H308.12M259.56 800.1H263.36M255.42 780.62H265.12M290.28 851.43H296.02M304.77 724.04H310.24M272.9 872.01H283.34M271.34 804.7H283.26M303.54 865.58H313.52M305.37 727.57H314.3M304.12 746.12H312.36M306.9 672.86H314.3M288.98 807.14H294.5M253.89 823.55H263.26M254.36 742.46H261.17M259.43 816.55H266.54M303.67 864.69H314.3M276.77 861.83H280.48M280.96 866.67H284.17M257.39 675.26H268.25M253.2 834.15H259.5M264.79 809.74H274.52M292.59 726.97H304.57M263.21 804.05H270.75M308.34 704.24H311.53M281.14 844.6H293.49M268.18 762.99H271.33M253.64 671.24H257.73M273.71 836.93H283.18M263.16 854.11H274.01M253.2 795.82H261.16M266.62 849.08H270.86M276.3 805.97H282.77M289.82 792.84H302.52M271.25 738.17H275.03M290.24 769.19H300.25M297.12 747.96H300.3M297.98 746.29H303.09M287.13 840.08H291.87M253.2 774.85H258.92M253.2 708.26H261.55M272.01 846.39H285.34M292.38 823.93H299.54M286.85 871.83H294.53M265.98 788.38H276.26M254.25 815.31H259.82M307.34 703.65H310.84M293.93 807.19H298.71M253.2 684.2H259.2M289.97 856.99H295.72M253.77 702.18H264.27M253.35 674.53H262.03M284.58 826.34H295.27M307.88 823.6H314.3M302.71 805.52H312.93M294.53 796.32H301.44M285.66 870.83H295.63M285.52 857.77H291.45M267.91 667.49H276.3M289.64 810.99H295.59M306.74 820.17H314.3M298.29 734.74H304.72M268.29 757.18H276.15M306.51 797.92H312.68M301.66 856.05H306.75" stroke="#f7fcfd" stroke-opacity="0.45" stroke-width="1.0"/>
<path d="M283.53 696.11H291.04M286.46 659.66H297.38M286.63 677.81H292.35M286.77 653.43H300.46M281.59 768.16H288.17M274.28 722.96H287.64M279.5 714.44H285.84M285.38 710.84H294.7M276.5 761.99H284.85M280.07 739.77H293.83" stroke="#eef6f9" stroke-opacity="0.45" stroke-width="1.0"/>
<path d="M265.47 830.23H274.56M295.2 811.6H304.38M295.47 856.03H306.59M300.73 782.25H314.3M255.98 819.92H260.01M289.94 651.32H293.02M253.2 871.64H260.09M253.2 734.01H262.34M298.7 792.69H302.98M291.89 863.5H299.99M253.2 870.71H263.4M264.13 826.24H268.51M253.65 759.05H260.18M263.66 863H268.23M272.92 864.97H277.95M310.01 799.37H314.3M258.47 868.45H267.08M287.36 818.68H299.87M307.35 791.31H314.3M257.22 823.41H267.58M297.09 871.96H304.68M281.28 711.74H292.21M302.3 854.21H314.3M269.47 870.1H282.32M277.19 696.39H282.47M310.45 775.33H314.3M306.16 727.16H314.3M272.24 664.21H284.16M257.44 745.59H265.16M299.54 849.46H304.77M272.18 863.1H284.08M261.71 791.44H272.04M270.4 791.41H278M282.06 704.25H291.13M273.29 853.64H282.34M280.36 702.11H288.28M253.2 797.1H257.33M271.26 648.14H282.24M308.87 861.1H313.46M280.02 701.9H290.12M263.36 794.85H266.84M304.87 822.42H312.49M291.57 836.58H305.34M253.2 641.15H261.76M284.15 715.03H288.05" stroke="#e9f2f8" stroke-opacity="0.45" stroke-width="1.0"/>
<path d="M277.18 702.02H285.71M285.97 682.44H293.39M283.06 675.48H291.67M287.69 652.05H294.1M282.34 645.01H286.79M278.34 702.7H291M276.63 680.12H285.81M278.13 713.45H290.9" stroke="#ccddec" stroke-opacity="0.45" stroke-width="1.0"/>
<path d="M275.36 714.29H284.22M273.47 751.57H286.52M279.86 660.87H288.67M289.91 673.63H293.11" stroke="#d3e2ee" stroke-opacity="0.45" stroke-width="1.0"/>
<path d="M310.13 786.26H314.3M292.69 838.42H304.6M295.77 865.62H298.91M305.48 799.26H314.3M302.25 806.51H309.81M297.9 868.11H307.96M253.2 847.8H261.89M290.98 861.27H301.93M267.4 791.39H270.66M256.82 802.53H266.93" stroke="#f7fcfd" stroke-opacity="0.45" stroke-width="1.0"/>
<path d="M276.62 663.05H284.6M285.44 655.1H291.08M285.01 674.07H290.02" stroke="#bfd3e6" stroke-opacity="0.45" stroke-width="1.0"/>
<path d="M281.21 641.03H287.92" stroke="#a5c1dc" stroke-opacity="0.45" stroke-width="1.0"/>
<path d="M277.57 657.58H286.96" stroke="#b2cae1" stroke-opacity="0.45" stroke-width="1.0"/>
<rect x="252.8" y="640.3" width="61.9" height="1" fill="#5a4a8a"/>
<rect x="252.8" y="640.3" width="61.9" height="233" fill="none" stroke="#7a7a8a" stroke-width="0.8"/>
<g><rect x="322.2" y="640.3" width="62.6" height="233" fill="url(#h10_9)"/><rect x="322.2" y="640.3" width="62.6" height="233" fill="url(#h10_8)" mask="url(#k10_8)"/><rect x="322.2" y="640.3" width="62.6" height="174.75" fill="url(#h10_7)" mask="url(#k10_7)"/><rect x="322.2" y="640.3" width="62.6" height="128.15" fill="url(#h10_6)" mask="url(#k10_6)"/><rect x="322.2" y="640.3" width="62.6" height="83.88" fill="url(#h10_5)" mask="url(#k10_5)"/><rect x="322.2" y="640.3" width="62.6" height="51.26" fill="url(#h10_4)" mask="url(#k10_4)"/><rect x="322.2" y="640.3" width="62.6" height="27.96" fill="url(#h10_3)" mask="url(#k10_3)"/><rect x="322.2" y="640.3" width="62.6" height="13.98" fill="url(#h10_2)" mask="url(#k10_2)"/><rect x="322.2" y="640.3" width="62.6" height="6.99" fill="url(#h10_1)" mask="url(#k10_1)"/><rect x="322.2" y="640.3" width="62.6" height="2.33" fill="url(#h10_0)" mask="url(#k10_0)"/></g>
<path d="M331.85 806.06H336.85M354.61 826.03H357.8M367.28 732.94H375.37M380.66 771.73H384.4M363.68 753.47H372.02M378.85 736.95H384.4M326.11 740.33H339.24M376.85 742.34H384.4M336.41 782.95H345.54M329.59 789.56H339.26M364.49 770.87H373.19M371.85 754.63H378.77M347.71 776.13H354.96M337.82 793.3H342.49M339.65 806.01H348.63M359.19 727.18H368.64M324.45 782.21H329.17M359.73 763.92H366.7M338.1 743.26H346.98M322.6 813.58H327.88M375.65 773.24H384.4M364.43 768.09H371.64M380.11 719.98H383.43M368.62 745.91H372.64M352.66 821.02H361.88M326.59 712.74H338.04M322.6 802.98H328.3M369.44 794.8H374.85M351.78 828.65H355.06M328.2 810.97H333.68M362.35 796.12H370.04M354.92 844.25H363.44M325.06 697.14H333.24M347.26 824.7H352.92M370.35 750.89H382.43M352.17 815H361.05M337.98 753.95H347.46M373.53 765.69H376.82M323.96 757.4H327.08M345.86 807.49H357.99M346.01 806.6H356.69M370.97 739.07H378.29M353.88 777.95H363.62M327.6 760.58H340.73M342.04 783.6H355.75M335.67 757.17H341.98M322.6 724.94H329.86M351.73 826H355.68M336.53 734.04H343.79M377.9 796.15H384.4M373.68 710.05H384.4M345.87 836.24H351.57M379.27 776.76H384.4M361.02 806.12H368.97" stroke="#bfd3e6" stroke-opacity="0.45" stroke-width="1.0"/>
<path d="M364.76 816.59H375.53M346.88 843.61H353.97M366.82 787.58H372.76M326.26 751.12H337.62M372.27 804.91H380.99M325.61 808.23H336.57M361.44 760.12H371.92M367.22 643.36H376.74M372.98 818.07H379.49M326.6 776.73H338.87M347.96 717.62H359.61M322.6 810.32H325.6M365.04 837.63H371.3M363.16 741.02H370.48M346.63 841.99H360.35M355.24 682.97H362.92M357.09 801.92H369.84M349.12 706.27H362M323.07 816.99H330.08M371.42 750.04H374.9M354.39 813.85H365.3M360.96 753.22H364.47M367.72 739.65H371.61M345.82 860.38H358.91M376.36 745.11H384.4M381.5 786.51H384.4M347.25 871.02H359.71M331.7 763.86H339.2M341.61 643.73H349.51M333.93 785.05H337.56M377.94 750.92H384.4M333.86 833.41H340.33M340.18 781.34H350.09M332.72 644.07H340.7M327.52 766.52H341.19M347.44 686.64H354.44M322.6 773.33H330.17M329.26 785.12H335.63M333.92 787.05H341.09M338.24 748.46H351.01M324.58 740.05H334.29M358.48 815.03H364.51M344.36 801.38H352.06M370.13 813.34H382.09M345.48 836.78H355.23M359.19 828.43H365.77M332.3 745.71H336.92M362.88 786.26H372.06M342.06 807.8H355.78M375.28 747.62H384.4M339.82 827.66H351.18M380.78 807.14H384.4M369.23 819.16H379.72M378.38 811.31H381.81M380.19 749.04H384.4M353.96 820.93H358.28M340.01 818.65H347.39M322.6 827.23H332.16M344.46 805.99H353.41M324 738.39H330.48" stroke="#a5c1dc" stroke-opacity="0.45" stroke-width="1.0"/>
<path d="M364.13 869.99H372.81M326.39 861.9H337.76M378.4 663.28H384.4M343.92 699.87H351.91M331.3 663.01H335.54M380.71 863.85H384.4M328.85 670.4H339.07M357.85 706.54H366.11M366.76 870.4H377.33M322.6 676.3H327.58M377.45 855.94H384.4M357.92 679.35H367.46M324.42 870.61H335.77M375.83 652H383.32M322.6 687.48H334.09M371.69 859.25H380.11M338.6 661H351.83M322.6 857.71H326.94M324.71 685.13H338M375.37 672.58H378.48M329.45 832.1H334.91M346.72 750.65H355.33M342.02 669.94H349.93M355.16 747.63H358.55M354.02 708.02H367.78M375.19 689.46H383.25M322.6 676.75H330.49M356.22 672.43H368.92M376.25 867.71H384.4M323.14 838.14H330.44M349.12 782.1H358.2M375.79 684.43H381.33M340.76 722.71H351.03M354.62 739.51H363.89M327.81 672.84H340.02M357.16 703.9H360.46M342.7 732.55H351.28M331.92 857.22H338.17M347.09 756.89H354.57M322.6 654.18H328.45M355.03 701H365.14M368.81 832.59H376.7M322.87 849.86H329M361.82 681.1H366.13M366.77 868.24H378.29M355.18 740.82H359.48M335.68 859.69H347.29M323.24 871.61H332.92M322.6 646.83H329.99M379.68 685.93H384.4M333.14 869.5H337.57M359.16 680.04H370.3M355.72 754.17H359.64M336.35 690.88H341.99M369.8 656.59H383.56M373.25 861.77H382.49M341.37 732.81H353.73M351.39 762.29H361.03M329.25 688.84H336.27M333.41 676.81H343.49M331.68 857.65H343.84M324.56 832.89H335.82M323.94 681.85H327.57M364.41 679.8H374.12M378.24 843.98H384.23M365.38 826.88H376.4M338.31 692.48H342.27" stroke="#b2cae1" stroke-opacity="0.45" stroke-width="1.0"/>
<path d="M335.58 766.56H348.41M327.74 734.42H339.89M375.5 690.38H379.76M361.62 741.54H372.84M324.88 740.84H337.05M362.36 659.37H375.23M368.42 756.19H375.27M347.47 786.62H357.65M333.83 681.1H344.07M355.58 749.69H361.19M355.14 791.54H358.28M322.6 721.93H326.64M348.08 806.33H360.7M379.29 661.46H384.4M342.74 770.91H351.91M351.01 804.04H356.77M370.55 746.01H381.76M370.33 685.97H375.89M340.48 750.24H351.24M344.07 770.62H355M363.66 675.81H375.21M329.46 737.88H336.03M349.28 792.92H353.4M376.59 726.25H379.9M333.78 659.52H341.37M361.43 758.76H365.77M360.07 703.67H366.78M329.83 696.75H338.2M332.62 741.22H343.2M322.6 718.15H328.24M334.25 707.02H345.54M332.91 675.95H346.23M339.24 684.9H344.72M328.46 727.73H339.05M355.45 758.13H361.34M373.95 671.57H381.13M371.2 735.91H381.75M330.13 687.8H335.62M329.94 672.42H340.45M351.55 787.67H360.93M362.15 702.04H375.01M356.82 744.87H362.02M338.41 698.1H349.25M368.06 720.72H378.94M361.27 711.94H364.68M373.63 768.28H384.4M338.01 686.09H347.59M354.89 760.57H363.79M377.47 675.24H384.4M371.09 739.82H377.2M333.22 662.05H342.75M327.21 693.83H333.88M329.99 687.37H343.13M378.74 691.52H384.4M357.77 725.74H364.38M340.42 777.81H352.27M344 771.67H355.34M322.6 731.53H331.71" stroke="#b8cee4" stroke-opacity="0.45" stroke-width="1.0"/>
<path d="M329.84 813.13H333.87M347.16 729.26H356.09M328.03 855.74H341.54M324.5 860.85H334.25M373.57 863.94H381.16M352.93 852.42H365.68M357.33 677.18H360.62M334.43 854.76H340.11M326.01 838.49H333.69M378.16 648.46H384.4M366.46 662.94H369.72M364.74 840.93H372.15M377.8 862.18H382.64M379.21 654.1H382.4M341.03 848.52H352.58M361.18 860.99H372.26M357.98 859.28H362.1M367.28 802.75H377.89M322.6 643.46H331.58M375.2 792.61H384.4M323.35 798.64H330.2M366.92 780.29H370.08M329.8 812.52H343.56M326.67 862.72H329.99M344.23 838.64H348.41M362.71 871.97H368.11M339.32 869.91H346.21M361.8 833.15H365.12M333.86 644.31H342.3M360.48 835.9H371.88M347.35 739.76H352.27M349.89 752.11H359.38M377.26 667.31H384.4M354.1 686.53H362.9M322.6 665.37H328.11M341.77 697.76H347.69M351.74 722.71H360.21M375.65 831.49H384.4M372.65 657.68H384.4M336.05 830.58H349.01M327.3 652.56H340.66M344.3 845.74H357.64M354.59 836.99H367.58M340.29 803.86H346.45M367.45 835.7H380.76M378.13 829.05H384.4M333.18 833.13H346.72M325.27 821.24H338.44M376.65 860.09H379.99M370.78 653.06H379.53M378.75 825.11H384.32M372.14 794.24H375.84M342.51 851.14H350.84M377.61 838.84H384.4M360.21 839.41H365.66M322.6 830.17H331.32M334.39 794.5H343.41M326.07 815.79H338.92M331.75 871.74H337.73M359.91 847.57H372.78M371.68 793.94H375.51M322.72 826.92H329.32M365 843.77H371.39M375.56 858.05H384.4M357.93 836H371.71M367.38 803.97H374.4M344.2 684.81H349.24M342.3 824.77H349.87M335.27 843.73H344.21M322.78 804.72H327.22M329.45 804.72H336.13M375.25 851.41H384.4M361.28 805.51H373.67M322.6 666.85H329.14M337.64 665.34H351.56" stroke="#abc5df" stroke-opacity="0.45" stroke-width="1.0"/>
<path d="M382.41 796.33H384.4M322.6 849.44H329.2M373.64 857.6H384.35M327.89 833.99H332.99M363.86 770.12H372.68M326.93 778.08H336.15M368.19 828.49H376.52M349.32 837.24H354.71M355.43 808.73H362.59M328.92 822.95H335.84M358.3 815.58H364.13M343.83 845.44H354.48M365.69 774.21H372.12M325.6 786.58H333.54M370.66 779.96H384.1M322.91 765.17H332.18M365.59 841.89H370.23M350.06 852.41H358.05M348.54 812.63H360.17M368.32 855.88H375.68M343.11 796.83H351.43M322.6 832.09H330.83M377.73 764.68H383.23M328.32 841.44H331.87M360.95 781.21H372.16M346.01 868.39H352.2M345.68 858.97H349.12M379.65 836.64H384.4M342.27 836.18H355.67M356.59 782.14H369.3M371.41 794.22H376.62M322.6 794.19H334.02M332.45 791.2H342.66M345.37 829.37H357.4M378.82 819.05H384.4M369.77 813.71H381.88M370.83 779.34H378.67M357.68 867.04H361M338.77 806.64H346.55M380.15 788.23H384.4M322.6 812.77H326.89M377.59 828.81H384.4M357.07 851.64H367.9M355.72 840.23H366.44M354.47 792.8H365.15M357.87 783.37H367.16M337.49 794.97H349.45M330.7 822.44H342.38M367.61 774.73H371.68M335.07 854.03H346.02M348.82 833.01H352.16M342.68 849H350.06M326.25 831.45H334.75M366.71 818.39H379.14M349.84 866.59H354.39M334.1 776.05H342.85M330.59 819.16H337.5M342.8 755.77H345.83M369.19 834.08H382.99M361.35 857.34H365.43M367.01 798.97H379.43M340.6 836.01H354.32M363.84 817.46H375.3M322.6 819.37H329.85M343.41 862.67H355.18M323.39 819.99H327.39M363.42 826.65H374.45M330.13 773.28H342.82M377.79 795.7H384.4" stroke="#c6d8e9" stroke-opacity="0.45" stroke-width="1.0"/>
<path d="M359.87 697.08H365.74M367.91 683.22H376.46M335.26 684.06H341.45M342.7 729.91H352.04M330.95 663.26H342.35M325.99 716.04H338.99M374.21 674.35H380.65M358.9 649.57H369.85M373.56 685.95H379.9M333.14 661.41H342.59M338.95 733.42H352.26M371.26 685.04H378.7M322.6 665.65H332.96M377.46 658.99H384.4M379.04 656.2H384.4M322.6 698.31H326.05M348.11 787.5H355.8M324.36 686.6H332.37M378.21 691.34H384.4M345.96 726.44H349.99M342.29 691.38H350.61M351.82 709.23H365.05M333.07 693.21H345.3M342.07 725.54H351.88M331.68 687.85H337.31M327.71 696.19H332.94M370.24 664.64H375.64M372.29 699.39H383.16M322.82 666.81H336.17M351.11 744.96H364.08M354.72 668.29H367.86M369.65 681.33H373.25M334.81 659.62H346.01M327.27 674.21H334.2M362.53 685.58H365.58M353.73 732.18H358.17M344.34 701.12H350.35M331.86 688.58H342.03M351.95 743.23H361.62M342.34 686.99H351.22" stroke="#97add2" stroke-opacity="0.45" stroke-width="1.0"/>
<path d="M366.05 818.05H379.93M336.52 842.77H346.34M332.61 860.25H338.59M338.69 830.38H344.18M329.88 787.56H343.13M329.75 822.76H339.17M373.71 851.13H378.6M325.99 819.34H330.61M352.61 830.79H363.93M333.12 846.52H343.07M344.39 866.66H357.81M336.86 863.13H339.94M324.43 835.19H337.93M339.36 817.53H352.23M340.78 852.15H346.81M354.12 855.9H364.97M346.88 843.85H350.22M377.52 830.66H384.36M367.63 847.64H374.8M369.09 869.61H375.14M325.58 857.49H328.74M331.77 806.44H340.82M377.26 841.36H384.4M359.59 844.69H371.34M357.71 867.68H367.77M379.2 830.78H384.4M339.71 861.49H346.38M366.39 870.42H378.96M376.77 787.69H384.4M341.11 830.49H353.63M358.42 829.23H370.37M322.6 806.77H327.44M366.64 820.48H370.09M375.45 863.26H384.4M322.6 858.6H333.3M370.65 812.95H379.74M354.74 864.3H366.59M337.32 821.65H345.39M381.02 810.75H384.4M337.42 808H341.21M379.17 851.68H384.03M373.97 857.54H381.48M325.33 807.41H334.51M366.16 813.21H377.21M332.34 843.82H335.6M363.35 828.09H371.33M327.08 856.74H333.61M344.09 834.1H352.93M357.15 845.85H370.42M374.58 857H384.4M379.84 809.32H384.36M362.85 845H373.83M326.17 868.99H331.08" stroke="#ccddec" stroke-opacity="0.45" stroke-width="1.0"/>
<path d="M337.88 735.82H343.31M322.6 697.6H326.86M324.19 701.13H328.38M373.22 656.29H382.16M367.24 662.82H380.99M368.97 730.46H382.72M327.17 699.01H331.54M350.77 804.02H360.82M346.86 774.32H353.1M351 794.31H356.12M330.29 726.11H334.96M336.98 660.18H341.95M323.79 667.21H337.68M360.48 766.03H364.7M349.66 682.37H353.18M325.39 687.14H332.93M370.3 686.17H384.02M322.6 736.4H331.27M341.19 711.62H347.8M336.62 732.03H347.31M335.74 661.15H339.26M366.86 730.52H380.11M338.92 695.77H346.03M368.79 647.76H373.62M334.18 710.61H341.9M350.99 794.81H362.93M374.59 674.35H384.4M377.59 698.13H384.4M372.04 675.09H383.98M371.82 704.24H377.98M378.2 666.6H384.4M322.6 718.54H334.65M349.65 788.47H355.61M352.64 780.88H356.79M325.79 722.78H336.03M361.02 676.28H372.04M335.39 716.68H348.61M351.81 777.15H354.98M376.77 748.35H384.4M342.22 760.29H350.28M373.07 692.84H377.6M370.39 724.25H378.75M340.65 706.69H351.67M325.45 688.03H332.09M368.66 705.26H380.83M353.92 723.32H363.69M323.94 679.99H331.23M323.41 723.51H333.36M322.6 657.98H330.88M351.46 665.62H362.52M350.1 804.47H358.41M341.93 744.28H353.97M368.91 684.33H378.15" stroke="#9ab4d6" stroke-opacity="0.45" stroke-width="1.0"/>
<path d="M353.93 696.09H359.54M378.14 758.84H382.08M327.71 779.98H335M340.92 798.18H353.99M327.57 722.29H333.33M340.71 645.57H350.2M380.61 725.22H384.4M377.58 689.3H384.4M362.12 699.89H372.63M359.49 798.26H371.76M353.66 653.43H363.42M324.39 774.25H331.2M345.96 701.26H353.82M356.24 826.43H360.15M329.78 805.49H338.73M353.44 664.86H362.9M335.51 766.55H343.99M340.55 777.66H348.18M342.03 662.83H353.41M374.49 776.34H384.05M341.96 720.02H346.88M372.34 764.86H375.88M354.69 659.85H363.79M374.14 742.85H384.4M372.54 641.51H382.06M360.36 760.23H364.06M365.77 716.87H376.51M353.68 676.06H358.28M353.17 819.38H362.1M370.59 711.95H383.71M347.93 693.04H353.6M354.12 829.78H358.33M342.06 667.38H353.77M334.81 733.75H347.04M343.64 649.74H353.76M346.12 776.84H355.54M354.22 768.19H367.55M357.41 769.47H368.13M349.83 817.35H361.92M345.84 777.01H350.06M369.17 750.56H374.86M338.2 713.24H343.21M322.6 711.64H329.31M341.65 809.54H355.05M367.3 756.05H380.01M369.43 759.74H381.36M347.13 801.5H351.3M354.8 817.9H361.42M329.69 775.46H334.95M346 791.25H352.21M348.17 794.6H360.47M340.07 646.33H353.77M323.59 727.97H332.13M340.6 720.86H344.8M362.47 785.71H369.96M339.11 737.28H346.12M361.55 809.2H371.13M372.36 740.42H380.67M374.66 747.86H381.22M340.74 737.19H345.57M356.45 732.11H366.7M376.98 768.03H384.4M377.37 718.45H382.15M339.36 723.27H343.89M375.34 703.33H384.4M326.22 793.32H337M331.99 721.98H337.37M344.77 644.73H350.16M328.73 723.65H336.39M324.51 787.38H327.98M350.01 781.27H362.54M334.91 763.43H338.63M379.18 789.04H384.4" stroke="#9ebcda" stroke-opacity="0.45" stroke-width="1.0"/>
<path d="M346.07 673.8H358.88M355.8 642.63H364.91M355.4 645.45H361.02M351.15 666.13H356.87M336.75 641.16H349.44M347.73 667.99H353.09" stroke="#8c8dc2" stroke-opacity="0.45" stroke-width="1.0"/>
<path d="M371.79 867.72H380.94M367.38 872.24H375.81M323.92 861.74H333.01M380.27 842.47H384.4M377.74 860.17H384.4M337.1 871.2H343.18M339.6 863.27H349.87M323.22 867.07H330.01M322.6 856.11H329.77M372.76 864.43H383.17M338.82 842.93H346.02" stroke="#d3e2ee" stroke-opacity="0.45" stroke-width="1.0"/>
<path d="M345.13 709.55H352.45M322.91 659.25H335.56M356.3 652.02H366.07M344.4 698.1H355.64M344.41 693.09H351.33M349.42 716.31H354.7M349.12 647.59H357.17M330.24 649.49H341.78M350.39 731.68H358.74M355.49 699.82H364.1M354.01 750.93H359.55M344.76 679H349.2M363.45 647.44H373.95M322.6 653.2H328.5M338.95 652.08H352.26M350.56 720.23H357.25M352.56 693.97H364.51M349.26 724.64H355.88M378.5 643.24H381.77" stroke="#93a5ce" stroke-opacity="0.45" stroke-width="1.0"/>
<path d="M357.21 641.67H368.35M359.16 643.02H364.98" stroke="#8c96c6" stroke-opacity="0.45" stroke-width="1.0"/>
<path d="M361.67 643.72H372.8M346.63 724.41H357.92M349.36 709.26H353.43M347.63 711.21H360.77M355.53 666.08H360.04M347.49 696.53H358.72M349.49 698.68H358.77M344.39 679.84H350.69M350.97 720.27H355.44" stroke="#909eca" stroke-opacity="0.45" stroke-width="1.0"/>
<path d="M346.49 664.91H356.25" stroke="#8c85be" stroke-opacity="0.45" stroke-width="1.0"/>
<rect x="322.2" y="640.3" width="62.6" height="1.4" fill="#6a2a80"/>
<rect x="322.2" y="640.3" width="62.6" height="233" fill="none" stroke="#7a7a8a" stroke-width="0.8"/>
<line x1="72.8" y1="873.3" x2="72.8" y2="875.5" stroke="#666" stroke-width="0.7"/>
<line x1="103.95" y1="873.3" x2="103.95" y2="875.5" stroke="#666" stroke-width="0.7"/>
<line x1="134.7" y1="873.3" x2="134.7" y2="875.5" stroke="#666" stroke-width="0.7"/>
<text x="70.5" y="883.4" font-size="7.8" textLength="12.4" lengthAdjust="spacingAndGlyphs" fill="#333">-3.0</text>
<text x="103.95" y="883.4" font-size="7.8" text-anchor="middle" textLength="12.4" lengthAdjust="spacingAndGlyphs" fill="#333">CGI</text>
<text x="136.9" y="883.4" font-size="7.8" text-anchor="end" textLength="18.7" lengthAdjust="spacingAndGlyphs" fill="#333">3.0Kb</text>
<text x="79.4" y="892.9" font-size="7.8" textLength="58.4" lengthAdjust="spacingAndGlyphs" fill="#333">gene distance (bp)</text>
<line x1="142.4" y1="873.3" x2="142.4" y2="875.5" stroke="#666" stroke-width="0.7"/>
<line x1="173.8" y1="873.3" x2="173.8" y2="875.5" stroke="#666" stroke-width="0.7"/>
<line x1="204.8" y1="873.3" x2="204.8" y2="875.5" stroke="#666" stroke-width="0.7"/>
<text x="140.1" y="883.4" font-size="7.8" textLength="12.4" lengthAdjust="spacingAndGlyphs" fill="#333">-3.0</text>
<text x="173.8" y="883.4" font-size="7.8" text-anchor="middle" textLength="12.4" lengthAdjust="spacingAndGlyphs" fill="#333">CGI</text>
<text x="207" y="883.4" font-size="7.8" text-anchor="end" textLength="18.7" lengthAdjust="spacingAndGlyphs" fill="#333">3.0Kb</text>
<text x="149" y="892.9" font-size="7.8" textLength="58.4" lengthAdjust="spacingAndGlyphs" fill="#333">gene distance (bp)</text>
<line x1="252.8" y1="873.3" x2="252.8" y2="875.5" stroke="#666" stroke-width="0.7"/>
<line x1="283.95" y1="873.3" x2="283.95" y2="875.5" stroke="#666" stroke-width="0.7"/>
<line x1="314.7" y1="873.3" x2="314.7" y2="875.5" stroke="#666" stroke-width="0.7"/>
<text x="250.5" y="883.4" font-size="7.8" textLength="12.4" lengthAdjust="spacingAndGlyphs" fill="#333">-3.0</text>
<text x="283.95" y="883.4" font-size="7.8" text-anchor="middle" textLength="12.4" lengthAdjust="spacingAndGlyphs" fill="#333">CGI</text>
<text x="316.9" y="883.4" font-size="7.8" text-anchor="end" textLength="18.7" lengthAdjust="spacingAndGlyphs" fill="#333">3.0Kb</text>
<text x="259.4" y="892.9" font-size="7.8" textLength="58.4" lengthAdjust="spacingAndGlyphs" fill="#333">gene distance (bp)</text>
<line x1="322.2" y1="873.3" x2="322.2" y2="875.5" stroke="#666" stroke-width="0.7"/>
<line x1="353.7" y1="873.3" x2="353.7" y2="875.5" stroke="#666" stroke-width="0.7"/>
<line x1="384.8" y1="873.3" x2="384.8" y2="875.5" stroke="#666" stroke-width="0.7"/>
<text x="319.9" y="883.4" font-size="7.8" textLength="12.4" lengthAdjust="spacingAndGlyphs" fill="#333">-3.0</text>
<text x="353.7" y="883.4" font-size="7.8" text-anchor="middle" textLength="12.4" lengthAdjust="spacingAndGlyphs" fill="#333">CGI</text>
<text x="387" y="883.4" font-size="7.8" text-anchor="end" textLength="18.7" lengthAdjust="spacingAndGlyphs" fill="#333">3.0Kb</text>
<text x="328.8" y="892.9" font-size="7.8" textLength="58.4" lengthAdjust="spacingAndGlyphs" fill="#333">gene distance (bp)</text>
<rect x="72.8" y="900.9" width="132" height="6.5" fill="url(#cb11)" stroke="#999" stroke-width="0.5"/>
<line x1="72.8" y1="907.4" x2="72.8" y2="908.9" stroke="#777" stroke-width="0.6"/>
<text x="72.8" y="918" font-size="7.9" text-anchor="middle" textLength="14" lengthAdjust="spacingAndGlyphs" fill="#333">0.00</text>
<line x1="98.6" y1="907.4" x2="98.6" y2="908.9" stroke="#777" stroke-width="0.6"/>
<text x="98.6" y="918" font-size="7.9" text-anchor="middle" textLength="14" lengthAdjust="spacingAndGlyphs" fill="#333">0.05</text>
<line x1="124.7" y1="907.4" x2="124.7" y2="908.9" stroke="#777" stroke-width="0.6"/>
<text x="124.7" y="918" font-size="7.9" text-anchor="middle" textLength="14" lengthAdjust="spacingAndGlyphs" fill="#333">0.10</text>
<line x1="150.6" y1="907.4" x2="150.6" y2="908.9" stroke="#777" stroke-width="0.6"/>
<text x="150.6" y="918" font-size="7.9" text-anchor="middle" textLength="14" lengthAdjust="spacingAndGlyphs" fill="#333">0.15</text>
<line x1="176.7" y1="907.4" x2="176.7" y2="908.9" stroke="#777" stroke-width="0.6"/>
<text x="176.7" y="918" font-size="7.9" text-anchor="middle" textLength="14" lengthAdjust="spacingAndGlyphs" fill="#333">0.20</text>
<line x1="202.5" y1="907.4" x2="202.5" y2="908.9" stroke="#777" stroke-width="0.6"/>
<text x="202.5" y="918" font-size="7.9" text-anchor="middle" textLength="14" lengthAdjust="spacingAndGlyphs" fill="#333">0.25</text>
<text x="124.2" y="927.6" font-size="8.2" textLength="28.8" lengthAdjust="spacingAndGlyphs" fill="#333">Colorkey</text>
<rect x="252.8" y="900.9" width="132" height="6.5" fill="url(#cb12)" stroke="#999" stroke-width="0.5"/>
<line x1="252.8" y1="907.4" x2="252.8" y2="908.9" stroke="#777" stroke-width="0.6"/>
<text x="252.8" y="918" font-size="7.9" text-anchor="middle" textLength="14" lengthAdjust="spacingAndGlyphs" fill="#333">0.00</text>
<line x1="278.6" y1="907.4" x2="278.6" y2="908.9" stroke="#777" stroke-width="0.6"/>
<text x="278.6" y="918" font-size="7.9" text-anchor="middle" textLength="14" lengthAdjust="spacingAndGlyphs" fill="#333">0.05</text>
<line x1="304.7" y1="907.4" x2="304.7" y2="908.9" stroke="#777" stroke-width="0.6"/>
<text x="304.7" y="918" font-size="7.9" text-anchor="middle" textLength="14" lengthAdjust="spacingAndGlyphs" fill="#333">0.10</text>
<line x1="330.6" y1="907.4" x2="330.6" y2="908.9" stroke="#777" stroke-width="0.6"/>
<text x="330.6" y="918" font-size="7.9" text-anchor="middle" textLength="14" lengthAdjust="spacingAndGlyphs" fill="#333">0.15</text>
<line x1="356.7" y1="907.4" x2="356.7" y2="908.9" stroke="#777" stroke-width="0.6"/>
<text x="356.7" y="918" font-size="7.9" text-anchor="middle" textLength="14" lengthAdjust="spacingAndGlyphs" fill="#333">0.20</text>
<line x1="382.5" y1="907.4" x2="382.5" y2="908.9" stroke="#777" stroke-width="0.6"/>
<text x="382.5" y="918" font-size="7.9" text-anchor="middle" textLength="14" lengthAdjust="spacingAndGlyphs" fill="#333">0.25</text>
<text x="304.2" y="927.6" font-size="8.2" textLength="28.8" lengthAdjust="spacingAndGlyphs" fill="#333">Colorkey</text>
<text x="67.6" y="759.9" font-size="7.4" textLength="15.8" lengthAdjust="spacingAndGlyphs" fill="#333" transform="rotate(-90 67.6 759.9)">Sites</text>
<text x="248.4" y="760.7" font-size="7.4" textLength="15.8" lengthAdjust="spacingAndGlyphs" fill="#333" transform="rotate(-90 248.4 760.7)">Sites</text>
<text x="79.9" y="634.5" font-size="7.4" textLength="51.3" lengthAdjust="spacingAndGlyphs">C1QTNF6_5637</text>
<text x="142.2" y="634.5" font-size="7.4" textLength="68.5" lengthAdjust="spacingAndGlyphs">C1QTNF6_C1QTNF6</text>
<text x="267.6" y="634.5" font-size="7.4" textLength="35.9" lengthAdjust="spacingAndGlyphs">TET2_5637</text>
<text x="335.8" y="634.5" font-size="7.4" textLength="38.5" lengthAdjust="spacingAndGlyphs">TET2_TET2</text>
<text x="418.8" y="738" font-size="24.5" font-family="Liberation Serif, serif" fill="#000" stroke="#fff" stroke-width="0.3">I</text>
<rect x="442.2" y="761.4" width="65.4" height="65" fill="none" stroke="#6a6a6a" stroke-width="0.8"/>
<line x1="440" y1="826.4" x2="442.2" y2="826.4" stroke="#555" stroke-width="0.8"/>
<text x="439.6" y="829.2" font-size="7.9" text-anchor="end">0</text>
<line x1="440" y1="813.4" x2="442.2" y2="813.4" stroke="#555" stroke-width="0.8"/>
<text x="439.6" y="816.2" font-size="7.9" text-anchor="end">1</text>
<line x1="440" y1="800.4" x2="442.2" y2="800.4" stroke="#555" stroke-width="0.8"/>
<text x="439.6" y="803.2" font-size="7.9" text-anchor="end">2</text>
<line x1="440" y1="787.4" x2="442.2" y2="787.4" stroke="#555" stroke-width="0.8"/>
<text x="439.6" y="790.2" font-size="7.9" text-anchor="end">3</text>
<line x1="440" y1="774.4" x2="442.2" y2="774.4" stroke="#555" stroke-width="0.8"/>
<text x="439.6" y="777.2" font-size="7.9" text-anchor="end">4</text>
<line x1="440" y1="761.4" x2="442.2" y2="761.4" stroke="#555" stroke-width="0.8"/>
<text x="439.6" y="764.2" font-size="7.9" text-anchor="end">5</text>
<line x1="442.4" y1="826.4" x2="442.4" y2="828.6" stroke="#555" stroke-width="0.8"/>
<text x="0" y="0" font-size="7.9" fill="#222" text-anchor="middle" transform="translate(443.4 832.8) rotate(45)" dominant-baseline="central">0</text>
<line x1="460.5" y1="826.4" x2="460.5" y2="828.6" stroke="#555" stroke-width="0.8"/>
<text x="0" y="0" font-size="7.9" fill="#222" text-anchor="middle" transform="translate(461.5 832.8) rotate(45)" dominant-baseline="central">1</text>
<line x1="478.6" y1="826.4" x2="478.6" y2="828.6" stroke="#555" stroke-width="0.8"/>
<text x="0" y="0" font-size="7.9" fill="#222" text-anchor="middle" transform="translate(479.6 832.8) rotate(45)" dominant-baseline="central">2</text>
<line x1="496.7" y1="826.4" x2="496.7" y2="828.6" stroke="#555" stroke-width="0.8"/>
<text x="0" y="0" font-size="7.9" fill="#222" text-anchor="middle" transform="translate(497.7 832.8) rotate(45)" dominant-baseline="central">3</text>
<path d="M466.53 803.79h0.8v0.8h-0.8zM498.05 775h0.8v0.8h-0.8zM478.58 784.55h0.8v0.8h-0.8zM479.94 788.11h0.8v0.8h-0.8zM469.91 801.76h0.8v0.8h-0.8zM463.64 794.77h0.8v0.8h-0.8zM496.3 782.09h0.8v0.8h-0.8zM469.88 808.75h0.8v0.8h-0.8zM484.93 776.86h0.8v0.8h-0.8zM468.51 791.98h0.8v0.8h-0.8zM469.36 804.62h0.8v0.8h-0.8zM463 811.69h0.8v0.8h-0.8zM463.97 800.28h0.8v0.8h-0.8zM491.75 787.77h0.8v0.8h-0.8zM457.52 796.09h0.8v0.8h-0.8zM501.08 773.32h0.8v0.8h-0.8zM468.2 798.84h0.8v0.8h-0.8zM498.23 775.46h0.8v0.8h-0.8zM456.58 807.72h0.8v0.8h-0.8zM474.53 795.89h0.8v0.8h-0.8zM493.3 772h0.8v0.8h-0.8zM478.42 791.14h0.8v0.8h-0.8zM457.8 802.34h0.8v0.8h-0.8zM482.1 787.01h0.8v0.8h-0.8zM485.23 788.78h0.8v0.8h-0.8zM458.09 813.07h0.8v0.8h-0.8zM481.2 793.37h0.8v0.8h-0.8zM467.53 807.97h0.8v0.8h-0.8zM492.46 773.98h0.8v0.8h-0.8zM478.81 800.47h0.8v0.8h-0.8zM482.88 793.46h0.8v0.8h-0.8zM473.83 797.97h0.8v0.8h-0.8zM479.57 792.42h0.8v0.8h-0.8zM457.04 807.21h0.8v0.8h-0.8zM495.38 779.6h0.8v0.8h-0.8zM494.94 785.46h0.8v0.8h-0.8zM479.77 783.51h0.8v0.8h-0.8zM457.4 810.72h0.8v0.8h-0.8zM482.39 788.19h0.8v0.8h-0.8zM492.74 781.61h0.8v0.8h-0.8zM458.92 809.3h0.8v0.8h-0.8zM488.29 792.79h0.8v0.8h-0.8zM471.51 794.32h0.8v0.8h-0.8zM499.63 777.19h0.8v0.8h-0.8zM474.93 797.17h0.8v0.8h-0.8z" fill="#6a5a9a" fill-opacity="0.55"/>
<path d="M442.63 818.39h0.8v0.8h-0.8zM447.42 814.03h0.8v0.8h-0.8zM466.3 799.76h0.8v0.8h-0.8zM452.64 809.28h0.8v0.8h-0.8zM450.75 810.06h0.8v0.8h-0.8zM452.56 813.32h0.8v0.8h-0.8zM442.63 820.37h0.8v0.8h-0.8zM443.98 823.16h0.8v0.8h-0.8zM454.04 817.37h0.8v0.8h-0.8zM442.45 815.65h0.8v0.8h-0.8zM444.22 821.16h0.8v0.8h-0.8zM442.47 822.87h0.8v0.8h-0.8zM453.94 812.54h0.8v0.8h-0.8zM443.35 818.56h0.8v0.8h-0.8zM454.03 814.03h0.8v0.8h-0.8zM448.44 816.21h0.8v0.8h-0.8zM444.61 817.63h0.8v0.8h-0.8zM454.65 810.33h0.8v0.8h-0.8zM446.64 822.3h0.8v0.8h-0.8zM449.65 825.2h0.8v0.8h-0.8zM458.14 805.02h0.8v0.8h-0.8zM446.45 809.88h0.8v0.8h-0.8zM447.42 822.56h0.8v0.8h-0.8zM465.53 801.9h0.8v0.8h-0.8zM443.72 813.88h0.8v0.8h-0.8zM448.71 812.53h0.8v0.8h-0.8zM478.46 786.99h0.8v0.8h-0.8zM445.29 806.9h0.8v0.8h-0.8zM443.04 824.67h0.8v0.8h-0.8zM444.77 821.61h0.8v0.8h-0.8zM450.23 807.26h0.8v0.8h-0.8zM449.44 806h0.8v0.8h-0.8zM451.39 807.87h0.8v0.8h-0.8zM448.73 808.28h0.8v0.8h-0.8zM445.17 817.04h0.8v0.8h-0.8zM444.68 813.64h0.8v0.8h-0.8zM444.04 821.28h0.8v0.8h-0.8zM442.09 824.65h0.8v0.8h-0.8zM443.31 821.48h0.8v0.8h-0.8zM445.1 820.43h0.8v0.8h-0.8zM448.48 813.85h0.8v0.8h-0.8zM443.26 815.13h0.8v0.8h-0.8zM458.23 808.19h0.8v0.8h-0.8zM449.47 807.66h0.8v0.8h-0.8zM447.16 815.62h0.8v0.8h-0.8zM474.12 799.2h0.8v0.8h-0.8zM452.65 813.54h0.8v0.8h-0.8zM461.29 806h0.8v0.8h-0.8zM459.44 803.31h0.8v0.8h-0.8zM443.12 817.54h0.8v0.8h-0.8zM454.1 813.57h0.8v0.8h-0.8zM445.78 820.53h0.8v0.8h-0.8zM442 823.25h0.8v0.8h-0.8zM451.73 812.54h0.8v0.8h-0.8zM448.33 814.3h0.8v0.8h-0.8zM465.58 795.45h0.8v0.8h-0.8zM451.83 813.81h0.8v0.8h-0.8zM444.59 821.49h0.8v0.8h-0.8zM443.64 822.47h0.8v0.8h-0.8zM443.79 815.77h0.8v0.8h-0.8zM455.55 801.81h0.8v0.8h-0.8zM457.91 803.53h0.8v0.8h-0.8zM451.06 806.12h0.8v0.8h-0.8zM453.86 809.93h0.8v0.8h-0.8zM443.53 818.22h0.8v0.8h-0.8zM444.16 819.45h0.8v0.8h-0.8zM444.5 812.03h0.8v0.8h-0.8zM475.38 801.59h0.8v0.8h-0.8zM448.42 815.13h0.8v0.8h-0.8zM446.63 814.54h0.8v0.8h-0.8zM444.64 814.38h0.8v0.8h-0.8zM443.41 823.82h0.8v0.8h-0.8zM443.07 818.23h0.8v0.8h-0.8zM445.36 824.2h0.8v0.8h-0.8zM443.67 823.36h0.8v0.8h-0.8zM446.15 819.61h0.8v0.8h-0.8zM454.07 820.41h0.8v0.8h-0.8zM444.37 818.16h0.8v0.8h-0.8zM454.85 807.8h0.8v0.8h-0.8zM443.03 817.97h0.8v0.8h-0.8zM446.11 819.61h0.8v0.8h-0.8zM460.82 797.08h0.8v0.8h-0.8zM445.41 824.79h0.8v0.8h-0.8zM442.19 824.96h0.8v0.8h-0.8zM451.51 813.27h0.8v0.8h-0.8zM442.14 816.84h0.8v0.8h-0.8zM444.54 819.63h0.8v0.8h-0.8zM444.33 820.24h0.8v0.8h-0.8zM444.43 817.81h0.8v0.8h-0.8zM462.16 798.19h0.8v0.8h-0.8zM451.25 815.47h0.8v0.8h-0.8zM449.67 812.42h0.8v0.8h-0.8zM446.48 815.61h0.8v0.8h-0.8zM446.8 819.1h0.8v0.8h-0.8zM457.73 812.09h0.8v0.8h-0.8zM443.8 817.12h0.8v0.8h-0.8zM443.58 817.95h0.8v0.8h-0.8zM452.47 806.72h0.8v0.8h-0.8zM455.45 813.27h0.8v0.8h-0.8zM445.45 821.87h0.8v0.8h-0.8zM449.66 821.25h0.8v0.8h-0.8zM444.15 822.22h0.8v0.8h-0.8zM452.46 809.63h0.8v0.8h-0.8zM444.8 814.79h0.8v0.8h-0.8zM446.81 817.9h0.8v0.8h-0.8zM449.09 817.9h0.8v0.8h-0.8zM447.31 825.8h0.8v0.8h-0.8zM443.37 823.01h0.8v0.8h-0.8zM445.02 823.76h0.8v0.8h-0.8zM453.98 818.13h0.8v0.8h-0.8zM458.36 808.69h0.8v0.8h-0.8zM458.56 804.16h0.8v0.8h-0.8zM448.4 814.27h0.8v0.8h-0.8zM447.23 810.87h0.8v0.8h-0.8zM452.28 811.64h0.8v0.8h-0.8zM445.05 817.86h0.8v0.8h-0.8zM445.47 821.44h0.8v0.8h-0.8zM454.21 811.09h0.8v0.8h-0.8zM448.39 807.34h0.8v0.8h-0.8zM464.51 806.49h0.8v0.8h-0.8zM453.81 817.07h0.8v0.8h-0.8zM467.82 797.1h0.8v0.8h-0.8zM445.54 819.03h0.8v0.8h-0.8zM450.08 810.96h0.8v0.8h-0.8zM457.81 809.1h0.8v0.8h-0.8zM443.42 822.22h0.8v0.8h-0.8zM442.35 818.89h0.8v0.8h-0.8zM444.11 821.39h0.8v0.8h-0.8zM442.87 821.4h0.8v0.8h-0.8zM446.62 814.92h0.8v0.8h-0.8zM450.43 817.34h0.8v0.8h-0.8zM443.64 817.78h0.8v0.8h-0.8zM446 815.96h0.8v0.8h-0.8zM446.27 822.81h0.8v0.8h-0.8zM457.24 813.71h0.8v0.8h-0.8zM456.85 811.67h0.8v0.8h-0.8zM444.05 823.9h0.8v0.8h-0.8zM460.47 807.26h0.8v0.8h-0.8zM450.26 817.76h0.8v0.8h-0.8zM442.1 813.94h0.8v0.8h-0.8zM448.75 821.52h0.8v0.8h-0.8zM468.75 801.83h0.8v0.8h-0.8zM455.22 819.4h0.8v0.8h-0.8zM442.1 824.51h0.8v0.8h-0.8zM451.43 813.58h0.8v0.8h-0.8zM449.12 823.88h0.8v0.8h-0.8zM452.12 815.47h0.8v0.8h-0.8zM443.69 821.07h0.8v0.8h-0.8zM443.52 818.55h0.8v0.8h-0.8zM444.03 817.21h0.8v0.8h-0.8zM448.39 820.68h0.8v0.8h-0.8zM445.21 819.39h0.8v0.8h-0.8zM452.06 815.07h0.8v0.8h-0.8zM445.19 821.68h0.8v0.8h-0.8zM442.03 824.46h0.8v0.8h-0.8zM449.37 809.53h0.8v0.8h-0.8zM447.41 814.45h0.8v0.8h-0.8zM445.68 813.67h0.8v0.8h-0.8zM442.96 814.56h0.8v0.8h-0.8zM451.73 813.33h0.8v0.8h-0.8zM447.43 817h0.8v0.8h-0.8zM463.46 803.38h0.8v0.8h-0.8zM444.13 820.56h0.8v0.8h-0.8zM443.69 816.58h0.8v0.8h-0.8zM445.82 814.56h0.8v0.8h-0.8zM458.92 806.6h0.8v0.8h-0.8zM447.94 816.38h0.8v0.8h-0.8zM442.72 815.18h0.8v0.8h-0.8zM446.14 813.8h0.8v0.8h-0.8zM450.2 811.33h0.8v0.8h-0.8zM442.02 818.94h0.8v0.8h-0.8zM443.59 824.96h0.8v0.8h-0.8zM452.53 815.44h0.8v0.8h-0.8zM457.39 804.87h0.8v0.8h-0.8zM442.23 825.41h0.8v0.8h-0.8zM445.31 816.1h0.8v0.8h-0.8zM443.24 823.52h0.8v0.8h-0.8zM445.17 816.81h0.8v0.8h-0.8zM445.29 823.23h0.8v0.8h-0.8zM451.97 816.86h0.8v0.8h-0.8zM448.24 819.29h0.8v0.8h-0.8zM447.7 815.14h0.8v0.8h-0.8zM442.6 822.27h0.8v0.8h-0.8zM448.5 820.56h0.8v0.8h-0.8zM451.13 817.76h0.8v0.8h-0.8zM445.42 818.58h0.8v0.8h-0.8zM451.7 810.37h0.8v0.8h-0.8zM444.1 820.36h0.8v0.8h-0.8zM448.95 817.22h0.8v0.8h-0.8zM443.77 823.16h0.8v0.8h-0.8zM443.39 811.51h0.8v0.8h-0.8zM446.8 814.47h0.8v0.8h-0.8zM450.71 819.41h0.8v0.8h-0.8zM443.77 814.64h0.8v0.8h-0.8zM446.65 818.34h0.8v0.8h-0.8zM457.54 810.75h0.8v0.8h-0.8zM442.63 814.61h0.8v0.8h-0.8zM461.3 812.2h0.8v0.8h-0.8zM450.7 808.88h0.8v0.8h-0.8zM446.47 820.17h0.8v0.8h-0.8zM445.23 819.6h0.8v0.8h-0.8zM445.98 824.53h0.8v0.8h-0.8zM450.72 811.57h0.8v0.8h-0.8zM445.9 820.12h0.8v0.8h-0.8zM447.63 814.51h0.8v0.8h-0.8zM444.43 825.13h0.8v0.8h-0.8zM450.33 808.72h0.8v0.8h-0.8zM449 813.34h0.8v0.8h-0.8zM446.41 812.41h0.8v0.8h-0.8zM446.34 815.35h0.8v0.8h-0.8zM448.9 814.88h0.8v0.8h-0.8zM443.73 820.51h0.8v0.8h-0.8zM468.15 800.94h0.8v0.8h-0.8zM453.43 813.12h0.8v0.8h-0.8zM443.04 823.96h0.8v0.8h-0.8zM444.28 825.46h0.8v0.8h-0.8zM447.16 812.23h0.8v0.8h-0.8zM448.34 822.54h0.8v0.8h-0.8zM442.6 818.18h0.8v0.8h-0.8zM451.83 816.38h0.8v0.8h-0.8zM449.5 816.13h0.8v0.8h-0.8zM460.19 800.51h0.8v0.8h-0.8zM444.28 814.26h0.8v0.8h-0.8zM447.68 817.26h0.8v0.8h-0.8zM443.99 816.42h0.8v0.8h-0.8zM447.45 819.23h0.8v0.8h-0.8zM445.07 824.09h0.8v0.8h-0.8zM451.79 812.03h0.8v0.8h-0.8zM456.1 808.88h0.8v0.8h-0.8zM443.41 819.19h0.8v0.8h-0.8zM443.45 816.98h0.8v0.8h-0.8zM443.23 822.78h0.8v0.8h-0.8zM462.89 811.54h0.8v0.8h-0.8zM453.12 813.48h0.8v0.8h-0.8zM452.83 808.67h0.8v0.8h-0.8zM448.69 810.16h0.8v0.8h-0.8zM442.56 810.51h0.8v0.8h-0.8zM448.99 813.43h0.8v0.8h-0.8zM458.5 813.17h0.8v0.8h-0.8zM446.17 822.02h0.8v0.8h-0.8zM448.95 814.06h0.8v0.8h-0.8zM447.28 814.59h0.8v0.8h-0.8zM445.57 822.26h0.8v0.8h-0.8zM446 812.49h0.8v0.8h-0.8zM466.56 800.76h0.8v0.8h-0.8zM442.7 821.39h0.8v0.8h-0.8zM471.7 799.17h0.8v0.8h-0.8zM444.32 815.2h0.8v0.8h-0.8zM443.81 822.78h0.8v0.8h-0.8zM447.75 817.83h0.8v0.8h-0.8zM459.24 808.97h0.8v0.8h-0.8zM448.7 812.88h0.8v0.8h-0.8zM445.11 819.71h0.8v0.8h-0.8zM442.54 811.31h0.8v0.8h-0.8zM453.63 817.26h0.8v0.8h-0.8zM445.33 814.68h0.8v0.8h-0.8zM449.26 815.62h0.8v0.8h-0.8zM444.31 819.57h0.8v0.8h-0.8zM455.18 807.45h0.8v0.8h-0.8zM453.89 817.38h0.8v0.8h-0.8zM449.67 810.78h0.8v0.8h-0.8zM442.89 819.96h0.8v0.8h-0.8zM444.82 810.36h0.8v0.8h-0.8zM446.23 819.61h0.8v0.8h-0.8zM446.91 819.11h0.8v0.8h-0.8zM444.69 818.42h0.8v0.8h-0.8zM450.61 821.08h0.8v0.8h-0.8zM445.48 809.97h0.8v0.8h-0.8zM443.37 823.36h0.8v0.8h-0.8zM444.41 820.64h0.8v0.8h-0.8zM442.06 821.82h0.8v0.8h-0.8zM443.89 816.93h0.8v0.8h-0.8zM448.92 812.46h0.8v0.8h-0.8zM447.24 823.45h0.8v0.8h-0.8zM445.65 817.66h0.8v0.8h-0.8zM463.24 800.97h0.8v0.8h-0.8zM444.31 813.04h0.8v0.8h-0.8zM449.06 820.86h0.8v0.8h-0.8zM444.3 825.03h0.8v0.8h-0.8zM451.53 808.3h0.8v0.8h-0.8zM442.93 819.67h0.8v0.8h-0.8z" fill="#5a4a8e" fill-opacity="0.45"/>
<path d="M443.2 824.55h0.8v0.8h-0.8zM448.72 816.82h0.8v0.8h-0.8zM446.32 820.76h0.8v0.8h-0.8zM442.49 819.44h0.8v0.8h-0.8zM449.21 817.14h0.8v0.8h-0.8zM445.72 818.74h0.8v0.8h-0.8zM444.72 818.34h0.8v0.8h-0.8zM442.96 825.34h0.8v0.8h-0.8zM445.14 821.82h0.8v0.8h-0.8zM442.8 822.15h0.8v0.8h-0.8zM443.98 823.99h0.8v0.8h-0.8zM442.33 820.4h0.8v0.8h-0.8zM442.88 817.54h0.8v0.8h-0.8zM442.86 823.87h0.8v0.8h-0.8zM444.06 819.4h0.8v0.8h-0.8zM442.44 821.78h0.8v0.8h-0.8zM447.83 814.13h0.8v0.8h-0.8zM444.26 816.14h0.8v0.8h-0.8zM448.51 825.79h0.8v0.8h-0.8zM446.37 818.57h0.8v0.8h-0.8zM445.22 824.19h0.8v0.8h-0.8zM445.85 821.38h0.8v0.8h-0.8zM443.71 818.67h0.8v0.8h-0.8zM443.16 817.92h0.8v0.8h-0.8zM444.82 823.02h0.8v0.8h-0.8zM444.49 822.4h0.8v0.8h-0.8zM445.23 823.81h0.8v0.8h-0.8zM444.25 817.7h0.8v0.8h-0.8zM442.67 815.28h0.8v0.8h-0.8zM444.83 820.09h0.8v0.8h-0.8zM443.58 819.05h0.8v0.8h-0.8zM443.62 817.64h0.8v0.8h-0.8zM445.42 820.77h0.8v0.8h-0.8zM444.37 817.48h0.8v0.8h-0.8zM446.38 820.94h0.8v0.8h-0.8zM448.86 818.22h0.8v0.8h-0.8zM445.33 822.13h0.8v0.8h-0.8zM443.19 817.96h0.8v0.8h-0.8zM447.17 817.62h0.8v0.8h-0.8zM443.25 819.95h0.8v0.8h-0.8zM445.67 820.12h0.8v0.8h-0.8zM450.11 817.85h0.8v0.8h-0.8zM445.54 820.67h0.8v0.8h-0.8zM444.9 820.11h0.8v0.8h-0.8zM443.97 819.22h0.8v0.8h-0.8zM446.38 814.58h0.8v0.8h-0.8zM450.11 816.98h0.8v0.8h-0.8zM445.14 819.31h0.8v0.8h-0.8zM448.05 818.32h0.8v0.8h-0.8zM444.16 819.86h0.8v0.8h-0.8zM451.47 818.62h0.8v0.8h-0.8zM447.13 819.88h0.8v0.8h-0.8zM442.67 820.14h0.8v0.8h-0.8zM443.18 820.54h0.8v0.8h-0.8zM442.3 822.09h0.8v0.8h-0.8zM442.65 817.69h0.8v0.8h-0.8zM445.69 821.22h0.8v0.8h-0.8zM448.06 812.76h0.8v0.8h-0.8zM443.19 818.5h0.8v0.8h-0.8zM450.04 820.12h0.8v0.8h-0.8zM442.59 815.83h0.8v0.8h-0.8zM444.54 816.4h0.8v0.8h-0.8zM446.04 817.86h0.8v0.8h-0.8zM447.71 817.81h0.8v0.8h-0.8zM447.24 818.23h0.8v0.8h-0.8zM442.21 821.88h0.8v0.8h-0.8zM444.24 818.86h0.8v0.8h-0.8zM442.69 824.54h0.8v0.8h-0.8zM444.25 822.2h0.8v0.8h-0.8zM442.88 816.79h0.8v0.8h-0.8zM447.19 818.57h0.8v0.8h-0.8zM444.05 816.15h0.8v0.8h-0.8zM450.53 822.54h0.8v0.8h-0.8zM447.84 817.93h0.8v0.8h-0.8zM443.22 822.09h0.8v0.8h-0.8zM443.26 819.22h0.8v0.8h-0.8zM444.42 824.13h0.8v0.8h-0.8zM443.86 820.11h0.8v0.8h-0.8zM443.3 820.74h0.8v0.8h-0.8zM450.67 814.82h0.8v0.8h-0.8zM443.86 818.33h0.8v0.8h-0.8zM445.77 815.06h0.8v0.8h-0.8zM445.82 820.61h0.8v0.8h-0.8zM448.66 817.74h0.8v0.8h-0.8zM442.77 821.49h0.8v0.8h-0.8zM446.03 816.98h0.8v0.8h-0.8zM446.45 819.83h0.8v0.8h-0.8zM444.06 819.78h0.8v0.8h-0.8zM442.82 823.34h0.8v0.8h-0.8zM444.06 821.28h0.8v0.8h-0.8zM448.08 814.29h0.8v0.8h-0.8zM443.24 817.61h0.8v0.8h-0.8zM447.5 825.6h0.8v0.8h-0.8zM445.97 824.65h0.8v0.8h-0.8zM443.78 818.43h0.8v0.8h-0.8zM442.47 813.54h0.8v0.8h-0.8zM442.18 815.8h0.8v0.8h-0.8zM446.05 817.72h0.8v0.8h-0.8zM442.42 816.57h0.8v0.8h-0.8zM443.33 816.78h0.8v0.8h-0.8zM442.41 819.16h0.8v0.8h-0.8zM446.75 820.74h0.8v0.8h-0.8zM444.67 823.05h0.8v0.8h-0.8zM442.42 819.84h0.8v0.8h-0.8zM442.01 822.84h0.8v0.8h-0.8zM443.57 815.98h0.8v0.8h-0.8zM448.69 821.23h0.8v0.8h-0.8zM443.99 818.19h0.8v0.8h-0.8zM449.57 818.87h0.8v0.8h-0.8zM442.32 820.5h0.8v0.8h-0.8zM446.63 820.49h0.8v0.8h-0.8zM444.69 814.13h0.8v0.8h-0.8zM442.06 817.84h0.8v0.8h-0.8zM442.42 822.45h0.8v0.8h-0.8zM446.4 818.57h0.8v0.8h-0.8zM442.5 817.96h0.8v0.8h-0.8zM442.56 816.99h0.8v0.8h-0.8zM444.33 820.02h0.8v0.8h-0.8zM442.44 819.57h0.8v0.8h-0.8zM444.65 811.82h0.8v0.8h-0.8zM442.2 821.34h0.8v0.8h-0.8zM443.88 817.5h0.8v0.8h-0.8zM446.25 822.72h0.8v0.8h-0.8zM443.75 814.25h0.8v0.8h-0.8zM445.11 818.4h0.8v0.8h-0.8zM449.7 812.5h0.8v0.8h-0.8zM442.1 813.68h0.8v0.8h-0.8zM447.46 820.83h0.8v0.8h-0.8zM448.41 815.65h0.8v0.8h-0.8zM445.73 817.64h0.8v0.8h-0.8zM444.02 817.94h0.8v0.8h-0.8zM443.7 821.01h0.8v0.8h-0.8zM446.87 818.17h0.8v0.8h-0.8zM443.41 822.9h0.8v0.8h-0.8zM443.23 821.38h0.8v0.8h-0.8zM447.84 823.6h0.8v0.8h-0.8zM442.13 823.34h0.8v0.8h-0.8zM442.07 821.81h0.8v0.8h-0.8zM443.34 819.43h0.8v0.8h-0.8zM447.48 821.98h0.8v0.8h-0.8zM446.39 817.58h0.8v0.8h-0.8zM443.25 816.37h0.8v0.8h-0.8zM444.37 819.52h0.8v0.8h-0.8zM445.27 822.31h0.8v0.8h-0.8zM443.27 825.97h0.8v0.8h-0.8zM443.33 820.21h0.8v0.8h-0.8zM442.04 820.84h0.8v0.8h-0.8zM444.52 820.37h0.8v0.8h-0.8zM442.19 821.13h0.8v0.8h-0.8zM442.85 819.76h0.8v0.8h-0.8zM442.7 823.33h0.8v0.8h-0.8zM443.81 819.39h0.8v0.8h-0.8zM447.69 816.89h0.8v0.8h-0.8zM443.45 822.01h0.8v0.8h-0.8zM446.73 821.64h0.8v0.8h-0.8zM447.35 817.31h0.8v0.8h-0.8zM448.01 819.82h0.8v0.8h-0.8zM445.76 821.63h0.8v0.8h-0.8zM446.64 815.59h0.8v0.8h-0.8zM443.61 817.06h0.8v0.8h-0.8zM445.32 814.54h0.8v0.8h-0.8zM448.15 817.04h0.8v0.8h-0.8zM447.06 817.09h0.8v0.8h-0.8zM442.99 821.57h0.8v0.8h-0.8zM443.84 818.1h0.8v0.8h-0.8zM443.03 818.62h0.8v0.8h-0.8zM446.95 818.73h0.8v0.8h-0.8zM445.18 817.77h0.8v0.8h-0.8zM443.87 819.08h0.8v0.8h-0.8zM443.72 822.88h0.8v0.8h-0.8zM443.25 816.33h0.8v0.8h-0.8zM449.23 816.89h0.8v0.8h-0.8zM447.64 817.84h0.8v0.8h-0.8zM447.51 818.45h0.8v0.8h-0.8zM447.37 812.42h0.8v0.8h-0.8zM451.59 817.64h0.8v0.8h-0.8zM448.02 816.56h0.8v0.8h-0.8zM443.14 821.95h0.8v0.8h-0.8zM444.41 818.36h0.8v0.8h-0.8zM442.18 821.08h0.8v0.8h-0.8zM448.51 816.56h0.8v0.8h-0.8zM446.81 818.94h0.8v0.8h-0.8zM447.14 815.29h0.8v0.8h-0.8zM443.85 820.75h0.8v0.8h-0.8zM443.25 816.12h0.8v0.8h-0.8zM444.55 820.99h0.8v0.8h-0.8zM447 824.88h0.8v0.8h-0.8zM449.16 819.95h0.8v0.8h-0.8zM442.6 814.38h0.8v0.8h-0.8zM444.81 816.74h0.8v0.8h-0.8zM445.63 820.35h0.8v0.8h-0.8zM448.64 817.75h0.8v0.8h-0.8zM443.59 820.61h0.8v0.8h-0.8zM443.69 819.29h0.8v0.8h-0.8zM446.01 819.06h0.8v0.8h-0.8zM447.43 819.64h0.8v0.8h-0.8zM442.1 818.7h0.8v0.8h-0.8zM444.46 817.33h0.8v0.8h-0.8zM444.45 820.67h0.8v0.8h-0.8zM445.36 817.67h0.8v0.8h-0.8zM443.12 819.13h0.8v0.8h-0.8zM448.26 818.55h0.8v0.8h-0.8zM443.91 820.8h0.8v0.8h-0.8zM442.24 819.94h0.8v0.8h-0.8zM443.05 814.98h0.8v0.8h-0.8zM445.72 820.48h0.8v0.8h-0.8zM443.86 820.52h0.8v0.8h-0.8zM444.35 818.47h0.8v0.8h-0.8zM442.66 822.27h0.8v0.8h-0.8zM444.6 822.38h0.8v0.8h-0.8zM444.76 818.91h0.8v0.8h-0.8zM449.56 816.99h0.8v0.8h-0.8zM443.83 821.31h0.8v0.8h-0.8zM444.59 818.13h0.8v0.8h-0.8zM447.43 814.86h0.8v0.8h-0.8zM444.97 821.39h0.8v0.8h-0.8zM443.15 818.5h0.8v0.8h-0.8zM443.57 821.25h0.8v0.8h-0.8zM449.84 817.67h0.8v0.8h-0.8zM443.56 818.65h0.8v0.8h-0.8zM447.93 820.15h0.8v0.8h-0.8zM442.42 821.51h0.8v0.8h-0.8zM445.75 821.26h0.8v0.8h-0.8zM442.28 819.26h0.8v0.8h-0.8zM448.64 814.68h0.8v0.8h-0.8zM443.66 818.96h0.8v0.8h-0.8zM450.91 821.22h0.8v0.8h-0.8zM446.16 818.31h0.8v0.8h-0.8zM442.49 823.03h0.8v0.8h-0.8zM447.42 818.27h0.8v0.8h-0.8zM444.13 821.17h0.8v0.8h-0.8zM445.34 817.65h0.8v0.8h-0.8zM449.13 818.43h0.8v0.8h-0.8zM444.04 822.61h0.8v0.8h-0.8zM446.36 820.08h0.8v0.8h-0.8zM442.7 818.21h0.8v0.8h-0.8zM449.7 817.82h0.8v0.8h-0.8zM443.67 818.67h0.8v0.8h-0.8zM443.22 822.63h0.8v0.8h-0.8zM442.52 824.53h0.8v0.8h-0.8zM447.99 820.34h0.8v0.8h-0.8zM448.86 823.95h0.8v0.8h-0.8zM443.56 818.6h0.8v0.8h-0.8zM443.88 821.52h0.8v0.8h-0.8zM443.38 821.23h0.8v0.8h-0.8zM443.45 820.94h0.8v0.8h-0.8zM446.73 820.56h0.8v0.8h-0.8zM446.05 821.56h0.8v0.8h-0.8zM445.4 818.04h0.8v0.8h-0.8zM446.62 818.14h0.8v0.8h-0.8zM443.83 818.18h0.8v0.8h-0.8zM444.27 818.35h0.8v0.8h-0.8zM449.27 822.03h0.8v0.8h-0.8zM444.99 823.11h0.8v0.8h-0.8zM443.14 819.85h0.8v0.8h-0.8zM443.83 820.62h0.8v0.8h-0.8zM444.06 817.81h0.8v0.8h-0.8zM442.53 823.24h0.8v0.8h-0.8zM444.35 824.4h0.8v0.8h-0.8zM444.02 819.28h0.8v0.8h-0.8zM445.04 813.93h0.8v0.8h-0.8zM444.03 824.97h0.8v0.8h-0.8zM444.33 823.6h0.8v0.8h-0.8zM446.5 815.43h0.8v0.8h-0.8zM445.46 821.23h0.8v0.8h-0.8zM445.81 816.62h0.8v0.8h-0.8zM443.65 820.83h0.8v0.8h-0.8zM442.89 821.84h0.8v0.8h-0.8zM445.43 819.35h0.8v0.8h-0.8zM446.66 820.91h0.8v0.8h-0.8zM443.94 822.52h0.8v0.8h-0.8zM447.83 824.2h0.8v0.8h-0.8zM445 817.14h0.8v0.8h-0.8zM444.56 819.59h0.8v0.8h-0.8zM443.56 817.94h0.8v0.8h-0.8zM445.99 818.73h0.8v0.8h-0.8zM442.37 824.81h0.8v0.8h-0.8zM444.89 818.42h0.8v0.8h-0.8zM446.92 814.44h0.8v0.8h-0.8zM445.39 821.39h0.8v0.8h-0.8zM442.17 820.16h0.8v0.8h-0.8zM443.34 821.31h0.8v0.8h-0.8zM442.27 815.75h0.8v0.8h-0.8zM445.16 817.28h0.8v0.8h-0.8zM447.27 815.97h0.8v0.8h-0.8zM448.8 814.36h0.8v0.8h-0.8zM442.25 823.36h0.8v0.8h-0.8zM443.43 821.92h0.8v0.8h-0.8zM445.78 816.27h0.8v0.8h-0.8zM443.27 819.21h0.8v0.8h-0.8zM445.07 812h0.8v0.8h-0.8zM446 820.83h0.8v0.8h-0.8zM445.39 818.28h0.8v0.8h-0.8zM443.14 817.28h0.8v0.8h-0.8zM448.55 815.04h0.8v0.8h-0.8zM445.18 822.13h0.8v0.8h-0.8zM446.56 812.05h0.8v0.8h-0.8zM444.17 819.23h0.8v0.8h-0.8zM444.92 814.24h0.8v0.8h-0.8zM442.89 824.09h0.8v0.8h-0.8zM446.26 817.38h0.8v0.8h-0.8zM443.55 824.28h0.8v0.8h-0.8zM443.54 823.66h0.8v0.8h-0.8zM445.85 818.89h0.8v0.8h-0.8zM445.33 818.15h0.8v0.8h-0.8zM446.3 812.08h0.8v0.8h-0.8zM446.02 821.72h0.8v0.8h-0.8zM447.98 817.62h0.8v0.8h-0.8zM442.13 819.27h0.8v0.8h-0.8zM446.22 816.27h0.8v0.8h-0.8zM447.65 817.3h0.8v0.8h-0.8zM450.76 818.03h0.8v0.8h-0.8zM442.63 823.77h0.8v0.8h-0.8zM442.4 819.6h0.8v0.8h-0.8zM445.01 819.25h0.8v0.8h-0.8zM445.66 810.33h0.8v0.8h-0.8zM449.16 816.52h0.8v0.8h-0.8zM449.47 820.09h0.8v0.8h-0.8zM446.26 820.53h0.8v0.8h-0.8zM448.77 818.97h0.8v0.8h-0.8zM442.32 822.75h0.8v0.8h-0.8zM447.56 817.15h0.8v0.8h-0.8zM448.71 818.2h0.8v0.8h-0.8zM444.12 822.56h0.8v0.8h-0.8zM448.49 820.46h0.8v0.8h-0.8zM447.13 816.73h0.8v0.8h-0.8zM443.89 816.26h0.8v0.8h-0.8zM442.93 819.65h0.8v0.8h-0.8zM448.78 815.59h0.8v0.8h-0.8zM442.77 813.74h0.8v0.8h-0.8zM443.28 815.76h0.8v0.8h-0.8zM442.02 818.84h0.8v0.8h-0.8zM447.67 814.78h0.8v0.8h-0.8zM443.23 822.05h0.8v0.8h-0.8zM445.82 817.74h0.8v0.8h-0.8zM446.81 816.32h0.8v0.8h-0.8zM446.19 820.03h0.8v0.8h-0.8zM442.85 818.89h0.8v0.8h-0.8zM445.02 825.18h0.8v0.8h-0.8zM444.34 816.15h0.8v0.8h-0.8zM447.64 819.06h0.8v0.8h-0.8zM446.84 815.33h0.8v0.8h-0.8zM444.82 821.57h0.8v0.8h-0.8zM446.04 816.64h0.8v0.8h-0.8zM443.12 824.21h0.8v0.8h-0.8zM445.52 821.81h0.8v0.8h-0.8zM444.97 819.9h0.8v0.8h-0.8zM449.4 820.15h0.8v0.8h-0.8zM444.87 816.28h0.8v0.8h-0.8zM442.83 823.3h0.8v0.8h-0.8zM442.06 821.72h0.8v0.8h-0.8zM444.29 819.06h0.8v0.8h-0.8zM445.59 822.4h0.8v0.8h-0.8zM444.57 820.41h0.8v0.8h-0.8zM446.84 815.59h0.8v0.8h-0.8zM443.48 815.78h0.8v0.8h-0.8zM442.19 819.16h0.8v0.8h-0.8zM444.45 818.54h0.8v0.8h-0.8zM444.85 824.75h0.8v0.8h-0.8zM445.59 824.36h0.8v0.8h-0.8zM447.18 818.77h0.8v0.8h-0.8zM444.2 815.13h0.8v0.8h-0.8zM444.52 818.26h0.8v0.8h-0.8zM444.56 820.51h0.8v0.8h-0.8zM446.61 816.16h0.8v0.8h-0.8zM449.24 823.2h0.8v0.8h-0.8zM442.29 824.46h0.8v0.8h-0.8zM444.09 817.66h0.8v0.8h-0.8zM443.36 825.93h0.8v0.8h-0.8zM442.91 825.09h0.8v0.8h-0.8zM445.65 821.67h0.8v0.8h-0.8zM444.63 816.88h0.8v0.8h-0.8zM444.53 822.42h0.8v0.8h-0.8zM442.04 819.58h0.8v0.8h-0.8zM445.65 818.6h0.8v0.8h-0.8zM442.71 817.48h0.8v0.8h-0.8zM445.76 820.4h0.8v0.8h-0.8zM446.28 823.45h0.8v0.8h-0.8zM444.75 818.86h0.8v0.8h-0.8zM443.49 819.36h0.8v0.8h-0.8zM444.49 821.09h0.8v0.8h-0.8zM444.29 819.05h0.8v0.8h-0.8zM443.85 820.11h0.8v0.8h-0.8zM442.23 817.12h0.8v0.8h-0.8zM442.37 822.77h0.8v0.8h-0.8zM442.11 819.31h0.8v0.8h-0.8zM442.49 823.32h0.8v0.8h-0.8zM449.73 820.06h0.8v0.8h-0.8zM442.65 818.85h0.8v0.8h-0.8zM445.76 825.5h0.8v0.8h-0.8zM442.19 818.35h0.8v0.8h-0.8zM444.57 816.08h0.8v0.8h-0.8zM444.85 819.71h0.8v0.8h-0.8zM446.78 821.2h0.8v0.8h-0.8zM447.56 821.48h0.8v0.8h-0.8zM442.14 824.95h0.8v0.8h-0.8zM444.31 818.77h0.8v0.8h-0.8zM442.6 818.75h0.8v0.8h-0.8zM442.17 825.58h0.8v0.8h-0.8zM442.28 817.73h0.8v0.8h-0.8zM444.79 817.21h0.8v0.8h-0.8zM444.81 814.75h0.8v0.8h-0.8zM442.11 818h0.8v0.8h-0.8zM445.68 823.37h0.8v0.8h-0.8zM443.45 822.96h0.8v0.8h-0.8zM442.12 822.07h0.8v0.8h-0.8zM444.6 818.71h0.8v0.8h-0.8zM442.84 822.13h0.8v0.8h-0.8zM443.9 817.53h0.8v0.8h-0.8zM443.94 816.22h0.8v0.8h-0.8zM445.32 819.52h0.8v0.8h-0.8zM446.46 817.13h0.8v0.8h-0.8zM448.45 817.41h0.8v0.8h-0.8zM446.5 817.05h0.8v0.8h-0.8zM446.44 819.96h0.8v0.8h-0.8zM444.51 820.19h0.8v0.8h-0.8zM447.1 816.97h0.8v0.8h-0.8zM443.35 815.99h0.8v0.8h-0.8zM444.09 823.37h0.8v0.8h-0.8zM442.16 823.75h0.8v0.8h-0.8zM442.93 817.56h0.8v0.8h-0.8zM447.5 820.86h0.8v0.8h-0.8zM444.85 817.41h0.8v0.8h-0.8zM442.5 823.99h0.8v0.8h-0.8zM444.47 818.32h0.8v0.8h-0.8zM446.3 821.06h0.8v0.8h-0.8zM445.75 819.29h0.8v0.8h-0.8zM442.42 817.41h0.8v0.8h-0.8zM442.64 822.43h0.8v0.8h-0.8zM442.73 820.96h0.8v0.8h-0.8zM443.34 821.53h0.8v0.8h-0.8zM445.35 818.35h0.8v0.8h-0.8zM444.84 820.62h0.8v0.8h-0.8zM446.82 821.9h0.8v0.8h-0.8zM443.34 822.17h0.8v0.8h-0.8zM442.11 821.72h0.8v0.8h-0.8zM443.59 821.5h0.8v0.8h-0.8zM442.3 822.44h0.8v0.8h-0.8zM443.77 821.74h0.8v0.8h-0.8zM445.95 820.27h0.8v0.8h-0.8zM445.24 819.12h0.8v0.8h-0.8zM449.26 811.62h0.8v0.8h-0.8zM442.43 819.58h0.8v0.8h-0.8zM443.85 825.35h0.8v0.8h-0.8zM450.94 820.98h0.8v0.8h-0.8zM443.98 820.12h0.8v0.8h-0.8zM442.28 819.45h0.8v0.8h-0.8zM443.69 821.55h0.8v0.8h-0.8zM442.83 822.38h0.8v0.8h-0.8zM446.31 825.28h0.8v0.8h-0.8zM448.37 820.57h0.8v0.8h-0.8zM442.72 822.77h0.8v0.8h-0.8zM445.73 821.14h0.8v0.8h-0.8zM442.17 825.18h0.8v0.8h-0.8zM446.9 821.79h0.8v0.8h-0.8zM442.19 818.24h0.8v0.8h-0.8zM442.17 820.82h0.8v0.8h-0.8zM442.98 822.75h0.8v0.8h-0.8zM444.64 825.17h0.8v0.8h-0.8zM443.26 820.48h0.8v0.8h-0.8zM442.46 820.42h0.8v0.8h-0.8zM447.97 819.4h0.8v0.8h-0.8zM442.29 821.55h0.8v0.8h-0.8zM444.12 819.87h0.8v0.8h-0.8zM444.43 821.98h0.8v0.8h-0.8zM443.92 822.11h0.8v0.8h-0.8zM444.08 822.81h0.8v0.8h-0.8zM445.74 817.17h0.8v0.8h-0.8zM444.89 818.87h0.8v0.8h-0.8zM444.91 814.4h0.8v0.8h-0.8zM445.13 821.59h0.8v0.8h-0.8zM443.33 823.25h0.8v0.8h-0.8zM448.84 815.26h0.8v0.8h-0.8zM444.36 816.41h0.8v0.8h-0.8zM445.5 814.96h0.8v0.8h-0.8zM443.48 820.01h0.8v0.8h-0.8zM444.71 818.53h0.8v0.8h-0.8zM442.63 819.3h0.8v0.8h-0.8zM446.38 816.18h0.8v0.8h-0.8zM447.58 816.95h0.8v0.8h-0.8zM446.65 822.48h0.8v0.8h-0.8zM442.05 818.18h0.8v0.8h-0.8zM442.76 810.33h0.8v0.8h-0.8zM443.61 815.74h0.8v0.8h-0.8zM442.48 813.43h0.8v0.8h-0.8zM442.43 817.21h0.8v0.8h-0.8zM449.38 817.96h0.8v0.8h-0.8zM443.1 825.9h0.8v0.8h-0.8zM446.86 817.81h0.8v0.8h-0.8zM444.27 824.08h0.8v0.8h-0.8zM445.86 824.08h0.8v0.8h-0.8zM443.41 819.1h0.8v0.8h-0.8zM444.74 820.94h0.8v0.8h-0.8zM442.13 817.96h0.8v0.8h-0.8zM445.51 822.32h0.8v0.8h-0.8zM445.89 819.41h0.8v0.8h-0.8zM444.3 818.46h0.8v0.8h-0.8zM445.87 815.97h0.8v0.8h-0.8zM445.3 814.8h0.8v0.8h-0.8zM443.16 821.09h0.8v0.8h-0.8zM447.14 823.03h0.8v0.8h-0.8zM445.76 821.08h0.8v0.8h-0.8zM447.25 825.83h0.8v0.8h-0.8zM444.33 816.93h0.8v0.8h-0.8zM442.55 816.72h0.8v0.8h-0.8zM447.29 823.31h0.8v0.8h-0.8zM443.84 819.38h0.8v0.8h-0.8zM442.45 822.06h0.8v0.8h-0.8zM442.2 823.63h0.8v0.8h-0.8zM443.62 821.61h0.8v0.8h-0.8zM448.18 816.99h0.8v0.8h-0.8zM445.31 818.39h0.8v0.8h-0.8zM445.45 816.67h0.8v0.8h-0.8zM448.86 820.11h0.8v0.8h-0.8zM443.59 821.06h0.8v0.8h-0.8zM444.48 822.09h0.8v0.8h-0.8zM442.69 822.19h0.8v0.8h-0.8zM445.04 820.07h0.8v0.8h-0.8zM444.39 824.88h0.8v0.8h-0.8zM443.78 821.17h0.8v0.8h-0.8zM448.03 814.72h0.8v0.8h-0.8zM442.23 820.74h0.8v0.8h-0.8zM443.64 817.98h0.8v0.8h-0.8zM444.03 825.83h0.8v0.8h-0.8zM442.86 821.35h0.8v0.8h-0.8zM443.22 819.32h0.8v0.8h-0.8zM447.29 820.24h0.8v0.8h-0.8zM446.43 816.46h0.8v0.8h-0.8zM442.86 822.1h0.8v0.8h-0.8zM447.2 816.3h0.8v0.8h-0.8zM444.18 822.28h0.8v0.8h-0.8zM443.23 818.34h0.8v0.8h-0.8zM442.7 818.08h0.8v0.8h-0.8zM444.78 820.59h0.8v0.8h-0.8zM448.07 822.92h0.8v0.8h-0.8zM447.71 814.81h0.8v0.8h-0.8zM445.35 820.51h0.8v0.8h-0.8zM443.46 822.12h0.8v0.8h-0.8zM443.73 814.91h0.8v0.8h-0.8zM443.32 821.12h0.8v0.8h-0.8zM444.78 821.91h0.8v0.8h-0.8zM442.95 821.81h0.8v0.8h-0.8zM443.61 816.44h0.8v0.8h-0.8zM452.35 819.89h0.8v0.8h-0.8zM443.72 818.45h0.8v0.8h-0.8zM443.4 822.15h0.8v0.8h-0.8zM444.51 822.09h0.8v0.8h-0.8zM442.19 821.41h0.8v0.8h-0.8zM442.27 820h0.8v0.8h-0.8zM444.74 821.8h0.8v0.8h-0.8zM445.61 815.91h0.8v0.8h-0.8zM442.78 816.63h0.8v0.8h-0.8zM445.05 816.99h0.8v0.8h-0.8zM445.54 816.55h0.8v0.8h-0.8zM442.36 821.19h0.8v0.8h-0.8zM449.98 819.67h0.8v0.8h-0.8zM442.02 815.57h0.8v0.8h-0.8zM445.9 819.66h0.8v0.8h-0.8zM445.78 821.04h0.8v0.8h-0.8zM443.53 821.8h0.8v0.8h-0.8zM444.6 823.5h0.8v0.8h-0.8zM448.23 816.97h0.8v0.8h-0.8zM445.67 822.2h0.8v0.8h-0.8zM445.03 817.19h0.8v0.8h-0.8zM444.86 825.47h0.8v0.8h-0.8zM443.1 821.64h0.8v0.8h-0.8zM442.64 822.19h0.8v0.8h-0.8zM442.45 819.69h0.8v0.8h-0.8zM444.1 816.82h0.8v0.8h-0.8zM445.75 820.54h0.8v0.8h-0.8zM444.62 819.92h0.8v0.8h-0.8zM444.88 818.76h0.8v0.8h-0.8zM446.74 815.94h0.8v0.8h-0.8zM442.13 821.08h0.8v0.8h-0.8zM447.35 817.72h0.8v0.8h-0.8zM448.13 819.51h0.8v0.8h-0.8zM445.49 819.64h0.8v0.8h-0.8zM444.03 825.41h0.8v0.8h-0.8zM443.47 823.41h0.8v0.8h-0.8zM443.37 819.21h0.8v0.8h-0.8zM442.56 820.32h0.8v0.8h-0.8zM443.87 823.49h0.8v0.8h-0.8zM444.44 824.18h0.8v0.8h-0.8zM447.15 818.24h0.8v0.8h-0.8zM448.09 825.36h0.8v0.8h-0.8zM446.91 822.53h0.8v0.8h-0.8zM444.09 817.87h0.8v0.8h-0.8zM444.6 819.2h0.8v0.8h-0.8zM447.53 817.43h0.8v0.8h-0.8zM447.3 816.42h0.8v0.8h-0.8zM447.22 813.84h0.8v0.8h-0.8zM446.63 823.6h0.8v0.8h-0.8zM442.33 823.31h0.8v0.8h-0.8zM442.76 819.49h0.8v0.8h-0.8zM442.32 822.48h0.8v0.8h-0.8zM444.53 822.93h0.8v0.8h-0.8zM442.31 823.33h0.8v0.8h-0.8zM442.37 819.63h0.8v0.8h-0.8zM445.9 823.97h0.8v0.8h-0.8zM443.1 822.63h0.8v0.8h-0.8z" fill="#2a1a5c" fill-opacity="0.6"/>
<text x="455.7" y="775.5" font-size="7.6" textLength="42.4" lengthAdjust="spacingAndGlyphs">pearson=0.71</text>
<text x="437.4" y="843.3" font-size="5.2" textLength="75.3" lengthAdjust="spacingAndGlyphs" fill="#333">Log(Read count per million mapped reads)</text>
<text x="464.6" y="853.7" font-size="7.6" textLength="16.6" lengthAdjust="spacingAndGlyphs">TET2</text>
<text x="419.2" y="809" font-size="7.6" textLength="31.5" lengthAdjust="spacingAndGlyphs" transform="rotate(-90 419.2 809)">C1QTNF6</text>
<text x="428.9" y="832.7" font-size="5" textLength="72.7" lengthAdjust="spacingAndGlyphs" fill="#333" transform="rotate(-90 428.9 832.7)">Log(Read count per million mapped reads)</text>
<rect x="549.3" y="761.4" width="66.2" height="65" fill="none" stroke="#6a6a6a" stroke-width="0.8"/>
<line x1="547.1" y1="826.4" x2="549.3" y2="826.4" stroke="#555" stroke-width="0.8"/>
<text x="546.7" y="829.2" font-size="7.9" text-anchor="end">0</text>
<line x1="547.1" y1="815.5" x2="549.3" y2="815.5" stroke="#555" stroke-width="0.8"/>
<text x="546.7" y="818.3" font-size="7.9" text-anchor="end">1</text>
<line x1="547.1" y1="804.6" x2="549.3" y2="804.6" stroke="#555" stroke-width="0.8"/>
<text x="546.7" y="807.4" font-size="7.9" text-anchor="end">2</text>
<line x1="547.1" y1="793.7" x2="549.3" y2="793.7" stroke="#555" stroke-width="0.8"/>
<text x="546.7" y="796.5" font-size="7.9" text-anchor="end">3</text>
<line x1="547.1" y1="782.8" x2="549.3" y2="782.8" stroke="#555" stroke-width="0.8"/>
<text x="546.7" y="785.6" font-size="7.9" text-anchor="end">4</text>
<line x1="547.1" y1="771.9" x2="549.3" y2="771.9" stroke="#555" stroke-width="0.8"/>
<text x="546.7" y="774.7" font-size="7.9" text-anchor="end">5</text>
<line x1="547.1" y1="761" x2="549.3" y2="761" stroke="#555" stroke-width="0.8"/>
<text x="546.7" y="763.8" font-size="7.9" text-anchor="end">6</text>
<line x1="549.5" y1="826.4" x2="549.5" y2="828.6" stroke="#555" stroke-width="0.8"/>
<text x="0" y="0" font-size="7.9" fill="#222" text-anchor="middle" transform="translate(550.5 832.8) rotate(45)" dominant-baseline="central">0</text>
<line x1="569.7" y1="826.4" x2="569.7" y2="828.6" stroke="#555" stroke-width="0.8"/>
<text x="0" y="0" font-size="7.9" fill="#222" text-anchor="middle" transform="translate(570.7 832.8) rotate(45)" dominant-baseline="central">2</text>
<line x1="589.9" y1="826.4" x2="589.9" y2="828.6" stroke="#555" stroke-width="0.8"/>
<text x="0" y="0" font-size="7.9" fill="#222" text-anchor="middle" transform="translate(590.9 832.8) rotate(45)" dominant-baseline="central">4</text>
<line x1="610.1" y1="826.4" x2="610.1" y2="828.6" stroke="#555" stroke-width="0.8"/>
<text x="0" y="0" font-size="7.9" fill="#222" text-anchor="middle" transform="translate(611.1 832.8) rotate(45)" dominant-baseline="central">6</text>
<path d="M591.88 775.82h0.8v0.8h-0.8zM562.65 814.25h0.8v0.8h-0.8zM564.92 805.54h0.8v0.8h-0.8zM575.6 786.08h0.8v0.8h-0.8zM572.74 806.03h0.8v0.8h-0.8zM586.49 776.5h0.8v0.8h-0.8zM579.01 785.3h0.8v0.8h-0.8zM595.22 772.3h0.8v0.8h-0.8zM589.37 778.55h0.8v0.8h-0.8zM589.51 784.38h0.8v0.8h-0.8zM563.09 806.9h0.8v0.8h-0.8zM586.51 783.32h0.8v0.8h-0.8zM585.57 792.6h0.8v0.8h-0.8zM594.11 777.84h0.8v0.8h-0.8zM575.07 795.07h0.8v0.8h-0.8zM595.36 781.59h0.8v0.8h-0.8zM570 799.17h0.8v0.8h-0.8zM585.85 778.95h0.8v0.8h-0.8zM593.41 785.39h0.8v0.8h-0.8zM575.04 802.33h0.8v0.8h-0.8zM586.86 789.29h0.8v0.8h-0.8zM595.2 769.56h0.8v0.8h-0.8zM576.69 789.71h0.8v0.8h-0.8zM564.05 814.46h0.8v0.8h-0.8zM574.9 795.1h0.8v0.8h-0.8zM570.97 799.18h0.8v0.8h-0.8zM567.73 816.4h0.8v0.8h-0.8zM586.45 788.26h0.8v0.8h-0.8zM567.71 801.78h0.8v0.8h-0.8zM582.34 793.07h0.8v0.8h-0.8zM591.62 778.91h0.8v0.8h-0.8zM577.57 801.59h0.8v0.8h-0.8zM575.1 794.91h0.8v0.8h-0.8zM584.68 785.7h0.8v0.8h-0.8zM566 809.65h0.8v0.8h-0.8zM567.84 805.48h0.8v0.8h-0.8zM592.98 784.92h0.8v0.8h-0.8zM584.65 789.84h0.8v0.8h-0.8zM566.83 813.48h0.8v0.8h-0.8zM562.64 807.96h0.8v0.8h-0.8zM594.14 778.25h0.8v0.8h-0.8zM572.94 804.48h0.8v0.8h-0.8zM583.88 787.59h0.8v0.8h-0.8zM581.38 786.47h0.8v0.8h-0.8zM565.24 813.46h0.8v0.8h-0.8zM578.06 792.15h0.8v0.8h-0.8zM562.48 807.89h0.8v0.8h-0.8zM580.4 794.91h0.8v0.8h-0.8zM579.99 787.97h0.8v0.8h-0.8zM570.71 805.3h0.8v0.8h-0.8zM565.54 816.71h0.8v0.8h-0.8zM587.83 782.85h0.8v0.8h-0.8zM567.38 804.19h0.8v0.8h-0.8zM562.65 805.18h0.8v0.8h-0.8zM580.49 790.5h0.8v0.8h-0.8zM588.21 783.75h0.8v0.8h-0.8zM586.99 788.86h0.8v0.8h-0.8zM589.27 783.53h0.8v0.8h-0.8zM561.69 802.18h0.8v0.8h-0.8zM565.1 801.21h0.8v0.8h-0.8z" fill="#5a5a9a" fill-opacity="0.55"/>
<path d="M557.86 820.2h0.8v0.8h-0.8zM551.49 822.76h0.8v0.8h-0.8zM553.5 823.81h0.8v0.8h-0.8zM559.44 817.98h0.8v0.8h-0.8zM557.24 818.28h0.8v0.8h-0.8zM572.51 804.36h0.8v0.8h-0.8zM550.57 822.57h0.8v0.8h-0.8zM557.91 819.65h0.8v0.8h-0.8zM554.17 821.81h0.8v0.8h-0.8zM550.53 821.43h0.8v0.8h-0.8zM556.69 824.59h0.8v0.8h-0.8zM557.52 814.29h0.8v0.8h-0.8zM550.58 821.72h0.8v0.8h-0.8zM554.27 824.1h0.8v0.8h-0.8zM559.24 819.3h0.8v0.8h-0.8zM566.87 810.76h0.8v0.8h-0.8zM562.66 809.96h0.8v0.8h-0.8zM561.17 813.24h0.8v0.8h-0.8zM557.56 820.87h0.8v0.8h-0.8zM555.33 816.44h0.8v0.8h-0.8zM568.37 805.47h0.8v0.8h-0.8zM560.9 815.84h0.8v0.8h-0.8zM555.98 820.91h0.8v0.8h-0.8zM554.45 823.4h0.8v0.8h-0.8zM563.78 813.41h0.8v0.8h-0.8zM556.65 817.67h0.8v0.8h-0.8zM552.08 820.57h0.8v0.8h-0.8zM560.16 813.14h0.8v0.8h-0.8zM563.3 806.33h0.8v0.8h-0.8zM556.61 818.24h0.8v0.8h-0.8zM556.99 820.23h0.8v0.8h-0.8zM567.28 810.12h0.8v0.8h-0.8zM557.44 814.91h0.8v0.8h-0.8zM562.9 815.68h0.8v0.8h-0.8zM554.26 816.6h0.8v0.8h-0.8zM555.95 816.83h0.8v0.8h-0.8zM557.17 820.59h0.8v0.8h-0.8zM566.32 811.28h0.8v0.8h-0.8zM557.71 814.38h0.8v0.8h-0.8zM554.36 819.45h0.8v0.8h-0.8zM560.05 819.73h0.8v0.8h-0.8zM553.95 821.84h0.8v0.8h-0.8zM557.4 815.98h0.8v0.8h-0.8zM552.23 819.36h0.8v0.8h-0.8zM561.6 813.9h0.8v0.8h-0.8zM566.76 812.48h0.8v0.8h-0.8zM563.94 813.56h0.8v0.8h-0.8zM555.36 823.28h0.8v0.8h-0.8zM564.04 809.14h0.8v0.8h-0.8zM565.33 811.42h0.8v0.8h-0.8zM560.57 820.1h0.8v0.8h-0.8zM561.97 812.01h0.8v0.8h-0.8zM559.48 816.19h0.8v0.8h-0.8zM560.16 816.93h0.8v0.8h-0.8zM566.18 809.96h0.8v0.8h-0.8zM563.42 810.61h0.8v0.8h-0.8zM570.36 807.36h0.8v0.8h-0.8zM568.97 807.57h0.8v0.8h-0.8zM557.67 818.33h0.8v0.8h-0.8zM556.38 817.97h0.8v0.8h-0.8zM553.52 821.06h0.8v0.8h-0.8zM550.13 820.75h0.8v0.8h-0.8zM561.4 810.89h0.8v0.8h-0.8zM567.58 814.59h0.8v0.8h-0.8zM554.58 818.67h0.8v0.8h-0.8zM554.11 820.33h0.8v0.8h-0.8zM558.78 815.43h0.8v0.8h-0.8zM559.43 813.86h0.8v0.8h-0.8zM564.12 813.65h0.8v0.8h-0.8zM555.17 821.66h0.8v0.8h-0.8zM553.37 821.51h0.8v0.8h-0.8zM551.78 823.7h0.8v0.8h-0.8zM559.88 815.19h0.8v0.8h-0.8zM569.33 804.77h0.8v0.8h-0.8zM569.11 806.43h0.8v0.8h-0.8zM565.64 804.8h0.8v0.8h-0.8zM552.13 821.74h0.8v0.8h-0.8zM550.68 825.45h0.8v0.8h-0.8zM556.06 820.79h0.8v0.8h-0.8zM561.63 815.91h0.8v0.8h-0.8zM560.63 812.26h0.8v0.8h-0.8zM558.11 808.86h0.8v0.8h-0.8zM558.23 825.3h0.8v0.8h-0.8zM554.78 820.16h0.8v0.8h-0.8zM556.26 813.62h0.8v0.8h-0.8zM558.59 816h0.8v0.8h-0.8zM561.85 823.57h0.8v0.8h-0.8zM558.89 814.34h0.8v0.8h-0.8zM560.05 819.21h0.8v0.8h-0.8zM559.65 813.17h0.8v0.8h-0.8zM559.86 814.69h0.8v0.8h-0.8zM557.39 816.78h0.8v0.8h-0.8zM559.37 812.52h0.8v0.8h-0.8zM557.02 820.31h0.8v0.8h-0.8zM558.61 816.67h0.8v0.8h-0.8zM555.27 822.46h0.8v0.8h-0.8zM560.62 814.39h0.8v0.8h-0.8zM563.05 816.03h0.8v0.8h-0.8zM555.25 820.25h0.8v0.8h-0.8zM555.64 816.83h0.8v0.8h-0.8zM552.48 821.58h0.8v0.8h-0.8zM553.23 816.67h0.8v0.8h-0.8zM560.76 817.9h0.8v0.8h-0.8zM554.63 820.65h0.8v0.8h-0.8zM566.62 814.41h0.8v0.8h-0.8zM557.78 812.82h0.8v0.8h-0.8zM561.55 816.1h0.8v0.8h-0.8zM584.25 794.7h0.8v0.8h-0.8zM572 808.6h0.8v0.8h-0.8zM557.96 820.46h0.8v0.8h-0.8zM566.34 812.88h0.8v0.8h-0.8zM555.75 820.83h0.8v0.8h-0.8zM569.43 808.08h0.8v0.8h-0.8zM554.96 819.98h0.8v0.8h-0.8zM555.46 819.45h0.8v0.8h-0.8zM556.35 818.33h0.8v0.8h-0.8zM561.09 810.46h0.8v0.8h-0.8zM560.8 817.7h0.8v0.8h-0.8zM558.33 815.29h0.8v0.8h-0.8zM554.47 817.44h0.8v0.8h-0.8zM561.29 814.57h0.8v0.8h-0.8zM554.96 823.5h0.8v0.8h-0.8zM549.77 825.29h0.8v0.8h-0.8zM558.13 815.94h0.8v0.8h-0.8zM564.48 810.53h0.8v0.8h-0.8zM561.38 817.47h0.8v0.8h-0.8zM557.96 822.61h0.8v0.8h-0.8zM556.98 817.07h0.8v0.8h-0.8zM561.38 817.96h0.8v0.8h-0.8zM556.24 818.41h0.8v0.8h-0.8zM558.23 822.58h0.8v0.8h-0.8zM562.63 815.86h0.8v0.8h-0.8zM557.07 819.43h0.8v0.8h-0.8zM554.41 820.67h0.8v0.8h-0.8zM556.42 823.95h0.8v0.8h-0.8zM563.78 810.9h0.8v0.8h-0.8zM549.61 824.96h0.8v0.8h-0.8zM553.07 821.11h0.8v0.8h-0.8zM557.74 819.01h0.8v0.8h-0.8zM555.04 813.97h0.8v0.8h-0.8zM556.73 819h0.8v0.8h-0.8zM566.68 812.47h0.8v0.8h-0.8zM564.17 811.98h0.8v0.8h-0.8zM565.99 814.15h0.8v0.8h-0.8zM560.99 817.15h0.8v0.8h-0.8zM553.81 812.82h0.8v0.8h-0.8zM557.43 817.04h0.8v0.8h-0.8zM568.68 803.92h0.8v0.8h-0.8zM563.63 809.96h0.8v0.8h-0.8zM578.08 796.14h0.8v0.8h-0.8zM561.43 816.62h0.8v0.8h-0.8zM560.82 818.47h0.8v0.8h-0.8zM560.55 812.69h0.8v0.8h-0.8zM554.41 816.85h0.8v0.8h-0.8zM553.96 818.98h0.8v0.8h-0.8zM557.84 822.86h0.8v0.8h-0.8zM567.65 806.62h0.8v0.8h-0.8zM559.75 818.75h0.8v0.8h-0.8zM554.17 823.81h0.8v0.8h-0.8zM560.56 815.12h0.8v0.8h-0.8zM556.78 818.75h0.8v0.8h-0.8zM560.6 811.39h0.8v0.8h-0.8zM556.94 819.02h0.8v0.8h-0.8zM556.76 823.67h0.8v0.8h-0.8zM563.28 818.04h0.8v0.8h-0.8zM567.45 809.46h0.8v0.8h-0.8zM561.87 815.39h0.8v0.8h-0.8zM561.4 814.21h0.8v0.8h-0.8zM565.99 811.16h0.8v0.8h-0.8zM550.57 821.63h0.8v0.8h-0.8zM556.9 816.19h0.8v0.8h-0.8zM553.58 819.74h0.8v0.8h-0.8zM567.84 804.62h0.8v0.8h-0.8zM564.62 815.55h0.8v0.8h-0.8zM559 819.78h0.8v0.8h-0.8zM568.02 816.96h0.8v0.8h-0.8zM555.72 811.98h0.8v0.8h-0.8zM565.81 816.18h0.8v0.8h-0.8zM557.29 821.04h0.8v0.8h-0.8zM553.34 817.66h0.8v0.8h-0.8zM552.97 822.35h0.8v0.8h-0.8zM550.46 822.75h0.8v0.8h-0.8zM552.88 821.22h0.8v0.8h-0.8zM562.33 812.61h0.8v0.8h-0.8zM561.58 818.35h0.8v0.8h-0.8zM561.34 813.84h0.8v0.8h-0.8zM553.8 821.14h0.8v0.8h-0.8zM558.65 811.04h0.8v0.8h-0.8zM558.6 814.38h0.8v0.8h-0.8zM560.43 817.43h0.8v0.8h-0.8zM553.91 818.72h0.8v0.8h-0.8zM553.51 822.42h0.8v0.8h-0.8zM560.66 815.64h0.8v0.8h-0.8zM556.19 823.02h0.8v0.8h-0.8zM557.78 816.42h0.8v0.8h-0.8zM560.79 815.79h0.8v0.8h-0.8zM556.86 820.57h0.8v0.8h-0.8zM549.97 824.94h0.8v0.8h-0.8zM554.29 822.08h0.8v0.8h-0.8zM555.66 817.49h0.8v0.8h-0.8zM564.91 808.56h0.8v0.8h-0.8zM556.64 823.1h0.8v0.8h-0.8zM567.07 813.6h0.8v0.8h-0.8zM559.95 814.79h0.8v0.8h-0.8zM551.41 821.97h0.8v0.8h-0.8zM553.15 821.49h0.8v0.8h-0.8zM557.36 817.07h0.8v0.8h-0.8zM552.3 822.97h0.8v0.8h-0.8zM560.65 819.24h0.8v0.8h-0.8zM557.32 821.16h0.8v0.8h-0.8zM555.01 818.11h0.8v0.8h-0.8zM554.75 822.98h0.8v0.8h-0.8zM551.4 816.61h0.8v0.8h-0.8zM559.91 817.7h0.8v0.8h-0.8zM554.55 820.83h0.8v0.8h-0.8zM554.93 822.15h0.8v0.8h-0.8zM567.8 809.91h0.8v0.8h-0.8zM555.7 818.49h0.8v0.8h-0.8zM558.08 816.58h0.8v0.8h-0.8zM564.62 809.44h0.8v0.8h-0.8zM558.08 816.09h0.8v0.8h-0.8zM564.47 808.75h0.8v0.8h-0.8zM560.07 814.99h0.8v0.8h-0.8zM557.24 815.15h0.8v0.8h-0.8zM558.12 816.24h0.8v0.8h-0.8zM573.26 807.75h0.8v0.8h-0.8zM552.71 823.13h0.8v0.8h-0.8zM556.02 819.18h0.8v0.8h-0.8zM557.03 819.11h0.8v0.8h-0.8zM558.26 817.89h0.8v0.8h-0.8zM561.65 819.12h0.8v0.8h-0.8zM557.91 818.84h0.8v0.8h-0.8zM556.62 818.76h0.8v0.8h-0.8zM556.9 814.97h0.8v0.8h-0.8zM554.59 819.67h0.8v0.8h-0.8zM558.15 820.67h0.8v0.8h-0.8zM555.31 818.6h0.8v0.8h-0.8zM553.7 825.58h0.8v0.8h-0.8zM563.92 813.09h0.8v0.8h-0.8zM561.61 812.05h0.8v0.8h-0.8zM571.62 800.74h0.8v0.8h-0.8zM556.39 824.6h0.8v0.8h-0.8zM561.41 811.9h0.8v0.8h-0.8zM553.4 822.51h0.8v0.8h-0.8zM566.68 808.46h0.8v0.8h-0.8zM555.9 822.32h0.8v0.8h-0.8zM560.63 815.28h0.8v0.8h-0.8zM558.31 819.28h0.8v0.8h-0.8zM563.53 812.51h0.8v0.8h-0.8zM552.44 820.69h0.8v0.8h-0.8zM561.98 814.25h0.8v0.8h-0.8zM584.39 797.33h0.8v0.8h-0.8zM555.09 819.61h0.8v0.8h-0.8zM555.19 819.89h0.8v0.8h-0.8zM564.07 816.9h0.8v0.8h-0.8zM553.24 825.27h0.8v0.8h-0.8zM561.78 813.94h0.8v0.8h-0.8zM563.68 810.62h0.8v0.8h-0.8zM558.03 814.7h0.8v0.8h-0.8zM553.6 818.99h0.8v0.8h-0.8zM552.5 823.75h0.8v0.8h-0.8zM559.45 810.59h0.8v0.8h-0.8zM550.07 819.49h0.8v0.8h-0.8zM559.83 818.26h0.8v0.8h-0.8zM562.14 808.16h0.8v0.8h-0.8zM556.64 818.06h0.8v0.8h-0.8zM564.91 809.88h0.8v0.8h-0.8zM555.36 820.16h0.8v0.8h-0.8zM558.83 820.62h0.8v0.8h-0.8zM561.82 818.95h0.8v0.8h-0.8zM555.52 821.96h0.8v0.8h-0.8zM560.62 812.82h0.8v0.8h-0.8zM558.6 817.44h0.8v0.8h-0.8zM562.1 812.17h0.8v0.8h-0.8zM551.45 823.42h0.8v0.8h-0.8zM558.27 820.1h0.8v0.8h-0.8zM558.21 814.98h0.8v0.8h-0.8zM564.4 812.27h0.8v0.8h-0.8zM558.12 818.32h0.8v0.8h-0.8zM567.71 809.75h0.8v0.8h-0.8zM570.78 812.22h0.8v0.8h-0.8zM559.14 810.15h0.8v0.8h-0.8zM564.15 808.23h0.8v0.8h-0.8zM559.16 822.78h0.8v0.8h-0.8zM554.95 821.56h0.8v0.8h-0.8zM558.13 818.31h0.8v0.8h-0.8zM557.38 816.71h0.8v0.8h-0.8zM557.49 814.5h0.8v0.8h-0.8zM550.85 822.02h0.8v0.8h-0.8zM561.46 811.74h0.8v0.8h-0.8zM553.45 823.84h0.8v0.8h-0.8zM555.38 818.47h0.8v0.8h-0.8zM559.16 818.62h0.8v0.8h-0.8zM559.13 815.9h0.8v0.8h-0.8zM553.14 825.47h0.8v0.8h-0.8zM560.78 818.9h0.8v0.8h-0.8zM559.98 814.17h0.8v0.8h-0.8zM554.07 821.43h0.8v0.8h-0.8zM563.63 812.39h0.8v0.8h-0.8zM550.93 821.38h0.8v0.8h-0.8zM563.62 813.21h0.8v0.8h-0.8zM561.47 806.76h0.8v0.8h-0.8zM565.63 813.73h0.8v0.8h-0.8zM549.35 824.58h0.8v0.8h-0.8zM551.7 823.39h0.8v0.8h-0.8zM554.91 820.14h0.8v0.8h-0.8zM562.52 811.77h0.8v0.8h-0.8zM553.15 822.94h0.8v0.8h-0.8zM555.91 823.57h0.8v0.8h-0.8zM565.62 808.79h0.8v0.8h-0.8zM555.06 819.9h0.8v0.8h-0.8zM555.19 822.85h0.8v0.8h-0.8zM559.53 814.2h0.8v0.8h-0.8zM551.43 823.38h0.8v0.8h-0.8zM558.69 814.07h0.8v0.8h-0.8zM565.88 808.03h0.8v0.8h-0.8zM560.65 815.94h0.8v0.8h-0.8zM553.55 824.35h0.8v0.8h-0.8zM560.24 819.4h0.8v0.8h-0.8zM563.62 813.75h0.8v0.8h-0.8zM553.91 825.88h0.8v0.8h-0.8zM554.21 819.26h0.8v0.8h-0.8zM557.56 814.46h0.8v0.8h-0.8zM558.98 814.62h0.8v0.8h-0.8zM557.75 820.14h0.8v0.8h-0.8zM558.54 824.51h0.8v0.8h-0.8zM563.29 819.42h0.8v0.8h-0.8zM556.25 818.4h0.8v0.8h-0.8zM559.36 815.12h0.8v0.8h-0.8zM550.92 823.52h0.8v0.8h-0.8zM551.3 824.06h0.8v0.8h-0.8zM551.62 821.43h0.8v0.8h-0.8zM570.13 813.39h0.8v0.8h-0.8zM559.23 818.71h0.8v0.8h-0.8zM557.87 819.3h0.8v0.8h-0.8zM556.92 818.39h0.8v0.8h-0.8zM556.19 819.97h0.8v0.8h-0.8zM566.58 808.75h0.8v0.8h-0.8zM553.94 822.48h0.8v0.8h-0.8zM567.18 806.75h0.8v0.8h-0.8zM559.68 810.28h0.8v0.8h-0.8zM557.97 820.03h0.8v0.8h-0.8zM555.52 822.51h0.8v0.8h-0.8zM562.04 815.13h0.8v0.8h-0.8zM560.15 813.91h0.8v0.8h-0.8z" fill="#4a3f88" fill-opacity="0.45"/>
<path d="M554.57 823.78h0.8v0.8h-0.8zM556.19 824.41h0.8v0.8h-0.8zM550.16 824.31h0.8v0.8h-0.8zM554.9 823.6h0.8v0.8h-0.8zM555.27 821.6h0.8v0.8h-0.8zM554.64 819.64h0.8v0.8h-0.8zM550.54 823.73h0.8v0.8h-0.8zM558.14 820.25h0.8v0.8h-0.8zM550.03 821.82h0.8v0.8h-0.8zM552.6 822.1h0.8v0.8h-0.8zM555.32 822.87h0.8v0.8h-0.8zM555.67 820.88h0.8v0.8h-0.8zM549.16 825.74h0.8v0.8h-0.8zM553.79 821.03h0.8v0.8h-0.8zM549.16 822.18h0.8v0.8h-0.8zM553.67 820.25h0.8v0.8h-0.8zM555.9 823.57h0.8v0.8h-0.8zM558.21 822.88h0.8v0.8h-0.8zM550.8 824.9h0.8v0.8h-0.8zM550.61 823.65h0.8v0.8h-0.8zM551.42 823.6h0.8v0.8h-0.8zM551.06 825.11h0.8v0.8h-0.8zM555.13 821.51h0.8v0.8h-0.8zM556.51 822.26h0.8v0.8h-0.8zM551.4 823.22h0.8v0.8h-0.8zM556.85 821.68h0.8v0.8h-0.8zM553.85 821.33h0.8v0.8h-0.8zM555.69 824.43h0.8v0.8h-0.8zM553.69 823.65h0.8v0.8h-0.8zM553.7 822.07h0.8v0.8h-0.8zM551.32 823.97h0.8v0.8h-0.8zM555.62 823.26h0.8v0.8h-0.8zM555.19 820.38h0.8v0.8h-0.8zM552.37 823.08h0.8v0.8h-0.8zM550.62 825.65h0.8v0.8h-0.8zM552.58 823.54h0.8v0.8h-0.8zM558.84 822.29h0.8v0.8h-0.8zM553.39 821.32h0.8v0.8h-0.8zM557.29 820.16h0.8v0.8h-0.8zM553.75 820.35h0.8v0.8h-0.8zM555.65 821.87h0.8v0.8h-0.8zM551.95 824.98h0.8v0.8h-0.8zM549.68 824.42h0.8v0.8h-0.8zM549.38 824.83h0.8v0.8h-0.8zM553.47 825.35h0.8v0.8h-0.8zM554.47 820.46h0.8v0.8h-0.8zM554.8 821.89h0.8v0.8h-0.8zM555.8 822.02h0.8v0.8h-0.8zM557.25 823.16h0.8v0.8h-0.8zM553.27 823.56h0.8v0.8h-0.8zM556.66 819.95h0.8v0.8h-0.8zM556.55 821.44h0.8v0.8h-0.8zM554.75 822.04h0.8v0.8h-0.8zM549.75 822.44h0.8v0.8h-0.8zM552.78 823.45h0.8v0.8h-0.8zM550.8 822.37h0.8v0.8h-0.8zM551.46 825.79h0.8v0.8h-0.8zM549.57 823.43h0.8v0.8h-0.8zM552.46 822.26h0.8v0.8h-0.8zM557.23 822.55h0.8v0.8h-0.8zM549.25 825.39h0.8v0.8h-0.8zM551.05 822.4h0.8v0.8h-0.8zM554.21 818.58h0.8v0.8h-0.8zM553.62 821.66h0.8v0.8h-0.8zM549.59 825.01h0.8v0.8h-0.8zM555.23 820.46h0.8v0.8h-0.8zM552.73 824.04h0.8v0.8h-0.8zM553.69 821.86h0.8v0.8h-0.8zM550.62 822.37h0.8v0.8h-0.8zM550.08 825h0.8v0.8h-0.8zM550.34 824.21h0.8v0.8h-0.8zM553.59 821.65h0.8v0.8h-0.8zM557.67 820.2h0.8v0.8h-0.8zM551.2 823.66h0.8v0.8h-0.8zM549.9 822.12h0.8v0.8h-0.8zM555.22 821.71h0.8v0.8h-0.8zM549.15 824.33h0.8v0.8h-0.8zM552.45 821.45h0.8v0.8h-0.8zM557.86 822.88h0.8v0.8h-0.8zM552.47 825.4h0.8v0.8h-0.8zM551.6 820.94h0.8v0.8h-0.8zM552.04 822.79h0.8v0.8h-0.8zM556.05 821.66h0.8v0.8h-0.8zM554.67 822.51h0.8v0.8h-0.8zM553.17 821.19h0.8v0.8h-0.8zM550.75 824.77h0.8v0.8h-0.8zM555.7 823.18h0.8v0.8h-0.8zM556.47 819.17h0.8v0.8h-0.8zM556.12 822.41h0.8v0.8h-0.8zM552.07 822.36h0.8v0.8h-0.8zM556.33 821.89h0.8v0.8h-0.8zM549.88 823.44h0.8v0.8h-0.8zM557.23 820.62h0.8v0.8h-0.8zM554.6 820.73h0.8v0.8h-0.8zM551.17 822.45h0.8v0.8h-0.8zM554.44 822.67h0.8v0.8h-0.8zM550.68 820.85h0.8v0.8h-0.8zM558.56 819.08h0.8v0.8h-0.8zM553.54 820.6h0.8v0.8h-0.8zM555.16 821.24h0.8v0.8h-0.8zM550.81 823.64h0.8v0.8h-0.8zM556.48 821.75h0.8v0.8h-0.8zM555.78 821.59h0.8v0.8h-0.8zM550.07 824.73h0.8v0.8h-0.8zM551.79 823.88h0.8v0.8h-0.8zM552.34 819.08h0.8v0.8h-0.8zM557.42 819.44h0.8v0.8h-0.8zM549.62 821.89h0.8v0.8h-0.8zM551.25 823.05h0.8v0.8h-0.8zM553.56 821.97h0.8v0.8h-0.8zM549.62 821.23h0.8v0.8h-0.8zM552.67 818.98h0.8v0.8h-0.8zM552.77 821.52h0.8v0.8h-0.8zM552.19 821.08h0.8v0.8h-0.8zM549.35 824.97h0.8v0.8h-0.8zM549.81 823.49h0.8v0.8h-0.8zM555.72 822.81h0.8v0.8h-0.8zM555.7 821.62h0.8v0.8h-0.8zM554.26 820.61h0.8v0.8h-0.8zM551.35 825.38h0.8v0.8h-0.8zM551.09 824.36h0.8v0.8h-0.8zM556.19 823.92h0.8v0.8h-0.8zM554.05 821.62h0.8v0.8h-0.8zM556.19 823.29h0.8v0.8h-0.8zM554.38 823.22h0.8v0.8h-0.8zM554.62 822.06h0.8v0.8h-0.8zM551.84 820.54h0.8v0.8h-0.8zM552.65 820.04h0.8v0.8h-0.8zM557.2 820.36h0.8v0.8h-0.8zM554.94 821.62h0.8v0.8h-0.8zM551.29 824.05h0.8v0.8h-0.8zM553.19 823.68h0.8v0.8h-0.8zM553.3 821.06h0.8v0.8h-0.8zM554.85 825.45h0.8v0.8h-0.8zM550.79 821.97h0.8v0.8h-0.8zM550.83 823.09h0.8v0.8h-0.8zM552.58 822.73h0.8v0.8h-0.8zM554.48 822.93h0.8v0.8h-0.8zM553.18 823.64h0.8v0.8h-0.8zM549.33 823.01h0.8v0.8h-0.8zM550.48 824.56h0.8v0.8h-0.8zM553.24 820.13h0.8v0.8h-0.8zM551.25 819.61h0.8v0.8h-0.8zM550.03 825.94h0.8v0.8h-0.8zM554.58 822.45h0.8v0.8h-0.8zM553.15 821.23h0.8v0.8h-0.8zM549.63 821.98h0.8v0.8h-0.8zM550.21 819.84h0.8v0.8h-0.8zM550.39 822.2h0.8v0.8h-0.8zM559.37 821.02h0.8v0.8h-0.8zM552.91 820.98h0.8v0.8h-0.8zM550.39 820.9h0.8v0.8h-0.8zM552.84 821.89h0.8v0.8h-0.8zM550.99 822.92h0.8v0.8h-0.8zM556.54 822.54h0.8v0.8h-0.8zM556.32 820.62h0.8v0.8h-0.8zM555.79 825h0.8v0.8h-0.8zM549.54 823.39h0.8v0.8h-0.8zM553.09 820.94h0.8v0.8h-0.8zM549.86 823.06h0.8v0.8h-0.8zM555.12 820.07h0.8v0.8h-0.8zM555.74 824.67h0.8v0.8h-0.8zM558.08 821.56h0.8v0.8h-0.8zM556.49 822.39h0.8v0.8h-0.8zM549.33 821.1h0.8v0.8h-0.8zM553.05 823.09h0.8v0.8h-0.8zM549.66 823.98h0.8v0.8h-0.8zM555.09 823.1h0.8v0.8h-0.8zM554.31 823.93h0.8v0.8h-0.8zM553.13 818.93h0.8v0.8h-0.8zM552.18 821.66h0.8v0.8h-0.8zM550.3 824.95h0.8v0.8h-0.8zM553.24 821.88h0.8v0.8h-0.8zM549.75 824.94h0.8v0.8h-0.8zM549.6 821.19h0.8v0.8h-0.8zM551.48 822.69h0.8v0.8h-0.8zM555.38 822.48h0.8v0.8h-0.8zM553.95 823.32h0.8v0.8h-0.8zM550.6 822.92h0.8v0.8h-0.8zM551.29 824.87h0.8v0.8h-0.8zM554.87 821.75h0.8v0.8h-0.8zM549.4 822.63h0.8v0.8h-0.8zM552.93 822.87h0.8v0.8h-0.8zM556.98 819.3h0.8v0.8h-0.8zM553.65 824.32h0.8v0.8h-0.8zM554.8 820.48h0.8v0.8h-0.8zM553.87 824.63h0.8v0.8h-0.8zM554.06 822.55h0.8v0.8h-0.8zM553.29 823.6h0.8v0.8h-0.8zM560.74 819.45h0.8v0.8h-0.8zM549.28 821.83h0.8v0.8h-0.8zM550.17 822.77h0.8v0.8h-0.8zM551.01 819.96h0.8v0.8h-0.8zM551.49 822.91h0.8v0.8h-0.8zM557.48 821.51h0.8v0.8h-0.8zM555.1 824.46h0.8v0.8h-0.8zM549.97 823.87h0.8v0.8h-0.8zM551.13 825.22h0.8v0.8h-0.8zM552.64 823.4h0.8v0.8h-0.8zM555.74 823.53h0.8v0.8h-0.8zM549.61 824.6h0.8v0.8h-0.8zM551.25 821.88h0.8v0.8h-0.8zM554.14 823.43h0.8v0.8h-0.8zM557.59 821.26h0.8v0.8h-0.8zM555.62 822.5h0.8v0.8h-0.8zM555.42 821.45h0.8v0.8h-0.8zM550.55 823.05h0.8v0.8h-0.8zM558.36 819.49h0.8v0.8h-0.8zM550.49 823.2h0.8v0.8h-0.8zM555.27 820.36h0.8v0.8h-0.8zM549.31 821.22h0.8v0.8h-0.8zM551.26 821.67h0.8v0.8h-0.8zM555.18 824.55h0.8v0.8h-0.8zM552.45 823.81h0.8v0.8h-0.8zM554.5 824.24h0.8v0.8h-0.8zM556.93 821.74h0.8v0.8h-0.8zM556.04 820.67h0.8v0.8h-0.8zM553.2 825.93h0.8v0.8h-0.8zM553.89 819.88h0.8v0.8h-0.8zM553.66 819.03h0.8v0.8h-0.8zM553.65 821.37h0.8v0.8h-0.8zM554.82 821.15h0.8v0.8h-0.8zM553.39 823.99h0.8v0.8h-0.8zM553.39 822.77h0.8v0.8h-0.8zM550.24 823.2h0.8v0.8h-0.8zM551.52 823.49h0.8v0.8h-0.8zM554.24 820.77h0.8v0.8h-0.8zM550.33 823.32h0.8v0.8h-0.8zM549.87 824.15h0.8v0.8h-0.8zM552.65 823.3h0.8v0.8h-0.8zM549.37 824.45h0.8v0.8h-0.8zM553.97 818.55h0.8v0.8h-0.8zM556.44 822.22h0.8v0.8h-0.8zM556.5 821.99h0.8v0.8h-0.8zM549.65 824.08h0.8v0.8h-0.8zM550.93 823.39h0.8v0.8h-0.8zM556.19 822.73h0.8v0.8h-0.8zM554.83 819.18h0.8v0.8h-0.8zM553.53 824.68h0.8v0.8h-0.8zM550.91 823.61h0.8v0.8h-0.8zM556.06 825.2h0.8v0.8h-0.8zM552.23 822.88h0.8v0.8h-0.8zM551.3 822.35h0.8v0.8h-0.8zM551.32 821.37h0.8v0.8h-0.8zM554.3 819.88h0.8v0.8h-0.8zM551.84 823h0.8v0.8h-0.8zM549.47 822.84h0.8v0.8h-0.8zM551.5 822.15h0.8v0.8h-0.8zM549.27 823.47h0.8v0.8h-0.8zM550.8 822.26h0.8v0.8h-0.8zM550.17 822.4h0.8v0.8h-0.8zM558.63 822.42h0.8v0.8h-0.8zM549.9 825.91h0.8v0.8h-0.8zM554.58 822.99h0.8v0.8h-0.8zM557.5 821.66h0.8v0.8h-0.8zM551.65 821.4h0.8v0.8h-0.8zM553.03 822.56h0.8v0.8h-0.8zM551.11 822.4h0.8v0.8h-0.8zM549.3 823.52h0.8v0.8h-0.8zM555.88 820.51h0.8v0.8h-0.8zM554.85 822.11h0.8v0.8h-0.8zM554.71 822.78h0.8v0.8h-0.8zM553.45 825.7h0.8v0.8h-0.8zM551.55 823.27h0.8v0.8h-0.8zM553.35 825.56h0.8v0.8h-0.8zM549.85 821.77h0.8v0.8h-0.8zM549.15 823.86h0.8v0.8h-0.8zM551.09 821.57h0.8v0.8h-0.8zM552.75 821.38h0.8v0.8h-0.8zM550.84 823.34h0.8v0.8h-0.8zM554.73 820.55h0.8v0.8h-0.8zM560.69 816.27h0.8v0.8h-0.8zM550.88 820.74h0.8v0.8h-0.8zM550.82 822.34h0.8v0.8h-0.8zM552.19 821.09h0.8v0.8h-0.8zM549.98 824.33h0.8v0.8h-0.8zM553.08 825.81h0.8v0.8h-0.8zM549.84 822.65h0.8v0.8h-0.8zM550.01 824.35h0.8v0.8h-0.8zM550.94 823.5h0.8v0.8h-0.8zM557.62 822.76h0.8v0.8h-0.8zM556.36 822.94h0.8v0.8h-0.8zM556.42 823.18h0.8v0.8h-0.8zM549.92 823.63h0.8v0.8h-0.8zM552.74 820.76h0.8v0.8h-0.8zM554.23 821.79h0.8v0.8h-0.8zM551.74 822.09h0.8v0.8h-0.8zM551.66 823.16h0.8v0.8h-0.8zM553.03 823.51h0.8v0.8h-0.8zM553.55 823.46h0.8v0.8h-0.8zM556.63 819.46h0.8v0.8h-0.8zM555.36 821.55h0.8v0.8h-0.8zM552.96 822.71h0.8v0.8h-0.8zM551.67 823.59h0.8v0.8h-0.8zM549.29 823.18h0.8v0.8h-0.8zM551.81 820.34h0.8v0.8h-0.8zM558.19 821.32h0.8v0.8h-0.8zM552.88 821.9h0.8v0.8h-0.8zM550.52 824.16h0.8v0.8h-0.8zM556.63 820.43h0.8v0.8h-0.8zM552.94 823.42h0.8v0.8h-0.8zM552.36 824.65h0.8v0.8h-0.8zM553.5 821.67h0.8v0.8h-0.8zM554.56 819.27h0.8v0.8h-0.8zM549.74 822.65h0.8v0.8h-0.8zM558.23 820.75h0.8v0.8h-0.8zM553.22 823.88h0.8v0.8h-0.8zM557.81 820.62h0.8v0.8h-0.8zM556.69 823.77h0.8v0.8h-0.8zM549.96 825.51h0.8v0.8h-0.8zM556.76 822.5h0.8v0.8h-0.8zM552.5 822.1h0.8v0.8h-0.8zM549.9 823.5h0.8v0.8h-0.8zM551.63 820.39h0.8v0.8h-0.8zM557.07 822.06h0.8v0.8h-0.8zM552.7 822.59h0.8v0.8h-0.8zM554.89 819.56h0.8v0.8h-0.8zM550.43 821.1h0.8v0.8h-0.8zM554.89 822.34h0.8v0.8h-0.8zM554.7 822.65h0.8v0.8h-0.8zM553.92 823.06h0.8v0.8h-0.8zM560.05 819.27h0.8v0.8h-0.8zM555.62 821.03h0.8v0.8h-0.8zM552.09 822.12h0.8v0.8h-0.8zM556.84 823.9h0.8v0.8h-0.8zM556.76 818.87h0.8v0.8h-0.8zM554.06 821.6h0.8v0.8h-0.8zM553.07 821.24h0.8v0.8h-0.8zM556.21 824.14h0.8v0.8h-0.8zM550.71 821.93h0.8v0.8h-0.8zM553.18 821.64h0.8v0.8h-0.8zM561 821.54h0.8v0.8h-0.8zM553.76 820.24h0.8v0.8h-0.8zM550.55 824.04h0.8v0.8h-0.8zM554.23 823.07h0.8v0.8h-0.8zM552.37 824.25h0.8v0.8h-0.8zM555.55 819.6h0.8v0.8h-0.8zM556.32 820.05h0.8v0.8h-0.8zM550.34 824.14h0.8v0.8h-0.8zM550.24 823.22h0.8v0.8h-0.8zM551.88 822.29h0.8v0.8h-0.8zM549.27 824.21h0.8v0.8h-0.8zM557.99 822.06h0.8v0.8h-0.8zM551.81 823.18h0.8v0.8h-0.8zM556.97 821.74h0.8v0.8h-0.8zM553.49 820.67h0.8v0.8h-0.8zM551.79 825.7h0.8v0.8h-0.8zM554.25 824.34h0.8v0.8h-0.8zM549.53 825.88h0.8v0.8h-0.8zM550.15 822.19h0.8v0.8h-0.8zM553.45 818.74h0.8v0.8h-0.8zM554.4 822.67h0.8v0.8h-0.8zM550.4 818.2h0.8v0.8h-0.8zM554.6 823.29h0.8v0.8h-0.8zM553.88 825.99h0.8v0.8h-0.8zM554.07 823h0.8v0.8h-0.8zM550.06 822.5h0.8v0.8h-0.8zM555.29 820.29h0.8v0.8h-0.8zM551.34 824.95h0.8v0.8h-0.8zM555.68 821.49h0.8v0.8h-0.8zM549.18 822.6h0.8v0.8h-0.8zM551.09 821.64h0.8v0.8h-0.8zM552.17 819.89h0.8v0.8h-0.8zM553.39 822.62h0.8v0.8h-0.8zM549.92 822.88h0.8v0.8h-0.8zM552.58 820.21h0.8v0.8h-0.8zM552.07 824.04h0.8v0.8h-0.8zM555.91 819.68h0.8v0.8h-0.8zM555.57 824.84h0.8v0.8h-0.8zM550.51 824.03h0.8v0.8h-0.8zM551.41 821.04h0.8v0.8h-0.8zM556.79 823.23h0.8v0.8h-0.8zM552.03 822.31h0.8v0.8h-0.8zM549.44 823.62h0.8v0.8h-0.8zM549.25 822.74h0.8v0.8h-0.8zM551.45 821.88h0.8v0.8h-0.8zM553.1 822.52h0.8v0.8h-0.8zM552.58 820.43h0.8v0.8h-0.8zM557.32 820.76h0.8v0.8h-0.8zM551.65 822.47h0.8v0.8h-0.8zM554.49 822.5h0.8v0.8h-0.8zM551.28 824.6h0.8v0.8h-0.8zM550.9 821.5h0.8v0.8h-0.8zM549.55 821.78h0.8v0.8h-0.8zM555.48 820.94h0.8v0.8h-0.8zM553.33 822.54h0.8v0.8h-0.8zM549.86 821.89h0.8v0.8h-0.8zM553.71 822.56h0.8v0.8h-0.8zM550.24 823.25h0.8v0.8h-0.8zM551.9 820.9h0.8v0.8h-0.8zM557.94 822.24h0.8v0.8h-0.8zM557.21 821.91h0.8v0.8h-0.8zM549.73 823.02h0.8v0.8h-0.8zM549.81 825.66h0.8v0.8h-0.8zM550.31 820.92h0.8v0.8h-0.8zM553.89 823.48h0.8v0.8h-0.8zM554.49 820.53h0.8v0.8h-0.8zM554.05 823.51h0.8v0.8h-0.8zM554.61 821.32h0.8v0.8h-0.8zM549.89 823.81h0.8v0.8h-0.8zM551.79 824.59h0.8v0.8h-0.8zM550.4 821.16h0.8v0.8h-0.8zM552.93 823.5h0.8v0.8h-0.8zM554.65 821.3h0.8v0.8h-0.8zM555.19 820.34h0.8v0.8h-0.8zM549.33 823.99h0.8v0.8h-0.8zM551.22 822.15h0.8v0.8h-0.8zM554.62 821.87h0.8v0.8h-0.8zM556.32 821.91h0.8v0.8h-0.8zM551.43 821.55h0.8v0.8h-0.8zM554.05 822.28h0.8v0.8h-0.8zM550.1 823.98h0.8v0.8h-0.8zM549.26 825.18h0.8v0.8h-0.8zM550.92 820.84h0.8v0.8h-0.8zM553.73 824h0.8v0.8h-0.8zM552.67 822.41h0.8v0.8h-0.8zM553.37 820.56h0.8v0.8h-0.8zM552.29 819.71h0.8v0.8h-0.8zM556.08 821.2h0.8v0.8h-0.8zM552.54 822.69h0.8v0.8h-0.8zM552.6 823.74h0.8v0.8h-0.8zM552.37 824.26h0.8v0.8h-0.8zM553.67 823.71h0.8v0.8h-0.8zM552.96 822.03h0.8v0.8h-0.8zM553.55 821.72h0.8v0.8h-0.8zM552.09 823.77h0.8v0.8h-0.8zM553.84 821.63h0.8v0.8h-0.8zM549.91 821.79h0.8v0.8h-0.8zM552.67 821.52h0.8v0.8h-0.8zM549.14 824.28h0.8v0.8h-0.8zM551.23 823.72h0.8v0.8h-0.8zM558.55 821.49h0.8v0.8h-0.8zM553.44 821.71h0.8v0.8h-0.8zM550.47 822.26h0.8v0.8h-0.8zM549.39 825.2h0.8v0.8h-0.8zM552.08 824.77h0.8v0.8h-0.8zM549.34 823.32h0.8v0.8h-0.8zM554.23 825.29h0.8v0.8h-0.8zM550 823.86h0.8v0.8h-0.8zM549.4 823.98h0.8v0.8h-0.8zM555.03 821.93h0.8v0.8h-0.8zM553.9 820.28h0.8v0.8h-0.8zM551.31 822.29h0.8v0.8h-0.8zM551.55 820.99h0.8v0.8h-0.8zM558.52 822.93h0.8v0.8h-0.8zM549.97 821.48h0.8v0.8h-0.8zM550.77 822.06h0.8v0.8h-0.8zM553.66 825.75h0.8v0.8h-0.8zM554.22 821.7h0.8v0.8h-0.8zM556.99 823.38h0.8v0.8h-0.8zM549.97 821.84h0.8v0.8h-0.8zM553.48 821.91h0.8v0.8h-0.8zM557.68 823.25h0.8v0.8h-0.8zM553.18 820.74h0.8v0.8h-0.8zM552.49 822.39h0.8v0.8h-0.8zM554.94 819.88h0.8v0.8h-0.8zM556.51 818.78h0.8v0.8h-0.8zM550.19 823.75h0.8v0.8h-0.8zM557.05 821.67h0.8v0.8h-0.8zM550.25 823.13h0.8v0.8h-0.8zM553.74 823.51h0.8v0.8h-0.8zM554.56 822.46h0.8v0.8h-0.8zM551.38 823.81h0.8v0.8h-0.8zM552.04 819.43h0.8v0.8h-0.8zM555.43 819.25h0.8v0.8h-0.8zM551.18 822.1h0.8v0.8h-0.8zM551.01 824.23h0.8v0.8h-0.8zM551.4 821.73h0.8v0.8h-0.8zM550.51 824.23h0.8v0.8h-0.8zM557.78 818.45h0.8v0.8h-0.8zM554.08 819.59h0.8v0.8h-0.8zM560.99 822.44h0.8v0.8h-0.8zM558.89 819.44h0.8v0.8h-0.8zM554.88 823.01h0.8v0.8h-0.8zM549.3 825.02h0.8v0.8h-0.8zM555.5 821.65h0.8v0.8h-0.8zM552.75 824.3h0.8v0.8h-0.8zM554.57 821.04h0.8v0.8h-0.8zM549.71 822.04h0.8v0.8h-0.8zM555.06 821.29h0.8v0.8h-0.8zM554.83 821.29h0.8v0.8h-0.8zM549.16 824.97h0.8v0.8h-0.8zM553.35 822.46h0.8v0.8h-0.8zM550.22 823.57h0.8v0.8h-0.8zM555.13 823.59h0.8v0.8h-0.8zM553.38 823.56h0.8v0.8h-0.8zM552.83 822.55h0.8v0.8h-0.8zM550.41 823.21h0.8v0.8h-0.8zM555.72 820.11h0.8v0.8h-0.8zM549.28 821.13h0.8v0.8h-0.8zM551.02 821.74h0.8v0.8h-0.8zM556.14 820.82h0.8v0.8h-0.8zM555.82 821.09h0.8v0.8h-0.8zM557.3 822.08h0.8v0.8h-0.8zM551.57 825.63h0.8v0.8h-0.8zM551.7 825.18h0.8v0.8h-0.8zM557.09 822.69h0.8v0.8h-0.8zM551.38 822.67h0.8v0.8h-0.8zM555.96 820.99h0.8v0.8h-0.8zM549.45 821.57h0.8v0.8h-0.8zM556.32 822.4h0.8v0.8h-0.8zM550.51 824.75h0.8v0.8h-0.8zM550.68 824.26h0.8v0.8h-0.8zM561.13 822.34h0.8v0.8h-0.8zM556.3 821.05h0.8v0.8h-0.8zM557.04 823.44h0.8v0.8h-0.8zM558.7 823.18h0.8v0.8h-0.8zM551.45 822.42h0.8v0.8h-0.8zM551.65 824.41h0.8v0.8h-0.8zM559.23 820.56h0.8v0.8h-0.8zM554.29 823.33h0.8v0.8h-0.8zM550.02 818.64h0.8v0.8h-0.8zM549.79 824.46h0.8v0.8h-0.8zM555.61 821.39h0.8v0.8h-0.8zM551.2 822.22h0.8v0.8h-0.8zM555.41 820.18h0.8v0.8h-0.8zM553.09 822.99h0.8v0.8h-0.8zM556.21 822.69h0.8v0.8h-0.8zM550.37 823.58h0.8v0.8h-0.8zM552.05 823.01h0.8v0.8h-0.8zM551.56 821.54h0.8v0.8h-0.8zM552.79 824.59h0.8v0.8h-0.8zM549.47 823.4h0.8v0.8h-0.8zM553.39 822.7h0.8v0.8h-0.8zM553.54 820.93h0.8v0.8h-0.8zM554.84 820.23h0.8v0.8h-0.8zM549.6 822.79h0.8v0.8h-0.8zM549.65 825.93h0.8v0.8h-0.8zM554.22 822.67h0.8v0.8h-0.8zM554.7 820.13h0.8v0.8h-0.8zM551.38 821.85h0.8v0.8h-0.8zM550.96 821.81h0.8v0.8h-0.8zM554.65 822.64h0.8v0.8h-0.8zM558.01 821.29h0.8v0.8h-0.8zM556.03 821.8h0.8v0.8h-0.8zM551.51 821.07h0.8v0.8h-0.8zM555.26 820.56h0.8v0.8h-0.8zM556.64 819.22h0.8v0.8h-0.8zM552.6 823.77h0.8v0.8h-0.8zM551.26 824.53h0.8v0.8h-0.8zM553.26 821h0.8v0.8h-0.8zM556.46 823.3h0.8v0.8h-0.8zM553.74 820.27h0.8v0.8h-0.8zM550.95 824.41h0.8v0.8h-0.8zM551.14 822.32h0.8v0.8h-0.8zM550.77 821.93h0.8v0.8h-0.8zM553.82 820.38h0.8v0.8h-0.8zM559.06 820.99h0.8v0.8h-0.8zM553.55 820.01h0.8v0.8h-0.8zM556.13 821.18h0.8v0.8h-0.8zM551.33 825.63h0.8v0.8h-0.8zM554.48 822.72h0.8v0.8h-0.8zM549.83 824.88h0.8v0.8h-0.8zM552.42 825.38h0.8v0.8h-0.8zM553.73 820.26h0.8v0.8h-0.8zM553.57 822.33h0.8v0.8h-0.8zM552.96 821.12h0.8v0.8h-0.8zM555.28 822.31h0.8v0.8h-0.8zM549.25 822.14h0.8v0.8h-0.8zM552.56 817.64h0.8v0.8h-0.8zM552.97 821.02h0.8v0.8h-0.8zM555.7 822.08h0.8v0.8h-0.8zM552.55 823.51h0.8v0.8h-0.8zM558.04 819.58h0.8v0.8h-0.8zM550.45 825.04h0.8v0.8h-0.8zM552.16 824.71h0.8v0.8h-0.8zM552.27 822.88h0.8v0.8h-0.8zM554.7 819.56h0.8v0.8h-0.8zM551.66 823.7h0.8v0.8h-0.8zM549.34 822.97h0.8v0.8h-0.8zM550.85 821.46h0.8v0.8h-0.8zM554.8 824.85h0.8v0.8h-0.8zM554.24 821.49h0.8v0.8h-0.8zM556.08 820.46h0.8v0.8h-0.8zM554.17 822.21h0.8v0.8h-0.8zM550.32 825.56h0.8v0.8h-0.8zM558.32 820.4h0.8v0.8h-0.8zM554.3 821.34h0.8v0.8h-0.8zM551.19 821.92h0.8v0.8h-0.8zM554.76 821.6h0.8v0.8h-0.8zM552.72 821.39h0.8v0.8h-0.8zM551.03 821.08h0.8v0.8h-0.8zM555.36 821.43h0.8v0.8h-0.8zM550.94 821.01h0.8v0.8h-0.8zM555.15 821.47h0.8v0.8h-0.8zM550.84 822.52h0.8v0.8h-0.8zM550 823.32h0.8v0.8h-0.8zM554.03 820.28h0.8v0.8h-0.8zM550.73 822.35h0.8v0.8h-0.8zM550.2 819.84h0.8v0.8h-0.8zM552.35 823.92h0.8v0.8h-0.8zM556.28 821.66h0.8v0.8h-0.8zM549.65 824.67h0.8v0.8h-0.8zM557.28 821.05h0.8v0.8h-0.8zM549.6 824.19h0.8v0.8h-0.8zM556.5 822.53h0.8v0.8h-0.8zM553.34 822.25h0.8v0.8h-0.8zM551.92 824.5h0.8v0.8h-0.8zM553.08 824.08h0.8v0.8h-0.8zM553.45 821.93h0.8v0.8h-0.8zM555.34 819.93h0.8v0.8h-0.8zM551.85 820.83h0.8v0.8h-0.8zM549.43 825.73h0.8v0.8h-0.8zM556.74 820.49h0.8v0.8h-0.8zM552.75 824.1h0.8v0.8h-0.8zM556.17 820.21h0.8v0.8h-0.8zM549.88 823.52h0.8v0.8h-0.8zM549.59 822.13h0.8v0.8h-0.8zM556.74 818.78h0.8v0.8h-0.8zM553.55 824.89h0.8v0.8h-0.8zM555.83 820.92h0.8v0.8h-0.8zM552.04 822.02h0.8v0.8h-0.8zM549.54 823.72h0.8v0.8h-0.8zM556.26 820.79h0.8v0.8h-0.8zM556.34 824.21h0.8v0.8h-0.8zM558.02 818.89h0.8v0.8h-0.8zM552.47 823.86h0.8v0.8h-0.8zM551.96 821.09h0.8v0.8h-0.8zM552.14 821.87h0.8v0.8h-0.8zM553.84 823.58h0.8v0.8h-0.8zM550.3 821.1h0.8v0.8h-0.8zM554.71 820.24h0.8v0.8h-0.8zM552.34 824.61h0.8v0.8h-0.8zM556.19 819.53h0.8v0.8h-0.8zM551.67 824.49h0.8v0.8h-0.8zM556.43 823.39h0.8v0.8h-0.8zM550.26 823.72h0.8v0.8h-0.8zM551.92 823.36h0.8v0.8h-0.8zM552.24 822.06h0.8v0.8h-0.8zM552.8 820.17h0.8v0.8h-0.8zM552.01 824.46h0.8v0.8h-0.8zM554.33 823.29h0.8v0.8h-0.8zM554.49 820.43h0.8v0.8h-0.8zM551.46 824.7h0.8v0.8h-0.8zM551.95 824.74h0.8v0.8h-0.8zM552.51 821.95h0.8v0.8h-0.8zM554.49 820.78h0.8v0.8h-0.8zM555.54 822.09h0.8v0.8h-0.8zM549.59 824.59h0.8v0.8h-0.8zM549.44 822.28h0.8v0.8h-0.8zM551.16 825.18h0.8v0.8h-0.8zM549.71 822.87h0.8v0.8h-0.8zM554.6 823.15h0.8v0.8h-0.8zM553.24 820.73h0.8v0.8h-0.8zM557.87 820.29h0.8v0.8h-0.8zM550.72 822.27h0.8v0.8h-0.8zM556.98 823.98h0.8v0.8h-0.8zM554.6 820.72h0.8v0.8h-0.8zM551.17 823.04h0.8v0.8h-0.8zM554.49 819.99h0.8v0.8h-0.8z" fill="#1f2f66" fill-opacity="0.6"/>
<path d="M554.65 824.39h0.8v0.8h-0.8zM555.81 822.8h0.8v0.8h-0.8zM553.05 822.53h0.8v0.8h-0.8zM554.34 822.32h0.8v0.8h-0.8zM554.87 823.32h0.8v0.8h-0.8zM557.93 822.54h0.8v0.8h-0.8zM553.6 822.52h0.8v0.8h-0.8zM551.22 822.89h0.8v0.8h-0.8zM554.19 823.27h0.8v0.8h-0.8zM551.31 822.74h0.8v0.8h-0.8zM558.68 824.32h0.8v0.8h-0.8zM553.27 822.84h0.8v0.8h-0.8zM553.4 821.81h0.8v0.8h-0.8zM552.08 822.81h0.8v0.8h-0.8zM555.21 824.3h0.8v0.8h-0.8zM555.72 821.44h0.8v0.8h-0.8zM554.69 822.58h0.8v0.8h-0.8zM550.15 822.47h0.8v0.8h-0.8zM554.35 822.21h0.8v0.8h-0.8zM554.94 822.16h0.8v0.8h-0.8zM554.05 823.48h0.8v0.8h-0.8zM555.05 823.93h0.8v0.8h-0.8zM555.31 821.77h0.8v0.8h-0.8zM556.86 823.34h0.8v0.8h-0.8zM556.84 823.38h0.8v0.8h-0.8zM554.43 823.66h0.8v0.8h-0.8zM556.81 822.42h0.8v0.8h-0.8zM553.18 823.05h0.8v0.8h-0.8zM552.66 822.7h0.8v0.8h-0.8zM553.32 822.67h0.8v0.8h-0.8zM554.39 821.49h0.8v0.8h-0.8zM554.23 823.05h0.8v0.8h-0.8zM555.8 822.98h0.8v0.8h-0.8zM551.05 821.23h0.8v0.8h-0.8zM553.22 822.48h0.8v0.8h-0.8zM552.41 821.92h0.8v0.8h-0.8zM550.58 822.72h0.8v0.8h-0.8zM557.12 823.62h0.8v0.8h-0.8zM554.75 822.91h0.8v0.8h-0.8zM551.56 821.96h0.8v0.8h-0.8z" fill="#3a8aa0" fill-opacity="0.6"/>
<text x="562.9" y="774.5" font-size="7.6" textLength="43.3" lengthAdjust="spacingAndGlyphs">pearson=0.96</text>
<text x="544.5" y="843.3" font-size="5.2" textLength="73.6" lengthAdjust="spacingAndGlyphs" fill="#333">Log(Read count per million mapped reads)</text>
<text x="562.9" y="854.2" font-size="7.6" textLength="38.6" lengthAdjust="spacingAndGlyphs">TET2_TET2</text>
<text x="528.1" y="830.6" font-size="7.6" textLength="66.6" lengthAdjust="spacingAndGlyphs" transform="rotate(-90 528.1 830.6)">C1QTNF6_C1QTNF6</text>
<text x="538.1" y="835" font-size="5" textLength="76.2" lengthAdjust="spacingAndGlyphs" fill="#333" transform="rotate(-90 538.1 835)">Log(Read count per million mapped reads)</text>
</svg>
</body></html>
